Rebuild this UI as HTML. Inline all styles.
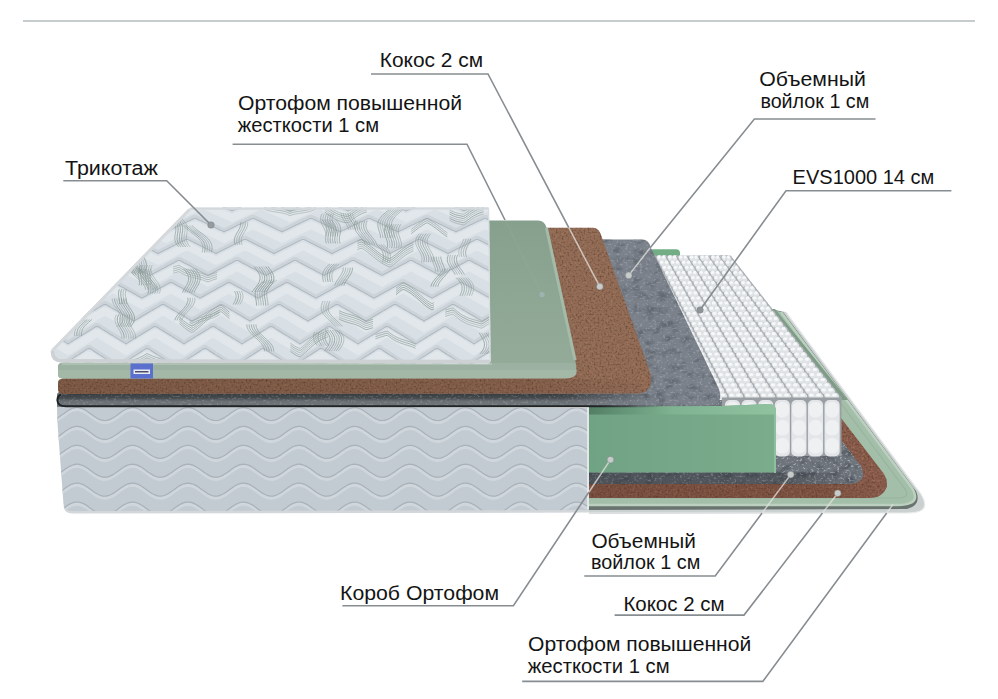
<!DOCTYPE html>
<html><head><meta charset="utf-8"><title>Mattress layers</title>
<style>html,body{margin:0;padding:0;background:#fff;overflow:hidden;} svg{display:block;}</style>
</head><body>
<svg width="998" height="699" viewBox="0 0 998 699"><defs>
<linearGradient id="feltstrip" gradientUnits="userSpaceOnUse" x1="560" y1="0" x2="660" y2="0">
  <stop offset="0" stop-color="#50565a"/><stop offset="1" stop-color="#50565a" stop-opacity="0"/>
</linearGradient>
<linearGradient id="feltstripv" gradientUnits="userSpaceOnUse" x1="0" y1="393.5" x2="0" y2="407">
  <stop offset="0" stop-color="#2e3336" stop-opacity="0.8"/><stop offset="0.35" stop-color="#3a3f42" stop-opacity="0.5"/><stop offset="0.6" stop-color="#9aa0a4" stop-opacity="0.35"/><stop offset="0.9" stop-color="#9aa0a4" stop-opacity="0.4"/>
</linearGradient>
<linearGradient id="cocofront" gradientUnits="userSpaceOnUse" x1="0" y1="0" x2="660" y2="0">
  <stop offset="0" stop-color="#2a1408" stop-opacity="0.22"/><stop offset="0.8" stop-color="#2a1408" stop-opacity="0.15"/><stop offset="1" stop-color="#2a1408" stop-opacity="0"/>
</linearGradient>
<linearGradient id="frontshade" gradientUnits="userSpaceOnUse" x1="589" y1="0" x2="860" y2="0">
  <stop offset="0" stop-color="#22282b" stop-opacity="0.45"/><stop offset="0.75" stop-color="#22282b" stop-opacity="0.35"/><stop offset="1" stop-color="#22282b" stop-opacity="0"/>
</linearGradient>
<linearGradient id="frontshade2" gradientUnits="userSpaceOnUse" x1="589" y1="0" x2="885" y2="0">
  <stop offset="0" stop-color="#2a1408" stop-opacity="0.18"/><stop offset="0.8" stop-color="#2a1408" stop-opacity="0.12"/><stop offset="1" stop-color="#2a1408" stop-opacity="0"/>
</linearGradient>
<linearGradient id="fsgrad" gradientUnits="userSpaceOnUse" x1="560" y1="0" x2="665" y2="0">
  <stop offset="0" stop-color="#fff"/><stop offset="1" stop-color="#000"/>
</linearGradient>
<mask id="fsmask" maskUnits="userSpaceOnUse" x="0" y="380" width="998" height="40"><rect x="0" y="380" width="998" height="40" fill="url(#fsgrad)"/></mask>
<linearGradient id="feltline" gradientUnits="userSpaceOnUse" x1="600" y1="0" x2="660" y2="0">
  <stop offset="0" stop-color="#1f2425"/><stop offset="1" stop-color="#1f2425" stop-opacity="0"/>
</linearGradient>
<linearGradient id="grsheet" gradientUnits="userSpaceOnUse" x1="0" y1="220" x2="0" y2="370">
  <stop offset="0" stop-color="#87a08e"/><stop offset="1" stop-color="#94ab99"/>
</linearGradient>
<linearGradient id="gfoam" gradientUnits="userSpaceOnUse" x1="589" y1="0" x2="776" y2="0">
  <stop offset="0" stop-color="#70a284"/><stop offset="1" stop-color="#7bad8c"/>
</linearGradient>
<linearGradient id="gfoamtop" gradientUnits="userSpaceOnUse" x1="589" y1="0" x2="776" y2="0">
  <stop offset="0" stop-color="#537f65"/><stop offset="0.45" stop-color="#7fb391"/><stop offset="1" stop-color="#90c29f"/>
</linearGradient>
<filter id="nz_coco" x="0" y="0" width="100%" height="100%" color-interpolation-filters="sRGB">
  <feTurbulence type="fractalNoise" baseFrequency="0.5" numOctaves="2" seed="3" result="n"/>
  <feColorMatrix in="n" type="matrix" values="0 0 0 0 0.34  0 0 0 0 0.22  0 0 0 0 0.15  0 0 0 -1.8 0.92" result="c"/>
  <feComposite in="c" in2="SourceAlpha" operator="in"/>
</filter>
<filter id="nz_cocol" x="0" y="0" width="100%" height="100%" color-interpolation-filters="sRGB">
  <feTurbulence type="fractalNoise" baseFrequency="0.45" numOctaves="2" seed="9" result="n"/>
  <feColorMatrix in="n" type="matrix" values="0 0 0 0 0.72  0 0 0 0 0.52  0 0 0 0 0.4  0 0 0 2.2 -1.05" result="c"/>
  <feComposite in="c" in2="SourceAlpha" operator="in"/>
</filter>
<filter id="nz_felt" x="0" y="0" width="100%" height="100%" color-interpolation-filters="sRGB">
  <feTurbulence type="fractalNoise" baseFrequency="0.09 0.14" numOctaves="3" seed="7" result="n"/>
  <feColorMatrix in="n" type="matrix" values="0 0 0 0 0.3  0 0 0 0 0.32  0 0 0 0 0.36  0 0 0 -2.6 1.35" result="c"/>
  <feComposite in="c" in2="SourceAlpha" operator="in"/>
</filter>
<filter id="nz_felt2" x="0" y="0" width="100%" height="100%" color-interpolation-filters="sRGB">
  <feTurbulence type="fractalNoise" baseFrequency="0.35 0.5" numOctaves="2" seed="11" result="n"/>
  <feColorMatrix in="n" type="matrix" values="0 0 0 0 0.8  0 0 0 0 0.82  0 0 0 0 0.86  0 0 0 4 -2.15" result="c"/>
  <feComposite in="c" in2="SourceAlpha" operator="in"/>
</filter>
<clipPath id="clipbox"><path d="M57,407 L589,408 L589,512 L72,513 Q64,513 63.5,504 L58,430 Q57,420 57,407 Z"/></clipPath><clipPath id="cliptop"><path d="M188,209.5 Q189.5,207.6 193,207.6 L489,207.4 L490.5,361 Q490.5,363.5 487,363.5 L62,362.5 Q49,361.5 51,350 Z"/></clipPath></defs><line x1="23" y1="21" x2="975" y2="21" stroke="#c6cbcd" stroke-width="2"/>
<path d="M589,514 L589,400 L722,400 L770,309 L786,312 L921,494 Q928,506 922,510 Q918,513 906,513 Z" fill="#cbd0d1"/>
<path d="M786,312 L921,494 Q928,506 922,510 Q918,513 906,513 L589,513" fill="none" stroke="#e9ecec" stroke-width="1.2"/>
<path d="M589,510 L589,400 L722,400 L770,309 L783,312 L916,491 Q922,505 907,509 L589,510 Z" fill="#69736f"/>
<path d="M589,505 L589,400 L722,400 L770,309 L781,312 L912,488 Q919,500 910,503 Q906,505 898,505 Z" fill="#a3bfa9"/>
<path d="M781,312 L912,488 Q919,500 910,503 Q906,505 898,505 L589,505" fill="none" stroke="#bcd0c0" stroke-width="2.5"/>
<path d="M777,318 L905,489 Q910,497 900,498 L589,498" fill="none" stroke="#94ae9a" stroke-width="1.2" opacity="0.7"/>
<path d="M768,309 L842,400 L848,400 L775,309 Z" fill="#7d9b85"/>
<path d="M589,497.9 L589,400 L822,400 L839.7,416.3 L884,474 Q891,486 882,494 Q878,497.9 868,497.9 Z" fill="#86594a"/>
<path d="M589,497.9 L589,400 L822,400 L839.7,416.3 L884,474 Q891,486 882,494 Q878,497.9 868,497.9 Z" fill="#000" filter="url(#nz_coco)"/>
<path d="M589,497.9 L589,400 L822,400 L839.7,416.3 L884,474 Q891,486 882,494 Q878,497.9 868,497.9 Z" fill="#000" filter="url(#nz_cocol)" opacity="0.6"/>
<rect x="589" y="484" width="290" height="14" fill="url(#frontshade2)"/>
<path d="M589,484 L589,400 L830,400 L838.9,436.9 L861,466 Q866,476 860,481 Q856,484 848,484 Z" fill="#6e747b"/>
<path d="M589,484 L589,400 L830,400 L838.9,436.9 L861,466 Q866,476 860,481 Q856,484 848,484 Z" fill="#000" filter="url(#nz_felt)" opacity="0.8"/>
<path d="M589,484 L589,400 L830,400 L838.9,436.9 L861,466 Q866,476 860,481 Q856,484 848,484 Z" fill="#000" filter="url(#nz_felt2)" opacity="0.6"/>
<rect x="589" y="472.5" width="270" height="11.5" fill="url(#frontshade)"/>
<path d="M651,249.2 L676,249.2 Q680,249.2 680,253 L680,256 L651,256 Z" fill="#73ad86"/>
<path d="M640,256 L730,255 L841.5,399 L715,398 Z" fill="#b3b8bd"/>
<ellipse cx="649.1" cy="259.0" rx="2.7" ry="3.2" fill="#9ba1a6" opacity="0.55"/>
<ellipse cx="648.5" cy="258.1" rx="2.7" ry="3.2" fill="#e1e4e7"/>
<ellipse cx="648.1" cy="257.1" rx="1.6" ry="1.6" fill="#f7f8f9"/>
<ellipse cx="653.9" cy="259.0" rx="2.7" ry="3.2" fill="#9ba1a6" opacity="0.55"/>
<ellipse cx="653.3" cy="258.1" rx="2.7" ry="3.2" fill="#e1e4e7"/>
<ellipse cx="652.9" cy="257.1" rx="1.6" ry="1.6" fill="#f7f8f9"/>
<ellipse cx="659.9" cy="259.0" rx="2.7" ry="3.2" fill="#9ba1a6" opacity="0.55"/>
<ellipse cx="659.3" cy="258.1" rx="2.7" ry="3.2" fill="#e1e4e7"/>
<ellipse cx="658.9" cy="257.1" rx="1.6" ry="1.6" fill="#f7f8f9"/>
<ellipse cx="664.7" cy="259.0" rx="2.7" ry="3.2" fill="#9ba1a6" opacity="0.55"/>
<ellipse cx="664.1" cy="258.1" rx="2.7" ry="3.2" fill="#e1e4e7"/>
<ellipse cx="663.7" cy="257.1" rx="1.6" ry="1.6" fill="#f7f8f9"/>
<ellipse cx="670.8" cy="259.0" rx="2.7" ry="3.2" fill="#9ba1a6" opacity="0.55"/>
<ellipse cx="670.2" cy="258.1" rx="2.7" ry="3.2" fill="#e1e4e7"/>
<ellipse cx="669.8" cy="257.1" rx="1.6" ry="1.6" fill="#f7f8f9"/>
<ellipse cx="675.5" cy="259.0" rx="2.7" ry="3.2" fill="#9ba1a6" opacity="0.55"/>
<ellipse cx="674.9" cy="258.1" rx="2.7" ry="3.2" fill="#e1e4e7"/>
<ellipse cx="674.5" cy="257.1" rx="1.6" ry="1.6" fill="#f7f8f9"/>
<ellipse cx="681.6" cy="259.0" rx="2.7" ry="3.2" fill="#9ba1a6" opacity="0.55"/>
<ellipse cx="681.0" cy="258.1" rx="2.7" ry="3.2" fill="#e1e4e7"/>
<ellipse cx="680.6" cy="257.1" rx="1.6" ry="1.6" fill="#f7f8f9"/>
<ellipse cx="686.3" cy="259.0" rx="2.7" ry="3.2" fill="#9ba1a6" opacity="0.55"/>
<ellipse cx="685.7" cy="258.1" rx="2.7" ry="3.2" fill="#e1e4e7"/>
<ellipse cx="685.3" cy="257.1" rx="1.6" ry="1.6" fill="#f7f8f9"/>
<ellipse cx="692.4" cy="259.0" rx="2.7" ry="3.2" fill="#9ba1a6" opacity="0.55"/>
<ellipse cx="691.8" cy="258.1" rx="2.7" ry="3.2" fill="#e1e4e7"/>
<ellipse cx="691.4" cy="257.1" rx="1.6" ry="1.6" fill="#f7f8f9"/>
<ellipse cx="697.1" cy="259.0" rx="2.7" ry="3.2" fill="#9ba1a6" opacity="0.55"/>
<ellipse cx="696.5" cy="258.1" rx="2.7" ry="3.2" fill="#e1e4e7"/>
<ellipse cx="696.1" cy="257.1" rx="1.6" ry="1.6" fill="#f7f8f9"/>
<ellipse cx="703.2" cy="259.0" rx="2.7" ry="3.2" fill="#9ba1a6" opacity="0.55"/>
<ellipse cx="702.6" cy="258.1" rx="2.7" ry="3.2" fill="#e1e4e7"/>
<ellipse cx="702.2" cy="257.1" rx="1.6" ry="1.6" fill="#f7f8f9"/>
<ellipse cx="707.9" cy="259.0" rx="2.7" ry="3.2" fill="#9ba1a6" opacity="0.55"/>
<ellipse cx="707.3" cy="258.1" rx="2.7" ry="3.2" fill="#e1e4e7"/>
<ellipse cx="706.9" cy="257.1" rx="1.6" ry="1.6" fill="#f7f8f9"/>
<ellipse cx="714.0" cy="259.0" rx="2.7" ry="3.2" fill="#9ba1a6" opacity="0.55"/>
<ellipse cx="713.4" cy="258.1" rx="2.7" ry="3.2" fill="#e1e4e7"/>
<ellipse cx="713.0" cy="257.1" rx="1.6" ry="1.6" fill="#f7f8f9"/>
<ellipse cx="718.8" cy="259.0" rx="2.7" ry="3.2" fill="#9ba1a6" opacity="0.55"/>
<ellipse cx="718.2" cy="258.1" rx="2.7" ry="3.2" fill="#e1e4e7"/>
<ellipse cx="717.7" cy="257.1" rx="1.6" ry="1.6" fill="#f7f8f9"/>
<ellipse cx="724.8" cy="259.0" rx="2.7" ry="3.2" fill="#9ba1a6" opacity="0.55"/>
<ellipse cx="724.2" cy="258.1" rx="2.7" ry="3.2" fill="#e1e4e7"/>
<ellipse cx="723.8" cy="257.1" rx="1.6" ry="1.6" fill="#f7f8f9"/>
<ellipse cx="729.6" cy="259.0" rx="2.7" ry="3.2" fill="#9ba1a6" opacity="0.55"/>
<ellipse cx="729.0" cy="258.1" rx="2.7" ry="3.2" fill="#e1e4e7"/>
<ellipse cx="728.6" cy="257.1" rx="1.6" ry="1.6" fill="#f7f8f9"/>
<ellipse cx="651.6" cy="264.1" rx="2.8" ry="3.2" fill="#9ba1a6" opacity="0.55"/>
<ellipse cx="651.0" cy="263.2" rx="2.8" ry="3.2" fill="#e1e4e7"/>
<ellipse cx="650.6" cy="262.2" rx="1.7" ry="1.6" fill="#f7f8f9"/>
<ellipse cx="656.5" cy="264.1" rx="2.8" ry="3.2" fill="#9ba1a6" opacity="0.55"/>
<ellipse cx="655.9" cy="263.2" rx="2.8" ry="3.2" fill="#e1e4e7"/>
<ellipse cx="655.5" cy="262.2" rx="1.7" ry="1.6" fill="#f7f8f9"/>
<ellipse cx="662.6" cy="264.1" rx="2.8" ry="3.2" fill="#9ba1a6" opacity="0.55"/>
<ellipse cx="662.0" cy="263.2" rx="2.8" ry="3.2" fill="#e1e4e7"/>
<ellipse cx="661.6" cy="262.2" rx="1.7" ry="1.6" fill="#f7f8f9"/>
<ellipse cx="667.5" cy="264.1" rx="2.8" ry="3.2" fill="#9ba1a6" opacity="0.55"/>
<ellipse cx="666.9" cy="263.2" rx="2.8" ry="3.2" fill="#e1e4e7"/>
<ellipse cx="666.5" cy="262.2" rx="1.7" ry="1.6" fill="#f7f8f9"/>
<ellipse cx="673.6" cy="264.1" rx="2.8" ry="3.2" fill="#9ba1a6" opacity="0.55"/>
<ellipse cx="673.0" cy="263.2" rx="2.8" ry="3.2" fill="#e1e4e7"/>
<ellipse cx="672.6" cy="262.2" rx="1.7" ry="1.6" fill="#f7f8f9"/>
<ellipse cx="678.5" cy="264.1" rx="2.8" ry="3.2" fill="#9ba1a6" opacity="0.55"/>
<ellipse cx="677.9" cy="263.2" rx="2.8" ry="3.2" fill="#e1e4e7"/>
<ellipse cx="677.5" cy="262.2" rx="1.7" ry="1.6" fill="#f7f8f9"/>
<ellipse cx="684.6" cy="264.1" rx="2.8" ry="3.2" fill="#9ba1a6" opacity="0.55"/>
<ellipse cx="684.0" cy="263.2" rx="2.8" ry="3.2" fill="#e1e4e7"/>
<ellipse cx="683.6" cy="262.2" rx="1.7" ry="1.6" fill="#f7f8f9"/>
<ellipse cx="689.5" cy="264.1" rx="2.8" ry="3.2" fill="#9ba1a6" opacity="0.55"/>
<ellipse cx="688.9" cy="263.2" rx="2.8" ry="3.2" fill="#e1e4e7"/>
<ellipse cx="688.5" cy="262.2" rx="1.7" ry="1.6" fill="#f7f8f9"/>
<ellipse cx="695.6" cy="264.1" rx="2.8" ry="3.2" fill="#9ba1a6" opacity="0.55"/>
<ellipse cx="695.0" cy="263.2" rx="2.8" ry="3.2" fill="#e1e4e7"/>
<ellipse cx="694.6" cy="262.2" rx="1.7" ry="1.6" fill="#f7f8f9"/>
<ellipse cx="700.5" cy="264.1" rx="2.8" ry="3.2" fill="#9ba1a6" opacity="0.55"/>
<ellipse cx="699.9" cy="263.2" rx="2.8" ry="3.2" fill="#e1e4e7"/>
<ellipse cx="699.5" cy="262.2" rx="1.7" ry="1.6" fill="#f7f8f9"/>
<ellipse cx="706.6" cy="264.1" rx="2.8" ry="3.2" fill="#9ba1a6" opacity="0.55"/>
<ellipse cx="706.0" cy="263.2" rx="2.8" ry="3.2" fill="#e1e4e7"/>
<ellipse cx="705.6" cy="262.2" rx="1.7" ry="1.6" fill="#f7f8f9"/>
<ellipse cx="711.5" cy="264.1" rx="2.8" ry="3.2" fill="#9ba1a6" opacity="0.55"/>
<ellipse cx="710.9" cy="263.2" rx="2.8" ry="3.2" fill="#e1e4e7"/>
<ellipse cx="710.5" cy="262.2" rx="1.7" ry="1.6" fill="#f7f8f9"/>
<ellipse cx="717.7" cy="264.1" rx="2.8" ry="3.2" fill="#9ba1a6" opacity="0.55"/>
<ellipse cx="717.1" cy="263.2" rx="2.8" ry="3.2" fill="#e1e4e7"/>
<ellipse cx="716.6" cy="262.2" rx="1.7" ry="1.6" fill="#f7f8f9"/>
<ellipse cx="722.5" cy="264.1" rx="2.8" ry="3.2" fill="#9ba1a6" opacity="0.55"/>
<ellipse cx="721.9" cy="263.2" rx="2.8" ry="3.2" fill="#e1e4e7"/>
<ellipse cx="721.5" cy="262.2" rx="1.7" ry="1.6" fill="#f7f8f9"/>
<ellipse cx="728.7" cy="264.1" rx="2.8" ry="3.2" fill="#9ba1a6" opacity="0.55"/>
<ellipse cx="728.1" cy="263.2" rx="2.8" ry="3.2" fill="#e1e4e7"/>
<ellipse cx="727.6" cy="262.2" rx="1.7" ry="1.6" fill="#f7f8f9"/>
<ellipse cx="733.5" cy="264.1" rx="2.8" ry="3.2" fill="#9ba1a6" opacity="0.55"/>
<ellipse cx="732.9" cy="263.2" rx="2.8" ry="3.2" fill="#e1e4e7"/>
<ellipse cx="732.5" cy="262.2" rx="1.7" ry="1.6" fill="#f7f8f9"/>
<ellipse cx="654.1" cy="269.2" rx="2.8" ry="3.2" fill="#9ba1a6" opacity="0.55"/>
<ellipse cx="653.5" cy="268.3" rx="2.8" ry="3.2" fill="#e1e4e7"/>
<ellipse cx="653.1" cy="267.3" rx="1.7" ry="1.6" fill="#f7f8f9"/>
<ellipse cx="659.1" cy="269.2" rx="2.8" ry="3.2" fill="#9ba1a6" opacity="0.55"/>
<ellipse cx="658.5" cy="268.3" rx="2.8" ry="3.2" fill="#e1e4e7"/>
<ellipse cx="658.1" cy="267.3" rx="1.7" ry="1.6" fill="#f7f8f9"/>
<ellipse cx="665.3" cy="269.2" rx="2.8" ry="3.2" fill="#9ba1a6" opacity="0.55"/>
<ellipse cx="664.7" cy="268.3" rx="2.8" ry="3.2" fill="#e1e4e7"/>
<ellipse cx="664.3" cy="267.3" rx="1.7" ry="1.6" fill="#f7f8f9"/>
<ellipse cx="670.3" cy="269.2" rx="2.8" ry="3.2" fill="#9ba1a6" opacity="0.55"/>
<ellipse cx="669.7" cy="268.3" rx="2.8" ry="3.2" fill="#e1e4e7"/>
<ellipse cx="669.2" cy="267.3" rx="1.7" ry="1.6" fill="#f7f8f9"/>
<ellipse cx="676.5" cy="269.2" rx="2.8" ry="3.2" fill="#9ba1a6" opacity="0.55"/>
<ellipse cx="675.9" cy="268.3" rx="2.8" ry="3.2" fill="#e1e4e7"/>
<ellipse cx="675.5" cy="267.3" rx="1.7" ry="1.6" fill="#f7f8f9"/>
<ellipse cx="681.5" cy="269.2" rx="2.8" ry="3.2" fill="#9ba1a6" opacity="0.55"/>
<ellipse cx="680.9" cy="268.3" rx="2.8" ry="3.2" fill="#e1e4e7"/>
<ellipse cx="680.4" cy="267.3" rx="1.7" ry="1.6" fill="#f7f8f9"/>
<ellipse cx="687.7" cy="269.2" rx="2.8" ry="3.2" fill="#9ba1a6" opacity="0.55"/>
<ellipse cx="687.1" cy="268.3" rx="2.8" ry="3.2" fill="#e1e4e7"/>
<ellipse cx="686.7" cy="267.3" rx="1.7" ry="1.6" fill="#f7f8f9"/>
<ellipse cx="692.7" cy="269.2" rx="2.8" ry="3.2" fill="#9ba1a6" opacity="0.55"/>
<ellipse cx="692.1" cy="268.3" rx="2.8" ry="3.2" fill="#e1e4e7"/>
<ellipse cx="691.6" cy="267.3" rx="1.7" ry="1.6" fill="#f7f8f9"/>
<ellipse cx="698.9" cy="269.2" rx="2.8" ry="3.2" fill="#9ba1a6" opacity="0.55"/>
<ellipse cx="698.3" cy="268.3" rx="2.8" ry="3.2" fill="#e1e4e7"/>
<ellipse cx="697.9" cy="267.3" rx="1.7" ry="1.6" fill="#f7f8f9"/>
<ellipse cx="703.8" cy="269.2" rx="2.8" ry="3.2" fill="#9ba1a6" opacity="0.55"/>
<ellipse cx="703.2" cy="268.3" rx="2.8" ry="3.2" fill="#e1e4e7"/>
<ellipse cx="702.8" cy="267.3" rx="1.7" ry="1.6" fill="#f7f8f9"/>
<ellipse cx="710.1" cy="269.2" rx="2.8" ry="3.2" fill="#9ba1a6" opacity="0.55"/>
<ellipse cx="709.5" cy="268.3" rx="2.8" ry="3.2" fill="#e1e4e7"/>
<ellipse cx="709.1" cy="267.3" rx="1.7" ry="1.6" fill="#f7f8f9"/>
<ellipse cx="715.0" cy="269.2" rx="2.8" ry="3.2" fill="#9ba1a6" opacity="0.55"/>
<ellipse cx="714.4" cy="268.3" rx="2.8" ry="3.2" fill="#e1e4e7"/>
<ellipse cx="714.0" cy="267.3" rx="1.7" ry="1.6" fill="#f7f8f9"/>
<ellipse cx="721.3" cy="269.2" rx="2.8" ry="3.2" fill="#9ba1a6" opacity="0.55"/>
<ellipse cx="720.7" cy="268.3" rx="2.8" ry="3.2" fill="#e1e4e7"/>
<ellipse cx="720.3" cy="267.3" rx="1.7" ry="1.6" fill="#f7f8f9"/>
<ellipse cx="726.2" cy="269.2" rx="2.8" ry="3.2" fill="#9ba1a6" opacity="0.55"/>
<ellipse cx="725.6" cy="268.3" rx="2.8" ry="3.2" fill="#e1e4e7"/>
<ellipse cx="725.2" cy="267.3" rx="1.7" ry="1.6" fill="#f7f8f9"/>
<ellipse cx="732.5" cy="269.2" rx="2.8" ry="3.2" fill="#9ba1a6" opacity="0.55"/>
<ellipse cx="731.9" cy="268.3" rx="2.8" ry="3.2" fill="#e1e4e7"/>
<ellipse cx="731.5" cy="267.3" rx="1.7" ry="1.6" fill="#f7f8f9"/>
<ellipse cx="737.4" cy="269.2" rx="2.8" ry="3.2" fill="#9ba1a6" opacity="0.55"/>
<ellipse cx="736.8" cy="268.3" rx="2.8" ry="3.2" fill="#e1e4e7"/>
<ellipse cx="736.4" cy="267.3" rx="1.7" ry="1.6" fill="#f7f8f9"/>
<ellipse cx="656.7" cy="274.3" rx="2.8" ry="3.2" fill="#9ba1a6" opacity="0.55"/>
<ellipse cx="656.1" cy="273.4" rx="2.8" ry="3.2" fill="#e1e4e7"/>
<ellipse cx="655.6" cy="272.4" rx="1.7" ry="1.6" fill="#f7f8f9"/>
<ellipse cx="661.7" cy="274.3" rx="2.8" ry="3.2" fill="#9ba1a6" opacity="0.55"/>
<ellipse cx="661.1" cy="273.4" rx="2.8" ry="3.2" fill="#e1e4e7"/>
<ellipse cx="660.6" cy="272.4" rx="1.7" ry="1.6" fill="#f7f8f9"/>
<ellipse cx="668.0" cy="274.3" rx="2.8" ry="3.2" fill="#9ba1a6" opacity="0.55"/>
<ellipse cx="667.4" cy="273.4" rx="2.8" ry="3.2" fill="#e1e4e7"/>
<ellipse cx="667.0" cy="272.4" rx="1.7" ry="1.6" fill="#f7f8f9"/>
<ellipse cx="673.0" cy="274.3" rx="2.8" ry="3.2" fill="#9ba1a6" opacity="0.55"/>
<ellipse cx="672.4" cy="273.4" rx="2.8" ry="3.2" fill="#e1e4e7"/>
<ellipse cx="672.0" cy="272.4" rx="1.7" ry="1.6" fill="#f7f8f9"/>
<ellipse cx="679.4" cy="274.3" rx="2.8" ry="3.2" fill="#9ba1a6" opacity="0.55"/>
<ellipse cx="678.8" cy="273.4" rx="2.8" ry="3.2" fill="#e1e4e7"/>
<ellipse cx="678.4" cy="272.4" rx="1.7" ry="1.6" fill="#f7f8f9"/>
<ellipse cx="684.4" cy="274.3" rx="2.8" ry="3.2" fill="#9ba1a6" opacity="0.55"/>
<ellipse cx="683.8" cy="273.4" rx="2.8" ry="3.2" fill="#e1e4e7"/>
<ellipse cx="683.4" cy="272.4" rx="1.7" ry="1.6" fill="#f7f8f9"/>
<ellipse cx="690.8" cy="274.3" rx="2.8" ry="3.2" fill="#9ba1a6" opacity="0.55"/>
<ellipse cx="690.2" cy="273.4" rx="2.8" ry="3.2" fill="#e1e4e7"/>
<ellipse cx="689.8" cy="272.4" rx="1.7" ry="1.6" fill="#f7f8f9"/>
<ellipse cx="695.8" cy="274.3" rx="2.8" ry="3.2" fill="#9ba1a6" opacity="0.55"/>
<ellipse cx="695.2" cy="273.4" rx="2.8" ry="3.2" fill="#e1e4e7"/>
<ellipse cx="694.8" cy="272.4" rx="1.7" ry="1.6" fill="#f7f8f9"/>
<ellipse cx="702.2" cy="274.3" rx="2.8" ry="3.2" fill="#9ba1a6" opacity="0.55"/>
<ellipse cx="701.6" cy="273.4" rx="2.8" ry="3.2" fill="#e1e4e7"/>
<ellipse cx="701.2" cy="272.4" rx="1.7" ry="1.6" fill="#f7f8f9"/>
<ellipse cx="707.2" cy="274.3" rx="2.8" ry="3.2" fill="#9ba1a6" opacity="0.55"/>
<ellipse cx="706.6" cy="273.4" rx="2.8" ry="3.2" fill="#e1e4e7"/>
<ellipse cx="706.2" cy="272.4" rx="1.7" ry="1.6" fill="#f7f8f9"/>
<ellipse cx="713.6" cy="274.3" rx="2.8" ry="3.2" fill="#9ba1a6" opacity="0.55"/>
<ellipse cx="713.0" cy="273.4" rx="2.8" ry="3.2" fill="#e1e4e7"/>
<ellipse cx="712.5" cy="272.4" rx="1.7" ry="1.6" fill="#f7f8f9"/>
<ellipse cx="718.6" cy="274.3" rx="2.8" ry="3.2" fill="#9ba1a6" opacity="0.55"/>
<ellipse cx="718.0" cy="273.4" rx="2.8" ry="3.2" fill="#e1e4e7"/>
<ellipse cx="717.6" cy="272.4" rx="1.7" ry="1.6" fill="#f7f8f9"/>
<ellipse cx="725.0" cy="274.3" rx="2.8" ry="3.2" fill="#9ba1a6" opacity="0.55"/>
<ellipse cx="724.4" cy="273.4" rx="2.8" ry="3.2" fill="#e1e4e7"/>
<ellipse cx="723.9" cy="272.4" rx="1.7" ry="1.6" fill="#f7f8f9"/>
<ellipse cx="730.0" cy="274.3" rx="2.8" ry="3.2" fill="#9ba1a6" opacity="0.55"/>
<ellipse cx="729.4" cy="273.4" rx="2.8" ry="3.2" fill="#e1e4e7"/>
<ellipse cx="728.9" cy="272.4" rx="1.7" ry="1.6" fill="#f7f8f9"/>
<ellipse cx="736.3" cy="274.3" rx="2.8" ry="3.2" fill="#9ba1a6" opacity="0.55"/>
<ellipse cx="735.7" cy="273.4" rx="2.8" ry="3.2" fill="#e1e4e7"/>
<ellipse cx="735.3" cy="272.4" rx="1.7" ry="1.6" fill="#f7f8f9"/>
<ellipse cx="741.4" cy="274.3" rx="2.8" ry="3.2" fill="#9ba1a6" opacity="0.55"/>
<ellipse cx="740.8" cy="273.4" rx="2.8" ry="3.2" fill="#e1e4e7"/>
<ellipse cx="740.3" cy="272.4" rx="1.7" ry="1.6" fill="#f7f8f9"/>
<ellipse cx="659.2" cy="279.4" rx="2.9" ry="3.2" fill="#9ba1a6" opacity="0.55"/>
<ellipse cx="658.6" cy="278.5" rx="2.9" ry="3.2" fill="#e1e4e7"/>
<ellipse cx="658.1" cy="277.5" rx="1.7" ry="1.6" fill="#f7f8f9"/>
<ellipse cx="664.3" cy="279.4" rx="2.9" ry="3.2" fill="#9ba1a6" opacity="0.55"/>
<ellipse cx="663.7" cy="278.5" rx="2.9" ry="3.2" fill="#e1e4e7"/>
<ellipse cx="663.2" cy="277.5" rx="1.7" ry="1.6" fill="#f7f8f9"/>
<ellipse cx="670.7" cy="279.4" rx="2.9" ry="3.2" fill="#9ba1a6" opacity="0.55"/>
<ellipse cx="670.1" cy="278.5" rx="2.9" ry="3.2" fill="#e1e4e7"/>
<ellipse cx="669.7" cy="277.5" rx="1.7" ry="1.6" fill="#f7f8f9"/>
<ellipse cx="675.8" cy="279.4" rx="2.9" ry="3.2" fill="#9ba1a6" opacity="0.55"/>
<ellipse cx="675.2" cy="278.5" rx="2.9" ry="3.2" fill="#e1e4e7"/>
<ellipse cx="674.8" cy="277.5" rx="1.7" ry="1.6" fill="#f7f8f9"/>
<ellipse cx="682.3" cy="279.4" rx="2.9" ry="3.2" fill="#9ba1a6" opacity="0.55"/>
<ellipse cx="681.7" cy="278.5" rx="2.9" ry="3.2" fill="#e1e4e7"/>
<ellipse cx="681.3" cy="277.5" rx="1.7" ry="1.6" fill="#f7f8f9"/>
<ellipse cx="687.4" cy="279.4" rx="2.9" ry="3.2" fill="#9ba1a6" opacity="0.55"/>
<ellipse cx="686.8" cy="278.5" rx="2.9" ry="3.2" fill="#e1e4e7"/>
<ellipse cx="686.4" cy="277.5" rx="1.7" ry="1.6" fill="#f7f8f9"/>
<ellipse cx="693.9" cy="279.4" rx="2.9" ry="3.2" fill="#9ba1a6" opacity="0.55"/>
<ellipse cx="693.3" cy="278.5" rx="2.9" ry="3.2" fill="#e1e4e7"/>
<ellipse cx="692.9" cy="277.5" rx="1.7" ry="1.6" fill="#f7f8f9"/>
<ellipse cx="699.0" cy="279.4" rx="2.9" ry="3.2" fill="#9ba1a6" opacity="0.55"/>
<ellipse cx="698.4" cy="278.5" rx="2.9" ry="3.2" fill="#e1e4e7"/>
<ellipse cx="697.9" cy="277.5" rx="1.7" ry="1.6" fill="#f7f8f9"/>
<ellipse cx="705.5" cy="279.4" rx="2.9" ry="3.2" fill="#9ba1a6" opacity="0.55"/>
<ellipse cx="704.9" cy="278.5" rx="2.9" ry="3.2" fill="#e1e4e7"/>
<ellipse cx="704.4" cy="277.5" rx="1.7" ry="1.6" fill="#f7f8f9"/>
<ellipse cx="710.6" cy="279.4" rx="2.9" ry="3.2" fill="#9ba1a6" opacity="0.55"/>
<ellipse cx="710.0" cy="278.5" rx="2.9" ry="3.2" fill="#e1e4e7"/>
<ellipse cx="709.5" cy="277.5" rx="1.7" ry="1.6" fill="#f7f8f9"/>
<ellipse cx="717.0" cy="279.4" rx="2.9" ry="3.2" fill="#9ba1a6" opacity="0.55"/>
<ellipse cx="716.4" cy="278.5" rx="2.9" ry="3.2" fill="#e1e4e7"/>
<ellipse cx="716.0" cy="277.5" rx="1.7" ry="1.6" fill="#f7f8f9"/>
<ellipse cx="722.1" cy="279.4" rx="2.9" ry="3.2" fill="#9ba1a6" opacity="0.55"/>
<ellipse cx="721.5" cy="278.5" rx="2.9" ry="3.2" fill="#e1e4e7"/>
<ellipse cx="721.1" cy="277.5" rx="1.7" ry="1.6" fill="#f7f8f9"/>
<ellipse cx="728.6" cy="279.4" rx="2.9" ry="3.2" fill="#9ba1a6" opacity="0.55"/>
<ellipse cx="728.0" cy="278.5" rx="2.9" ry="3.2" fill="#e1e4e7"/>
<ellipse cx="727.6" cy="277.5" rx="1.7" ry="1.6" fill="#f7f8f9"/>
<ellipse cx="733.7" cy="279.4" rx="2.9" ry="3.2" fill="#9ba1a6" opacity="0.55"/>
<ellipse cx="733.1" cy="278.5" rx="2.9" ry="3.2" fill="#e1e4e7"/>
<ellipse cx="732.7" cy="277.5" rx="1.7" ry="1.6" fill="#f7f8f9"/>
<ellipse cx="740.2" cy="279.4" rx="2.9" ry="3.2" fill="#9ba1a6" opacity="0.55"/>
<ellipse cx="739.6" cy="278.5" rx="2.9" ry="3.2" fill="#e1e4e7"/>
<ellipse cx="739.2" cy="277.5" rx="1.7" ry="1.6" fill="#f7f8f9"/>
<ellipse cx="745.3" cy="279.4" rx="2.9" ry="3.2" fill="#9ba1a6" opacity="0.55"/>
<ellipse cx="744.7" cy="278.5" rx="2.9" ry="3.2" fill="#e1e4e7"/>
<ellipse cx="744.2" cy="277.5" rx="1.7" ry="1.6" fill="#f7f8f9"/>
<ellipse cx="661.7" cy="284.5" rx="2.9" ry="3.2" fill="#9ba1a6" opacity="0.55"/>
<ellipse cx="661.1" cy="283.6" rx="2.9" ry="3.2" fill="#e1e4e7"/>
<ellipse cx="660.6" cy="282.6" rx="1.8" ry="1.6" fill="#f7f8f9"/>
<ellipse cx="666.8" cy="284.5" rx="2.9" ry="3.2" fill="#9ba1a6" opacity="0.55"/>
<ellipse cx="666.2" cy="283.6" rx="2.9" ry="3.2" fill="#e1e4e7"/>
<ellipse cx="665.8" cy="282.6" rx="1.8" ry="1.6" fill="#f7f8f9"/>
<ellipse cx="673.4" cy="284.5" rx="2.9" ry="3.2" fill="#9ba1a6" opacity="0.55"/>
<ellipse cx="672.8" cy="283.6" rx="2.9" ry="3.2" fill="#e1e4e7"/>
<ellipse cx="672.4" cy="282.6" rx="1.8" ry="1.6" fill="#f7f8f9"/>
<ellipse cx="678.6" cy="284.5" rx="2.9" ry="3.2" fill="#9ba1a6" opacity="0.55"/>
<ellipse cx="678.0" cy="283.6" rx="2.9" ry="3.2" fill="#e1e4e7"/>
<ellipse cx="677.6" cy="282.6" rx="1.8" ry="1.6" fill="#f7f8f9"/>
<ellipse cx="685.2" cy="284.5" rx="2.9" ry="3.2" fill="#9ba1a6" opacity="0.55"/>
<ellipse cx="684.6" cy="283.6" rx="2.9" ry="3.2" fill="#e1e4e7"/>
<ellipse cx="684.2" cy="282.6" rx="1.8" ry="1.6" fill="#f7f8f9"/>
<ellipse cx="690.4" cy="284.5" rx="2.9" ry="3.2" fill="#9ba1a6" opacity="0.55"/>
<ellipse cx="689.8" cy="283.6" rx="2.9" ry="3.2" fill="#e1e4e7"/>
<ellipse cx="689.3" cy="282.6" rx="1.8" ry="1.6" fill="#f7f8f9"/>
<ellipse cx="697.0" cy="284.5" rx="2.9" ry="3.2" fill="#9ba1a6" opacity="0.55"/>
<ellipse cx="696.4" cy="283.6" rx="2.9" ry="3.2" fill="#e1e4e7"/>
<ellipse cx="695.9" cy="282.6" rx="1.8" ry="1.6" fill="#f7f8f9"/>
<ellipse cx="702.1" cy="284.5" rx="2.9" ry="3.2" fill="#9ba1a6" opacity="0.55"/>
<ellipse cx="701.5" cy="283.6" rx="2.9" ry="3.2" fill="#e1e4e7"/>
<ellipse cx="701.1" cy="282.6" rx="1.8" ry="1.6" fill="#f7f8f9"/>
<ellipse cx="708.7" cy="284.5" rx="2.9" ry="3.2" fill="#9ba1a6" opacity="0.55"/>
<ellipse cx="708.1" cy="283.6" rx="2.9" ry="3.2" fill="#e1e4e7"/>
<ellipse cx="707.7" cy="282.6" rx="1.8" ry="1.6" fill="#f7f8f9"/>
<ellipse cx="713.9" cy="284.5" rx="2.9" ry="3.2" fill="#9ba1a6" opacity="0.55"/>
<ellipse cx="713.3" cy="283.6" rx="2.9" ry="3.2" fill="#e1e4e7"/>
<ellipse cx="712.9" cy="282.6" rx="1.8" ry="1.6" fill="#f7f8f9"/>
<ellipse cx="720.5" cy="284.5" rx="2.9" ry="3.2" fill="#9ba1a6" opacity="0.55"/>
<ellipse cx="719.9" cy="283.6" rx="2.9" ry="3.2" fill="#e1e4e7"/>
<ellipse cx="719.5" cy="282.6" rx="1.8" ry="1.6" fill="#f7f8f9"/>
<ellipse cx="725.7" cy="284.5" rx="2.9" ry="3.2" fill="#9ba1a6" opacity="0.55"/>
<ellipse cx="725.1" cy="283.6" rx="2.9" ry="3.2" fill="#e1e4e7"/>
<ellipse cx="724.6" cy="282.6" rx="1.8" ry="1.6" fill="#f7f8f9"/>
<ellipse cx="732.3" cy="284.5" rx="2.9" ry="3.2" fill="#9ba1a6" opacity="0.55"/>
<ellipse cx="731.7" cy="283.6" rx="2.9" ry="3.2" fill="#e1e4e7"/>
<ellipse cx="731.2" cy="282.6" rx="1.8" ry="1.6" fill="#f7f8f9"/>
<ellipse cx="737.4" cy="284.5" rx="2.9" ry="3.2" fill="#9ba1a6" opacity="0.55"/>
<ellipse cx="736.8" cy="283.6" rx="2.9" ry="3.2" fill="#e1e4e7"/>
<ellipse cx="736.4" cy="282.6" rx="1.8" ry="1.6" fill="#f7f8f9"/>
<ellipse cx="744.0" cy="284.5" rx="2.9" ry="3.2" fill="#9ba1a6" opacity="0.55"/>
<ellipse cx="743.4" cy="283.6" rx="2.9" ry="3.2" fill="#e1e4e7"/>
<ellipse cx="743.0" cy="282.6" rx="1.8" ry="1.6" fill="#f7f8f9"/>
<ellipse cx="749.2" cy="284.5" rx="2.9" ry="3.2" fill="#9ba1a6" opacity="0.55"/>
<ellipse cx="748.6" cy="283.6" rx="2.9" ry="3.2" fill="#e1e4e7"/>
<ellipse cx="748.2" cy="282.6" rx="1.8" ry="1.6" fill="#f7f8f9"/>
<ellipse cx="664.2" cy="289.6" rx="3.0" ry="3.2" fill="#9ba1a6" opacity="0.55"/>
<ellipse cx="663.6" cy="288.7" rx="3.0" ry="3.2" fill="#e1e4e7"/>
<ellipse cx="663.1" cy="287.7" rx="1.8" ry="1.6" fill="#f7f8f9"/>
<ellipse cx="669.4" cy="289.6" rx="3.0" ry="3.2" fill="#9ba1a6" opacity="0.55"/>
<ellipse cx="668.8" cy="288.7" rx="3.0" ry="3.2" fill="#e1e4e7"/>
<ellipse cx="668.4" cy="287.7" rx="1.8" ry="1.6" fill="#f7f8f9"/>
<ellipse cx="676.1" cy="289.6" rx="3.0" ry="3.2" fill="#9ba1a6" opacity="0.55"/>
<ellipse cx="675.5" cy="288.7" rx="3.0" ry="3.2" fill="#e1e4e7"/>
<ellipse cx="675.1" cy="287.7" rx="1.8" ry="1.6" fill="#f7f8f9"/>
<ellipse cx="681.4" cy="289.6" rx="3.0" ry="3.2" fill="#9ba1a6" opacity="0.55"/>
<ellipse cx="680.8" cy="288.7" rx="3.0" ry="3.2" fill="#e1e4e7"/>
<ellipse cx="680.3" cy="287.7" rx="1.8" ry="1.6" fill="#f7f8f9"/>
<ellipse cx="688.1" cy="289.6" rx="3.0" ry="3.2" fill="#9ba1a6" opacity="0.55"/>
<ellipse cx="687.5" cy="288.7" rx="3.0" ry="3.2" fill="#e1e4e7"/>
<ellipse cx="687.0" cy="287.7" rx="1.8" ry="1.6" fill="#f7f8f9"/>
<ellipse cx="693.3" cy="289.6" rx="3.0" ry="3.2" fill="#9ba1a6" opacity="0.55"/>
<ellipse cx="692.7" cy="288.7" rx="3.0" ry="3.2" fill="#e1e4e7"/>
<ellipse cx="692.3" cy="287.7" rx="1.8" ry="1.6" fill="#f7f8f9"/>
<ellipse cx="700.0" cy="289.6" rx="3.0" ry="3.2" fill="#9ba1a6" opacity="0.55"/>
<ellipse cx="699.4" cy="288.7" rx="3.0" ry="3.2" fill="#e1e4e7"/>
<ellipse cx="699.0" cy="287.7" rx="1.8" ry="1.6" fill="#f7f8f9"/>
<ellipse cx="705.3" cy="289.6" rx="3.0" ry="3.2" fill="#9ba1a6" opacity="0.55"/>
<ellipse cx="704.7" cy="288.7" rx="3.0" ry="3.2" fill="#e1e4e7"/>
<ellipse cx="704.3" cy="287.7" rx="1.8" ry="1.6" fill="#f7f8f9"/>
<ellipse cx="712.0" cy="289.6" rx="3.0" ry="3.2" fill="#9ba1a6" opacity="0.55"/>
<ellipse cx="711.4" cy="288.7" rx="3.0" ry="3.2" fill="#e1e4e7"/>
<ellipse cx="711.0" cy="287.7" rx="1.8" ry="1.6" fill="#f7f8f9"/>
<ellipse cx="717.3" cy="289.6" rx="3.0" ry="3.2" fill="#9ba1a6" opacity="0.55"/>
<ellipse cx="716.7" cy="288.7" rx="3.0" ry="3.2" fill="#e1e4e7"/>
<ellipse cx="716.2" cy="287.7" rx="1.8" ry="1.6" fill="#f7f8f9"/>
<ellipse cx="724.0" cy="289.6" rx="3.0" ry="3.2" fill="#9ba1a6" opacity="0.55"/>
<ellipse cx="723.4" cy="288.7" rx="3.0" ry="3.2" fill="#e1e4e7"/>
<ellipse cx="722.9" cy="287.7" rx="1.8" ry="1.6" fill="#f7f8f9"/>
<ellipse cx="729.2" cy="289.6" rx="3.0" ry="3.2" fill="#9ba1a6" opacity="0.55"/>
<ellipse cx="728.6" cy="288.7" rx="3.0" ry="3.2" fill="#e1e4e7"/>
<ellipse cx="728.2" cy="287.7" rx="1.8" ry="1.6" fill="#f7f8f9"/>
<ellipse cx="735.9" cy="289.6" rx="3.0" ry="3.2" fill="#9ba1a6" opacity="0.55"/>
<ellipse cx="735.3" cy="288.7" rx="3.0" ry="3.2" fill="#e1e4e7"/>
<ellipse cx="734.9" cy="287.7" rx="1.8" ry="1.6" fill="#f7f8f9"/>
<ellipse cx="741.2" cy="289.6" rx="3.0" ry="3.2" fill="#9ba1a6" opacity="0.55"/>
<ellipse cx="740.6" cy="288.7" rx="3.0" ry="3.2" fill="#e1e4e7"/>
<ellipse cx="740.1" cy="287.7" rx="1.8" ry="1.6" fill="#f7f8f9"/>
<ellipse cx="747.9" cy="289.6" rx="3.0" ry="3.2" fill="#9ba1a6" opacity="0.55"/>
<ellipse cx="747.3" cy="288.7" rx="3.0" ry="3.2" fill="#e1e4e7"/>
<ellipse cx="746.8" cy="287.7" rx="1.8" ry="1.6" fill="#f7f8f9"/>
<ellipse cx="753.1" cy="289.6" rx="3.0" ry="3.2" fill="#9ba1a6" opacity="0.55"/>
<ellipse cx="752.5" cy="288.7" rx="3.0" ry="3.2" fill="#e1e4e7"/>
<ellipse cx="752.1" cy="287.7" rx="1.8" ry="1.6" fill="#f7f8f9"/>
<ellipse cx="666.7" cy="294.7" rx="3.0" ry="3.2" fill="#9ba1a6" opacity="0.55"/>
<ellipse cx="666.1" cy="293.8" rx="3.0" ry="3.2" fill="#e1e4e7"/>
<ellipse cx="665.6" cy="292.9" rx="1.8" ry="1.6" fill="#f7f8f9"/>
<ellipse cx="672.0" cy="294.7" rx="3.0" ry="3.2" fill="#9ba1a6" opacity="0.55"/>
<ellipse cx="671.4" cy="293.8" rx="3.0" ry="3.2" fill="#e1e4e7"/>
<ellipse cx="671.0" cy="292.9" rx="1.8" ry="1.6" fill="#f7f8f9"/>
<ellipse cx="678.8" cy="294.7" rx="3.0" ry="3.2" fill="#9ba1a6" opacity="0.55"/>
<ellipse cx="678.2" cy="293.8" rx="3.0" ry="3.2" fill="#e1e4e7"/>
<ellipse cx="677.8" cy="292.9" rx="1.8" ry="1.6" fill="#f7f8f9"/>
<ellipse cx="684.2" cy="294.7" rx="3.0" ry="3.2" fill="#9ba1a6" opacity="0.55"/>
<ellipse cx="683.6" cy="293.8" rx="3.0" ry="3.2" fill="#e1e4e7"/>
<ellipse cx="683.1" cy="292.9" rx="1.8" ry="1.6" fill="#f7f8f9"/>
<ellipse cx="691.0" cy="294.7" rx="3.0" ry="3.2" fill="#9ba1a6" opacity="0.55"/>
<ellipse cx="690.4" cy="293.8" rx="3.0" ry="3.2" fill="#e1e4e7"/>
<ellipse cx="689.9" cy="292.9" rx="1.8" ry="1.6" fill="#f7f8f9"/>
<ellipse cx="696.3" cy="294.7" rx="3.0" ry="3.2" fill="#9ba1a6" opacity="0.55"/>
<ellipse cx="695.7" cy="293.8" rx="3.0" ry="3.2" fill="#e1e4e7"/>
<ellipse cx="695.3" cy="292.9" rx="1.8" ry="1.6" fill="#f7f8f9"/>
<ellipse cx="703.1" cy="294.7" rx="3.0" ry="3.2" fill="#9ba1a6" opacity="0.55"/>
<ellipse cx="702.5" cy="293.8" rx="3.0" ry="3.2" fill="#e1e4e7"/>
<ellipse cx="702.1" cy="292.9" rx="1.8" ry="1.6" fill="#f7f8f9"/>
<ellipse cx="708.5" cy="294.7" rx="3.0" ry="3.2" fill="#9ba1a6" opacity="0.55"/>
<ellipse cx="707.9" cy="293.8" rx="3.0" ry="3.2" fill="#e1e4e7"/>
<ellipse cx="707.4" cy="292.9" rx="1.8" ry="1.6" fill="#f7f8f9"/>
<ellipse cx="715.3" cy="294.7" rx="3.0" ry="3.2" fill="#9ba1a6" opacity="0.55"/>
<ellipse cx="714.7" cy="293.8" rx="3.0" ry="3.2" fill="#e1e4e7"/>
<ellipse cx="714.2" cy="292.9" rx="1.8" ry="1.6" fill="#f7f8f9"/>
<ellipse cx="720.6" cy="294.7" rx="3.0" ry="3.2" fill="#9ba1a6" opacity="0.55"/>
<ellipse cx="720.0" cy="293.8" rx="3.0" ry="3.2" fill="#e1e4e7"/>
<ellipse cx="719.6" cy="292.9" rx="1.8" ry="1.6" fill="#f7f8f9"/>
<ellipse cx="727.4" cy="294.7" rx="3.0" ry="3.2" fill="#9ba1a6" opacity="0.55"/>
<ellipse cx="726.8" cy="293.8" rx="3.0" ry="3.2" fill="#e1e4e7"/>
<ellipse cx="726.4" cy="292.9" rx="1.8" ry="1.6" fill="#f7f8f9"/>
<ellipse cx="732.8" cy="294.7" rx="3.0" ry="3.2" fill="#9ba1a6" opacity="0.55"/>
<ellipse cx="732.2" cy="293.8" rx="3.0" ry="3.2" fill="#e1e4e7"/>
<ellipse cx="731.7" cy="292.9" rx="1.8" ry="1.6" fill="#f7f8f9"/>
<ellipse cx="739.6" cy="294.7" rx="3.0" ry="3.2" fill="#9ba1a6" opacity="0.55"/>
<ellipse cx="739.0" cy="293.8" rx="3.0" ry="3.2" fill="#e1e4e7"/>
<ellipse cx="738.5" cy="292.9" rx="1.8" ry="1.6" fill="#f7f8f9"/>
<ellipse cx="744.9" cy="294.7" rx="3.0" ry="3.2" fill="#9ba1a6" opacity="0.55"/>
<ellipse cx="744.3" cy="293.8" rx="3.0" ry="3.2" fill="#e1e4e7"/>
<ellipse cx="743.9" cy="292.9" rx="1.8" ry="1.6" fill="#f7f8f9"/>
<ellipse cx="751.7" cy="294.7" rx="3.0" ry="3.2" fill="#9ba1a6" opacity="0.55"/>
<ellipse cx="751.1" cy="293.8" rx="3.0" ry="3.2" fill="#e1e4e7"/>
<ellipse cx="750.7" cy="292.9" rx="1.8" ry="1.6" fill="#f7f8f9"/>
<ellipse cx="757.1" cy="294.7" rx="3.0" ry="3.2" fill="#9ba1a6" opacity="0.55"/>
<ellipse cx="756.5" cy="293.8" rx="3.0" ry="3.2" fill="#e1e4e7"/>
<ellipse cx="756.0" cy="292.9" rx="1.8" ry="1.6" fill="#f7f8f9"/>
<ellipse cx="669.2" cy="299.8" rx="3.1" ry="3.2" fill="#9ba1a6" opacity="0.55"/>
<ellipse cx="668.6" cy="298.9" rx="3.1" ry="3.2" fill="#e1e4e7"/>
<ellipse cx="668.1" cy="298.0" rx="1.9" ry="1.6" fill="#f7f8f9"/>
<ellipse cx="674.6" cy="299.8" rx="3.1" ry="3.2" fill="#9ba1a6" opacity="0.55"/>
<ellipse cx="674.0" cy="298.9" rx="3.1" ry="3.2" fill="#e1e4e7"/>
<ellipse cx="673.5" cy="298.0" rx="1.9" ry="1.6" fill="#f7f8f9"/>
<ellipse cx="681.5" cy="299.8" rx="3.1" ry="3.2" fill="#9ba1a6" opacity="0.55"/>
<ellipse cx="680.9" cy="298.9" rx="3.1" ry="3.2" fill="#e1e4e7"/>
<ellipse cx="680.5" cy="298.0" rx="1.9" ry="1.6" fill="#f7f8f9"/>
<ellipse cx="686.9" cy="299.8" rx="3.1" ry="3.2" fill="#9ba1a6" opacity="0.55"/>
<ellipse cx="686.3" cy="298.9" rx="3.1" ry="3.2" fill="#e1e4e7"/>
<ellipse cx="685.9" cy="298.0" rx="1.9" ry="1.6" fill="#f7f8f9"/>
<ellipse cx="693.9" cy="299.8" rx="3.1" ry="3.2" fill="#9ba1a6" opacity="0.55"/>
<ellipse cx="693.3" cy="298.9" rx="3.1" ry="3.2" fill="#e1e4e7"/>
<ellipse cx="692.8" cy="298.0" rx="1.9" ry="1.6" fill="#f7f8f9"/>
<ellipse cx="699.3" cy="299.8" rx="3.1" ry="3.2" fill="#9ba1a6" opacity="0.55"/>
<ellipse cx="698.7" cy="298.9" rx="3.1" ry="3.2" fill="#e1e4e7"/>
<ellipse cx="698.2" cy="298.0" rx="1.9" ry="1.6" fill="#f7f8f9"/>
<ellipse cx="706.2" cy="299.8" rx="3.1" ry="3.2" fill="#9ba1a6" opacity="0.55"/>
<ellipse cx="705.6" cy="298.9" rx="3.1" ry="3.2" fill="#e1e4e7"/>
<ellipse cx="705.1" cy="298.0" rx="1.9" ry="1.6" fill="#f7f8f9"/>
<ellipse cx="711.6" cy="299.8" rx="3.1" ry="3.2" fill="#9ba1a6" opacity="0.55"/>
<ellipse cx="711.0" cy="298.9" rx="3.1" ry="3.2" fill="#e1e4e7"/>
<ellipse cx="710.6" cy="298.0" rx="1.9" ry="1.6" fill="#f7f8f9"/>
<ellipse cx="718.5" cy="299.8" rx="3.1" ry="3.2" fill="#9ba1a6" opacity="0.55"/>
<ellipse cx="717.9" cy="298.9" rx="3.1" ry="3.2" fill="#e1e4e7"/>
<ellipse cx="717.5" cy="298.0" rx="1.9" ry="1.6" fill="#f7f8f9"/>
<ellipse cx="724.0" cy="299.8" rx="3.1" ry="3.2" fill="#9ba1a6" opacity="0.55"/>
<ellipse cx="723.4" cy="298.9" rx="3.1" ry="3.2" fill="#e1e4e7"/>
<ellipse cx="722.9" cy="298.0" rx="1.9" ry="1.6" fill="#f7f8f9"/>
<ellipse cx="730.9" cy="299.8" rx="3.1" ry="3.2" fill="#9ba1a6" opacity="0.55"/>
<ellipse cx="730.3" cy="298.9" rx="3.1" ry="3.2" fill="#e1e4e7"/>
<ellipse cx="729.8" cy="298.0" rx="1.9" ry="1.6" fill="#f7f8f9"/>
<ellipse cx="736.3" cy="299.8" rx="3.1" ry="3.2" fill="#9ba1a6" opacity="0.55"/>
<ellipse cx="735.7" cy="298.9" rx="3.1" ry="3.2" fill="#e1e4e7"/>
<ellipse cx="735.2" cy="298.0" rx="1.9" ry="1.6" fill="#f7f8f9"/>
<ellipse cx="743.2" cy="299.8" rx="3.1" ry="3.2" fill="#9ba1a6" opacity="0.55"/>
<ellipse cx="742.6" cy="298.9" rx="3.1" ry="3.2" fill="#e1e4e7"/>
<ellipse cx="742.2" cy="298.0" rx="1.9" ry="1.6" fill="#f7f8f9"/>
<ellipse cx="748.7" cy="299.8" rx="3.1" ry="3.2" fill="#9ba1a6" opacity="0.55"/>
<ellipse cx="748.1" cy="298.9" rx="3.1" ry="3.2" fill="#e1e4e7"/>
<ellipse cx="747.6" cy="298.0" rx="1.9" ry="1.6" fill="#f7f8f9"/>
<ellipse cx="755.6" cy="299.8" rx="3.1" ry="3.2" fill="#9ba1a6" opacity="0.55"/>
<ellipse cx="755.0" cy="298.9" rx="3.1" ry="3.2" fill="#e1e4e7"/>
<ellipse cx="754.5" cy="298.0" rx="1.9" ry="1.6" fill="#f7f8f9"/>
<ellipse cx="761.0" cy="299.8" rx="3.1" ry="3.2" fill="#9ba1a6" opacity="0.55"/>
<ellipse cx="760.4" cy="298.9" rx="3.1" ry="3.2" fill="#e1e4e7"/>
<ellipse cx="759.9" cy="298.0" rx="1.9" ry="1.6" fill="#f7f8f9"/>
<ellipse cx="671.7" cy="304.9" rx="3.1" ry="3.2" fill="#9ba1a6" opacity="0.55"/>
<ellipse cx="671.1" cy="304.0" rx="3.1" ry="3.2" fill="#e1e4e7"/>
<ellipse cx="670.6" cy="303.1" rx="1.9" ry="1.6" fill="#f7f8f9"/>
<ellipse cx="677.2" cy="304.9" rx="3.1" ry="3.2" fill="#9ba1a6" opacity="0.55"/>
<ellipse cx="676.6" cy="304.0" rx="3.1" ry="3.2" fill="#e1e4e7"/>
<ellipse cx="676.1" cy="303.1" rx="1.9" ry="1.6" fill="#f7f8f9"/>
<ellipse cx="684.2" cy="304.9" rx="3.1" ry="3.2" fill="#9ba1a6" opacity="0.55"/>
<ellipse cx="683.6" cy="304.0" rx="3.1" ry="3.2" fill="#e1e4e7"/>
<ellipse cx="683.1" cy="303.1" rx="1.9" ry="1.6" fill="#f7f8f9"/>
<ellipse cx="689.7" cy="304.9" rx="3.1" ry="3.2" fill="#9ba1a6" opacity="0.55"/>
<ellipse cx="689.1" cy="304.0" rx="3.1" ry="3.2" fill="#e1e4e7"/>
<ellipse cx="688.7" cy="303.1" rx="1.9" ry="1.6" fill="#f7f8f9"/>
<ellipse cx="696.7" cy="304.9" rx="3.1" ry="3.2" fill="#9ba1a6" opacity="0.55"/>
<ellipse cx="696.1" cy="304.0" rx="3.1" ry="3.2" fill="#e1e4e7"/>
<ellipse cx="695.7" cy="303.1" rx="1.9" ry="1.6" fill="#f7f8f9"/>
<ellipse cx="702.3" cy="304.9" rx="3.1" ry="3.2" fill="#9ba1a6" opacity="0.55"/>
<ellipse cx="701.7" cy="304.0" rx="3.1" ry="3.2" fill="#e1e4e7"/>
<ellipse cx="701.2" cy="303.1" rx="1.9" ry="1.6" fill="#f7f8f9"/>
<ellipse cx="709.3" cy="304.9" rx="3.1" ry="3.2" fill="#9ba1a6" opacity="0.55"/>
<ellipse cx="708.7" cy="304.0" rx="3.1" ry="3.2" fill="#e1e4e7"/>
<ellipse cx="708.2" cy="303.1" rx="1.9" ry="1.6" fill="#f7f8f9"/>
<ellipse cx="714.8" cy="304.9" rx="3.1" ry="3.2" fill="#9ba1a6" opacity="0.55"/>
<ellipse cx="714.2" cy="304.0" rx="3.1" ry="3.2" fill="#e1e4e7"/>
<ellipse cx="713.7" cy="303.1" rx="1.9" ry="1.6" fill="#f7f8f9"/>
<ellipse cx="721.8" cy="304.9" rx="3.1" ry="3.2" fill="#9ba1a6" opacity="0.55"/>
<ellipse cx="721.2" cy="304.0" rx="3.1" ry="3.2" fill="#e1e4e7"/>
<ellipse cx="720.7" cy="303.1" rx="1.9" ry="1.6" fill="#f7f8f9"/>
<ellipse cx="727.3" cy="304.9" rx="3.1" ry="3.2" fill="#9ba1a6" opacity="0.55"/>
<ellipse cx="726.7" cy="304.0" rx="3.1" ry="3.2" fill="#e1e4e7"/>
<ellipse cx="726.3" cy="303.1" rx="1.9" ry="1.6" fill="#f7f8f9"/>
<ellipse cx="734.3" cy="304.9" rx="3.1" ry="3.2" fill="#9ba1a6" opacity="0.55"/>
<ellipse cx="733.7" cy="304.0" rx="3.1" ry="3.2" fill="#e1e4e7"/>
<ellipse cx="733.3" cy="303.1" rx="1.9" ry="1.6" fill="#f7f8f9"/>
<ellipse cx="739.9" cy="304.9" rx="3.1" ry="3.2" fill="#9ba1a6" opacity="0.55"/>
<ellipse cx="739.3" cy="304.0" rx="3.1" ry="3.2" fill="#e1e4e7"/>
<ellipse cx="738.8" cy="303.1" rx="1.9" ry="1.6" fill="#f7f8f9"/>
<ellipse cx="746.9" cy="304.9" rx="3.1" ry="3.2" fill="#9ba1a6" opacity="0.55"/>
<ellipse cx="746.3" cy="304.0" rx="3.1" ry="3.2" fill="#e1e4e7"/>
<ellipse cx="745.8" cy="303.1" rx="1.9" ry="1.6" fill="#f7f8f9"/>
<ellipse cx="752.4" cy="304.9" rx="3.1" ry="3.2" fill="#9ba1a6" opacity="0.55"/>
<ellipse cx="751.8" cy="304.0" rx="3.1" ry="3.2" fill="#e1e4e7"/>
<ellipse cx="751.3" cy="303.1" rx="1.9" ry="1.6" fill="#f7f8f9"/>
<ellipse cx="759.4" cy="304.9" rx="3.1" ry="3.2" fill="#9ba1a6" opacity="0.55"/>
<ellipse cx="758.8" cy="304.0" rx="3.1" ry="3.2" fill="#e1e4e7"/>
<ellipse cx="758.3" cy="303.1" rx="1.9" ry="1.6" fill="#f7f8f9"/>
<ellipse cx="764.9" cy="304.9" rx="3.1" ry="3.2" fill="#9ba1a6" opacity="0.55"/>
<ellipse cx="764.3" cy="304.0" rx="3.1" ry="3.2" fill="#e1e4e7"/>
<ellipse cx="763.9" cy="303.1" rx="1.9" ry="1.6" fill="#f7f8f9"/>
<ellipse cx="674.2" cy="310.0" rx="3.2" ry="3.2" fill="#9ba1a6" opacity="0.55"/>
<ellipse cx="673.6" cy="309.1" rx="3.2" ry="3.2" fill="#e1e4e7"/>
<ellipse cx="673.1" cy="308.2" rx="1.9" ry="1.6" fill="#f7f8f9"/>
<ellipse cx="679.8" cy="310.0" rx="3.2" ry="3.2" fill="#9ba1a6" opacity="0.55"/>
<ellipse cx="679.2" cy="309.1" rx="3.2" ry="3.2" fill="#e1e4e7"/>
<ellipse cx="678.7" cy="308.2" rx="1.9" ry="1.6" fill="#f7f8f9"/>
<ellipse cx="686.9" cy="310.0" rx="3.2" ry="3.2" fill="#9ba1a6" opacity="0.55"/>
<ellipse cx="686.3" cy="309.1" rx="3.2" ry="3.2" fill="#e1e4e7"/>
<ellipse cx="685.8" cy="308.2" rx="1.9" ry="1.6" fill="#f7f8f9"/>
<ellipse cx="692.5" cy="310.0" rx="3.2" ry="3.2" fill="#9ba1a6" opacity="0.55"/>
<ellipse cx="691.9" cy="309.1" rx="3.2" ry="3.2" fill="#e1e4e7"/>
<ellipse cx="691.4" cy="308.2" rx="1.9" ry="1.6" fill="#f7f8f9"/>
<ellipse cx="699.6" cy="310.0" rx="3.2" ry="3.2" fill="#9ba1a6" opacity="0.55"/>
<ellipse cx="699.0" cy="309.1" rx="3.2" ry="3.2" fill="#e1e4e7"/>
<ellipse cx="698.6" cy="308.2" rx="1.9" ry="1.6" fill="#f7f8f9"/>
<ellipse cx="705.2" cy="310.0" rx="3.2" ry="3.2" fill="#9ba1a6" opacity="0.55"/>
<ellipse cx="704.6" cy="309.1" rx="3.2" ry="3.2" fill="#e1e4e7"/>
<ellipse cx="704.2" cy="308.2" rx="1.9" ry="1.6" fill="#f7f8f9"/>
<ellipse cx="712.4" cy="310.0" rx="3.2" ry="3.2" fill="#9ba1a6" opacity="0.55"/>
<ellipse cx="711.8" cy="309.1" rx="3.2" ry="3.2" fill="#e1e4e7"/>
<ellipse cx="711.3" cy="308.2" rx="1.9" ry="1.6" fill="#f7f8f9"/>
<ellipse cx="718.0" cy="310.0" rx="3.2" ry="3.2" fill="#9ba1a6" opacity="0.55"/>
<ellipse cx="717.4" cy="309.1" rx="3.2" ry="3.2" fill="#e1e4e7"/>
<ellipse cx="716.9" cy="308.2" rx="1.9" ry="1.6" fill="#f7f8f9"/>
<ellipse cx="725.1" cy="310.0" rx="3.2" ry="3.2" fill="#9ba1a6" opacity="0.55"/>
<ellipse cx="724.5" cy="309.1" rx="3.2" ry="3.2" fill="#e1e4e7"/>
<ellipse cx="724.0" cy="308.2" rx="1.9" ry="1.6" fill="#f7f8f9"/>
<ellipse cx="730.7" cy="310.0" rx="3.2" ry="3.2" fill="#9ba1a6" opacity="0.55"/>
<ellipse cx="730.1" cy="309.1" rx="3.2" ry="3.2" fill="#e1e4e7"/>
<ellipse cx="729.6" cy="308.2" rx="1.9" ry="1.6" fill="#f7f8f9"/>
<ellipse cx="737.8" cy="310.0" rx="3.2" ry="3.2" fill="#9ba1a6" opacity="0.55"/>
<ellipse cx="737.2" cy="309.1" rx="3.2" ry="3.2" fill="#e1e4e7"/>
<ellipse cx="736.7" cy="308.2" rx="1.9" ry="1.6" fill="#f7f8f9"/>
<ellipse cx="743.4" cy="310.0" rx="3.2" ry="3.2" fill="#9ba1a6" opacity="0.55"/>
<ellipse cx="742.8" cy="309.1" rx="3.2" ry="3.2" fill="#e1e4e7"/>
<ellipse cx="742.3" cy="308.2" rx="1.9" ry="1.6" fill="#f7f8f9"/>
<ellipse cx="750.5" cy="310.0" rx="3.2" ry="3.2" fill="#9ba1a6" opacity="0.55"/>
<ellipse cx="749.9" cy="309.1" rx="3.2" ry="3.2" fill="#e1e4e7"/>
<ellipse cx="749.5" cy="308.2" rx="1.9" ry="1.6" fill="#f7f8f9"/>
<ellipse cx="756.1" cy="310.0" rx="3.2" ry="3.2" fill="#9ba1a6" opacity="0.55"/>
<ellipse cx="755.5" cy="309.1" rx="3.2" ry="3.2" fill="#e1e4e7"/>
<ellipse cx="755.0" cy="308.2" rx="1.9" ry="1.6" fill="#f7f8f9"/>
<ellipse cx="763.3" cy="310.0" rx="3.2" ry="3.2" fill="#9ba1a6" opacity="0.55"/>
<ellipse cx="762.7" cy="309.1" rx="3.2" ry="3.2" fill="#e1e4e7"/>
<ellipse cx="762.2" cy="308.2" rx="1.9" ry="1.6" fill="#f7f8f9"/>
<ellipse cx="768.9" cy="310.0" rx="3.2" ry="3.2" fill="#9ba1a6" opacity="0.55"/>
<ellipse cx="768.2" cy="309.1" rx="3.2" ry="3.2" fill="#e1e4e7"/>
<ellipse cx="767.8" cy="308.2" rx="1.9" ry="1.6" fill="#f7f8f9"/>
<ellipse cx="676.7" cy="315.1" rx="3.2" ry="3.2" fill="#9ba1a6" opacity="0.55"/>
<ellipse cx="676.1" cy="314.2" rx="3.2" ry="3.2" fill="#e1e4e7"/>
<ellipse cx="675.6" cy="313.3" rx="1.9" ry="1.6" fill="#f7f8f9"/>
<ellipse cx="682.4" cy="315.1" rx="3.2" ry="3.2" fill="#9ba1a6" opacity="0.55"/>
<ellipse cx="681.8" cy="314.2" rx="3.2" ry="3.2" fill="#e1e4e7"/>
<ellipse cx="681.3" cy="313.3" rx="1.9" ry="1.6" fill="#f7f8f9"/>
<ellipse cx="689.6" cy="315.1" rx="3.2" ry="3.2" fill="#9ba1a6" opacity="0.55"/>
<ellipse cx="689.0" cy="314.2" rx="3.2" ry="3.2" fill="#e1e4e7"/>
<ellipse cx="688.5" cy="313.3" rx="1.9" ry="1.6" fill="#f7f8f9"/>
<ellipse cx="695.3" cy="315.1" rx="3.2" ry="3.2" fill="#9ba1a6" opacity="0.55"/>
<ellipse cx="694.7" cy="314.2" rx="3.2" ry="3.2" fill="#e1e4e7"/>
<ellipse cx="694.2" cy="313.3" rx="1.9" ry="1.6" fill="#f7f8f9"/>
<ellipse cx="702.5" cy="315.1" rx="3.2" ry="3.2" fill="#9ba1a6" opacity="0.55"/>
<ellipse cx="701.9" cy="314.2" rx="3.2" ry="3.2" fill="#e1e4e7"/>
<ellipse cx="701.4" cy="313.3" rx="1.9" ry="1.6" fill="#f7f8f9"/>
<ellipse cx="708.2" cy="315.1" rx="3.2" ry="3.2" fill="#9ba1a6" opacity="0.55"/>
<ellipse cx="707.6" cy="314.2" rx="3.2" ry="3.2" fill="#e1e4e7"/>
<ellipse cx="707.1" cy="313.3" rx="1.9" ry="1.6" fill="#f7f8f9"/>
<ellipse cx="715.4" cy="315.1" rx="3.2" ry="3.2" fill="#9ba1a6" opacity="0.55"/>
<ellipse cx="714.8" cy="314.2" rx="3.2" ry="3.2" fill="#e1e4e7"/>
<ellipse cx="714.4" cy="313.3" rx="1.9" ry="1.6" fill="#f7f8f9"/>
<ellipse cx="721.1" cy="315.1" rx="3.2" ry="3.2" fill="#9ba1a6" opacity="0.55"/>
<ellipse cx="720.5" cy="314.2" rx="3.2" ry="3.2" fill="#e1e4e7"/>
<ellipse cx="720.0" cy="313.3" rx="1.9" ry="1.6" fill="#f7f8f9"/>
<ellipse cx="728.4" cy="315.1" rx="3.2" ry="3.2" fill="#9ba1a6" opacity="0.55"/>
<ellipse cx="727.8" cy="314.2" rx="3.2" ry="3.2" fill="#e1e4e7"/>
<ellipse cx="727.3" cy="313.3" rx="1.9" ry="1.6" fill="#f7f8f9"/>
<ellipse cx="734.0" cy="315.1" rx="3.2" ry="3.2" fill="#9ba1a6" opacity="0.55"/>
<ellipse cx="733.4" cy="314.2" rx="3.2" ry="3.2" fill="#e1e4e7"/>
<ellipse cx="733.0" cy="313.3" rx="1.9" ry="1.6" fill="#f7f8f9"/>
<ellipse cx="741.3" cy="315.1" rx="3.2" ry="3.2" fill="#9ba1a6" opacity="0.55"/>
<ellipse cx="740.7" cy="314.2" rx="3.2" ry="3.2" fill="#e1e4e7"/>
<ellipse cx="740.2" cy="313.3" rx="1.9" ry="1.6" fill="#f7f8f9"/>
<ellipse cx="746.9" cy="315.1" rx="3.2" ry="3.2" fill="#9ba1a6" opacity="0.55"/>
<ellipse cx="746.3" cy="314.2" rx="3.2" ry="3.2" fill="#e1e4e7"/>
<ellipse cx="745.9" cy="313.3" rx="1.9" ry="1.6" fill="#f7f8f9"/>
<ellipse cx="754.2" cy="315.1" rx="3.2" ry="3.2" fill="#9ba1a6" opacity="0.55"/>
<ellipse cx="753.6" cy="314.2" rx="3.2" ry="3.2" fill="#e1e4e7"/>
<ellipse cx="753.1" cy="313.3" rx="1.9" ry="1.6" fill="#f7f8f9"/>
<ellipse cx="759.9" cy="315.1" rx="3.2" ry="3.2" fill="#9ba1a6" opacity="0.55"/>
<ellipse cx="759.3" cy="314.2" rx="3.2" ry="3.2" fill="#e1e4e7"/>
<ellipse cx="758.8" cy="313.3" rx="1.9" ry="1.6" fill="#f7f8f9"/>
<ellipse cx="767.1" cy="315.1" rx="3.2" ry="3.2" fill="#9ba1a6" opacity="0.55"/>
<ellipse cx="766.5" cy="314.2" rx="3.2" ry="3.2" fill="#e1e4e7"/>
<ellipse cx="766.0" cy="313.3" rx="1.9" ry="1.6" fill="#f7f8f9"/>
<ellipse cx="772.8" cy="315.1" rx="3.2" ry="3.2" fill="#9ba1a6" opacity="0.55"/>
<ellipse cx="772.2" cy="314.2" rx="3.2" ry="3.2" fill="#e1e4e7"/>
<ellipse cx="771.7" cy="313.3" rx="1.9" ry="1.6" fill="#f7f8f9"/>
<ellipse cx="679.2" cy="320.2" rx="3.3" ry="3.2" fill="#9ba1a6" opacity="0.55"/>
<ellipse cx="678.6" cy="319.3" rx="3.3" ry="3.2" fill="#e1e4e7"/>
<ellipse cx="678.1" cy="318.4" rx="2.0" ry="1.6" fill="#f7f8f9"/>
<ellipse cx="685.0" cy="320.2" rx="3.3" ry="3.2" fill="#9ba1a6" opacity="0.55"/>
<ellipse cx="684.4" cy="319.3" rx="3.3" ry="3.2" fill="#e1e4e7"/>
<ellipse cx="683.9" cy="318.4" rx="2.0" ry="1.6" fill="#f7f8f9"/>
<ellipse cx="692.3" cy="320.2" rx="3.3" ry="3.2" fill="#9ba1a6" opacity="0.55"/>
<ellipse cx="691.7" cy="319.3" rx="3.3" ry="3.2" fill="#e1e4e7"/>
<ellipse cx="691.2" cy="318.4" rx="2.0" ry="1.6" fill="#f7f8f9"/>
<ellipse cx="698.1" cy="320.2" rx="3.3" ry="3.2" fill="#9ba1a6" opacity="0.55"/>
<ellipse cx="697.5" cy="319.3" rx="3.3" ry="3.2" fill="#e1e4e7"/>
<ellipse cx="697.0" cy="318.4" rx="2.0" ry="1.6" fill="#f7f8f9"/>
<ellipse cx="705.4" cy="320.2" rx="3.3" ry="3.2" fill="#9ba1a6" opacity="0.55"/>
<ellipse cx="704.8" cy="319.3" rx="3.3" ry="3.2" fill="#e1e4e7"/>
<ellipse cx="704.3" cy="318.4" rx="2.0" ry="1.6" fill="#f7f8f9"/>
<ellipse cx="711.2" cy="320.2" rx="3.3" ry="3.2" fill="#9ba1a6" opacity="0.55"/>
<ellipse cx="710.6" cy="319.3" rx="3.3" ry="3.2" fill="#e1e4e7"/>
<ellipse cx="710.1" cy="318.4" rx="2.0" ry="1.6" fill="#f7f8f9"/>
<ellipse cx="718.5" cy="320.2" rx="3.3" ry="3.2" fill="#9ba1a6" opacity="0.55"/>
<ellipse cx="717.9" cy="319.3" rx="3.3" ry="3.2" fill="#e1e4e7"/>
<ellipse cx="717.4" cy="318.4" rx="2.0" ry="1.6" fill="#f7f8f9"/>
<ellipse cx="724.3" cy="320.2" rx="3.3" ry="3.2" fill="#9ba1a6" opacity="0.55"/>
<ellipse cx="723.7" cy="319.3" rx="3.3" ry="3.2" fill="#e1e4e7"/>
<ellipse cx="723.2" cy="318.4" rx="2.0" ry="1.6" fill="#f7f8f9"/>
<ellipse cx="731.6" cy="320.2" rx="3.3" ry="3.2" fill="#9ba1a6" opacity="0.55"/>
<ellipse cx="731.0" cy="319.3" rx="3.3" ry="3.2" fill="#e1e4e7"/>
<ellipse cx="730.5" cy="318.4" rx="2.0" ry="1.6" fill="#f7f8f9"/>
<ellipse cx="737.4" cy="320.2" rx="3.3" ry="3.2" fill="#9ba1a6" opacity="0.55"/>
<ellipse cx="736.8" cy="319.3" rx="3.3" ry="3.2" fill="#e1e4e7"/>
<ellipse cx="736.3" cy="318.4" rx="2.0" ry="1.6" fill="#f7f8f9"/>
<ellipse cx="744.7" cy="320.2" rx="3.3" ry="3.2" fill="#9ba1a6" opacity="0.55"/>
<ellipse cx="744.1" cy="319.3" rx="3.3" ry="3.2" fill="#e1e4e7"/>
<ellipse cx="743.6" cy="318.4" rx="2.0" ry="1.6" fill="#f7f8f9"/>
<ellipse cx="750.5" cy="320.2" rx="3.3" ry="3.2" fill="#9ba1a6" opacity="0.55"/>
<ellipse cx="749.9" cy="319.3" rx="3.3" ry="3.2" fill="#e1e4e7"/>
<ellipse cx="749.4" cy="318.4" rx="2.0" ry="1.6" fill="#f7f8f9"/>
<ellipse cx="757.8" cy="320.2" rx="3.3" ry="3.2" fill="#9ba1a6" opacity="0.55"/>
<ellipse cx="757.2" cy="319.3" rx="3.3" ry="3.2" fill="#e1e4e7"/>
<ellipse cx="756.7" cy="318.4" rx="2.0" ry="1.6" fill="#f7f8f9"/>
<ellipse cx="763.6" cy="320.2" rx="3.3" ry="3.2" fill="#9ba1a6" opacity="0.55"/>
<ellipse cx="763.0" cy="319.3" rx="3.3" ry="3.2" fill="#e1e4e7"/>
<ellipse cx="762.5" cy="318.4" rx="2.0" ry="1.6" fill="#f7f8f9"/>
<ellipse cx="770.9" cy="320.2" rx="3.3" ry="3.2" fill="#9ba1a6" opacity="0.55"/>
<ellipse cx="770.3" cy="319.3" rx="3.3" ry="3.2" fill="#e1e4e7"/>
<ellipse cx="769.8" cy="318.4" rx="2.0" ry="1.6" fill="#f7f8f9"/>
<ellipse cx="776.7" cy="320.2" rx="3.3" ry="3.2" fill="#9ba1a6" opacity="0.55"/>
<ellipse cx="776.1" cy="319.3" rx="3.3" ry="3.2" fill="#e1e4e7"/>
<ellipse cx="775.6" cy="318.4" rx="2.0" ry="1.6" fill="#f7f8f9"/>
<ellipse cx="681.7" cy="325.3" rx="3.3" ry="3.2" fill="#9ba1a6" opacity="0.55"/>
<ellipse cx="681.1" cy="324.4" rx="3.3" ry="3.2" fill="#e1e4e7"/>
<ellipse cx="680.6" cy="323.5" rx="2.0" ry="1.6" fill="#f7f8f9"/>
<ellipse cx="687.6" cy="325.3" rx="3.3" ry="3.2" fill="#9ba1a6" opacity="0.55"/>
<ellipse cx="687.0" cy="324.4" rx="3.3" ry="3.2" fill="#e1e4e7"/>
<ellipse cx="686.5" cy="323.5" rx="2.0" ry="1.6" fill="#f7f8f9"/>
<ellipse cx="695.0" cy="325.3" rx="3.3" ry="3.2" fill="#9ba1a6" opacity="0.55"/>
<ellipse cx="694.4" cy="324.4" rx="3.3" ry="3.2" fill="#e1e4e7"/>
<ellipse cx="693.9" cy="323.5" rx="2.0" ry="1.6" fill="#f7f8f9"/>
<ellipse cx="700.9" cy="325.3" rx="3.3" ry="3.2" fill="#9ba1a6" opacity="0.55"/>
<ellipse cx="700.3" cy="324.4" rx="3.3" ry="3.2" fill="#e1e4e7"/>
<ellipse cx="699.8" cy="323.5" rx="2.0" ry="1.6" fill="#f7f8f9"/>
<ellipse cx="708.3" cy="325.3" rx="3.3" ry="3.2" fill="#9ba1a6" opacity="0.55"/>
<ellipse cx="707.7" cy="324.4" rx="3.3" ry="3.2" fill="#e1e4e7"/>
<ellipse cx="707.2" cy="323.5" rx="2.0" ry="1.6" fill="#f7f8f9"/>
<ellipse cx="714.1" cy="325.3" rx="3.3" ry="3.2" fill="#9ba1a6" opacity="0.55"/>
<ellipse cx="713.5" cy="324.4" rx="3.3" ry="3.2" fill="#e1e4e7"/>
<ellipse cx="713.1" cy="323.5" rx="2.0" ry="1.6" fill="#f7f8f9"/>
<ellipse cx="721.6" cy="325.3" rx="3.3" ry="3.2" fill="#9ba1a6" opacity="0.55"/>
<ellipse cx="721.0" cy="324.4" rx="3.3" ry="3.2" fill="#e1e4e7"/>
<ellipse cx="720.5" cy="323.5" rx="2.0" ry="1.6" fill="#f7f8f9"/>
<ellipse cx="727.4" cy="325.3" rx="3.3" ry="3.2" fill="#9ba1a6" opacity="0.55"/>
<ellipse cx="726.8" cy="324.4" rx="3.3" ry="3.2" fill="#e1e4e7"/>
<ellipse cx="726.3" cy="323.5" rx="2.0" ry="1.6" fill="#f7f8f9"/>
<ellipse cx="734.9" cy="325.3" rx="3.3" ry="3.2" fill="#9ba1a6" opacity="0.55"/>
<ellipse cx="734.3" cy="324.4" rx="3.3" ry="3.2" fill="#e1e4e7"/>
<ellipse cx="733.8" cy="323.5" rx="2.0" ry="1.6" fill="#f7f8f9"/>
<ellipse cx="740.7" cy="325.3" rx="3.3" ry="3.2" fill="#9ba1a6" opacity="0.55"/>
<ellipse cx="740.1" cy="324.4" rx="3.3" ry="3.2" fill="#e1e4e7"/>
<ellipse cx="739.6" cy="323.5" rx="2.0" ry="1.6" fill="#f7f8f9"/>
<ellipse cx="748.2" cy="325.3" rx="3.3" ry="3.2" fill="#9ba1a6" opacity="0.55"/>
<ellipse cx="747.6" cy="324.4" rx="3.3" ry="3.2" fill="#e1e4e7"/>
<ellipse cx="747.1" cy="323.5" rx="2.0" ry="1.6" fill="#f7f8f9"/>
<ellipse cx="754.0" cy="325.3" rx="3.3" ry="3.2" fill="#9ba1a6" opacity="0.55"/>
<ellipse cx="753.4" cy="324.4" rx="3.3" ry="3.2" fill="#e1e4e7"/>
<ellipse cx="752.9" cy="323.5" rx="2.0" ry="1.6" fill="#f7f8f9"/>
<ellipse cx="761.5" cy="325.3" rx="3.3" ry="3.2" fill="#9ba1a6" opacity="0.55"/>
<ellipse cx="760.9" cy="324.4" rx="3.3" ry="3.2" fill="#e1e4e7"/>
<ellipse cx="760.4" cy="323.5" rx="2.0" ry="1.6" fill="#f7f8f9"/>
<ellipse cx="767.3" cy="325.3" rx="3.3" ry="3.2" fill="#9ba1a6" opacity="0.55"/>
<ellipse cx="766.7" cy="324.4" rx="3.3" ry="3.2" fill="#e1e4e7"/>
<ellipse cx="766.2" cy="323.5" rx="2.0" ry="1.6" fill="#f7f8f9"/>
<ellipse cx="774.8" cy="325.3" rx="3.3" ry="3.2" fill="#9ba1a6" opacity="0.55"/>
<ellipse cx="774.2" cy="324.4" rx="3.3" ry="3.2" fill="#e1e4e7"/>
<ellipse cx="773.7" cy="323.5" rx="2.0" ry="1.6" fill="#f7f8f9"/>
<ellipse cx="780.6" cy="325.3" rx="3.3" ry="3.2" fill="#9ba1a6" opacity="0.55"/>
<ellipse cx="780.0" cy="324.4" rx="3.3" ry="3.2" fill="#e1e4e7"/>
<ellipse cx="779.5" cy="323.5" rx="2.0" ry="1.6" fill="#f7f8f9"/>
<ellipse cx="684.2" cy="330.5" rx="3.4" ry="3.2" fill="#9ba1a6" opacity="0.55"/>
<ellipse cx="683.6" cy="329.6" rx="3.4" ry="3.2" fill="#e1e4e7"/>
<ellipse cx="683.1" cy="328.6" rx="2.0" ry="1.6" fill="#f7f8f9"/>
<ellipse cx="690.1" cy="330.5" rx="3.4" ry="3.2" fill="#9ba1a6" opacity="0.55"/>
<ellipse cx="689.5" cy="329.6" rx="3.4" ry="3.2" fill="#e1e4e7"/>
<ellipse cx="689.0" cy="328.6" rx="2.0" ry="1.6" fill="#f7f8f9"/>
<ellipse cx="697.7" cy="330.5" rx="3.4" ry="3.2" fill="#9ba1a6" opacity="0.55"/>
<ellipse cx="697.1" cy="329.6" rx="3.4" ry="3.2" fill="#e1e4e7"/>
<ellipse cx="696.6" cy="328.6" rx="2.0" ry="1.6" fill="#f7f8f9"/>
<ellipse cx="703.6" cy="330.5" rx="3.4" ry="3.2" fill="#9ba1a6" opacity="0.55"/>
<ellipse cx="703.0" cy="329.6" rx="3.4" ry="3.2" fill="#e1e4e7"/>
<ellipse cx="702.5" cy="328.6" rx="2.0" ry="1.6" fill="#f7f8f9"/>
<ellipse cx="711.2" cy="330.5" rx="3.4" ry="3.2" fill="#9ba1a6" opacity="0.55"/>
<ellipse cx="710.6" cy="329.6" rx="3.4" ry="3.2" fill="#e1e4e7"/>
<ellipse cx="710.1" cy="328.6" rx="2.0" ry="1.6" fill="#f7f8f9"/>
<ellipse cx="717.1" cy="330.5" rx="3.4" ry="3.2" fill="#9ba1a6" opacity="0.55"/>
<ellipse cx="716.5" cy="329.6" rx="3.4" ry="3.2" fill="#e1e4e7"/>
<ellipse cx="716.0" cy="328.6" rx="2.0" ry="1.6" fill="#f7f8f9"/>
<ellipse cx="724.7" cy="330.5" rx="3.4" ry="3.2" fill="#9ba1a6" opacity="0.55"/>
<ellipse cx="724.1" cy="329.6" rx="3.4" ry="3.2" fill="#e1e4e7"/>
<ellipse cx="723.6" cy="328.6" rx="2.0" ry="1.6" fill="#f7f8f9"/>
<ellipse cx="730.6" cy="330.5" rx="3.4" ry="3.2" fill="#9ba1a6" opacity="0.55"/>
<ellipse cx="730.0" cy="329.6" rx="3.4" ry="3.2" fill="#e1e4e7"/>
<ellipse cx="729.5" cy="328.6" rx="2.0" ry="1.6" fill="#f7f8f9"/>
<ellipse cx="738.2" cy="330.5" rx="3.4" ry="3.2" fill="#9ba1a6" opacity="0.55"/>
<ellipse cx="737.6" cy="329.6" rx="3.4" ry="3.2" fill="#e1e4e7"/>
<ellipse cx="737.1" cy="328.6" rx="2.0" ry="1.6" fill="#f7f8f9"/>
<ellipse cx="744.1" cy="330.5" rx="3.4" ry="3.2" fill="#9ba1a6" opacity="0.55"/>
<ellipse cx="743.5" cy="329.6" rx="3.4" ry="3.2" fill="#e1e4e7"/>
<ellipse cx="743.0" cy="328.6" rx="2.0" ry="1.6" fill="#f7f8f9"/>
<ellipse cx="751.7" cy="330.5" rx="3.4" ry="3.2" fill="#9ba1a6" opacity="0.55"/>
<ellipse cx="751.1" cy="329.6" rx="3.4" ry="3.2" fill="#e1e4e7"/>
<ellipse cx="750.5" cy="328.6" rx="2.0" ry="1.6" fill="#f7f8f9"/>
<ellipse cx="757.6" cy="330.5" rx="3.4" ry="3.2" fill="#9ba1a6" opacity="0.55"/>
<ellipse cx="757.0" cy="329.6" rx="3.4" ry="3.2" fill="#e1e4e7"/>
<ellipse cx="756.5" cy="328.6" rx="2.0" ry="1.6" fill="#f7f8f9"/>
<ellipse cx="765.1" cy="330.5" rx="3.4" ry="3.2" fill="#9ba1a6" opacity="0.55"/>
<ellipse cx="764.5" cy="329.6" rx="3.4" ry="3.2" fill="#e1e4e7"/>
<ellipse cx="764.0" cy="328.6" rx="2.0" ry="1.6" fill="#f7f8f9"/>
<ellipse cx="771.1" cy="330.5" rx="3.4" ry="3.2" fill="#9ba1a6" opacity="0.55"/>
<ellipse cx="770.5" cy="329.6" rx="3.4" ry="3.2" fill="#e1e4e7"/>
<ellipse cx="770.0" cy="328.6" rx="2.0" ry="1.6" fill="#f7f8f9"/>
<ellipse cx="778.6" cy="330.5" rx="3.4" ry="3.2" fill="#9ba1a6" opacity="0.55"/>
<ellipse cx="778.0" cy="329.6" rx="3.4" ry="3.2" fill="#e1e4e7"/>
<ellipse cx="777.5" cy="328.6" rx="2.0" ry="1.6" fill="#f7f8f9"/>
<ellipse cx="784.6" cy="330.5" rx="3.4" ry="3.2" fill="#9ba1a6" opacity="0.55"/>
<ellipse cx="784.0" cy="329.6" rx="3.4" ry="3.2" fill="#e1e4e7"/>
<ellipse cx="783.5" cy="328.6" rx="2.0" ry="1.6" fill="#f7f8f9"/>
<ellipse cx="686.7" cy="335.6" rx="3.4" ry="3.2" fill="#9ba1a6" opacity="0.55"/>
<ellipse cx="686.1" cy="334.7" rx="3.4" ry="3.2" fill="#e1e4e7"/>
<ellipse cx="685.6" cy="333.7" rx="2.1" ry="1.6" fill="#f7f8f9"/>
<ellipse cx="692.7" cy="335.6" rx="3.4" ry="3.2" fill="#9ba1a6" opacity="0.55"/>
<ellipse cx="692.1" cy="334.7" rx="3.4" ry="3.2" fill="#e1e4e7"/>
<ellipse cx="691.6" cy="333.7" rx="2.1" ry="1.6" fill="#f7f8f9"/>
<ellipse cx="700.4" cy="335.6" rx="3.4" ry="3.2" fill="#9ba1a6" opacity="0.55"/>
<ellipse cx="699.8" cy="334.7" rx="3.4" ry="3.2" fill="#e1e4e7"/>
<ellipse cx="699.3" cy="333.7" rx="2.1" ry="1.6" fill="#f7f8f9"/>
<ellipse cx="706.4" cy="335.6" rx="3.4" ry="3.2" fill="#9ba1a6" opacity="0.55"/>
<ellipse cx="705.8" cy="334.7" rx="3.4" ry="3.2" fill="#e1e4e7"/>
<ellipse cx="705.3" cy="333.7" rx="2.1" ry="1.6" fill="#f7f8f9"/>
<ellipse cx="714.1" cy="335.6" rx="3.4" ry="3.2" fill="#9ba1a6" opacity="0.55"/>
<ellipse cx="713.5" cy="334.7" rx="3.4" ry="3.2" fill="#e1e4e7"/>
<ellipse cx="713.0" cy="333.7" rx="2.1" ry="1.6" fill="#f7f8f9"/>
<ellipse cx="720.1" cy="335.6" rx="3.4" ry="3.2" fill="#9ba1a6" opacity="0.55"/>
<ellipse cx="719.5" cy="334.7" rx="3.4" ry="3.2" fill="#e1e4e7"/>
<ellipse cx="719.0" cy="333.7" rx="2.1" ry="1.6" fill="#f7f8f9"/>
<ellipse cx="727.8" cy="335.6" rx="3.4" ry="3.2" fill="#9ba1a6" opacity="0.55"/>
<ellipse cx="727.2" cy="334.7" rx="3.4" ry="3.2" fill="#e1e4e7"/>
<ellipse cx="726.6" cy="333.7" rx="2.1" ry="1.6" fill="#f7f8f9"/>
<ellipse cx="733.8" cy="335.6" rx="3.4" ry="3.2" fill="#9ba1a6" opacity="0.55"/>
<ellipse cx="733.2" cy="334.7" rx="3.4" ry="3.2" fill="#e1e4e7"/>
<ellipse cx="732.7" cy="333.7" rx="2.1" ry="1.6" fill="#f7f8f9"/>
<ellipse cx="741.4" cy="335.6" rx="3.4" ry="3.2" fill="#9ba1a6" opacity="0.55"/>
<ellipse cx="740.8" cy="334.7" rx="3.4" ry="3.2" fill="#e1e4e7"/>
<ellipse cx="740.3" cy="333.7" rx="2.1" ry="1.6" fill="#f7f8f9"/>
<ellipse cx="747.5" cy="335.6" rx="3.4" ry="3.2" fill="#9ba1a6" opacity="0.55"/>
<ellipse cx="746.9" cy="334.7" rx="3.4" ry="3.2" fill="#e1e4e7"/>
<ellipse cx="746.3" cy="333.7" rx="2.1" ry="1.6" fill="#f7f8f9"/>
<ellipse cx="755.1" cy="335.6" rx="3.4" ry="3.2" fill="#9ba1a6" opacity="0.55"/>
<ellipse cx="754.5" cy="334.7" rx="3.4" ry="3.2" fill="#e1e4e7"/>
<ellipse cx="754.0" cy="333.7" rx="2.1" ry="1.6" fill="#f7f8f9"/>
<ellipse cx="761.1" cy="335.6" rx="3.4" ry="3.2" fill="#9ba1a6" opacity="0.55"/>
<ellipse cx="760.5" cy="334.7" rx="3.4" ry="3.2" fill="#e1e4e7"/>
<ellipse cx="760.0" cy="333.7" rx="2.1" ry="1.6" fill="#f7f8f9"/>
<ellipse cx="768.8" cy="335.6" rx="3.4" ry="3.2" fill="#9ba1a6" opacity="0.55"/>
<ellipse cx="768.2" cy="334.7" rx="3.4" ry="3.2" fill="#e1e4e7"/>
<ellipse cx="767.7" cy="333.7" rx="2.1" ry="1.6" fill="#f7f8f9"/>
<ellipse cx="774.8" cy="335.6" rx="3.4" ry="3.2" fill="#9ba1a6" opacity="0.55"/>
<ellipse cx="774.2" cy="334.7" rx="3.4" ry="3.2" fill="#e1e4e7"/>
<ellipse cx="773.7" cy="333.7" rx="2.1" ry="1.6" fill="#f7f8f9"/>
<ellipse cx="782.5" cy="335.6" rx="3.4" ry="3.2" fill="#9ba1a6" opacity="0.55"/>
<ellipse cx="781.9" cy="334.7" rx="3.4" ry="3.2" fill="#e1e4e7"/>
<ellipse cx="781.4" cy="333.7" rx="2.1" ry="1.6" fill="#f7f8f9"/>
<ellipse cx="788.5" cy="335.6" rx="3.4" ry="3.2" fill="#9ba1a6" opacity="0.55"/>
<ellipse cx="787.9" cy="334.7" rx="3.4" ry="3.2" fill="#e1e4e7"/>
<ellipse cx="787.4" cy="333.7" rx="2.1" ry="1.6" fill="#f7f8f9"/>
<ellipse cx="689.2" cy="340.7" rx="3.5" ry="3.2" fill="#9ba1a6" opacity="0.55"/>
<ellipse cx="688.6" cy="339.8" rx="3.5" ry="3.2" fill="#e1e4e7"/>
<ellipse cx="688.1" cy="338.8" rx="2.1" ry="1.6" fill="#f7f8f9"/>
<ellipse cx="695.3" cy="340.7" rx="3.5" ry="3.2" fill="#9ba1a6" opacity="0.55"/>
<ellipse cx="694.7" cy="339.8" rx="3.5" ry="3.2" fill="#e1e4e7"/>
<ellipse cx="694.2" cy="338.8" rx="2.1" ry="1.6" fill="#f7f8f9"/>
<ellipse cx="703.1" cy="340.7" rx="3.5" ry="3.2" fill="#9ba1a6" opacity="0.55"/>
<ellipse cx="702.5" cy="339.8" rx="3.5" ry="3.2" fill="#e1e4e7"/>
<ellipse cx="702.0" cy="338.8" rx="2.1" ry="1.6" fill="#f7f8f9"/>
<ellipse cx="709.2" cy="340.7" rx="3.5" ry="3.2" fill="#9ba1a6" opacity="0.55"/>
<ellipse cx="708.6" cy="339.8" rx="3.5" ry="3.2" fill="#e1e4e7"/>
<ellipse cx="708.1" cy="338.8" rx="2.1" ry="1.6" fill="#f7f8f9"/>
<ellipse cx="717.0" cy="340.7" rx="3.5" ry="3.2" fill="#9ba1a6" opacity="0.55"/>
<ellipse cx="716.4" cy="339.8" rx="3.5" ry="3.2" fill="#e1e4e7"/>
<ellipse cx="715.8" cy="338.8" rx="2.1" ry="1.6" fill="#f7f8f9"/>
<ellipse cx="723.1" cy="340.7" rx="3.5" ry="3.2" fill="#9ba1a6" opacity="0.55"/>
<ellipse cx="722.5" cy="339.8" rx="3.5" ry="3.2" fill="#e1e4e7"/>
<ellipse cx="721.9" cy="338.8" rx="2.1" ry="1.6" fill="#f7f8f9"/>
<ellipse cx="730.8" cy="340.7" rx="3.5" ry="3.2" fill="#9ba1a6" opacity="0.55"/>
<ellipse cx="730.2" cy="339.8" rx="3.5" ry="3.2" fill="#e1e4e7"/>
<ellipse cx="729.7" cy="338.8" rx="2.1" ry="1.6" fill="#f7f8f9"/>
<ellipse cx="736.9" cy="340.7" rx="3.5" ry="3.2" fill="#9ba1a6" opacity="0.55"/>
<ellipse cx="736.3" cy="339.8" rx="3.5" ry="3.2" fill="#e1e4e7"/>
<ellipse cx="735.8" cy="338.8" rx="2.1" ry="1.6" fill="#f7f8f9"/>
<ellipse cx="744.7" cy="340.7" rx="3.5" ry="3.2" fill="#9ba1a6" opacity="0.55"/>
<ellipse cx="744.1" cy="339.8" rx="3.5" ry="3.2" fill="#e1e4e7"/>
<ellipse cx="743.6" cy="338.8" rx="2.1" ry="1.6" fill="#f7f8f9"/>
<ellipse cx="750.8" cy="340.7" rx="3.5" ry="3.2" fill="#9ba1a6" opacity="0.55"/>
<ellipse cx="750.2" cy="339.8" rx="3.5" ry="3.2" fill="#e1e4e7"/>
<ellipse cx="749.7" cy="338.8" rx="2.1" ry="1.6" fill="#f7f8f9"/>
<ellipse cx="758.6" cy="340.7" rx="3.5" ry="3.2" fill="#9ba1a6" opacity="0.55"/>
<ellipse cx="758.0" cy="339.8" rx="3.5" ry="3.2" fill="#e1e4e7"/>
<ellipse cx="757.5" cy="338.8" rx="2.1" ry="1.6" fill="#f7f8f9"/>
<ellipse cx="764.7" cy="340.7" rx="3.5" ry="3.2" fill="#9ba1a6" opacity="0.55"/>
<ellipse cx="764.1" cy="339.8" rx="3.5" ry="3.2" fill="#e1e4e7"/>
<ellipse cx="763.6" cy="338.8" rx="2.1" ry="1.6" fill="#f7f8f9"/>
<ellipse cx="772.4" cy="340.7" rx="3.5" ry="3.2" fill="#9ba1a6" opacity="0.55"/>
<ellipse cx="771.8" cy="339.8" rx="3.5" ry="3.2" fill="#e1e4e7"/>
<ellipse cx="771.3" cy="338.8" rx="2.1" ry="1.6" fill="#f7f8f9"/>
<ellipse cx="778.6" cy="340.7" rx="3.5" ry="3.2" fill="#9ba1a6" opacity="0.55"/>
<ellipse cx="778.0" cy="339.8" rx="3.5" ry="3.2" fill="#e1e4e7"/>
<ellipse cx="777.4" cy="338.8" rx="2.1" ry="1.6" fill="#f7f8f9"/>
<ellipse cx="786.3" cy="340.7" rx="3.5" ry="3.2" fill="#9ba1a6" opacity="0.55"/>
<ellipse cx="785.7" cy="339.8" rx="3.5" ry="3.2" fill="#e1e4e7"/>
<ellipse cx="785.2" cy="338.8" rx="2.1" ry="1.6" fill="#f7f8f9"/>
<ellipse cx="792.4" cy="340.7" rx="3.5" ry="3.2" fill="#9ba1a6" opacity="0.55"/>
<ellipse cx="791.8" cy="339.8" rx="3.5" ry="3.2" fill="#e1e4e7"/>
<ellipse cx="791.3" cy="338.8" rx="2.1" ry="1.6" fill="#f7f8f9"/>
<ellipse cx="691.7" cy="345.8" rx="3.5" ry="3.2" fill="#9ba1a6" opacity="0.55"/>
<ellipse cx="691.1" cy="344.9" rx="3.5" ry="3.2" fill="#e1e4e7"/>
<ellipse cx="690.6" cy="343.9" rx="2.1" ry="1.6" fill="#f7f8f9"/>
<ellipse cx="697.9" cy="345.8" rx="3.5" ry="3.2" fill="#9ba1a6" opacity="0.55"/>
<ellipse cx="697.3" cy="344.9" rx="3.5" ry="3.2" fill="#e1e4e7"/>
<ellipse cx="696.8" cy="343.9" rx="2.1" ry="1.6" fill="#f7f8f9"/>
<ellipse cx="705.8" cy="345.8" rx="3.5" ry="3.2" fill="#9ba1a6" opacity="0.55"/>
<ellipse cx="705.2" cy="344.9" rx="3.5" ry="3.2" fill="#e1e4e7"/>
<ellipse cx="704.7" cy="343.9" rx="2.1" ry="1.6" fill="#f7f8f9"/>
<ellipse cx="712.0" cy="345.8" rx="3.5" ry="3.2" fill="#9ba1a6" opacity="0.55"/>
<ellipse cx="711.4" cy="344.9" rx="3.5" ry="3.2" fill="#e1e4e7"/>
<ellipse cx="710.8" cy="343.9" rx="2.1" ry="1.6" fill="#f7f8f9"/>
<ellipse cx="719.9" cy="345.8" rx="3.5" ry="3.2" fill="#9ba1a6" opacity="0.55"/>
<ellipse cx="719.2" cy="344.9" rx="3.5" ry="3.2" fill="#e1e4e7"/>
<ellipse cx="718.7" cy="343.9" rx="2.1" ry="1.6" fill="#f7f8f9"/>
<ellipse cx="726.0" cy="345.8" rx="3.5" ry="3.2" fill="#9ba1a6" opacity="0.55"/>
<ellipse cx="725.4" cy="344.9" rx="3.5" ry="3.2" fill="#e1e4e7"/>
<ellipse cx="724.9" cy="343.9" rx="2.1" ry="1.6" fill="#f7f8f9"/>
<ellipse cx="733.9" cy="345.8" rx="3.5" ry="3.2" fill="#9ba1a6" opacity="0.55"/>
<ellipse cx="733.3" cy="344.9" rx="3.5" ry="3.2" fill="#e1e4e7"/>
<ellipse cx="732.8" cy="343.9" rx="2.1" ry="1.6" fill="#f7f8f9"/>
<ellipse cx="740.1" cy="345.8" rx="3.5" ry="3.2" fill="#9ba1a6" opacity="0.55"/>
<ellipse cx="739.5" cy="344.9" rx="3.5" ry="3.2" fill="#e1e4e7"/>
<ellipse cx="739.0" cy="343.9" rx="2.1" ry="1.6" fill="#f7f8f9"/>
<ellipse cx="748.0" cy="345.8" rx="3.5" ry="3.2" fill="#9ba1a6" opacity="0.55"/>
<ellipse cx="747.4" cy="344.9" rx="3.5" ry="3.2" fill="#e1e4e7"/>
<ellipse cx="746.8" cy="343.9" rx="2.1" ry="1.6" fill="#f7f8f9"/>
<ellipse cx="754.2" cy="345.8" rx="3.5" ry="3.2" fill="#9ba1a6" opacity="0.55"/>
<ellipse cx="753.6" cy="344.9" rx="3.5" ry="3.2" fill="#e1e4e7"/>
<ellipse cx="753.0" cy="343.9" rx="2.1" ry="1.6" fill="#f7f8f9"/>
<ellipse cx="762.0" cy="345.8" rx="3.5" ry="3.2" fill="#9ba1a6" opacity="0.55"/>
<ellipse cx="761.4" cy="344.9" rx="3.5" ry="3.2" fill="#e1e4e7"/>
<ellipse cx="760.9" cy="343.9" rx="2.1" ry="1.6" fill="#f7f8f9"/>
<ellipse cx="768.2" cy="345.8" rx="3.5" ry="3.2" fill="#9ba1a6" opacity="0.55"/>
<ellipse cx="767.6" cy="344.9" rx="3.5" ry="3.2" fill="#e1e4e7"/>
<ellipse cx="767.1" cy="343.9" rx="2.1" ry="1.6" fill="#f7f8f9"/>
<ellipse cx="776.1" cy="345.8" rx="3.5" ry="3.2" fill="#9ba1a6" opacity="0.55"/>
<ellipse cx="775.5" cy="344.9" rx="3.5" ry="3.2" fill="#e1e4e7"/>
<ellipse cx="775.0" cy="343.9" rx="2.1" ry="1.6" fill="#f7f8f9"/>
<ellipse cx="782.3" cy="345.8" rx="3.5" ry="3.2" fill="#9ba1a6" opacity="0.55"/>
<ellipse cx="781.7" cy="344.9" rx="3.5" ry="3.2" fill="#e1e4e7"/>
<ellipse cx="781.2" cy="343.9" rx="2.1" ry="1.6" fill="#f7f8f9"/>
<ellipse cx="790.2" cy="345.8" rx="3.5" ry="3.2" fill="#9ba1a6" opacity="0.55"/>
<ellipse cx="789.6" cy="344.9" rx="3.5" ry="3.2" fill="#e1e4e7"/>
<ellipse cx="789.0" cy="343.9" rx="2.1" ry="1.6" fill="#f7f8f9"/>
<ellipse cx="796.4" cy="345.8" rx="3.5" ry="3.2" fill="#9ba1a6" opacity="0.55"/>
<ellipse cx="795.8" cy="344.9" rx="3.5" ry="3.2" fill="#e1e4e7"/>
<ellipse cx="795.2" cy="343.9" rx="2.1" ry="1.6" fill="#f7f8f9"/>
<ellipse cx="694.2" cy="350.9" rx="3.6" ry="3.2" fill="#9ba1a6" opacity="0.55"/>
<ellipse cx="693.6" cy="350.0" rx="3.6" ry="3.2" fill="#e1e4e7"/>
<ellipse cx="693.1" cy="349.0" rx="2.1" ry="1.6" fill="#f7f8f9"/>
<ellipse cx="700.5" cy="350.9" rx="3.6" ry="3.2" fill="#9ba1a6" opacity="0.55"/>
<ellipse cx="699.9" cy="350.0" rx="3.6" ry="3.2" fill="#e1e4e7"/>
<ellipse cx="699.4" cy="349.0" rx="2.1" ry="1.6" fill="#f7f8f9"/>
<ellipse cx="708.5" cy="350.9" rx="3.6" ry="3.2" fill="#9ba1a6" opacity="0.55"/>
<ellipse cx="707.9" cy="350.0" rx="3.6" ry="3.2" fill="#e1e4e7"/>
<ellipse cx="707.3" cy="349.0" rx="2.1" ry="1.6" fill="#f7f8f9"/>
<ellipse cx="714.8" cy="350.9" rx="3.6" ry="3.2" fill="#9ba1a6" opacity="0.55"/>
<ellipse cx="714.2" cy="350.0" rx="3.6" ry="3.2" fill="#e1e4e7"/>
<ellipse cx="713.6" cy="349.0" rx="2.1" ry="1.6" fill="#f7f8f9"/>
<ellipse cx="722.7" cy="350.9" rx="3.6" ry="3.2" fill="#9ba1a6" opacity="0.55"/>
<ellipse cx="722.1" cy="350.0" rx="3.6" ry="3.2" fill="#e1e4e7"/>
<ellipse cx="721.6" cy="349.0" rx="2.1" ry="1.6" fill="#f7f8f9"/>
<ellipse cx="729.0" cy="350.9" rx="3.6" ry="3.2" fill="#9ba1a6" opacity="0.55"/>
<ellipse cx="728.4" cy="350.0" rx="3.6" ry="3.2" fill="#e1e4e7"/>
<ellipse cx="727.9" cy="349.0" rx="2.1" ry="1.6" fill="#f7f8f9"/>
<ellipse cx="737.0" cy="350.9" rx="3.6" ry="3.2" fill="#9ba1a6" opacity="0.55"/>
<ellipse cx="736.4" cy="350.0" rx="3.6" ry="3.2" fill="#e1e4e7"/>
<ellipse cx="735.9" cy="349.0" rx="2.1" ry="1.6" fill="#f7f8f9"/>
<ellipse cx="743.3" cy="350.9" rx="3.6" ry="3.2" fill="#9ba1a6" opacity="0.55"/>
<ellipse cx="742.7" cy="350.0" rx="3.6" ry="3.2" fill="#e1e4e7"/>
<ellipse cx="742.1" cy="349.0" rx="2.1" ry="1.6" fill="#f7f8f9"/>
<ellipse cx="751.2" cy="350.9" rx="3.6" ry="3.2" fill="#9ba1a6" opacity="0.55"/>
<ellipse cx="750.6" cy="350.0" rx="3.6" ry="3.2" fill="#e1e4e7"/>
<ellipse cx="750.1" cy="349.0" rx="2.1" ry="1.6" fill="#f7f8f9"/>
<ellipse cx="757.5" cy="350.9" rx="3.6" ry="3.2" fill="#9ba1a6" opacity="0.55"/>
<ellipse cx="756.9" cy="350.0" rx="3.6" ry="3.2" fill="#e1e4e7"/>
<ellipse cx="756.4" cy="349.0" rx="2.1" ry="1.6" fill="#f7f8f9"/>
<ellipse cx="765.5" cy="350.9" rx="3.6" ry="3.2" fill="#9ba1a6" opacity="0.55"/>
<ellipse cx="764.9" cy="350.0" rx="3.6" ry="3.2" fill="#e1e4e7"/>
<ellipse cx="764.4" cy="349.0" rx="2.1" ry="1.6" fill="#f7f8f9"/>
<ellipse cx="771.8" cy="350.9" rx="3.6" ry="3.2" fill="#9ba1a6" opacity="0.55"/>
<ellipse cx="771.2" cy="350.0" rx="3.6" ry="3.2" fill="#e1e4e7"/>
<ellipse cx="770.6" cy="349.0" rx="2.1" ry="1.6" fill="#f7f8f9"/>
<ellipse cx="779.8" cy="350.9" rx="3.6" ry="3.2" fill="#9ba1a6" opacity="0.55"/>
<ellipse cx="779.2" cy="350.0" rx="3.6" ry="3.2" fill="#e1e4e7"/>
<ellipse cx="778.6" cy="349.0" rx="2.1" ry="1.6" fill="#f7f8f9"/>
<ellipse cx="786.0" cy="350.9" rx="3.6" ry="3.2" fill="#9ba1a6" opacity="0.55"/>
<ellipse cx="785.4" cy="350.0" rx="3.6" ry="3.2" fill="#e1e4e7"/>
<ellipse cx="784.9" cy="349.0" rx="2.1" ry="1.6" fill="#f7f8f9"/>
<ellipse cx="794.0" cy="350.9" rx="3.6" ry="3.2" fill="#9ba1a6" opacity="0.55"/>
<ellipse cx="793.4" cy="350.0" rx="3.6" ry="3.2" fill="#e1e4e7"/>
<ellipse cx="792.9" cy="349.0" rx="2.1" ry="1.6" fill="#f7f8f9"/>
<ellipse cx="800.3" cy="350.9" rx="3.6" ry="3.2" fill="#9ba1a6" opacity="0.55"/>
<ellipse cx="799.7" cy="350.0" rx="3.6" ry="3.2" fill="#e1e4e7"/>
<ellipse cx="799.1" cy="349.0" rx="2.1" ry="1.6" fill="#f7f8f9"/>
<ellipse cx="696.7" cy="356.0" rx="3.6" ry="3.2" fill="#9ba1a6" opacity="0.55"/>
<ellipse cx="696.1" cy="355.1" rx="3.6" ry="3.2" fill="#e1e4e7"/>
<ellipse cx="695.6" cy="354.1" rx="2.2" ry="1.6" fill="#f7f8f9"/>
<ellipse cx="703.1" cy="356.0" rx="3.6" ry="3.2" fill="#9ba1a6" opacity="0.55"/>
<ellipse cx="702.5" cy="355.1" rx="3.6" ry="3.2" fill="#e1e4e7"/>
<ellipse cx="701.9" cy="354.1" rx="2.2" ry="1.6" fill="#f7f8f9"/>
<ellipse cx="711.2" cy="356.0" rx="3.6" ry="3.2" fill="#9ba1a6" opacity="0.55"/>
<ellipse cx="710.6" cy="355.1" rx="3.6" ry="3.2" fill="#e1e4e7"/>
<ellipse cx="710.0" cy="354.1" rx="2.2" ry="1.6" fill="#f7f8f9"/>
<ellipse cx="717.5" cy="356.0" rx="3.6" ry="3.2" fill="#9ba1a6" opacity="0.55"/>
<ellipse cx="716.9" cy="355.1" rx="3.6" ry="3.2" fill="#e1e4e7"/>
<ellipse cx="716.4" cy="354.1" rx="2.2" ry="1.6" fill="#f7f8f9"/>
<ellipse cx="725.6" cy="356.0" rx="3.6" ry="3.2" fill="#9ba1a6" opacity="0.55"/>
<ellipse cx="725.0" cy="355.1" rx="3.6" ry="3.2" fill="#e1e4e7"/>
<ellipse cx="724.5" cy="354.1" rx="2.2" ry="1.6" fill="#f7f8f9"/>
<ellipse cx="732.0" cy="356.0" rx="3.6" ry="3.2" fill="#9ba1a6" opacity="0.55"/>
<ellipse cx="731.4" cy="355.1" rx="3.6" ry="3.2" fill="#e1e4e7"/>
<ellipse cx="730.8" cy="354.1" rx="2.2" ry="1.6" fill="#f7f8f9"/>
<ellipse cx="740.1" cy="356.0" rx="3.6" ry="3.2" fill="#9ba1a6" opacity="0.55"/>
<ellipse cx="739.5" cy="355.1" rx="3.6" ry="3.2" fill="#e1e4e7"/>
<ellipse cx="738.9" cy="354.1" rx="2.2" ry="1.6" fill="#f7f8f9"/>
<ellipse cx="746.4" cy="356.0" rx="3.6" ry="3.2" fill="#9ba1a6" opacity="0.55"/>
<ellipse cx="745.8" cy="355.1" rx="3.6" ry="3.2" fill="#e1e4e7"/>
<ellipse cx="745.3" cy="354.1" rx="2.2" ry="1.6" fill="#f7f8f9"/>
<ellipse cx="754.5" cy="356.0" rx="3.6" ry="3.2" fill="#9ba1a6" opacity="0.55"/>
<ellipse cx="753.9" cy="355.1" rx="3.6" ry="3.2" fill="#e1e4e7"/>
<ellipse cx="753.4" cy="354.1" rx="2.2" ry="1.6" fill="#f7f8f9"/>
<ellipse cx="760.9" cy="356.0" rx="3.6" ry="3.2" fill="#9ba1a6" opacity="0.55"/>
<ellipse cx="760.3" cy="355.1" rx="3.6" ry="3.2" fill="#e1e4e7"/>
<ellipse cx="759.7" cy="354.1" rx="2.2" ry="1.6" fill="#f7f8f9"/>
<ellipse cx="769.0" cy="356.0" rx="3.6" ry="3.2" fill="#9ba1a6" opacity="0.55"/>
<ellipse cx="768.4" cy="355.1" rx="3.6" ry="3.2" fill="#e1e4e7"/>
<ellipse cx="767.8" cy="354.1" rx="2.2" ry="1.6" fill="#f7f8f9"/>
<ellipse cx="775.3" cy="356.0" rx="3.6" ry="3.2" fill="#9ba1a6" opacity="0.55"/>
<ellipse cx="774.7" cy="355.1" rx="3.6" ry="3.2" fill="#e1e4e7"/>
<ellipse cx="774.2" cy="354.1" rx="2.2" ry="1.6" fill="#f7f8f9"/>
<ellipse cx="783.4" cy="356.0" rx="3.6" ry="3.2" fill="#9ba1a6" opacity="0.55"/>
<ellipse cx="782.8" cy="355.1" rx="3.6" ry="3.2" fill="#e1e4e7"/>
<ellipse cx="782.3" cy="354.1" rx="2.2" ry="1.6" fill="#f7f8f9"/>
<ellipse cx="789.8" cy="356.0" rx="3.6" ry="3.2" fill="#9ba1a6" opacity="0.55"/>
<ellipse cx="789.2" cy="355.1" rx="3.6" ry="3.2" fill="#e1e4e7"/>
<ellipse cx="788.6" cy="354.1" rx="2.2" ry="1.6" fill="#f7f8f9"/>
<ellipse cx="797.9" cy="356.0" rx="3.6" ry="3.2" fill="#9ba1a6" opacity="0.55"/>
<ellipse cx="797.3" cy="355.1" rx="3.6" ry="3.2" fill="#e1e4e7"/>
<ellipse cx="796.7" cy="354.1" rx="2.2" ry="1.6" fill="#f7f8f9"/>
<ellipse cx="804.2" cy="356.0" rx="3.6" ry="3.2" fill="#9ba1a6" opacity="0.55"/>
<ellipse cx="803.6" cy="355.1" rx="3.6" ry="3.2" fill="#e1e4e7"/>
<ellipse cx="803.1" cy="354.1" rx="2.2" ry="1.6" fill="#f7f8f9"/>
<ellipse cx="699.2" cy="361.1" rx="3.7" ry="3.2" fill="#9ba1a6" opacity="0.55"/>
<ellipse cx="698.6" cy="360.2" rx="3.7" ry="3.2" fill="#e1e4e7"/>
<ellipse cx="698.1" cy="359.2" rx="2.2" ry="1.6" fill="#f7f8f9"/>
<ellipse cx="705.7" cy="361.1" rx="3.7" ry="3.2" fill="#9ba1a6" opacity="0.55"/>
<ellipse cx="705.1" cy="360.2" rx="3.7" ry="3.2" fill="#e1e4e7"/>
<ellipse cx="704.5" cy="359.2" rx="2.2" ry="1.6" fill="#f7f8f9"/>
<ellipse cx="713.9" cy="361.1" rx="3.7" ry="3.2" fill="#9ba1a6" opacity="0.55"/>
<ellipse cx="713.3" cy="360.2" rx="3.7" ry="3.2" fill="#e1e4e7"/>
<ellipse cx="712.7" cy="359.2" rx="2.2" ry="1.6" fill="#f7f8f9"/>
<ellipse cx="720.3" cy="361.1" rx="3.7" ry="3.2" fill="#9ba1a6" opacity="0.55"/>
<ellipse cx="719.7" cy="360.2" rx="3.7" ry="3.2" fill="#e1e4e7"/>
<ellipse cx="719.2" cy="359.2" rx="2.2" ry="1.6" fill="#f7f8f9"/>
<ellipse cx="728.5" cy="361.1" rx="3.7" ry="3.2" fill="#9ba1a6" opacity="0.55"/>
<ellipse cx="727.9" cy="360.2" rx="3.7" ry="3.2" fill="#e1e4e7"/>
<ellipse cx="727.4" cy="359.2" rx="2.2" ry="1.6" fill="#f7f8f9"/>
<ellipse cx="735.0" cy="361.1" rx="3.7" ry="3.2" fill="#9ba1a6" opacity="0.55"/>
<ellipse cx="734.4" cy="360.2" rx="3.7" ry="3.2" fill="#e1e4e7"/>
<ellipse cx="733.8" cy="359.2" rx="2.2" ry="1.6" fill="#f7f8f9"/>
<ellipse cx="743.1" cy="361.1" rx="3.7" ry="3.2" fill="#9ba1a6" opacity="0.55"/>
<ellipse cx="742.5" cy="360.2" rx="3.7" ry="3.2" fill="#e1e4e7"/>
<ellipse cx="742.0" cy="359.2" rx="2.2" ry="1.6" fill="#f7f8f9"/>
<ellipse cx="749.6" cy="361.1" rx="3.7" ry="3.2" fill="#9ba1a6" opacity="0.55"/>
<ellipse cx="749.0" cy="360.2" rx="3.7" ry="3.2" fill="#e1e4e7"/>
<ellipse cx="748.4" cy="359.2" rx="2.2" ry="1.6" fill="#f7f8f9"/>
<ellipse cx="757.8" cy="361.1" rx="3.7" ry="3.2" fill="#9ba1a6" opacity="0.55"/>
<ellipse cx="757.2" cy="360.2" rx="3.7" ry="3.2" fill="#e1e4e7"/>
<ellipse cx="756.6" cy="359.2" rx="2.2" ry="1.6" fill="#f7f8f9"/>
<ellipse cx="764.2" cy="361.1" rx="3.7" ry="3.2" fill="#9ba1a6" opacity="0.55"/>
<ellipse cx="763.6" cy="360.2" rx="3.7" ry="3.2" fill="#e1e4e7"/>
<ellipse cx="763.1" cy="359.2" rx="2.2" ry="1.6" fill="#f7f8f9"/>
<ellipse cx="772.4" cy="361.1" rx="3.7" ry="3.2" fill="#9ba1a6" opacity="0.55"/>
<ellipse cx="771.8" cy="360.2" rx="3.7" ry="3.2" fill="#e1e4e7"/>
<ellipse cx="771.3" cy="359.2" rx="2.2" ry="1.6" fill="#f7f8f9"/>
<ellipse cx="778.9" cy="361.1" rx="3.7" ry="3.2" fill="#9ba1a6" opacity="0.55"/>
<ellipse cx="778.3" cy="360.2" rx="3.7" ry="3.2" fill="#e1e4e7"/>
<ellipse cx="777.7" cy="359.2" rx="2.2" ry="1.6" fill="#f7f8f9"/>
<ellipse cx="787.1" cy="361.1" rx="3.7" ry="3.2" fill="#9ba1a6" opacity="0.55"/>
<ellipse cx="786.5" cy="360.2" rx="3.7" ry="3.2" fill="#e1e4e7"/>
<ellipse cx="785.9" cy="359.2" rx="2.2" ry="1.6" fill="#f7f8f9"/>
<ellipse cx="793.5" cy="361.1" rx="3.7" ry="3.2" fill="#9ba1a6" opacity="0.55"/>
<ellipse cx="792.9" cy="360.2" rx="3.7" ry="3.2" fill="#e1e4e7"/>
<ellipse cx="792.4" cy="359.2" rx="2.2" ry="1.6" fill="#f7f8f9"/>
<ellipse cx="801.7" cy="361.1" rx="3.7" ry="3.2" fill="#9ba1a6" opacity="0.55"/>
<ellipse cx="801.1" cy="360.2" rx="3.7" ry="3.2" fill="#e1e4e7"/>
<ellipse cx="800.5" cy="359.2" rx="2.2" ry="1.6" fill="#f7f8f9"/>
<ellipse cx="808.1" cy="361.1" rx="3.7" ry="3.2" fill="#9ba1a6" opacity="0.55"/>
<ellipse cx="807.5" cy="360.2" rx="3.7" ry="3.2" fill="#e1e4e7"/>
<ellipse cx="807.0" cy="359.2" rx="2.2" ry="1.6" fill="#f7f8f9"/>
<ellipse cx="701.7" cy="366.2" rx="3.7" ry="3.2" fill="#9ba1a6" opacity="0.55"/>
<ellipse cx="701.1" cy="365.3" rx="3.7" ry="3.2" fill="#e1e4e7"/>
<ellipse cx="700.6" cy="364.4" rx="2.2" ry="1.6" fill="#f7f8f9"/>
<ellipse cx="708.3" cy="366.2" rx="3.7" ry="3.2" fill="#9ba1a6" opacity="0.55"/>
<ellipse cx="707.7" cy="365.3" rx="3.7" ry="3.2" fill="#e1e4e7"/>
<ellipse cx="707.1" cy="364.4" rx="2.2" ry="1.6" fill="#f7f8f9"/>
<ellipse cx="716.6" cy="366.2" rx="3.7" ry="3.2" fill="#9ba1a6" opacity="0.55"/>
<ellipse cx="716.0" cy="365.3" rx="3.7" ry="3.2" fill="#e1e4e7"/>
<ellipse cx="715.4" cy="364.4" rx="2.2" ry="1.6" fill="#f7f8f9"/>
<ellipse cx="723.1" cy="366.2" rx="3.7" ry="3.2" fill="#9ba1a6" opacity="0.55"/>
<ellipse cx="722.5" cy="365.3" rx="3.7" ry="3.2" fill="#e1e4e7"/>
<ellipse cx="721.9" cy="364.4" rx="2.2" ry="1.6" fill="#f7f8f9"/>
<ellipse cx="731.4" cy="366.2" rx="3.7" ry="3.2" fill="#9ba1a6" opacity="0.55"/>
<ellipse cx="730.8" cy="365.3" rx="3.7" ry="3.2" fill="#e1e4e7"/>
<ellipse cx="730.2" cy="364.4" rx="2.2" ry="1.6" fill="#f7f8f9"/>
<ellipse cx="737.9" cy="366.2" rx="3.7" ry="3.2" fill="#9ba1a6" opacity="0.55"/>
<ellipse cx="737.3" cy="365.3" rx="3.7" ry="3.2" fill="#e1e4e7"/>
<ellipse cx="736.8" cy="364.4" rx="2.2" ry="1.6" fill="#f7f8f9"/>
<ellipse cx="746.2" cy="366.2" rx="3.7" ry="3.2" fill="#9ba1a6" opacity="0.55"/>
<ellipse cx="745.6" cy="365.3" rx="3.7" ry="3.2" fill="#e1e4e7"/>
<ellipse cx="745.1" cy="364.4" rx="2.2" ry="1.6" fill="#f7f8f9"/>
<ellipse cx="752.8" cy="366.2" rx="3.7" ry="3.2" fill="#9ba1a6" opacity="0.55"/>
<ellipse cx="752.2" cy="365.3" rx="3.7" ry="3.2" fill="#e1e4e7"/>
<ellipse cx="751.6" cy="364.4" rx="2.2" ry="1.6" fill="#f7f8f9"/>
<ellipse cx="761.1" cy="366.2" rx="3.7" ry="3.2" fill="#9ba1a6" opacity="0.55"/>
<ellipse cx="760.5" cy="365.3" rx="3.7" ry="3.2" fill="#e1e4e7"/>
<ellipse cx="759.9" cy="364.4" rx="2.2" ry="1.6" fill="#f7f8f9"/>
<ellipse cx="767.6" cy="366.2" rx="3.7" ry="3.2" fill="#9ba1a6" opacity="0.55"/>
<ellipse cx="767.0" cy="365.3" rx="3.7" ry="3.2" fill="#e1e4e7"/>
<ellipse cx="766.4" cy="364.4" rx="2.2" ry="1.6" fill="#f7f8f9"/>
<ellipse cx="775.9" cy="366.2" rx="3.7" ry="3.2" fill="#9ba1a6" opacity="0.55"/>
<ellipse cx="775.3" cy="365.3" rx="3.7" ry="3.2" fill="#e1e4e7"/>
<ellipse cx="774.7" cy="364.4" rx="2.2" ry="1.6" fill="#f7f8f9"/>
<ellipse cx="782.4" cy="366.2" rx="3.7" ry="3.2" fill="#9ba1a6" opacity="0.55"/>
<ellipse cx="781.8" cy="365.3" rx="3.7" ry="3.2" fill="#e1e4e7"/>
<ellipse cx="781.3" cy="364.4" rx="2.2" ry="1.6" fill="#f7f8f9"/>
<ellipse cx="790.7" cy="366.2" rx="3.7" ry="3.2" fill="#9ba1a6" opacity="0.55"/>
<ellipse cx="790.1" cy="365.3" rx="3.7" ry="3.2" fill="#e1e4e7"/>
<ellipse cx="789.6" cy="364.4" rx="2.2" ry="1.6" fill="#f7f8f9"/>
<ellipse cx="797.2" cy="366.2" rx="3.7" ry="3.2" fill="#9ba1a6" opacity="0.55"/>
<ellipse cx="796.6" cy="365.3" rx="3.7" ry="3.2" fill="#e1e4e7"/>
<ellipse cx="796.1" cy="364.4" rx="2.2" ry="1.6" fill="#f7f8f9"/>
<ellipse cx="805.5" cy="366.2" rx="3.7" ry="3.2" fill="#9ba1a6" opacity="0.55"/>
<ellipse cx="804.9" cy="365.3" rx="3.7" ry="3.2" fill="#e1e4e7"/>
<ellipse cx="804.4" cy="364.4" rx="2.2" ry="1.6" fill="#f7f8f9"/>
<ellipse cx="812.1" cy="366.2" rx="3.7" ry="3.2" fill="#9ba1a6" opacity="0.55"/>
<ellipse cx="811.5" cy="365.3" rx="3.7" ry="3.2" fill="#e1e4e7"/>
<ellipse cx="810.9" cy="364.4" rx="2.2" ry="1.6" fill="#f7f8f9"/>
<ellipse cx="704.3" cy="371.3" rx="3.8" ry="3.2" fill="#9ba1a6" opacity="0.55"/>
<ellipse cx="703.7" cy="370.4" rx="3.8" ry="3.2" fill="#e1e4e7"/>
<ellipse cx="703.1" cy="369.5" rx="2.3" ry="1.6" fill="#f7f8f9"/>
<ellipse cx="710.9" cy="371.3" rx="3.8" ry="3.2" fill="#9ba1a6" opacity="0.55"/>
<ellipse cx="710.3" cy="370.4" rx="3.8" ry="3.2" fill="#e1e4e7"/>
<ellipse cx="709.7" cy="369.5" rx="2.3" ry="1.6" fill="#f7f8f9"/>
<ellipse cx="719.3" cy="371.3" rx="3.8" ry="3.2" fill="#9ba1a6" opacity="0.55"/>
<ellipse cx="718.7" cy="370.4" rx="3.8" ry="3.2" fill="#e1e4e7"/>
<ellipse cx="718.1" cy="369.5" rx="2.3" ry="1.6" fill="#f7f8f9"/>
<ellipse cx="725.9" cy="371.3" rx="3.8" ry="3.2" fill="#9ba1a6" opacity="0.55"/>
<ellipse cx="725.3" cy="370.4" rx="3.8" ry="3.2" fill="#e1e4e7"/>
<ellipse cx="724.7" cy="369.5" rx="2.3" ry="1.6" fill="#f7f8f9"/>
<ellipse cx="734.3" cy="371.3" rx="3.8" ry="3.2" fill="#9ba1a6" opacity="0.55"/>
<ellipse cx="733.7" cy="370.4" rx="3.8" ry="3.2" fill="#e1e4e7"/>
<ellipse cx="733.1" cy="369.5" rx="2.3" ry="1.6" fill="#f7f8f9"/>
<ellipse cx="740.9" cy="371.3" rx="3.8" ry="3.2" fill="#9ba1a6" opacity="0.55"/>
<ellipse cx="740.3" cy="370.4" rx="3.8" ry="3.2" fill="#e1e4e7"/>
<ellipse cx="739.7" cy="369.5" rx="2.3" ry="1.6" fill="#f7f8f9"/>
<ellipse cx="749.3" cy="371.3" rx="3.8" ry="3.2" fill="#9ba1a6" opacity="0.55"/>
<ellipse cx="748.7" cy="370.4" rx="3.8" ry="3.2" fill="#e1e4e7"/>
<ellipse cx="748.1" cy="369.5" rx="2.3" ry="1.6" fill="#f7f8f9"/>
<ellipse cx="755.9" cy="371.3" rx="3.8" ry="3.2" fill="#9ba1a6" opacity="0.55"/>
<ellipse cx="755.3" cy="370.4" rx="3.8" ry="3.2" fill="#e1e4e7"/>
<ellipse cx="754.8" cy="369.5" rx="2.3" ry="1.6" fill="#f7f8f9"/>
<ellipse cx="764.3" cy="371.3" rx="3.8" ry="3.2" fill="#9ba1a6" opacity="0.55"/>
<ellipse cx="763.7" cy="370.4" rx="3.8" ry="3.2" fill="#e1e4e7"/>
<ellipse cx="763.2" cy="369.5" rx="2.3" ry="1.6" fill="#f7f8f9"/>
<ellipse cx="770.9" cy="371.3" rx="3.8" ry="3.2" fill="#9ba1a6" opacity="0.55"/>
<ellipse cx="770.3" cy="370.4" rx="3.8" ry="3.2" fill="#e1e4e7"/>
<ellipse cx="769.8" cy="369.5" rx="2.3" ry="1.6" fill="#f7f8f9"/>
<ellipse cx="779.3" cy="371.3" rx="3.8" ry="3.2" fill="#9ba1a6" opacity="0.55"/>
<ellipse cx="778.7" cy="370.4" rx="3.8" ry="3.2" fill="#e1e4e7"/>
<ellipse cx="778.2" cy="369.5" rx="2.3" ry="1.6" fill="#f7f8f9"/>
<ellipse cx="786.0" cy="371.3" rx="3.8" ry="3.2" fill="#9ba1a6" opacity="0.55"/>
<ellipse cx="785.4" cy="370.4" rx="3.8" ry="3.2" fill="#e1e4e7"/>
<ellipse cx="784.8" cy="369.5" rx="2.3" ry="1.6" fill="#f7f8f9"/>
<ellipse cx="794.4" cy="371.3" rx="3.8" ry="3.2" fill="#9ba1a6" opacity="0.55"/>
<ellipse cx="793.8" cy="370.4" rx="3.8" ry="3.2" fill="#e1e4e7"/>
<ellipse cx="793.2" cy="369.5" rx="2.3" ry="1.6" fill="#f7f8f9"/>
<ellipse cx="801.0" cy="371.3" rx="3.8" ry="3.2" fill="#9ba1a6" opacity="0.55"/>
<ellipse cx="800.4" cy="370.4" rx="3.8" ry="3.2" fill="#e1e4e7"/>
<ellipse cx="799.8" cy="369.5" rx="2.3" ry="1.6" fill="#f7f8f9"/>
<ellipse cx="809.4" cy="371.3" rx="3.8" ry="3.2" fill="#9ba1a6" opacity="0.55"/>
<ellipse cx="808.8" cy="370.4" rx="3.8" ry="3.2" fill="#e1e4e7"/>
<ellipse cx="808.2" cy="369.5" rx="2.3" ry="1.6" fill="#f7f8f9"/>
<ellipse cx="816.0" cy="371.3" rx="3.8" ry="3.2" fill="#9ba1a6" opacity="0.55"/>
<ellipse cx="815.4" cy="370.4" rx="3.8" ry="3.2" fill="#e1e4e7"/>
<ellipse cx="814.8" cy="369.5" rx="2.3" ry="1.6" fill="#f7f8f9"/>
<ellipse cx="706.8" cy="376.4" rx="3.8" ry="3.2" fill="#9ba1a6" opacity="0.55"/>
<ellipse cx="706.2" cy="375.5" rx="3.8" ry="3.2" fill="#e1e4e7"/>
<ellipse cx="705.6" cy="374.6" rx="2.3" ry="1.6" fill="#f7f8f9"/>
<ellipse cx="713.4" cy="376.4" rx="3.8" ry="3.2" fill="#9ba1a6" opacity="0.55"/>
<ellipse cx="712.8" cy="375.5" rx="3.8" ry="3.2" fill="#e1e4e7"/>
<ellipse cx="712.3" cy="374.6" rx="2.3" ry="1.6" fill="#f7f8f9"/>
<ellipse cx="722.0" cy="376.4" rx="3.8" ry="3.2" fill="#9ba1a6" opacity="0.55"/>
<ellipse cx="721.4" cy="375.5" rx="3.8" ry="3.2" fill="#e1e4e7"/>
<ellipse cx="720.8" cy="374.6" rx="2.3" ry="1.6" fill="#f7f8f9"/>
<ellipse cx="728.7" cy="376.4" rx="3.8" ry="3.2" fill="#9ba1a6" opacity="0.55"/>
<ellipse cx="728.1" cy="375.5" rx="3.8" ry="3.2" fill="#e1e4e7"/>
<ellipse cx="727.5" cy="374.6" rx="2.3" ry="1.6" fill="#f7f8f9"/>
<ellipse cx="737.2" cy="376.4" rx="3.8" ry="3.2" fill="#9ba1a6" opacity="0.55"/>
<ellipse cx="736.6" cy="375.5" rx="3.8" ry="3.2" fill="#e1e4e7"/>
<ellipse cx="736.0" cy="374.6" rx="2.3" ry="1.6" fill="#f7f8f9"/>
<ellipse cx="743.9" cy="376.4" rx="3.8" ry="3.2" fill="#9ba1a6" opacity="0.55"/>
<ellipse cx="743.3" cy="375.5" rx="3.8" ry="3.2" fill="#e1e4e7"/>
<ellipse cx="742.7" cy="374.6" rx="2.3" ry="1.6" fill="#f7f8f9"/>
<ellipse cx="752.4" cy="376.4" rx="3.8" ry="3.2" fill="#9ba1a6" opacity="0.55"/>
<ellipse cx="751.8" cy="375.5" rx="3.8" ry="3.2" fill="#e1e4e7"/>
<ellipse cx="751.2" cy="374.6" rx="2.3" ry="1.6" fill="#f7f8f9"/>
<ellipse cx="759.1" cy="376.4" rx="3.8" ry="3.2" fill="#9ba1a6" opacity="0.55"/>
<ellipse cx="758.5" cy="375.5" rx="3.8" ry="3.2" fill="#e1e4e7"/>
<ellipse cx="757.9" cy="374.6" rx="2.3" ry="1.6" fill="#f7f8f9"/>
<ellipse cx="767.6" cy="376.4" rx="3.8" ry="3.2" fill="#9ba1a6" opacity="0.55"/>
<ellipse cx="767.0" cy="375.5" rx="3.8" ry="3.2" fill="#e1e4e7"/>
<ellipse cx="766.4" cy="374.6" rx="2.3" ry="1.6" fill="#f7f8f9"/>
<ellipse cx="774.3" cy="376.4" rx="3.8" ry="3.2" fill="#9ba1a6" opacity="0.55"/>
<ellipse cx="773.7" cy="375.5" rx="3.8" ry="3.2" fill="#e1e4e7"/>
<ellipse cx="773.1" cy="374.6" rx="2.3" ry="1.6" fill="#f7f8f9"/>
<ellipse cx="782.8" cy="376.4" rx="3.8" ry="3.2" fill="#9ba1a6" opacity="0.55"/>
<ellipse cx="782.2" cy="375.5" rx="3.8" ry="3.2" fill="#e1e4e7"/>
<ellipse cx="781.6" cy="374.6" rx="2.3" ry="1.6" fill="#f7f8f9"/>
<ellipse cx="789.5" cy="376.4" rx="3.8" ry="3.2" fill="#9ba1a6" opacity="0.55"/>
<ellipse cx="788.9" cy="375.5" rx="3.8" ry="3.2" fill="#e1e4e7"/>
<ellipse cx="788.3" cy="374.6" rx="2.3" ry="1.6" fill="#f7f8f9"/>
<ellipse cx="798.0" cy="376.4" rx="3.8" ry="3.2" fill="#9ba1a6" opacity="0.55"/>
<ellipse cx="797.4" cy="375.5" rx="3.8" ry="3.2" fill="#e1e4e7"/>
<ellipse cx="796.8" cy="374.6" rx="2.3" ry="1.6" fill="#f7f8f9"/>
<ellipse cx="804.7" cy="376.4" rx="3.8" ry="3.2" fill="#9ba1a6" opacity="0.55"/>
<ellipse cx="804.1" cy="375.5" rx="3.8" ry="3.2" fill="#e1e4e7"/>
<ellipse cx="803.5" cy="374.6" rx="2.3" ry="1.6" fill="#f7f8f9"/>
<ellipse cx="813.2" cy="376.4" rx="3.8" ry="3.2" fill="#9ba1a6" opacity="0.55"/>
<ellipse cx="812.6" cy="375.5" rx="3.8" ry="3.2" fill="#e1e4e7"/>
<ellipse cx="812.1" cy="374.6" rx="2.3" ry="1.6" fill="#f7f8f9"/>
<ellipse cx="819.9" cy="376.4" rx="3.8" ry="3.2" fill="#9ba1a6" opacity="0.55"/>
<ellipse cx="819.3" cy="375.5" rx="3.8" ry="3.2" fill="#e1e4e7"/>
<ellipse cx="818.8" cy="374.6" rx="2.3" ry="1.6" fill="#f7f8f9"/>
<ellipse cx="709.3" cy="381.5" rx="3.9" ry="3.2" fill="#9ba1a6" opacity="0.55"/>
<ellipse cx="708.7" cy="380.6" rx="3.9" ry="3.2" fill="#e1e4e7"/>
<ellipse cx="708.1" cy="379.7" rx="2.3" ry="1.6" fill="#f7f8f9"/>
<ellipse cx="716.0" cy="381.5" rx="3.9" ry="3.2" fill="#9ba1a6" opacity="0.55"/>
<ellipse cx="715.4" cy="380.6" rx="3.9" ry="3.2" fill="#e1e4e7"/>
<ellipse cx="714.9" cy="379.7" rx="2.3" ry="1.6" fill="#f7f8f9"/>
<ellipse cx="724.7" cy="381.5" rx="3.9" ry="3.2" fill="#9ba1a6" opacity="0.55"/>
<ellipse cx="724.1" cy="380.6" rx="3.9" ry="3.2" fill="#e1e4e7"/>
<ellipse cx="723.5" cy="379.7" rx="2.3" ry="1.6" fill="#f7f8f9"/>
<ellipse cx="731.4" cy="381.5" rx="3.9" ry="3.2" fill="#9ba1a6" opacity="0.55"/>
<ellipse cx="730.8" cy="380.6" rx="3.9" ry="3.2" fill="#e1e4e7"/>
<ellipse cx="730.3" cy="379.7" rx="2.3" ry="1.6" fill="#f7f8f9"/>
<ellipse cx="740.1" cy="381.5" rx="3.9" ry="3.2" fill="#9ba1a6" opacity="0.55"/>
<ellipse cx="739.5" cy="380.6" rx="3.9" ry="3.2" fill="#e1e4e7"/>
<ellipse cx="738.9" cy="379.7" rx="2.3" ry="1.6" fill="#f7f8f9"/>
<ellipse cx="746.8" cy="381.5" rx="3.9" ry="3.2" fill="#9ba1a6" opacity="0.55"/>
<ellipse cx="746.2" cy="380.6" rx="3.9" ry="3.2" fill="#e1e4e7"/>
<ellipse cx="745.7" cy="379.7" rx="2.3" ry="1.6" fill="#f7f8f9"/>
<ellipse cx="755.5" cy="381.5" rx="3.9" ry="3.2" fill="#9ba1a6" opacity="0.55"/>
<ellipse cx="754.9" cy="380.6" rx="3.9" ry="3.2" fill="#e1e4e7"/>
<ellipse cx="754.3" cy="379.7" rx="2.3" ry="1.6" fill="#f7f8f9"/>
<ellipse cx="762.2" cy="381.5" rx="3.9" ry="3.2" fill="#9ba1a6" opacity="0.55"/>
<ellipse cx="761.6" cy="380.6" rx="3.9" ry="3.2" fill="#e1e4e7"/>
<ellipse cx="761.1" cy="379.7" rx="2.3" ry="1.6" fill="#f7f8f9"/>
<ellipse cx="770.9" cy="381.5" rx="3.9" ry="3.2" fill="#9ba1a6" opacity="0.55"/>
<ellipse cx="770.3" cy="380.6" rx="3.9" ry="3.2" fill="#e1e4e7"/>
<ellipse cx="769.7" cy="379.7" rx="2.3" ry="1.6" fill="#f7f8f9"/>
<ellipse cx="777.6" cy="381.5" rx="3.9" ry="3.2" fill="#9ba1a6" opacity="0.55"/>
<ellipse cx="777.0" cy="380.6" rx="3.9" ry="3.2" fill="#e1e4e7"/>
<ellipse cx="776.5" cy="379.7" rx="2.3" ry="1.6" fill="#f7f8f9"/>
<ellipse cx="786.3" cy="381.5" rx="3.9" ry="3.2" fill="#9ba1a6" opacity="0.55"/>
<ellipse cx="785.7" cy="380.6" rx="3.9" ry="3.2" fill="#e1e4e7"/>
<ellipse cx="785.1" cy="379.7" rx="2.3" ry="1.6" fill="#f7f8f9"/>
<ellipse cx="793.0" cy="381.5" rx="3.9" ry="3.2" fill="#9ba1a6" opacity="0.55"/>
<ellipse cx="792.4" cy="380.6" rx="3.9" ry="3.2" fill="#e1e4e7"/>
<ellipse cx="791.9" cy="379.7" rx="2.3" ry="1.6" fill="#f7f8f9"/>
<ellipse cx="801.7" cy="381.5" rx="3.9" ry="3.2" fill="#9ba1a6" opacity="0.55"/>
<ellipse cx="801.1" cy="380.6" rx="3.9" ry="3.2" fill="#e1e4e7"/>
<ellipse cx="800.5" cy="379.7" rx="2.3" ry="1.6" fill="#f7f8f9"/>
<ellipse cx="808.4" cy="381.5" rx="3.9" ry="3.2" fill="#9ba1a6" opacity="0.55"/>
<ellipse cx="807.8" cy="380.6" rx="3.9" ry="3.2" fill="#e1e4e7"/>
<ellipse cx="807.3" cy="379.7" rx="2.3" ry="1.6" fill="#f7f8f9"/>
<ellipse cx="817.1" cy="381.5" rx="3.9" ry="3.2" fill="#9ba1a6" opacity="0.55"/>
<ellipse cx="816.5" cy="380.6" rx="3.9" ry="3.2" fill="#e1e4e7"/>
<ellipse cx="815.9" cy="379.7" rx="2.3" ry="1.6" fill="#f7f8f9"/>
<ellipse cx="823.9" cy="381.5" rx="3.9" ry="3.2" fill="#9ba1a6" opacity="0.55"/>
<ellipse cx="823.2" cy="380.6" rx="3.9" ry="3.2" fill="#e1e4e7"/>
<ellipse cx="822.7" cy="379.7" rx="2.3" ry="1.6" fill="#f7f8f9"/>
<ellipse cx="711.8" cy="386.6" rx="3.9" ry="3.2" fill="#9ba1a6" opacity="0.55"/>
<ellipse cx="711.2" cy="385.7" rx="3.9" ry="3.2" fill="#e1e4e7"/>
<ellipse cx="710.6" cy="384.8" rx="2.3" ry="1.6" fill="#f7f8f9"/>
<ellipse cx="718.6" cy="386.6" rx="3.9" ry="3.2" fill="#9ba1a6" opacity="0.55"/>
<ellipse cx="718.0" cy="385.7" rx="3.9" ry="3.2" fill="#e1e4e7"/>
<ellipse cx="717.4" cy="384.8" rx="2.3" ry="1.6" fill="#f7f8f9"/>
<ellipse cx="727.4" cy="386.6" rx="3.9" ry="3.2" fill="#9ba1a6" opacity="0.55"/>
<ellipse cx="726.8" cy="385.7" rx="3.9" ry="3.2" fill="#e1e4e7"/>
<ellipse cx="726.2" cy="384.8" rx="2.3" ry="1.6" fill="#f7f8f9"/>
<ellipse cx="734.2" cy="386.6" rx="3.9" ry="3.2" fill="#9ba1a6" opacity="0.55"/>
<ellipse cx="733.6" cy="385.7" rx="3.9" ry="3.2" fill="#e1e4e7"/>
<ellipse cx="733.0" cy="384.8" rx="2.3" ry="1.6" fill="#f7f8f9"/>
<ellipse cx="743.0" cy="386.6" rx="3.9" ry="3.2" fill="#9ba1a6" opacity="0.55"/>
<ellipse cx="742.4" cy="385.7" rx="3.9" ry="3.2" fill="#e1e4e7"/>
<ellipse cx="741.8" cy="384.8" rx="2.3" ry="1.6" fill="#f7f8f9"/>
<ellipse cx="749.8" cy="386.6" rx="3.9" ry="3.2" fill="#9ba1a6" opacity="0.55"/>
<ellipse cx="749.2" cy="385.7" rx="3.9" ry="3.2" fill="#e1e4e7"/>
<ellipse cx="748.6" cy="384.8" rx="2.3" ry="1.6" fill="#f7f8f9"/>
<ellipse cx="758.5" cy="386.6" rx="3.9" ry="3.2" fill="#9ba1a6" opacity="0.55"/>
<ellipse cx="757.9" cy="385.7" rx="3.9" ry="3.2" fill="#e1e4e7"/>
<ellipse cx="757.4" cy="384.8" rx="2.3" ry="1.6" fill="#f7f8f9"/>
<ellipse cx="765.4" cy="386.6" rx="3.9" ry="3.2" fill="#9ba1a6" opacity="0.55"/>
<ellipse cx="764.8" cy="385.7" rx="3.9" ry="3.2" fill="#e1e4e7"/>
<ellipse cx="764.2" cy="384.8" rx="2.3" ry="1.6" fill="#f7f8f9"/>
<ellipse cx="774.1" cy="386.6" rx="3.9" ry="3.2" fill="#9ba1a6" opacity="0.55"/>
<ellipse cx="773.5" cy="385.7" rx="3.9" ry="3.2" fill="#e1e4e7"/>
<ellipse cx="773.0" cy="384.8" rx="2.3" ry="1.6" fill="#f7f8f9"/>
<ellipse cx="781.0" cy="386.6" rx="3.9" ry="3.2" fill="#9ba1a6" opacity="0.55"/>
<ellipse cx="780.4" cy="385.7" rx="3.9" ry="3.2" fill="#e1e4e7"/>
<ellipse cx="779.8" cy="384.8" rx="2.3" ry="1.6" fill="#f7f8f9"/>
<ellipse cx="789.7" cy="386.6" rx="3.9" ry="3.2" fill="#9ba1a6" opacity="0.55"/>
<ellipse cx="789.1" cy="385.7" rx="3.9" ry="3.2" fill="#e1e4e7"/>
<ellipse cx="788.5" cy="384.8" rx="2.3" ry="1.6" fill="#f7f8f9"/>
<ellipse cx="796.6" cy="386.6" rx="3.9" ry="3.2" fill="#9ba1a6" opacity="0.55"/>
<ellipse cx="796.0" cy="385.7" rx="3.9" ry="3.2" fill="#e1e4e7"/>
<ellipse cx="795.4" cy="384.8" rx="2.3" ry="1.6" fill="#f7f8f9"/>
<ellipse cx="805.3" cy="386.6" rx="3.9" ry="3.2" fill="#9ba1a6" opacity="0.55"/>
<ellipse cx="804.7" cy="385.7" rx="3.9" ry="3.2" fill="#e1e4e7"/>
<ellipse cx="804.1" cy="384.8" rx="2.3" ry="1.6" fill="#f7f8f9"/>
<ellipse cx="812.2" cy="386.6" rx="3.9" ry="3.2" fill="#9ba1a6" opacity="0.55"/>
<ellipse cx="811.6" cy="385.7" rx="3.9" ry="3.2" fill="#e1e4e7"/>
<ellipse cx="811.0" cy="384.8" rx="2.3" ry="1.6" fill="#f7f8f9"/>
<ellipse cx="820.9" cy="386.6" rx="3.9" ry="3.2" fill="#9ba1a6" opacity="0.55"/>
<ellipse cx="820.3" cy="385.7" rx="3.9" ry="3.2" fill="#e1e4e7"/>
<ellipse cx="819.7" cy="384.8" rx="2.3" ry="1.6" fill="#f7f8f9"/>
<ellipse cx="827.8" cy="386.6" rx="3.9" ry="3.2" fill="#9ba1a6" opacity="0.55"/>
<ellipse cx="827.2" cy="385.7" rx="3.9" ry="3.2" fill="#e1e4e7"/>
<ellipse cx="826.6" cy="384.8" rx="2.3" ry="1.6" fill="#f7f8f9"/>
<ellipse cx="714.3" cy="391.7" rx="3.9" ry="3.2" fill="#9ba1a6" opacity="0.55"/>
<ellipse cx="713.7" cy="390.8" rx="3.9" ry="3.2" fill="#e1e4e7"/>
<ellipse cx="713.1" cy="389.9" rx="2.4" ry="1.6" fill="#f7f8f9"/>
<ellipse cx="721.2" cy="391.7" rx="3.9" ry="3.2" fill="#9ba1a6" opacity="0.55"/>
<ellipse cx="720.6" cy="390.8" rx="3.9" ry="3.2" fill="#e1e4e7"/>
<ellipse cx="720.0" cy="389.9" rx="2.4" ry="1.6" fill="#f7f8f9"/>
<ellipse cx="730.1" cy="391.7" rx="3.9" ry="3.2" fill="#9ba1a6" opacity="0.55"/>
<ellipse cx="729.5" cy="390.8" rx="3.9" ry="3.2" fill="#e1e4e7"/>
<ellipse cx="728.9" cy="389.9" rx="2.4" ry="1.6" fill="#f7f8f9"/>
<ellipse cx="737.0" cy="391.7" rx="3.9" ry="3.2" fill="#9ba1a6" opacity="0.55"/>
<ellipse cx="736.4" cy="390.8" rx="3.9" ry="3.2" fill="#e1e4e7"/>
<ellipse cx="735.8" cy="389.9" rx="2.4" ry="1.6" fill="#f7f8f9"/>
<ellipse cx="745.8" cy="391.7" rx="3.9" ry="3.2" fill="#9ba1a6" opacity="0.55"/>
<ellipse cx="745.2" cy="390.8" rx="3.9" ry="3.2" fill="#e1e4e7"/>
<ellipse cx="744.6" cy="389.9" rx="2.4" ry="1.6" fill="#f7f8f9"/>
<ellipse cx="752.8" cy="391.7" rx="3.9" ry="3.2" fill="#9ba1a6" opacity="0.55"/>
<ellipse cx="752.2" cy="390.8" rx="3.9" ry="3.2" fill="#e1e4e7"/>
<ellipse cx="751.6" cy="389.9" rx="2.4" ry="1.6" fill="#f7f8f9"/>
<ellipse cx="761.6" cy="391.7" rx="3.9" ry="3.2" fill="#9ba1a6" opacity="0.55"/>
<ellipse cx="761.0" cy="390.8" rx="3.9" ry="3.2" fill="#e1e4e7"/>
<ellipse cx="760.4" cy="389.9" rx="2.4" ry="1.6" fill="#f7f8f9"/>
<ellipse cx="768.6" cy="391.7" rx="3.9" ry="3.2" fill="#9ba1a6" opacity="0.55"/>
<ellipse cx="768.0" cy="390.8" rx="3.9" ry="3.2" fill="#e1e4e7"/>
<ellipse cx="767.4" cy="389.9" rx="2.4" ry="1.6" fill="#f7f8f9"/>
<ellipse cx="777.4" cy="391.7" rx="3.9" ry="3.2" fill="#9ba1a6" opacity="0.55"/>
<ellipse cx="776.8" cy="390.8" rx="3.9" ry="3.2" fill="#e1e4e7"/>
<ellipse cx="776.2" cy="389.9" rx="2.4" ry="1.6" fill="#f7f8f9"/>
<ellipse cx="784.4" cy="391.7" rx="3.9" ry="3.2" fill="#9ba1a6" opacity="0.55"/>
<ellipse cx="783.8" cy="390.8" rx="3.9" ry="3.2" fill="#e1e4e7"/>
<ellipse cx="783.2" cy="389.9" rx="2.4" ry="1.6" fill="#f7f8f9"/>
<ellipse cx="793.2" cy="391.7" rx="3.9" ry="3.2" fill="#9ba1a6" opacity="0.55"/>
<ellipse cx="792.6" cy="390.8" rx="3.9" ry="3.2" fill="#e1e4e7"/>
<ellipse cx="792.0" cy="389.9" rx="2.4" ry="1.6" fill="#f7f8f9"/>
<ellipse cx="800.1" cy="391.7" rx="3.9" ry="3.2" fill="#9ba1a6" opacity="0.55"/>
<ellipse cx="799.5" cy="390.8" rx="3.9" ry="3.2" fill="#e1e4e7"/>
<ellipse cx="798.9" cy="389.9" rx="2.4" ry="1.6" fill="#f7f8f9"/>
<ellipse cx="809.0" cy="391.7" rx="3.9" ry="3.2" fill="#9ba1a6" opacity="0.55"/>
<ellipse cx="808.4" cy="390.8" rx="3.9" ry="3.2" fill="#e1e4e7"/>
<ellipse cx="807.8" cy="389.9" rx="2.4" ry="1.6" fill="#f7f8f9"/>
<ellipse cx="815.9" cy="391.7" rx="3.9" ry="3.2" fill="#9ba1a6" opacity="0.55"/>
<ellipse cx="815.3" cy="390.8" rx="3.9" ry="3.2" fill="#e1e4e7"/>
<ellipse cx="814.7" cy="389.9" rx="2.4" ry="1.6" fill="#f7f8f9"/>
<ellipse cx="824.8" cy="391.7" rx="3.9" ry="3.2" fill="#9ba1a6" opacity="0.55"/>
<ellipse cx="824.2" cy="390.8" rx="3.9" ry="3.2" fill="#e1e4e7"/>
<ellipse cx="823.6" cy="389.9" rx="2.4" ry="1.6" fill="#f7f8f9"/>
<ellipse cx="831.7" cy="391.7" rx="3.9" ry="3.2" fill="#9ba1a6" opacity="0.55"/>
<ellipse cx="831.1" cy="390.8" rx="3.9" ry="3.2" fill="#e1e4e7"/>
<ellipse cx="830.5" cy="389.9" rx="2.4" ry="1.6" fill="#f7f8f9"/>
<ellipse cx="716.8" cy="396.8" rx="4.0" ry="3.2" fill="#9ba1a6" opacity="0.55"/>
<ellipse cx="716.2" cy="395.9" rx="4.0" ry="3.2" fill="#e1e4e7"/>
<ellipse cx="715.6" cy="395.0" rx="2.4" ry="1.6" fill="#f7f8f9"/>
<ellipse cx="723.8" cy="396.8" rx="4.0" ry="3.2" fill="#9ba1a6" opacity="0.55"/>
<ellipse cx="723.2" cy="395.9" rx="4.0" ry="3.2" fill="#e1e4e7"/>
<ellipse cx="722.6" cy="395.0" rx="2.4" ry="1.6" fill="#f7f8f9"/>
<ellipse cx="732.8" cy="396.8" rx="4.0" ry="3.2" fill="#9ba1a6" opacity="0.55"/>
<ellipse cx="732.2" cy="395.9" rx="4.0" ry="3.2" fill="#e1e4e7"/>
<ellipse cx="731.6" cy="395.0" rx="2.4" ry="1.6" fill="#f7f8f9"/>
<ellipse cx="739.8" cy="396.8" rx="4.0" ry="3.2" fill="#9ba1a6" opacity="0.55"/>
<ellipse cx="739.2" cy="395.9" rx="4.0" ry="3.2" fill="#e1e4e7"/>
<ellipse cx="738.6" cy="395.0" rx="2.4" ry="1.6" fill="#f7f8f9"/>
<ellipse cx="748.7" cy="396.8" rx="4.0" ry="3.2" fill="#9ba1a6" opacity="0.55"/>
<ellipse cx="748.1" cy="395.9" rx="4.0" ry="3.2" fill="#e1e4e7"/>
<ellipse cx="747.5" cy="395.0" rx="2.4" ry="1.6" fill="#f7f8f9"/>
<ellipse cx="755.8" cy="396.8" rx="4.0" ry="3.2" fill="#9ba1a6" opacity="0.55"/>
<ellipse cx="755.2" cy="395.9" rx="4.0" ry="3.2" fill="#e1e4e7"/>
<ellipse cx="754.6" cy="395.0" rx="2.4" ry="1.6" fill="#f7f8f9"/>
<ellipse cx="764.7" cy="396.8" rx="4.0" ry="3.2" fill="#9ba1a6" opacity="0.55"/>
<ellipse cx="764.1" cy="395.9" rx="4.0" ry="3.2" fill="#e1e4e7"/>
<ellipse cx="763.5" cy="395.0" rx="2.4" ry="1.6" fill="#f7f8f9"/>
<ellipse cx="771.7" cy="396.8" rx="4.0" ry="3.2" fill="#9ba1a6" opacity="0.55"/>
<ellipse cx="771.1" cy="395.9" rx="4.0" ry="3.2" fill="#e1e4e7"/>
<ellipse cx="770.5" cy="395.0" rx="2.4" ry="1.6" fill="#f7f8f9"/>
<ellipse cx="780.7" cy="396.8" rx="4.0" ry="3.2" fill="#9ba1a6" opacity="0.55"/>
<ellipse cx="780.1" cy="395.9" rx="4.0" ry="3.2" fill="#e1e4e7"/>
<ellipse cx="779.5" cy="395.0" rx="2.4" ry="1.6" fill="#f7f8f9"/>
<ellipse cx="787.7" cy="396.8" rx="4.0" ry="3.2" fill="#9ba1a6" opacity="0.55"/>
<ellipse cx="787.1" cy="395.9" rx="4.0" ry="3.2" fill="#e1e4e7"/>
<ellipse cx="786.5" cy="395.0" rx="2.4" ry="1.6" fill="#f7f8f9"/>
<ellipse cx="796.7" cy="396.8" rx="4.0" ry="3.2" fill="#9ba1a6" opacity="0.55"/>
<ellipse cx="796.1" cy="395.9" rx="4.0" ry="3.2" fill="#e1e4e7"/>
<ellipse cx="795.5" cy="395.0" rx="2.4" ry="1.6" fill="#f7f8f9"/>
<ellipse cx="803.7" cy="396.8" rx="4.0" ry="3.2" fill="#9ba1a6" opacity="0.55"/>
<ellipse cx="803.1" cy="395.9" rx="4.0" ry="3.2" fill="#e1e4e7"/>
<ellipse cx="802.5" cy="395.0" rx="2.4" ry="1.6" fill="#f7f8f9"/>
<ellipse cx="812.6" cy="396.8" rx="4.0" ry="3.2" fill="#9ba1a6" opacity="0.55"/>
<ellipse cx="812.0" cy="395.9" rx="4.0" ry="3.2" fill="#e1e4e7"/>
<ellipse cx="811.4" cy="395.0" rx="2.4" ry="1.6" fill="#f7f8f9"/>
<ellipse cx="819.7" cy="396.8" rx="4.0" ry="3.2" fill="#9ba1a6" opacity="0.55"/>
<ellipse cx="819.1" cy="395.9" rx="4.0" ry="3.2" fill="#e1e4e7"/>
<ellipse cx="818.5" cy="395.0" rx="2.4" ry="1.6" fill="#f7f8f9"/>
<ellipse cx="828.6" cy="396.8" rx="4.0" ry="3.2" fill="#9ba1a6" opacity="0.55"/>
<ellipse cx="828.0" cy="395.9" rx="4.0" ry="3.2" fill="#e1e4e7"/>
<ellipse cx="827.4" cy="395.0" rx="2.4" ry="1.6" fill="#f7f8f9"/>
<ellipse cx="835.6" cy="396.8" rx="4.0" ry="3.2" fill="#9ba1a6" opacity="0.55"/>
<ellipse cx="835.0" cy="395.9" rx="4.0" ry="3.2" fill="#e1e4e7"/>
<ellipse cx="834.4" cy="395.0" rx="2.4" ry="1.6" fill="#f7f8f9"/>
<line x1="655.0" y1="256" x2="729.0" y2="398" stroke="#a3a8ad" stroke-width="1.2" opacity="0.8"/>
<line x1="665.7" y1="256" x2="745.1" y2="398" stroke="#a3a8ad" stroke-width="1.2" opacity="0.8"/>
<line x1="676.4" y1="256" x2="761.1" y2="398" stroke="#a3a8ad" stroke-width="1.2" opacity="0.8"/>
<line x1="687.1" y1="256" x2="777.2" y2="398" stroke="#a3a8ad" stroke-width="1.2" opacity="0.8"/>
<line x1="697.9" y1="256" x2="793.3" y2="398" stroke="#a3a8ad" stroke-width="1.2" opacity="0.8"/>
<line x1="708.6" y1="256" x2="809.4" y2="398" stroke="#a3a8ad" stroke-width="1.2" opacity="0.8"/>
<line x1="719.3" y1="256" x2="825.4" y2="398" stroke="#a3a8ad" stroke-width="1.2" opacity="0.8"/>
<line x1="730.0" y1="256" x2="841.5" y2="398" stroke="#a3a8ad" stroke-width="1.2" opacity="0.8"/>
<rect x="722" y="397.5" width="119.5" height="58.5" fill="#9a9fa4"/>
<rect x="724.9" y="400" width="15.2" height="56.5" rx="5" fill="#e3e5e8"/>
<rect x="725.8" y="402.0" width="13.4" height="15.5" rx="6" fill="#eff0f2"/>
<rect x="725.8" y="420.0" width="13.4" height="15.5" rx="6" fill="#eff0f2"/>
<rect x="725.8" y="438.0" width="13.4" height="15.5" rx="6" fill="#eff0f2"/>
<rect x="741.5" y="400" width="15.2" height="56.5" rx="5" fill="#e3e5e8"/>
<rect x="742.4" y="402.0" width="13.4" height="15.5" rx="6" fill="#eff0f2"/>
<rect x="742.4" y="420.0" width="13.4" height="15.5" rx="6" fill="#eff0f2"/>
<rect x="742.4" y="438.0" width="13.4" height="15.5" rx="6" fill="#eff0f2"/>
<rect x="758.1" y="400" width="15.2" height="56.5" rx="5" fill="#e3e5e8"/>
<rect x="759.0" y="402.0" width="13.4" height="15.5" rx="6" fill="#eff0f2"/>
<rect x="759.0" y="420.0" width="13.4" height="15.5" rx="6" fill="#eff0f2"/>
<rect x="759.0" y="438.0" width="13.4" height="15.5" rx="6" fill="#eff0f2"/>
<rect x="774.7" y="400" width="15.2" height="56.5" rx="5" fill="#e3e5e8"/>
<rect x="775.6" y="402.0" width="13.4" height="15.5" rx="6" fill="#eff0f2"/>
<rect x="775.6" y="420.0" width="13.4" height="15.5" rx="6" fill="#eff0f2"/>
<rect x="775.6" y="438.0" width="13.4" height="15.5" rx="6" fill="#eff0f2"/>
<rect x="791.3" y="400" width="15.2" height="56.5" rx="5" fill="#e3e5e8"/>
<rect x="792.2" y="402.0" width="13.4" height="15.5" rx="6" fill="#eff0f2"/>
<rect x="792.2" y="420.0" width="13.4" height="15.5" rx="6" fill="#eff0f2"/>
<rect x="792.2" y="438.0" width="13.4" height="15.5" rx="6" fill="#eff0f2"/>
<rect x="807.9" y="400" width="15.2" height="56.5" rx="5" fill="#e3e5e8"/>
<rect x="808.8" y="402.0" width="13.4" height="15.5" rx="6" fill="#eff0f2"/>
<rect x="808.8" y="420.0" width="13.4" height="15.5" rx="6" fill="#eff0f2"/>
<rect x="808.8" y="438.0" width="13.4" height="15.5" rx="6" fill="#eff0f2"/>
<rect x="824.5" y="400" width="15.2" height="56.5" rx="5" fill="#e3e5e8"/>
<rect x="825.4" y="402.0" width="13.4" height="15.5" rx="6" fill="#eff0f2"/>
<rect x="825.4" y="420.0" width="13.4" height="15.5" rx="6" fill="#eff0f2"/>
<rect x="825.4" y="438.0" width="13.4" height="15.5" rx="6" fill="#eff0f2"/>
<path d="M57,407 L589,408 L589,512 L72,513 Q64,513 63.5,504 L58,430 Q57,420 57,407 Z" fill="#c2cad2"/>
<g clip-path="url(#clipbox)"><polyline points="50,401.6 52,401.3 54,400.7 56,399.8 58,398.7 60,397.4 62,395.9 64,394.5 66,393.0 68,391.7 70,390.5 72,389.6 74,389.0 76,388.6 78,388.6 80,389.0 82,389.6 84,390.5 86,391.7 88,393.0 90,394.5 92,395.9 94,397.4 96,398.7 98,399.8 100,400.7 102,401.3 104,401.6 106,401.5 108,401.2 110,400.5 112,399.5 114,398.4 116,397.0 118,395.6 120,394.1 122,392.7 124,391.4 126,390.3 128,389.4 130,388.9 132,388.6 134,388.7 136,389.1 138,389.8 140,390.8 142,392.0 144,393.4 146,394.8 148,396.3 150,397.7 152,399.0 154,400.0 156,400.9 158,401.4 160,401.6 162,401.5 164,401.0 166,400.3 168,399.3 170,398.0 172,396.6 174,395.2 176,393.7 178,392.3 180,391.1 182,390.0 184,389.3 186,388.8 188,388.6 190,388.8 192,389.3 194,390.0 196,391.1 198,392.3 200,393.7 202,395.2 204,396.6 206,398.0 208,399.3 210,400.3 212,401.0 214,401.5 216,401.6 218,401.4 220,400.9 222,400.0 224,399.0 226,397.7 228,396.3 230,394.8 232,393.4 234,392.0 236,390.8 238,389.8 240,389.1 242,388.7 244,388.6 246,388.9 248,389.4 250,390.3 252,391.4 254,392.7 256,394.1 258,395.6 260,397.0 262,398.4 264,399.5 266,400.5 268,401.2 270,401.5 272,401.6 274,401.3 276,400.7 278,399.8 280,398.7 282,397.4 284,395.9 286,394.5 288,393.0 290,391.7 292,390.5 294,389.6 296,389.0 298,388.6 300,388.6 302,389.0 304,389.6 306,390.5 308,391.7 310,393.0 312,394.5 314,395.9 316,397.4 318,398.7 320,399.8 322,400.7 324,401.3 326,401.6 328,401.5 330,401.2 332,400.5 334,399.5 336,398.4 338,397.0 340,395.6 342,394.1 344,392.7 346,391.4 348,390.3 350,389.4 352,388.9 354,388.6 356,388.7 358,389.1 360,389.8 362,390.8 364,392.0 366,393.4 368,394.8 370,396.3 372,397.7 374,399.0 376,400.0 378,400.9 380,401.4 382,401.6 384,401.5 386,401.0 388,400.3 390,399.3 392,398.0 394,396.6 396,395.2 398,393.7 400,392.3 402,391.1 404,390.0 406,389.3 408,388.8 410,388.6 412,388.8 414,389.3 416,390.0 418,391.1 420,392.3 422,393.7 424,395.2 426,396.6 428,398.0 430,399.3 432,400.3 434,401.0 436,401.5 438,401.6 440,401.4 442,400.9 444,400.0 446,399.0 448,397.7 450,396.3 452,394.8 454,393.4 456,392.0 458,390.8 460,389.8 462,389.1 464,388.7 466,388.6 468,388.9 470,389.4 472,390.3 474,391.4 476,392.7 478,394.1 480,395.6 482,397.0 484,398.4 486,399.5 488,400.5 490,401.2 492,401.5 494,401.6 496,401.3 498,400.7 500,399.8 502,398.7 504,397.4 506,395.9 508,394.5 510,393.0 512,391.7 514,390.5 516,389.6 518,389.0 520,388.6 522,388.6 524,389.0 526,389.6 528,390.5 530,391.7 532,393.0 534,394.5 536,395.9 538,397.4 540,398.7 542,399.8 544,400.7 546,401.3 548,401.6 550,401.5 552,401.2 554,400.5 556,399.5 558,398.4 560,397.0 562,395.6 564,394.1 566,392.7 568,391.4 570,390.3 572,389.4 574,388.9 576,388.6 578,388.7 580,389.1 582,389.8 584,390.8 586,392.0 588,393.4 590,394.8 592,396.3 594,397.7" fill="none" stroke="#cfd6dc" stroke-width="3" transform="translate(0,2.2)"/>
<polyline points="50,401.6 52,401.3 54,400.7 56,399.8 58,398.7 60,397.4 62,395.9 64,394.5 66,393.0 68,391.7 70,390.5 72,389.6 74,389.0 76,388.6 78,388.6 80,389.0 82,389.6 84,390.5 86,391.7 88,393.0 90,394.5 92,395.9 94,397.4 96,398.7 98,399.8 100,400.7 102,401.3 104,401.6 106,401.5 108,401.2 110,400.5 112,399.5 114,398.4 116,397.0 118,395.6 120,394.1 122,392.7 124,391.4 126,390.3 128,389.4 130,388.9 132,388.6 134,388.7 136,389.1 138,389.8 140,390.8 142,392.0 144,393.4 146,394.8 148,396.3 150,397.7 152,399.0 154,400.0 156,400.9 158,401.4 160,401.6 162,401.5 164,401.0 166,400.3 168,399.3 170,398.0 172,396.6 174,395.2 176,393.7 178,392.3 180,391.1 182,390.0 184,389.3 186,388.8 188,388.6 190,388.8 192,389.3 194,390.0 196,391.1 198,392.3 200,393.7 202,395.2 204,396.6 206,398.0 208,399.3 210,400.3 212,401.0 214,401.5 216,401.6 218,401.4 220,400.9 222,400.0 224,399.0 226,397.7 228,396.3 230,394.8 232,393.4 234,392.0 236,390.8 238,389.8 240,389.1 242,388.7 244,388.6 246,388.9 248,389.4 250,390.3 252,391.4 254,392.7 256,394.1 258,395.6 260,397.0 262,398.4 264,399.5 266,400.5 268,401.2 270,401.5 272,401.6 274,401.3 276,400.7 278,399.8 280,398.7 282,397.4 284,395.9 286,394.5 288,393.0 290,391.7 292,390.5 294,389.6 296,389.0 298,388.6 300,388.6 302,389.0 304,389.6 306,390.5 308,391.7 310,393.0 312,394.5 314,395.9 316,397.4 318,398.7 320,399.8 322,400.7 324,401.3 326,401.6 328,401.5 330,401.2 332,400.5 334,399.5 336,398.4 338,397.0 340,395.6 342,394.1 344,392.7 346,391.4 348,390.3 350,389.4 352,388.9 354,388.6 356,388.7 358,389.1 360,389.8 362,390.8 364,392.0 366,393.4 368,394.8 370,396.3 372,397.7 374,399.0 376,400.0 378,400.9 380,401.4 382,401.6 384,401.5 386,401.0 388,400.3 390,399.3 392,398.0 394,396.6 396,395.2 398,393.7 400,392.3 402,391.1 404,390.0 406,389.3 408,388.8 410,388.6 412,388.8 414,389.3 416,390.0 418,391.1 420,392.3 422,393.7 424,395.2 426,396.6 428,398.0 430,399.3 432,400.3 434,401.0 436,401.5 438,401.6 440,401.4 442,400.9 444,400.0 446,399.0 448,397.7 450,396.3 452,394.8 454,393.4 456,392.0 458,390.8 460,389.8 462,389.1 464,388.7 466,388.6 468,388.9 470,389.4 472,390.3 474,391.4 476,392.7 478,394.1 480,395.6 482,397.0 484,398.4 486,399.5 488,400.5 490,401.2 492,401.5 494,401.6 496,401.3 498,400.7 500,399.8 502,398.7 504,397.4 506,395.9 508,394.5 510,393.0 512,391.7 514,390.5 516,389.6 518,389.0 520,388.6 522,388.6 524,389.0 526,389.6 528,390.5 530,391.7 532,393.0 534,394.5 536,395.9 538,397.4 540,398.7 542,399.8 544,400.7 546,401.3 548,401.6 550,401.5 552,401.2 554,400.5 556,399.5 558,398.4 560,397.0 562,395.6 564,394.1 566,392.7 568,391.4 570,390.3 572,389.4 574,388.9 576,388.6 578,388.7 580,389.1 582,389.8 584,390.8 586,392.0 588,393.4 590,394.8 592,396.3 594,397.7" fill="none" stroke="#a9b2b9" stroke-width="1.2"/>
<polyline points="50,420.5 52,420.2 54,419.6 56,418.7 58,417.6 60,416.3 62,414.8 64,413.4 66,411.9 68,410.6 70,409.4 72,408.5 74,407.9 76,407.5 78,407.5 80,407.9 82,408.5 84,409.4 86,410.6 88,411.9 90,413.4 92,414.8 94,416.3 96,417.6 98,418.7 100,419.6 102,420.2 104,420.5 106,420.4 108,420.1 110,419.4 112,418.4 114,417.2 116,415.9 118,414.5 120,413.0 122,411.6 124,410.3 126,409.2 128,408.3 130,407.8 132,407.5 134,407.6 136,408.0 138,408.7 140,409.7 142,410.9 144,412.3 146,413.7 148,415.2 150,416.6 152,417.9 154,418.9 156,419.8 158,420.3 160,420.5 162,420.4 164,419.9 166,419.2 168,418.2 170,416.9 172,415.5 174,414.1 176,412.6 178,411.2 180,410.0 182,408.9 184,408.2 186,407.7 188,407.5 190,407.7 192,408.2 194,408.9 196,410.0 198,411.2 200,412.6 202,414.1 204,415.5 206,416.9 208,418.2 210,419.2 212,419.9 214,420.4 216,420.5 218,420.3 220,419.8 222,418.9 224,417.9 226,416.6 228,415.2 230,413.7 232,412.3 234,410.9 236,409.7 238,408.7 240,408.0 242,407.6 244,407.5 246,407.8 248,408.3 250,409.2 252,410.3 254,411.6 256,413.0 258,414.5 260,415.9 262,417.2 264,418.4 266,419.4 268,420.1 270,420.4 272,420.5 274,420.2 276,419.6 278,418.7 280,417.6 282,416.3 284,414.8 286,413.4 288,411.9 290,410.6 292,409.4 294,408.5 296,407.9 298,407.5 300,407.5 302,407.9 304,408.5 306,409.4 308,410.6 310,411.9 312,413.4 314,414.8 316,416.3 318,417.6 320,418.7 322,419.6 324,420.2 326,420.5 328,420.4 330,420.1 332,419.4 334,418.4 336,417.2 338,415.9 340,414.5 342,413.0 344,411.6 346,410.3 348,409.2 350,408.3 352,407.8 354,407.5 356,407.6 358,408.0 360,408.7 362,409.7 364,410.9 366,412.3 368,413.7 370,415.2 372,416.6 374,417.9 376,418.9 378,419.8 380,420.3 382,420.5 384,420.4 386,419.9 388,419.2 390,418.2 392,416.9 394,415.5 396,414.1 398,412.6 400,411.2 402,410.0 404,408.9 406,408.2 408,407.7 410,407.5 412,407.7 414,408.2 416,408.9 418,410.0 420,411.2 422,412.6 424,414.1 426,415.5 428,416.9 430,418.2 432,419.2 434,419.9 436,420.4 438,420.5 440,420.3 442,419.8 444,418.9 446,417.9 448,416.6 450,415.2 452,413.7 454,412.3 456,410.9 458,409.7 460,408.7 462,408.0 464,407.6 466,407.5 468,407.8 470,408.3 472,409.2 474,410.3 476,411.6 478,413.0 480,414.5 482,415.9 484,417.2 486,418.4 488,419.4 490,420.1 492,420.4 494,420.5 496,420.2 498,419.6 500,418.7 502,417.6 504,416.3 506,414.8 508,413.4 510,411.9 512,410.6 514,409.4 516,408.5 518,407.9 520,407.5 522,407.5 524,407.9 526,408.5 528,409.4 530,410.6 532,411.9 534,413.4 536,414.8 538,416.3 540,417.6 542,418.7 544,419.6 546,420.2 548,420.5 550,420.4 552,420.1 554,419.4 556,418.4 558,417.3 560,415.9 562,414.5 564,413.0 566,411.6 568,410.3 570,409.2 572,408.3 574,407.8 576,407.5 578,407.6 580,408.0 582,408.7 584,409.7 586,410.9 588,412.3 590,413.7 592,415.2 594,416.6" fill="none" stroke="#cfd6dc" stroke-width="3" transform="translate(0,2.2)"/>
<polyline points="50,420.5 52,420.2 54,419.6 56,418.7 58,417.6 60,416.3 62,414.8 64,413.4 66,411.9 68,410.6 70,409.4 72,408.5 74,407.9 76,407.5 78,407.5 80,407.9 82,408.5 84,409.4 86,410.6 88,411.9 90,413.4 92,414.8 94,416.3 96,417.6 98,418.7 100,419.6 102,420.2 104,420.5 106,420.4 108,420.1 110,419.4 112,418.4 114,417.2 116,415.9 118,414.5 120,413.0 122,411.6 124,410.3 126,409.2 128,408.3 130,407.8 132,407.5 134,407.6 136,408.0 138,408.7 140,409.7 142,410.9 144,412.3 146,413.7 148,415.2 150,416.6 152,417.9 154,418.9 156,419.8 158,420.3 160,420.5 162,420.4 164,419.9 166,419.2 168,418.2 170,416.9 172,415.5 174,414.1 176,412.6 178,411.2 180,410.0 182,408.9 184,408.2 186,407.7 188,407.5 190,407.7 192,408.2 194,408.9 196,410.0 198,411.2 200,412.6 202,414.1 204,415.5 206,416.9 208,418.2 210,419.2 212,419.9 214,420.4 216,420.5 218,420.3 220,419.8 222,418.9 224,417.9 226,416.6 228,415.2 230,413.7 232,412.3 234,410.9 236,409.7 238,408.7 240,408.0 242,407.6 244,407.5 246,407.8 248,408.3 250,409.2 252,410.3 254,411.6 256,413.0 258,414.5 260,415.9 262,417.2 264,418.4 266,419.4 268,420.1 270,420.4 272,420.5 274,420.2 276,419.6 278,418.7 280,417.6 282,416.3 284,414.8 286,413.4 288,411.9 290,410.6 292,409.4 294,408.5 296,407.9 298,407.5 300,407.5 302,407.9 304,408.5 306,409.4 308,410.6 310,411.9 312,413.4 314,414.8 316,416.3 318,417.6 320,418.7 322,419.6 324,420.2 326,420.5 328,420.4 330,420.1 332,419.4 334,418.4 336,417.2 338,415.9 340,414.5 342,413.0 344,411.6 346,410.3 348,409.2 350,408.3 352,407.8 354,407.5 356,407.6 358,408.0 360,408.7 362,409.7 364,410.9 366,412.3 368,413.7 370,415.2 372,416.6 374,417.9 376,418.9 378,419.8 380,420.3 382,420.5 384,420.4 386,419.9 388,419.2 390,418.2 392,416.9 394,415.5 396,414.1 398,412.6 400,411.2 402,410.0 404,408.9 406,408.2 408,407.7 410,407.5 412,407.7 414,408.2 416,408.9 418,410.0 420,411.2 422,412.6 424,414.1 426,415.5 428,416.9 430,418.2 432,419.2 434,419.9 436,420.4 438,420.5 440,420.3 442,419.8 444,418.9 446,417.9 448,416.6 450,415.2 452,413.7 454,412.3 456,410.9 458,409.7 460,408.7 462,408.0 464,407.6 466,407.5 468,407.8 470,408.3 472,409.2 474,410.3 476,411.6 478,413.0 480,414.5 482,415.9 484,417.2 486,418.4 488,419.4 490,420.1 492,420.4 494,420.5 496,420.2 498,419.6 500,418.7 502,417.6 504,416.3 506,414.8 508,413.4 510,411.9 512,410.6 514,409.4 516,408.5 518,407.9 520,407.5 522,407.5 524,407.9 526,408.5 528,409.4 530,410.6 532,411.9 534,413.4 536,414.8 538,416.3 540,417.6 542,418.7 544,419.6 546,420.2 548,420.5 550,420.4 552,420.1 554,419.4 556,418.4 558,417.3 560,415.9 562,414.5 564,413.0 566,411.6 568,410.3 570,409.2 572,408.3 574,407.8 576,407.5 578,407.6 580,408.0 582,408.7 584,409.7 586,410.9 588,412.3 590,413.7 592,415.2 594,416.6" fill="none" stroke="#a9b2b9" stroke-width="1.2"/>
<polyline points="50,439.4 52,439.1 54,438.5 56,437.6 58,436.5 60,435.2 62,433.7 64,432.3 66,430.8 68,429.5 70,428.3 72,427.4 74,426.8 76,426.4 78,426.4 80,426.8 82,427.4 84,428.3 86,429.5 88,430.8 90,432.3 92,433.7 94,435.2 96,436.5 98,437.6 100,438.5 102,439.1 104,439.4 106,439.3 108,439.0 110,438.3 112,437.3 114,436.1 116,434.8 118,433.4 120,431.9 122,430.5 124,429.2 126,428.1 128,427.2 130,426.7 132,426.4 134,426.5 136,426.9 138,427.6 140,428.6 142,429.8 144,431.2 146,432.6 148,434.1 150,435.5 152,436.8 154,437.8 156,438.7 158,439.2 160,439.4 162,439.3 164,438.8 166,438.1 168,437.1 170,435.8 172,434.4 174,433.0 176,431.5 178,430.1 180,428.9 182,427.8 184,427.1 186,426.6 188,426.4 190,426.6 192,427.1 194,427.8 196,428.9 198,430.1 200,431.5 202,433.0 204,434.4 206,435.8 208,437.1 210,438.1 212,438.8 214,439.3 216,439.4 218,439.2 220,438.7 222,437.8 224,436.8 226,435.5 228,434.1 230,432.6 232,431.2 234,429.8 236,428.6 238,427.6 240,426.9 242,426.5 244,426.4 246,426.7 248,427.2 250,428.1 252,429.2 254,430.5 256,431.9 258,433.4 260,434.8 262,436.1 264,437.3 266,438.3 268,439.0 270,439.3 272,439.4 274,439.1 276,438.5 278,437.6 280,436.5 282,435.2 284,433.7 286,432.3 288,430.8 290,429.5 292,428.3 294,427.4 296,426.8 298,426.4 300,426.4 302,426.8 304,427.4 306,428.3 308,429.5 310,430.8 312,432.3 314,433.7 316,435.2 318,436.5 320,437.6 322,438.5 324,439.1 326,439.4 328,439.3 330,439.0 332,438.3 334,437.3 336,436.1 338,434.8 340,433.4 342,431.9 344,430.5 346,429.2 348,428.1 350,427.2 352,426.7 354,426.4 356,426.5 358,426.9 360,427.6 362,428.6 364,429.8 366,431.2 368,432.6 370,434.1 372,435.5 374,436.8 376,437.8 378,438.7 380,439.2 382,439.4 384,439.3 386,438.8 388,438.1 390,437.1 392,435.8 394,434.4 396,433.0 398,431.5 400,430.1 402,428.9 404,427.8 406,427.1 408,426.6 410,426.4 412,426.6 414,427.1 416,427.8 418,428.9 420,430.1 422,431.5 424,433.0 426,434.4 428,435.8 430,437.1 432,438.1 434,438.8 436,439.3 438,439.4 440,439.2 442,438.7 444,437.8 446,436.8 448,435.5 450,434.1 452,432.6 454,431.2 456,429.8 458,428.6 460,427.6 462,426.9 464,426.5 466,426.4 468,426.7 470,427.2 472,428.1 474,429.2 476,430.5 478,431.9 480,433.4 482,434.8 484,436.1 486,437.3 488,438.3 490,439.0 492,439.3 494,439.4 496,439.1 498,438.5 500,437.6 502,436.5 504,435.2 506,433.7 508,432.3 510,430.8 512,429.5 514,428.3 516,427.4 518,426.8 520,426.4 522,426.4 524,426.8 526,427.4 528,428.3 530,429.5 532,430.8 534,432.3 536,433.7 538,435.2 540,436.5 542,437.6 544,438.5 546,439.1 548,439.4 550,439.3 552,439.0 554,438.3 556,437.3 558,436.2 560,434.8 562,433.4 564,431.9 566,430.5 568,429.2 570,428.1 572,427.2 574,426.7 576,426.4 578,426.5 580,426.9 582,427.6 584,428.6 586,429.8 588,431.2 590,432.6 592,434.1 594,435.5" fill="none" stroke="#cfd6dc" stroke-width="3" transform="translate(0,2.2)"/>
<polyline points="50,439.4 52,439.1 54,438.5 56,437.6 58,436.5 60,435.2 62,433.7 64,432.3 66,430.8 68,429.5 70,428.3 72,427.4 74,426.8 76,426.4 78,426.4 80,426.8 82,427.4 84,428.3 86,429.5 88,430.8 90,432.3 92,433.7 94,435.2 96,436.5 98,437.6 100,438.5 102,439.1 104,439.4 106,439.3 108,439.0 110,438.3 112,437.3 114,436.1 116,434.8 118,433.4 120,431.9 122,430.5 124,429.2 126,428.1 128,427.2 130,426.7 132,426.4 134,426.5 136,426.9 138,427.6 140,428.6 142,429.8 144,431.2 146,432.6 148,434.1 150,435.5 152,436.8 154,437.8 156,438.7 158,439.2 160,439.4 162,439.3 164,438.8 166,438.1 168,437.1 170,435.8 172,434.4 174,433.0 176,431.5 178,430.1 180,428.9 182,427.8 184,427.1 186,426.6 188,426.4 190,426.6 192,427.1 194,427.8 196,428.9 198,430.1 200,431.5 202,433.0 204,434.4 206,435.8 208,437.1 210,438.1 212,438.8 214,439.3 216,439.4 218,439.2 220,438.7 222,437.8 224,436.8 226,435.5 228,434.1 230,432.6 232,431.2 234,429.8 236,428.6 238,427.6 240,426.9 242,426.5 244,426.4 246,426.7 248,427.2 250,428.1 252,429.2 254,430.5 256,431.9 258,433.4 260,434.8 262,436.1 264,437.3 266,438.3 268,439.0 270,439.3 272,439.4 274,439.1 276,438.5 278,437.6 280,436.5 282,435.2 284,433.7 286,432.3 288,430.8 290,429.5 292,428.3 294,427.4 296,426.8 298,426.4 300,426.4 302,426.8 304,427.4 306,428.3 308,429.5 310,430.8 312,432.3 314,433.7 316,435.2 318,436.5 320,437.6 322,438.5 324,439.1 326,439.4 328,439.3 330,439.0 332,438.3 334,437.3 336,436.1 338,434.8 340,433.4 342,431.9 344,430.5 346,429.2 348,428.1 350,427.2 352,426.7 354,426.4 356,426.5 358,426.9 360,427.6 362,428.6 364,429.8 366,431.2 368,432.6 370,434.1 372,435.5 374,436.8 376,437.8 378,438.7 380,439.2 382,439.4 384,439.3 386,438.8 388,438.1 390,437.1 392,435.8 394,434.4 396,433.0 398,431.5 400,430.1 402,428.9 404,427.8 406,427.1 408,426.6 410,426.4 412,426.6 414,427.1 416,427.8 418,428.9 420,430.1 422,431.5 424,433.0 426,434.4 428,435.8 430,437.1 432,438.1 434,438.8 436,439.3 438,439.4 440,439.2 442,438.7 444,437.8 446,436.8 448,435.5 450,434.1 452,432.6 454,431.2 456,429.8 458,428.6 460,427.6 462,426.9 464,426.5 466,426.4 468,426.7 470,427.2 472,428.1 474,429.2 476,430.5 478,431.9 480,433.4 482,434.8 484,436.1 486,437.3 488,438.3 490,439.0 492,439.3 494,439.4 496,439.1 498,438.5 500,437.6 502,436.5 504,435.2 506,433.7 508,432.3 510,430.8 512,429.5 514,428.3 516,427.4 518,426.8 520,426.4 522,426.4 524,426.8 526,427.4 528,428.3 530,429.5 532,430.8 534,432.3 536,433.7 538,435.2 540,436.5 542,437.6 544,438.5 546,439.1 548,439.4 550,439.3 552,439.0 554,438.3 556,437.3 558,436.2 560,434.8 562,433.4 564,431.9 566,430.5 568,429.2 570,428.1 572,427.2 574,426.7 576,426.4 578,426.5 580,426.9 582,427.6 584,428.6 586,429.8 588,431.2 590,432.6 592,434.1 594,435.5" fill="none" stroke="#a9b2b9" stroke-width="1.2"/>
<polyline points="50,458.3 52,458.0 54,457.4 56,456.5 58,455.4 60,454.1 62,452.6 64,451.2 66,449.7 68,448.4 70,447.2 72,446.3 74,445.7 76,445.3 78,445.3 80,445.7 82,446.3 84,447.2 86,448.4 88,449.7 90,451.2 92,452.6 94,454.1 96,455.4 98,456.5 100,457.4 102,458.0 104,458.3 106,458.2 108,457.9 110,457.2 112,456.2 114,455.1 116,453.7 118,452.3 120,450.8 122,449.4 124,448.1 126,447.0 128,446.1 130,445.6 132,445.3 134,445.4 136,445.8 138,446.5 140,447.5 142,448.7 144,450.1 146,451.5 148,453.0 150,454.4 152,455.7 154,456.7 156,457.6 158,458.1 160,458.3 162,458.2 164,457.7 166,457.0 168,456.0 170,454.7 172,453.3 174,451.9 176,450.4 178,449.0 180,447.8 182,446.7 184,446.0 186,445.5 188,445.3 190,445.5 192,446.0 194,446.7 196,447.8 198,449.0 200,450.4 202,451.9 204,453.3 206,454.7 208,456.0 210,457.0 212,457.7 214,458.2 216,458.3 218,458.1 220,457.6 222,456.7 224,455.7 226,454.4 228,453.0 230,451.5 232,450.1 234,448.7 236,447.5 238,446.5 240,445.8 242,445.4 244,445.3 246,445.6 248,446.1 250,447.0 252,448.1 254,449.4 256,450.8 258,452.3 260,453.7 262,455.1 264,456.2 266,457.2 268,457.9 270,458.2 272,458.3 274,458.0 276,457.4 278,456.5 280,455.4 282,454.1 284,452.6 286,451.2 288,449.7 290,448.4 292,447.2 294,446.3 296,445.7 298,445.3 300,445.3 302,445.7 304,446.3 306,447.2 308,448.4 310,449.7 312,451.2 314,452.6 316,454.1 318,455.4 320,456.5 322,457.4 324,458.0 326,458.3 328,458.2 330,457.9 332,457.2 334,456.2 336,455.1 338,453.7 340,452.3 342,450.8 344,449.4 346,448.1 348,447.0 350,446.1 352,445.6 354,445.3 356,445.4 358,445.8 360,446.5 362,447.5 364,448.7 366,450.1 368,451.5 370,453.0 372,454.4 374,455.7 376,456.7 378,457.6 380,458.1 382,458.3 384,458.2 386,457.7 388,457.0 390,456.0 392,454.7 394,453.3 396,451.9 398,450.4 400,449.0 402,447.8 404,446.7 406,446.0 408,445.5 410,445.3 412,445.5 414,446.0 416,446.7 418,447.8 420,449.0 422,450.4 424,451.9 426,453.3 428,454.7 430,456.0 432,457.0 434,457.7 436,458.2 438,458.3 440,458.1 442,457.6 444,456.7 446,455.7 448,454.4 450,453.0 452,451.5 454,450.1 456,448.7 458,447.5 460,446.5 462,445.8 464,445.4 466,445.3 468,445.6 470,446.1 472,447.0 474,448.1 476,449.4 478,450.8 480,452.3 482,453.7 484,455.1 486,456.2 488,457.2 490,457.9 492,458.2 494,458.3 496,458.0 498,457.4 500,456.5 502,455.4 504,454.1 506,452.6 508,451.2 510,449.7 512,448.4 514,447.2 516,446.3 518,445.7 520,445.3 522,445.3 524,445.7 526,446.3 528,447.2 530,448.4 532,449.7 534,451.2 536,452.6 538,454.1 540,455.4 542,456.5 544,457.4 546,458.0 548,458.3 550,458.2 552,457.9 554,457.2 556,456.2 558,455.1 560,453.7 562,452.3 564,450.8 566,449.4 568,448.1 570,447.0 572,446.1 574,445.6 576,445.3 578,445.4 580,445.8 582,446.5 584,447.5 586,448.7 588,450.1 590,451.5 592,453.0 594,454.4" fill="none" stroke="#cfd6dc" stroke-width="3" transform="translate(0,2.2)"/>
<polyline points="50,458.3 52,458.0 54,457.4 56,456.5 58,455.4 60,454.1 62,452.6 64,451.2 66,449.7 68,448.4 70,447.2 72,446.3 74,445.7 76,445.3 78,445.3 80,445.7 82,446.3 84,447.2 86,448.4 88,449.7 90,451.2 92,452.6 94,454.1 96,455.4 98,456.5 100,457.4 102,458.0 104,458.3 106,458.2 108,457.9 110,457.2 112,456.2 114,455.1 116,453.7 118,452.3 120,450.8 122,449.4 124,448.1 126,447.0 128,446.1 130,445.6 132,445.3 134,445.4 136,445.8 138,446.5 140,447.5 142,448.7 144,450.1 146,451.5 148,453.0 150,454.4 152,455.7 154,456.7 156,457.6 158,458.1 160,458.3 162,458.2 164,457.7 166,457.0 168,456.0 170,454.7 172,453.3 174,451.9 176,450.4 178,449.0 180,447.8 182,446.7 184,446.0 186,445.5 188,445.3 190,445.5 192,446.0 194,446.7 196,447.8 198,449.0 200,450.4 202,451.9 204,453.3 206,454.7 208,456.0 210,457.0 212,457.7 214,458.2 216,458.3 218,458.1 220,457.6 222,456.7 224,455.7 226,454.4 228,453.0 230,451.5 232,450.1 234,448.7 236,447.5 238,446.5 240,445.8 242,445.4 244,445.3 246,445.6 248,446.1 250,447.0 252,448.1 254,449.4 256,450.8 258,452.3 260,453.7 262,455.1 264,456.2 266,457.2 268,457.9 270,458.2 272,458.3 274,458.0 276,457.4 278,456.5 280,455.4 282,454.1 284,452.6 286,451.2 288,449.7 290,448.4 292,447.2 294,446.3 296,445.7 298,445.3 300,445.3 302,445.7 304,446.3 306,447.2 308,448.4 310,449.7 312,451.2 314,452.6 316,454.1 318,455.4 320,456.5 322,457.4 324,458.0 326,458.3 328,458.2 330,457.9 332,457.2 334,456.2 336,455.1 338,453.7 340,452.3 342,450.8 344,449.4 346,448.1 348,447.0 350,446.1 352,445.6 354,445.3 356,445.4 358,445.8 360,446.5 362,447.5 364,448.7 366,450.1 368,451.5 370,453.0 372,454.4 374,455.7 376,456.7 378,457.6 380,458.1 382,458.3 384,458.2 386,457.7 388,457.0 390,456.0 392,454.7 394,453.3 396,451.9 398,450.4 400,449.0 402,447.8 404,446.7 406,446.0 408,445.5 410,445.3 412,445.5 414,446.0 416,446.7 418,447.8 420,449.0 422,450.4 424,451.9 426,453.3 428,454.7 430,456.0 432,457.0 434,457.7 436,458.2 438,458.3 440,458.1 442,457.6 444,456.7 446,455.7 448,454.4 450,453.0 452,451.5 454,450.1 456,448.7 458,447.5 460,446.5 462,445.8 464,445.4 466,445.3 468,445.6 470,446.1 472,447.0 474,448.1 476,449.4 478,450.8 480,452.3 482,453.7 484,455.1 486,456.2 488,457.2 490,457.9 492,458.2 494,458.3 496,458.0 498,457.4 500,456.5 502,455.4 504,454.1 506,452.6 508,451.2 510,449.7 512,448.4 514,447.2 516,446.3 518,445.7 520,445.3 522,445.3 524,445.7 526,446.3 528,447.2 530,448.4 532,449.7 534,451.2 536,452.6 538,454.1 540,455.4 542,456.5 544,457.4 546,458.0 548,458.3 550,458.2 552,457.9 554,457.2 556,456.2 558,455.1 560,453.7 562,452.3 564,450.8 566,449.4 568,448.1 570,447.0 572,446.1 574,445.6 576,445.3 578,445.4 580,445.8 582,446.5 584,447.5 586,448.7 588,450.1 590,451.5 592,453.0 594,454.4" fill="none" stroke="#a9b2b9" stroke-width="1.2"/>
<polyline points="50,477.2 52,476.9 54,476.3 56,475.4 58,474.3 60,473.0 62,471.5 64,470.1 66,468.6 68,467.3 70,466.1 72,465.2 74,464.6 76,464.2 78,464.2 80,464.6 82,465.2 84,466.1 86,467.3 88,468.6 90,470.1 92,471.5 94,473.0 96,474.3 98,475.4 100,476.3 102,476.9 104,477.2 106,477.1 108,476.8 110,476.1 112,475.1 114,473.9 116,472.6 118,471.2 120,469.7 122,468.3 124,467.0 126,465.9 128,465.0 130,464.5 132,464.2 134,464.3 136,464.7 138,465.4 140,466.4 142,467.6 144,469.0 146,470.4 148,471.9 150,473.3 152,474.6 154,475.6 156,476.5 158,477.0 160,477.2 162,477.1 164,476.6 166,475.9 168,474.9 170,473.6 172,472.2 174,470.8 176,469.3 178,467.9 180,466.7 182,465.6 184,464.9 186,464.4 188,464.2 190,464.4 192,464.9 194,465.6 196,466.7 198,467.9 200,469.3 202,470.8 204,472.2 206,473.6 208,474.9 210,475.9 212,476.6 214,477.1 216,477.2 218,477.0 220,476.5 222,475.6 224,474.6 226,473.3 228,471.9 230,470.4 232,469.0 234,467.6 236,466.4 238,465.4 240,464.7 242,464.3 244,464.2 246,464.5 248,465.0 250,465.9 252,467.0 254,468.3 256,469.7 258,471.2 260,472.6 262,473.9 264,475.1 266,476.1 268,476.8 270,477.1 272,477.2 274,476.9 276,476.3 278,475.4 280,474.3 282,473.0 284,471.5 286,470.1 288,468.6 290,467.3 292,466.1 294,465.2 296,464.6 298,464.2 300,464.2 302,464.6 304,465.2 306,466.1 308,467.3 310,468.6 312,470.1 314,471.5 316,473.0 318,474.3 320,475.4 322,476.3 324,476.9 326,477.2 328,477.1 330,476.8 332,476.1 334,475.1 336,473.9 338,472.6 340,471.2 342,469.7 344,468.3 346,467.0 348,465.9 350,465.0 352,464.5 354,464.2 356,464.3 358,464.7 360,465.4 362,466.4 364,467.6 366,469.0 368,470.4 370,471.9 372,473.3 374,474.6 376,475.6 378,476.5 380,477.0 382,477.2 384,477.1 386,476.6 388,475.9 390,474.9 392,473.6 394,472.2 396,470.8 398,469.3 400,467.9 402,466.7 404,465.6 406,464.9 408,464.4 410,464.2 412,464.4 414,464.9 416,465.6 418,466.7 420,467.9 422,469.3 424,470.8 426,472.2 428,473.6 430,474.9 432,475.9 434,476.6 436,477.1 438,477.2 440,477.0 442,476.5 444,475.6 446,474.6 448,473.3 450,471.9 452,470.4 454,469.0 456,467.6 458,466.4 460,465.4 462,464.7 464,464.3 466,464.2 468,464.5 470,465.0 472,465.9 474,467.0 476,468.3 478,469.7 480,471.2 482,472.6 484,473.9 486,475.1 488,476.1 490,476.8 492,477.1 494,477.2 496,476.9 498,476.3 500,475.4 502,474.3 504,473.0 506,471.5 508,470.1 510,468.6 512,467.3 514,466.1 516,465.2 518,464.6 520,464.2 522,464.2 524,464.6 526,465.2 528,466.1 530,467.3 532,468.6 534,470.1 536,471.5 538,473.0 540,474.3 542,475.4 544,476.3 546,476.9 548,477.2 550,477.1 552,476.8 554,476.1 556,475.1 558,474.0 560,472.6 562,471.2 564,469.7 566,468.3 568,467.0 570,465.9 572,465.0 574,464.5 576,464.2 578,464.3 580,464.7 582,465.4 584,466.4 586,467.6 588,469.0 590,470.4 592,471.9 594,473.3" fill="none" stroke="#cfd6dc" stroke-width="3" transform="translate(0,2.2)"/>
<polyline points="50,477.2 52,476.9 54,476.3 56,475.4 58,474.3 60,473.0 62,471.5 64,470.1 66,468.6 68,467.3 70,466.1 72,465.2 74,464.6 76,464.2 78,464.2 80,464.6 82,465.2 84,466.1 86,467.3 88,468.6 90,470.1 92,471.5 94,473.0 96,474.3 98,475.4 100,476.3 102,476.9 104,477.2 106,477.1 108,476.8 110,476.1 112,475.1 114,473.9 116,472.6 118,471.2 120,469.7 122,468.3 124,467.0 126,465.9 128,465.0 130,464.5 132,464.2 134,464.3 136,464.7 138,465.4 140,466.4 142,467.6 144,469.0 146,470.4 148,471.9 150,473.3 152,474.6 154,475.6 156,476.5 158,477.0 160,477.2 162,477.1 164,476.6 166,475.9 168,474.9 170,473.6 172,472.2 174,470.8 176,469.3 178,467.9 180,466.7 182,465.6 184,464.9 186,464.4 188,464.2 190,464.4 192,464.9 194,465.6 196,466.7 198,467.9 200,469.3 202,470.8 204,472.2 206,473.6 208,474.9 210,475.9 212,476.6 214,477.1 216,477.2 218,477.0 220,476.5 222,475.6 224,474.6 226,473.3 228,471.9 230,470.4 232,469.0 234,467.6 236,466.4 238,465.4 240,464.7 242,464.3 244,464.2 246,464.5 248,465.0 250,465.9 252,467.0 254,468.3 256,469.7 258,471.2 260,472.6 262,473.9 264,475.1 266,476.1 268,476.8 270,477.1 272,477.2 274,476.9 276,476.3 278,475.4 280,474.3 282,473.0 284,471.5 286,470.1 288,468.6 290,467.3 292,466.1 294,465.2 296,464.6 298,464.2 300,464.2 302,464.6 304,465.2 306,466.1 308,467.3 310,468.6 312,470.1 314,471.5 316,473.0 318,474.3 320,475.4 322,476.3 324,476.9 326,477.2 328,477.1 330,476.8 332,476.1 334,475.1 336,473.9 338,472.6 340,471.2 342,469.7 344,468.3 346,467.0 348,465.9 350,465.0 352,464.5 354,464.2 356,464.3 358,464.7 360,465.4 362,466.4 364,467.6 366,469.0 368,470.4 370,471.9 372,473.3 374,474.6 376,475.6 378,476.5 380,477.0 382,477.2 384,477.1 386,476.6 388,475.9 390,474.9 392,473.6 394,472.2 396,470.8 398,469.3 400,467.9 402,466.7 404,465.6 406,464.9 408,464.4 410,464.2 412,464.4 414,464.9 416,465.6 418,466.7 420,467.9 422,469.3 424,470.8 426,472.2 428,473.6 430,474.9 432,475.9 434,476.6 436,477.1 438,477.2 440,477.0 442,476.5 444,475.6 446,474.6 448,473.3 450,471.9 452,470.4 454,469.0 456,467.6 458,466.4 460,465.4 462,464.7 464,464.3 466,464.2 468,464.5 470,465.0 472,465.9 474,467.0 476,468.3 478,469.7 480,471.2 482,472.6 484,473.9 486,475.1 488,476.1 490,476.8 492,477.1 494,477.2 496,476.9 498,476.3 500,475.4 502,474.3 504,473.0 506,471.5 508,470.1 510,468.6 512,467.3 514,466.1 516,465.2 518,464.6 520,464.2 522,464.2 524,464.6 526,465.2 528,466.1 530,467.3 532,468.6 534,470.1 536,471.5 538,473.0 540,474.3 542,475.4 544,476.3 546,476.9 548,477.2 550,477.1 552,476.8 554,476.1 556,475.1 558,474.0 560,472.6 562,471.2 564,469.7 566,468.3 568,467.0 570,465.9 572,465.0 574,464.5 576,464.2 578,464.3 580,464.7 582,465.4 584,466.4 586,467.6 588,469.0 590,470.4 592,471.9 594,473.3" fill="none" stroke="#a9b2b9" stroke-width="1.2"/>
<polyline points="50,496.1 52,495.8 54,495.2 56,494.3 58,493.2 60,491.9 62,490.4 64,489.0 66,487.5 68,486.2 70,485.0 72,484.1 74,483.5 76,483.1 78,483.1 80,483.5 82,484.1 84,485.0 86,486.2 88,487.5 90,489.0 92,490.4 94,491.9 96,493.2 98,494.3 100,495.2 102,495.8 104,496.1 106,496.0 108,495.7 110,495.0 112,494.0 114,492.9 116,491.5 118,490.1 120,488.6 122,487.2 124,485.9 126,484.8 128,483.9 130,483.4 132,483.1 134,483.2 136,483.6 138,484.3 140,485.3 142,486.5 144,487.9 146,489.3 148,490.8 150,492.2 152,493.5 154,494.5 156,495.4 158,495.9 160,496.1 162,496.0 164,495.5 166,494.8 168,493.8 170,492.5 172,491.1 174,489.7 176,488.2 178,486.8 180,485.6 182,484.5 184,483.8 186,483.3 188,483.1 190,483.3 192,483.8 194,484.5 196,485.6 198,486.8 200,488.2 202,489.7 204,491.1 206,492.5 208,493.8 210,494.8 212,495.5 214,496.0 216,496.1 218,495.9 220,495.4 222,494.5 224,493.5 226,492.2 228,490.8 230,489.3 232,487.9 234,486.5 236,485.3 238,484.3 240,483.6 242,483.2 244,483.1 246,483.4 248,483.9 250,484.8 252,485.9 254,487.2 256,488.6 258,490.1 260,491.5 262,492.9 264,494.0 266,495.0 268,495.7 270,496.0 272,496.1 274,495.8 276,495.2 278,494.3 280,493.2 282,491.9 284,490.4 286,489.0 288,487.5 290,486.2 292,485.0 294,484.1 296,483.5 298,483.1 300,483.1 302,483.5 304,484.1 306,485.0 308,486.2 310,487.5 312,489.0 314,490.4 316,491.9 318,493.2 320,494.3 322,495.2 324,495.8 326,496.1 328,496.0 330,495.7 332,495.0 334,494.0 336,492.9 338,491.5 340,490.1 342,488.6 344,487.2 346,485.9 348,484.8 350,483.9 352,483.4 354,483.1 356,483.2 358,483.6 360,484.3 362,485.3 364,486.5 366,487.9 368,489.3 370,490.8 372,492.2 374,493.5 376,494.5 378,495.4 380,495.9 382,496.1 384,496.0 386,495.5 388,494.8 390,493.8 392,492.5 394,491.1 396,489.7 398,488.2 400,486.8 402,485.6 404,484.5 406,483.8 408,483.3 410,483.1 412,483.3 414,483.8 416,484.5 418,485.6 420,486.8 422,488.2 424,489.7 426,491.1 428,492.5 430,493.8 432,494.8 434,495.5 436,496.0 438,496.1 440,495.9 442,495.4 444,494.5 446,493.5 448,492.2 450,490.8 452,489.3 454,487.9 456,486.5 458,485.3 460,484.3 462,483.6 464,483.2 466,483.1 468,483.4 470,483.9 472,484.8 474,485.9 476,487.2 478,488.6 480,490.1 482,491.5 484,492.9 486,494.0 488,495.0 490,495.7 492,496.0 494,496.1 496,495.8 498,495.2 500,494.3 502,493.2 504,491.9 506,490.4 508,489.0 510,487.5 512,486.2 514,485.0 516,484.1 518,483.5 520,483.1 522,483.1 524,483.5 526,484.1 528,485.0 530,486.2 532,487.5 534,489.0 536,490.4 538,491.9 540,493.2 542,494.3 544,495.2 546,495.8 548,496.1 550,496.0 552,495.7 554,495.0 556,494.0 558,492.9 560,491.5 562,490.1 564,488.6 566,487.2 568,485.9 570,484.8 572,483.9 574,483.4 576,483.1 578,483.2 580,483.6 582,484.3 584,485.3 586,486.5 588,487.9 590,489.3 592,490.8 594,492.2" fill="none" stroke="#cfd6dc" stroke-width="3" transform="translate(0,2.2)"/>
<polyline points="50,496.1 52,495.8 54,495.2 56,494.3 58,493.2 60,491.9 62,490.4 64,489.0 66,487.5 68,486.2 70,485.0 72,484.1 74,483.5 76,483.1 78,483.1 80,483.5 82,484.1 84,485.0 86,486.2 88,487.5 90,489.0 92,490.4 94,491.9 96,493.2 98,494.3 100,495.2 102,495.8 104,496.1 106,496.0 108,495.7 110,495.0 112,494.0 114,492.9 116,491.5 118,490.1 120,488.6 122,487.2 124,485.9 126,484.8 128,483.9 130,483.4 132,483.1 134,483.2 136,483.6 138,484.3 140,485.3 142,486.5 144,487.9 146,489.3 148,490.8 150,492.2 152,493.5 154,494.5 156,495.4 158,495.9 160,496.1 162,496.0 164,495.5 166,494.8 168,493.8 170,492.5 172,491.1 174,489.7 176,488.2 178,486.8 180,485.6 182,484.5 184,483.8 186,483.3 188,483.1 190,483.3 192,483.8 194,484.5 196,485.6 198,486.8 200,488.2 202,489.7 204,491.1 206,492.5 208,493.8 210,494.8 212,495.5 214,496.0 216,496.1 218,495.9 220,495.4 222,494.5 224,493.5 226,492.2 228,490.8 230,489.3 232,487.9 234,486.5 236,485.3 238,484.3 240,483.6 242,483.2 244,483.1 246,483.4 248,483.9 250,484.8 252,485.9 254,487.2 256,488.6 258,490.1 260,491.5 262,492.9 264,494.0 266,495.0 268,495.7 270,496.0 272,496.1 274,495.8 276,495.2 278,494.3 280,493.2 282,491.9 284,490.4 286,489.0 288,487.5 290,486.2 292,485.0 294,484.1 296,483.5 298,483.1 300,483.1 302,483.5 304,484.1 306,485.0 308,486.2 310,487.5 312,489.0 314,490.4 316,491.9 318,493.2 320,494.3 322,495.2 324,495.8 326,496.1 328,496.0 330,495.7 332,495.0 334,494.0 336,492.9 338,491.5 340,490.1 342,488.6 344,487.2 346,485.9 348,484.8 350,483.9 352,483.4 354,483.1 356,483.2 358,483.6 360,484.3 362,485.3 364,486.5 366,487.9 368,489.3 370,490.8 372,492.2 374,493.5 376,494.5 378,495.4 380,495.9 382,496.1 384,496.0 386,495.5 388,494.8 390,493.8 392,492.5 394,491.1 396,489.7 398,488.2 400,486.8 402,485.6 404,484.5 406,483.8 408,483.3 410,483.1 412,483.3 414,483.8 416,484.5 418,485.6 420,486.8 422,488.2 424,489.7 426,491.1 428,492.5 430,493.8 432,494.8 434,495.5 436,496.0 438,496.1 440,495.9 442,495.4 444,494.5 446,493.5 448,492.2 450,490.8 452,489.3 454,487.9 456,486.5 458,485.3 460,484.3 462,483.6 464,483.2 466,483.1 468,483.4 470,483.9 472,484.8 474,485.9 476,487.2 478,488.6 480,490.1 482,491.5 484,492.9 486,494.0 488,495.0 490,495.7 492,496.0 494,496.1 496,495.8 498,495.2 500,494.3 502,493.2 504,491.9 506,490.4 508,489.0 510,487.5 512,486.2 514,485.0 516,484.1 518,483.5 520,483.1 522,483.1 524,483.5 526,484.1 528,485.0 530,486.2 532,487.5 534,489.0 536,490.4 538,491.9 540,493.2 542,494.3 544,495.2 546,495.8 548,496.1 550,496.0 552,495.7 554,495.0 556,494.0 558,492.9 560,491.5 562,490.1 564,488.6 566,487.2 568,485.9 570,484.8 572,483.9 574,483.4 576,483.1 578,483.2 580,483.6 582,484.3 584,485.3 586,486.5 588,487.9 590,489.3 592,490.8 594,492.2" fill="none" stroke="#a9b2b9" stroke-width="1.2"/>
<polyline points="50,515.0 52,514.7 54,514.1 56,513.2 58,512.1 60,510.8 62,509.3 64,507.9 66,506.4 68,505.1 70,503.9 72,503.0 74,502.4 76,502.0 78,502.0 80,502.4 82,503.0 84,503.9 86,505.1 88,506.4 90,507.9 92,509.3 94,510.8 96,512.1 98,513.2 100,514.1 102,514.7 104,515.0 106,514.9 108,514.6 110,513.9 112,512.9 114,511.8 116,510.4 118,509.0 120,507.5 122,506.1 124,504.8 126,503.7 128,502.8 130,502.3 132,502.0 134,502.1 136,502.5 138,503.2 140,504.2 142,505.4 144,506.8 146,508.2 148,509.7 150,511.1 152,512.4 154,513.4 156,514.3 158,514.8 160,515.0 162,514.9 164,514.4 166,513.7 168,512.7 170,511.4 172,510.0 174,508.6 176,507.1 178,505.7 180,504.5 182,503.4 184,502.7 186,502.2 188,502.0 190,502.2 192,502.7 194,503.4 196,504.5 198,505.7 200,507.1 202,508.6 204,510.0 206,511.4 208,512.7 210,513.7 212,514.4 214,514.9 216,515.0 218,514.8 220,514.3 222,513.4 224,512.4 226,511.1 228,509.7 230,508.2 232,506.8 234,505.4 236,504.2 238,503.2 240,502.5 242,502.1 244,502.0 246,502.3 248,502.8 250,503.7 252,504.8 254,506.1 256,507.5 258,509.0 260,510.4 262,511.8 264,512.9 266,513.9 268,514.6 270,514.9 272,515.0 274,514.7 276,514.1 278,513.2 280,512.1 282,510.8 284,509.3 286,507.9 288,506.4 290,505.1 292,503.9 294,503.0 296,502.4 298,502.0 300,502.0 302,502.4 304,503.0 306,503.9 308,505.1 310,506.4 312,507.9 314,509.3 316,510.8 318,512.1 320,513.2 322,514.1 324,514.7 326,515.0 328,514.9 330,514.6 332,513.9 334,512.9 336,511.8 338,510.4 340,509.0 342,507.5 344,506.1 346,504.8 348,503.7 350,502.8 352,502.3 354,502.0 356,502.1 358,502.5 360,503.2 362,504.2 364,505.4 366,506.8 368,508.2 370,509.7 372,511.1 374,512.4 376,513.4 378,514.3 380,514.8 382,515.0 384,514.9 386,514.4 388,513.7 390,512.7 392,511.4 394,510.0 396,508.6 398,507.1 400,505.7 402,504.5 404,503.4 406,502.7 408,502.2 410,502.0 412,502.2 414,502.7 416,503.4 418,504.5 420,505.7 422,507.1 424,508.6 426,510.0 428,511.4 430,512.7 432,513.7 434,514.4 436,514.9 438,515.0 440,514.8 442,514.3 444,513.4 446,512.4 448,511.1 450,509.7 452,508.2 454,506.8 456,505.4 458,504.2 460,503.2 462,502.5 464,502.1 466,502.0 468,502.3 470,502.8 472,503.7 474,504.8 476,506.1 478,507.5 480,509.0 482,510.4 484,511.8 486,512.9 488,513.9 490,514.6 492,514.9 494,515.0 496,514.7 498,514.1 500,513.2 502,512.1 504,510.8 506,509.3 508,507.9 510,506.4 512,505.1 514,503.9 516,503.0 518,502.4 520,502.0 522,502.0 524,502.4 526,503.0 528,503.9 530,505.1 532,506.4 534,507.9 536,509.3 538,510.8 540,512.1 542,513.2 544,514.1 546,514.7 548,515.0 550,514.9 552,514.6 554,513.9 556,512.9 558,511.8 560,510.4 562,509.0 564,507.5 566,506.1 568,504.8 570,503.7 572,502.8 574,502.3 576,502.0 578,502.1 580,502.5 582,503.2 584,504.2 586,505.4 588,506.8 590,508.2 592,509.7 594,511.1" fill="none" stroke="#cfd6dc" stroke-width="3" transform="translate(0,2.2)"/>
<polyline points="50,515.0 52,514.7 54,514.1 56,513.2 58,512.1 60,510.8 62,509.3 64,507.9 66,506.4 68,505.1 70,503.9 72,503.0 74,502.4 76,502.0 78,502.0 80,502.4 82,503.0 84,503.9 86,505.1 88,506.4 90,507.9 92,509.3 94,510.8 96,512.1 98,513.2 100,514.1 102,514.7 104,515.0 106,514.9 108,514.6 110,513.9 112,512.9 114,511.8 116,510.4 118,509.0 120,507.5 122,506.1 124,504.8 126,503.7 128,502.8 130,502.3 132,502.0 134,502.1 136,502.5 138,503.2 140,504.2 142,505.4 144,506.8 146,508.2 148,509.7 150,511.1 152,512.4 154,513.4 156,514.3 158,514.8 160,515.0 162,514.9 164,514.4 166,513.7 168,512.7 170,511.4 172,510.0 174,508.6 176,507.1 178,505.7 180,504.5 182,503.4 184,502.7 186,502.2 188,502.0 190,502.2 192,502.7 194,503.4 196,504.5 198,505.7 200,507.1 202,508.6 204,510.0 206,511.4 208,512.7 210,513.7 212,514.4 214,514.9 216,515.0 218,514.8 220,514.3 222,513.4 224,512.4 226,511.1 228,509.7 230,508.2 232,506.8 234,505.4 236,504.2 238,503.2 240,502.5 242,502.1 244,502.0 246,502.3 248,502.8 250,503.7 252,504.8 254,506.1 256,507.5 258,509.0 260,510.4 262,511.8 264,512.9 266,513.9 268,514.6 270,514.9 272,515.0 274,514.7 276,514.1 278,513.2 280,512.1 282,510.8 284,509.3 286,507.9 288,506.4 290,505.1 292,503.9 294,503.0 296,502.4 298,502.0 300,502.0 302,502.4 304,503.0 306,503.9 308,505.1 310,506.4 312,507.9 314,509.3 316,510.8 318,512.1 320,513.2 322,514.1 324,514.7 326,515.0 328,514.9 330,514.6 332,513.9 334,512.9 336,511.8 338,510.4 340,509.0 342,507.5 344,506.1 346,504.8 348,503.7 350,502.8 352,502.3 354,502.0 356,502.1 358,502.5 360,503.2 362,504.2 364,505.4 366,506.8 368,508.2 370,509.7 372,511.1 374,512.4 376,513.4 378,514.3 380,514.8 382,515.0 384,514.9 386,514.4 388,513.7 390,512.7 392,511.4 394,510.0 396,508.6 398,507.1 400,505.7 402,504.5 404,503.4 406,502.7 408,502.2 410,502.0 412,502.2 414,502.7 416,503.4 418,504.5 420,505.7 422,507.1 424,508.6 426,510.0 428,511.4 430,512.7 432,513.7 434,514.4 436,514.9 438,515.0 440,514.8 442,514.3 444,513.4 446,512.4 448,511.1 450,509.7 452,508.2 454,506.8 456,505.4 458,504.2 460,503.2 462,502.5 464,502.1 466,502.0 468,502.3 470,502.8 472,503.7 474,504.8 476,506.1 478,507.5 480,509.0 482,510.4 484,511.8 486,512.9 488,513.9 490,514.6 492,514.9 494,515.0 496,514.7 498,514.1 500,513.2 502,512.1 504,510.8 506,509.3 508,507.9 510,506.4 512,505.1 514,503.9 516,503.0 518,502.4 520,502.0 522,502.0 524,502.4 526,503.0 528,503.9 530,505.1 532,506.4 534,507.9 536,509.3 538,510.8 540,512.1 542,513.2 544,514.1 546,514.7 548,515.0 550,514.9 552,514.6 554,513.9 556,512.9 558,511.8 560,510.4 562,509.0 564,507.5 566,506.1 568,504.8 570,503.7 572,502.8 574,502.3 576,502.0 578,502.1 580,502.5 582,503.2 584,504.2 586,505.4 588,506.8 590,508.2 592,509.7 594,511.1" fill="none" stroke="#a9b2b9" stroke-width="1.2"/>
<polyline points="50,533.9 52,533.6 54,533.0 56,532.1 58,531.0 60,529.7 62,528.2 64,526.8 66,525.3 68,524.0 70,522.8 72,521.9 74,521.3 76,520.9 78,520.9 80,521.3 82,521.9 84,522.8 86,524.0 88,525.3 90,526.8 92,528.2 94,529.7 96,531.0 98,532.1 100,533.0 102,533.6 104,533.9 106,533.8 108,533.5 110,532.8 112,531.8 114,530.6 116,529.3 118,527.9 120,526.4 122,525.0 124,523.7 126,522.6 128,521.7 130,521.2 132,520.9 134,521.0 136,521.4 138,522.1 140,523.1 142,524.3 144,525.7 146,527.1 148,528.6 150,530.0 152,531.3 154,532.3 156,533.2 158,533.7 160,533.9 162,533.8 164,533.3 166,532.6 168,531.6 170,530.3 172,528.9 174,527.5 176,526.0 178,524.6 180,523.4 182,522.3 184,521.6 186,521.1 188,520.9 190,521.1 192,521.6 194,522.3 196,523.4 198,524.6 200,526.0 202,527.5 204,528.9 206,530.3 208,531.6 210,532.6 212,533.3 214,533.8 216,533.9 218,533.7 220,533.2 222,532.3 224,531.3 226,530.0 228,528.6 230,527.1 232,525.7 234,524.3 236,523.1 238,522.1 240,521.4 242,521.0 244,520.9 246,521.2 248,521.7 250,522.6 252,523.7 254,525.0 256,526.4 258,527.9 260,529.3 262,530.6 264,531.8 266,532.8 268,533.5 270,533.8 272,533.9 274,533.6 276,533.0 278,532.1 280,531.0 282,529.7 284,528.2 286,526.8 288,525.3 290,524.0 292,522.8 294,521.9 296,521.3 298,520.9 300,520.9 302,521.3 304,521.9 306,522.8 308,524.0 310,525.3 312,526.8 314,528.2 316,529.7 318,531.0 320,532.1 322,533.0 324,533.6 326,533.9 328,533.8 330,533.5 332,532.8 334,531.8 336,530.6 338,529.3 340,527.9 342,526.4 344,525.0 346,523.7 348,522.6 350,521.7 352,521.2 354,520.9 356,521.0 358,521.4 360,522.1 362,523.1 364,524.3 366,525.7 368,527.1 370,528.6 372,530.0 374,531.3 376,532.3 378,533.2 380,533.7 382,533.9 384,533.8 386,533.3 388,532.6 390,531.6 392,530.3 394,528.9 396,527.5 398,526.0 400,524.6 402,523.4 404,522.3 406,521.6 408,521.1 410,520.9 412,521.1 414,521.6 416,522.3 418,523.4 420,524.6 422,526.0 424,527.5 426,528.9 428,530.3 430,531.6 432,532.6 434,533.3 436,533.8 438,533.9 440,533.7 442,533.2 444,532.3 446,531.3 448,530.0 450,528.6 452,527.1 454,525.7 456,524.3 458,523.1 460,522.1 462,521.4 464,521.0 466,520.9 468,521.2 470,521.7 472,522.6 474,523.7 476,525.0 478,526.4 480,527.9 482,529.3 484,530.6 486,531.8 488,532.8 490,533.5 492,533.8 494,533.9 496,533.6 498,533.0 500,532.1 502,531.0 504,529.7 506,528.2 508,526.8 510,525.3 512,524.0 514,522.8 516,521.9 518,521.3 520,520.9 522,520.9 524,521.3 526,521.9 528,522.8 530,524.0 532,525.3 534,526.8 536,528.2 538,529.7 540,531.0 542,532.1 544,533.0 546,533.6 548,533.9 550,533.8 552,533.5 554,532.8 556,531.8 558,530.6 560,529.3 562,527.9 564,526.4 566,525.0 568,523.7 570,522.6 572,521.7 574,521.2 576,520.9 578,521.0 580,521.4 582,522.1 584,523.1 586,524.3 588,525.7 590,527.1 592,528.6 594,530.0" fill="none" stroke="#cfd6dc" stroke-width="3" transform="translate(0,2.2)"/>
<polyline points="50,533.9 52,533.6 54,533.0 56,532.1 58,531.0 60,529.7 62,528.2 64,526.8 66,525.3 68,524.0 70,522.8 72,521.9 74,521.3 76,520.9 78,520.9 80,521.3 82,521.9 84,522.8 86,524.0 88,525.3 90,526.8 92,528.2 94,529.7 96,531.0 98,532.1 100,533.0 102,533.6 104,533.9 106,533.8 108,533.5 110,532.8 112,531.8 114,530.6 116,529.3 118,527.9 120,526.4 122,525.0 124,523.7 126,522.6 128,521.7 130,521.2 132,520.9 134,521.0 136,521.4 138,522.1 140,523.1 142,524.3 144,525.7 146,527.1 148,528.6 150,530.0 152,531.3 154,532.3 156,533.2 158,533.7 160,533.9 162,533.8 164,533.3 166,532.6 168,531.6 170,530.3 172,528.9 174,527.5 176,526.0 178,524.6 180,523.4 182,522.3 184,521.6 186,521.1 188,520.9 190,521.1 192,521.6 194,522.3 196,523.4 198,524.6 200,526.0 202,527.5 204,528.9 206,530.3 208,531.6 210,532.6 212,533.3 214,533.8 216,533.9 218,533.7 220,533.2 222,532.3 224,531.3 226,530.0 228,528.6 230,527.1 232,525.7 234,524.3 236,523.1 238,522.1 240,521.4 242,521.0 244,520.9 246,521.2 248,521.7 250,522.6 252,523.7 254,525.0 256,526.4 258,527.9 260,529.3 262,530.6 264,531.8 266,532.8 268,533.5 270,533.8 272,533.9 274,533.6 276,533.0 278,532.1 280,531.0 282,529.7 284,528.2 286,526.8 288,525.3 290,524.0 292,522.8 294,521.9 296,521.3 298,520.9 300,520.9 302,521.3 304,521.9 306,522.8 308,524.0 310,525.3 312,526.8 314,528.2 316,529.7 318,531.0 320,532.1 322,533.0 324,533.6 326,533.9 328,533.8 330,533.5 332,532.8 334,531.8 336,530.6 338,529.3 340,527.9 342,526.4 344,525.0 346,523.7 348,522.6 350,521.7 352,521.2 354,520.9 356,521.0 358,521.4 360,522.1 362,523.1 364,524.3 366,525.7 368,527.1 370,528.6 372,530.0 374,531.3 376,532.3 378,533.2 380,533.7 382,533.9 384,533.8 386,533.3 388,532.6 390,531.6 392,530.3 394,528.9 396,527.5 398,526.0 400,524.6 402,523.4 404,522.3 406,521.6 408,521.1 410,520.9 412,521.1 414,521.6 416,522.3 418,523.4 420,524.6 422,526.0 424,527.5 426,528.9 428,530.3 430,531.6 432,532.6 434,533.3 436,533.8 438,533.9 440,533.7 442,533.2 444,532.3 446,531.3 448,530.0 450,528.6 452,527.1 454,525.7 456,524.3 458,523.1 460,522.1 462,521.4 464,521.0 466,520.9 468,521.2 470,521.7 472,522.6 474,523.7 476,525.0 478,526.4 480,527.9 482,529.3 484,530.6 486,531.8 488,532.8 490,533.5 492,533.8 494,533.9 496,533.6 498,533.0 500,532.1 502,531.0 504,529.7 506,528.2 508,526.8 510,525.3 512,524.0 514,522.8 516,521.9 518,521.3 520,520.9 522,520.9 524,521.3 526,521.9 528,522.8 530,524.0 532,525.3 534,526.8 536,528.2 538,529.7 540,531.0 542,532.1 544,533.0 546,533.6 548,533.9 550,533.8 552,533.5 554,532.8 556,531.8 558,530.6 560,529.3 562,527.9 564,526.4 566,525.0 568,523.7 570,522.6 572,521.7 574,521.2 576,520.9 578,521.0 580,521.4 582,522.1 584,523.1 586,524.3 588,525.7 590,527.1 592,528.6 594,530.0" fill="none" stroke="#a9b2b9" stroke-width="1.2"/></g>
<path d="M63.5,506 Q65,511 72,511 L589,510 L589,512.5 L72,513.5 Q64,513 63.5,506 Z" fill="#d3d7da"/>
<line x1="588" y1="408" x2="588" y2="509" stroke="#e3e7ea" stroke-width="2"/>
<path d="M589,407 L722,406 L769,404 Q776,404 776,411 L776,472.5 L589,472.5 Z" fill="url(#gfoam)"/>
<path d="M589,407 L722,406 L769,404 Q776,404 776,411 L776,414.5 L589,414.5 Z" fill="url(#gfoamtop)"/>
<line x1="775" y1="414" x2="775" y2="473" stroke="#8fbf9e" stroke-width="2"/>
<path d="M57,407 L57,394 L201.7,239.6 L642,239.6 Q649,240 650.5,247 L719,389 Q724,405 708,405.5 L62,407 Z" fill="#7a818a"/>
<path d="M57,407 L57,394 L201.7,239.6 L642,239.6 Q649,240 650.5,247 L719,389 Q724,405 708,405.5 L62,407 Z" fill="#000" filter="url(#nz_felt)" opacity="0.6"/>
<path d="M57,407 L57,394 L201.7,239.6 L642,239.6 Q649,240 650.5,247 L719,389 Q724,405 708,405.5 L62,407 Z" fill="#000" filter="url(#nz_felt2)" opacity="0.3"/>
<g mask="url(#fsmask)"><path d="M62,394 L660,394 L660,406.5 L64,406.7 Q57,406.7 57,400 Q57,394 62,394 Z" fill="#50565a"/><path d="M62,394 L660,394 L660,406.5 L64,406.7 Q57,406.7 57,400 Q57,394 62,394 Z" fill="url(#feltstripv)"/><path d="M62,394 L660,394 L660,406.5 L64,406.7 Q57,406.7 57,400 Q57,394 62,394 Z" fill="#000" filter="url(#nz_felt2)" opacity="0.25"/></g>
<path d="M61,394.5 Q57,396 57.5,401 Q58,406.3 66,406.3 L660,406.3" fill="none" stroke="url(#feltline)" stroke-width="2"/>
<path d="M63,394 Q58,394 58,389 L58,383 Q58,379 62,379 L199.8,227.7 L593,227.7 Q599,228 601,235 L650,372 Q655,393.6 636,393.6 Z" fill="#8f6a55"/>
<path d="M63,394 Q58,394 58,389 L58,383 Q58,379 62,379 L199.8,227.7 L593,227.7 Q599,228 601,235 L650,372 Q655,393.6 636,393.6 Z" fill="#000" filter="url(#nz_coco)"/>
<path d="M63,394 Q58,394 58,389 L58,383 Q58,379 62,379 L199.8,227.7 L593,227.7 Q599,228 601,235 L650,372 Q655,393.6 636,393.6 Z" fill="#000" filter="url(#nz_cocol)" opacity="0.6"/>
<path d="M62,379 L642,379 L646,394 L63,394 Q58,394 58,389 L58,383 Q58,379 62,379 Z" fill="url(#cocofront)"/>
<path d="M62,378.4 Q58,378.4 58,374 L58,367 Q58,363 62,363 L191.4,220.6 L538,220.6 Q545,221 546.5,228 L576,364 Q578,378 564,378 Z" fill="url(#grsheet)"/>
<path d="M62,363 L574.5,363 L576,366 L576.5,370 L58,370 L58,367 Q58,363 62,363 Z" fill="#9db1a2"/>
<path d="M58,370 L576.5,370 Q578,378.4 564,378.4 L62,378.4 Q58,378.4 58,374 Z" fill="#a3b8a7"/>
<path d="M62,364 L492,364" stroke="#b4c6b7" stroke-width="1.5"/>
<path d="M546.5,228 L575,360" stroke="#a5bba9" stroke-width="3" fill="none"/>
<path d="M188,209.5 Q189.5,207.6 193,207.6 L489,207.4 L490.5,361 Q490.5,363.5 487,363.5 L62,362.5 Q49,361.5 51,350 Z" fill="#d8dfe5"/>
<g clip-path="url(#cliptop)"><polyline points="40,202.9 42,203.8 44,204.7 46,205.6 48,206.5 50,207.4 52,208.3 54,209.2 56,210.1 58,211.0 60,210.1 62,209.2 64,208.3 66,207.4 68,206.5 70,205.6 72,204.7 74,203.8 76,202.9 78,202.0 80,201.1 82,200.2 84,199.3 86,198.4 88,198.4 90,199.3 92,200.2 94,201.1 96,202.0 98,202.9 100,203.8 102,204.7 104,205.6 106,206.5 108,207.4 110,208.3 112,209.2 114,210.1 116,211.0 118,210.1 120,209.2 122,208.3 124,207.4 126,206.5 128,205.6 130,204.7 132,203.8 134,202.9 136,202.0 138,201.1 140,200.2 142,199.3 144,198.4 146,198.4 148,199.3 150,200.2 152,201.1 154,202.0 156,202.9 158,203.8 160,204.7 162,205.6 164,206.5 166,207.4 168,208.3 170,209.2 172,210.1 174,211.0 176,210.1 178,209.2 180,208.3 182,207.4 184,206.5 186,205.6 188,204.7 190,203.8 192,202.9 194,202.0 196,201.1 198,200.2 200,199.3 202,198.4 204,198.4 206,199.3 208,200.2 210,201.1 212,202.0 214,202.9 216,203.8 218,204.7 220,205.6 222,206.5 224,207.4 226,208.3 228,209.2 230,210.1 232,211.0 234,210.1 236,209.2 238,208.3 240,207.4 242,206.5 244,205.6 246,204.7 248,203.8 250,202.9 252,202.0 254,201.1 256,200.2 258,199.3 260,198.4 262,198.4 264,199.3 266,200.2 268,201.1 270,202.0 272,202.9 274,203.8 276,204.7 278,205.6 280,206.5 282,207.4 284,208.3 286,209.2 288,210.1 290,211.0 292,210.1 294,209.2 296,208.3 298,207.4 300,206.5 302,205.6 304,204.7 306,203.8 308,202.9 310,202.0 312,201.1 314,200.2 316,199.3 318,198.4 320,198.4 322,199.3 324,200.2 326,201.1 328,202.0 330,202.9 332,203.8 334,204.7 336,205.6 338,206.5 340,207.4 342,208.3 344,209.2 346,210.1 348,211.0 350,210.1 352,209.2 354,208.3 356,207.4 358,206.5 360,205.6 362,204.7 364,203.8 366,202.9 368,202.0 370,201.1 372,200.2 374,199.3 376,198.4 378,198.4 380,199.3 382,200.2 384,201.1 386,202.0 388,202.9 390,203.8 392,204.7 394,205.6 396,206.5 398,207.4 400,208.3 402,209.2 404,210.1 406,211.0 408,210.1 410,209.2 412,208.3 414,207.4 416,206.5 418,205.6 420,204.7 422,203.8 424,202.9 426,202.0 428,201.1 430,200.2 432,199.3 434,198.4 436,198.4 438,199.3 440,200.2 442,201.1 444,202.0 446,202.9 448,203.8 450,204.7 452,205.6 454,206.5 456,207.4 458,208.3 460,209.2 462,210.1 464,211.0 466,210.1 468,209.2 470,208.3 472,207.4 474,206.5 476,205.6 478,204.7 480,203.8 482,202.9 484,202.0 486,201.1 488,200.2 490,199.3 492,198.4 494,198.4 496,199.3 498,200.2" fill="none" stroke="#e1e7eb" stroke-width="8" transform="translate(0,7)"/>
<polyline points="40,202.9 42,203.8 44,204.7 46,205.6 48,206.5 50,207.4 52,208.3 54,209.2 56,210.1 58,211.0 60,210.1 62,209.2 64,208.3 66,207.4 68,206.5 70,205.6 72,204.7 74,203.8 76,202.9 78,202.0 80,201.1 82,200.2 84,199.3 86,198.4 88,198.4 90,199.3 92,200.2 94,201.1 96,202.0 98,202.9 100,203.8 102,204.7 104,205.6 106,206.5 108,207.4 110,208.3 112,209.2 114,210.1 116,211.0 118,210.1 120,209.2 122,208.3 124,207.4 126,206.5 128,205.6 130,204.7 132,203.8 134,202.9 136,202.0 138,201.1 140,200.2 142,199.3 144,198.4 146,198.4 148,199.3 150,200.2 152,201.1 154,202.0 156,202.9 158,203.8 160,204.7 162,205.6 164,206.5 166,207.4 168,208.3 170,209.2 172,210.1 174,211.0 176,210.1 178,209.2 180,208.3 182,207.4 184,206.5 186,205.6 188,204.7 190,203.8 192,202.9 194,202.0 196,201.1 198,200.2 200,199.3 202,198.4 204,198.4 206,199.3 208,200.2 210,201.1 212,202.0 214,202.9 216,203.8 218,204.7 220,205.6 222,206.5 224,207.4 226,208.3 228,209.2 230,210.1 232,211.0 234,210.1 236,209.2 238,208.3 240,207.4 242,206.5 244,205.6 246,204.7 248,203.8 250,202.9 252,202.0 254,201.1 256,200.2 258,199.3 260,198.4 262,198.4 264,199.3 266,200.2 268,201.1 270,202.0 272,202.9 274,203.8 276,204.7 278,205.6 280,206.5 282,207.4 284,208.3 286,209.2 288,210.1 290,211.0 292,210.1 294,209.2 296,208.3 298,207.4 300,206.5 302,205.6 304,204.7 306,203.8 308,202.9 310,202.0 312,201.1 314,200.2 316,199.3 318,198.4 320,198.4 322,199.3 324,200.2 326,201.1 328,202.0 330,202.9 332,203.8 334,204.7 336,205.6 338,206.5 340,207.4 342,208.3 344,209.2 346,210.1 348,211.0 350,210.1 352,209.2 354,208.3 356,207.4 358,206.5 360,205.6 362,204.7 364,203.8 366,202.9 368,202.0 370,201.1 372,200.2 374,199.3 376,198.4 378,198.4 380,199.3 382,200.2 384,201.1 386,202.0 388,202.9 390,203.8 392,204.7 394,205.6 396,206.5 398,207.4 400,208.3 402,209.2 404,210.1 406,211.0 408,210.1 410,209.2 412,208.3 414,207.4 416,206.5 418,205.6 420,204.7 422,203.8 424,202.9 426,202.0 428,201.1 430,200.2 432,199.3 434,198.4 436,198.4 438,199.3 440,200.2 442,201.1 444,202.0 446,202.9 448,203.8 450,204.7 452,205.6 454,206.5 456,207.4 458,208.3 460,209.2 462,210.1 464,211.0 466,210.1 468,209.2 470,208.3 472,207.4 474,206.5 476,205.6 478,204.7 480,203.8 482,202.9 484,202.0 486,201.1 488,200.2 490,199.3 492,198.4 494,198.4 496,199.3 498,200.2" fill="none" stroke="#ccd4d9" stroke-width="3" transform="translate(0,-2)"/>
<polyline points="40,202.9 42,203.8 44,204.7 46,205.6 48,206.5 50,207.4 52,208.3 54,209.2 56,210.1 58,211.0 60,210.1 62,209.2 64,208.3 66,207.4 68,206.5 70,205.6 72,204.7 74,203.8 76,202.9 78,202.0 80,201.1 82,200.2 84,199.3 86,198.4 88,198.4 90,199.3 92,200.2 94,201.1 96,202.0 98,202.9 100,203.8 102,204.7 104,205.6 106,206.5 108,207.4 110,208.3 112,209.2 114,210.1 116,211.0 118,210.1 120,209.2 122,208.3 124,207.4 126,206.5 128,205.6 130,204.7 132,203.8 134,202.9 136,202.0 138,201.1 140,200.2 142,199.3 144,198.4 146,198.4 148,199.3 150,200.2 152,201.1 154,202.0 156,202.9 158,203.8 160,204.7 162,205.6 164,206.5 166,207.4 168,208.3 170,209.2 172,210.1 174,211.0 176,210.1 178,209.2 180,208.3 182,207.4 184,206.5 186,205.6 188,204.7 190,203.8 192,202.9 194,202.0 196,201.1 198,200.2 200,199.3 202,198.4 204,198.4 206,199.3 208,200.2 210,201.1 212,202.0 214,202.9 216,203.8 218,204.7 220,205.6 222,206.5 224,207.4 226,208.3 228,209.2 230,210.1 232,211.0 234,210.1 236,209.2 238,208.3 240,207.4 242,206.5 244,205.6 246,204.7 248,203.8 250,202.9 252,202.0 254,201.1 256,200.2 258,199.3 260,198.4 262,198.4 264,199.3 266,200.2 268,201.1 270,202.0 272,202.9 274,203.8 276,204.7 278,205.6 280,206.5 282,207.4 284,208.3 286,209.2 288,210.1 290,211.0 292,210.1 294,209.2 296,208.3 298,207.4 300,206.5 302,205.6 304,204.7 306,203.8 308,202.9 310,202.0 312,201.1 314,200.2 316,199.3 318,198.4 320,198.4 322,199.3 324,200.2 326,201.1 328,202.0 330,202.9 332,203.8 334,204.7 336,205.6 338,206.5 340,207.4 342,208.3 344,209.2 346,210.1 348,211.0 350,210.1 352,209.2 354,208.3 356,207.4 358,206.5 360,205.6 362,204.7 364,203.8 366,202.9 368,202.0 370,201.1 372,200.2 374,199.3 376,198.4 378,198.4 380,199.3 382,200.2 384,201.1 386,202.0 388,202.9 390,203.8 392,204.7 394,205.6 396,206.5 398,207.4 400,208.3 402,209.2 404,210.1 406,211.0 408,210.1 410,209.2 412,208.3 414,207.4 416,206.5 418,205.6 420,204.7 422,203.8 424,202.9 426,202.0 428,201.1 430,200.2 432,199.3 434,198.4 436,198.4 438,199.3 440,200.2 442,201.1 444,202.0 446,202.9 448,203.8 450,204.7 452,205.6 454,206.5 456,207.4 458,208.3 460,209.2 462,210.1 464,211.0 466,210.1 468,209.2 470,208.3 472,207.4 474,206.5 476,205.6 478,204.7 480,203.8 482,202.9 484,202.0 486,201.1 488,200.2 490,199.3 492,198.4 494,198.4 496,199.3 498,200.2" fill="none" stroke="#b0bac0" stroke-width="1.1"/>
<polyline points="40,227.0 42,228.0 44,228.9 46,229.9 48,230.8 50,231.8 52,230.8 54,229.9 56,228.9 58,228.0 60,227.0 62,226.1 64,225.1 66,224.2 68,223.2 70,222.3 72,221.3 74,220.4 76,219.4 78,218.5 80,218.5 82,219.4 84,220.4 86,221.3 88,222.3 90,223.2 92,224.2 94,225.1 96,226.1 98,227.0 100,228.0 102,228.9 104,229.9 106,230.8 108,231.8 110,230.8 112,229.9 114,228.9 116,228.0 118,227.0 120,226.1 122,225.1 124,224.2 126,223.2 128,222.3 130,221.3 132,220.4 134,219.4 136,218.5 138,218.5 140,219.4 142,220.4 144,221.3 146,222.3 148,223.2 150,224.2 152,225.1 154,226.1 156,227.0 158,228.0 160,228.9 162,229.9 164,230.8 166,231.8 168,230.8 170,229.9 172,228.9 174,228.0 176,227.0 178,226.1 180,225.1 182,224.2 184,223.2 186,222.3 188,221.3 190,220.4 192,219.4 194,218.5 196,218.5 198,219.4 200,220.4 202,221.3 204,222.3 206,223.2 208,224.2 210,225.1 212,226.1 214,227.0 216,228.0 218,228.9 220,229.9 222,230.8 224,231.8 226,230.8 228,229.9 230,228.9 232,228.0 234,227.0 236,226.1 238,225.1 240,224.2 242,223.2 244,222.3 246,221.3 248,220.4 250,219.4 252,218.5 254,218.5 256,219.4 258,220.4 260,221.3 262,222.3 264,223.2 266,224.2 268,225.1 270,226.1 272,227.0 274,228.0 276,228.9 278,229.9 280,230.8 282,231.8 284,230.8 286,229.9 288,228.9 290,228.0 292,227.0 294,226.1 296,225.1 298,224.2 300,223.2 302,222.3 304,221.3 306,220.4 308,219.4 310,218.5 312,218.5 314,219.4 316,220.4 318,221.3 320,222.3 322,223.2 324,224.2 326,225.1 328,226.1 330,227.0 332,228.0 334,228.9 336,229.9 338,230.8 340,231.8 342,230.8 344,229.9 346,228.9 348,228.0 350,227.0 352,226.1 354,225.1 356,224.2 358,223.2 360,222.3 362,221.3 364,220.4 366,219.4 368,218.5 370,218.5 372,219.4 374,220.4 376,221.3 378,222.3 380,223.2 382,224.2 384,225.1 386,226.1 388,227.0 390,228.0 392,228.9 394,229.9 396,230.8 398,231.8 400,230.8 402,229.9 404,228.9 406,228.0 408,227.0 410,226.1 412,225.1 414,224.2 416,223.2 418,222.3 420,221.3 422,220.4 424,219.4 426,218.5 428,218.5 430,219.4 432,220.4 434,221.3 436,222.3 438,223.2 440,224.2 442,225.1 444,226.1 446,227.0 448,228.0 450,228.9 452,229.9 454,230.8 456,231.8 458,230.8 460,229.9 462,228.9 464,228.0 466,227.0 468,226.1 470,225.1 472,224.2 474,223.2 476,222.3 478,221.3 480,220.4 482,219.4 484,218.5 486,218.5 488,219.4 490,220.4 492,221.3 494,222.3 496,223.2 498,224.2" fill="none" stroke="#e1e7eb" stroke-width="8" transform="translate(0,7)"/>
<polyline points="40,227.0 42,228.0 44,228.9 46,229.9 48,230.8 50,231.8 52,230.8 54,229.9 56,228.9 58,228.0 60,227.0 62,226.1 64,225.1 66,224.2 68,223.2 70,222.3 72,221.3 74,220.4 76,219.4 78,218.5 80,218.5 82,219.4 84,220.4 86,221.3 88,222.3 90,223.2 92,224.2 94,225.1 96,226.1 98,227.0 100,228.0 102,228.9 104,229.9 106,230.8 108,231.8 110,230.8 112,229.9 114,228.9 116,228.0 118,227.0 120,226.1 122,225.1 124,224.2 126,223.2 128,222.3 130,221.3 132,220.4 134,219.4 136,218.5 138,218.5 140,219.4 142,220.4 144,221.3 146,222.3 148,223.2 150,224.2 152,225.1 154,226.1 156,227.0 158,228.0 160,228.9 162,229.9 164,230.8 166,231.8 168,230.8 170,229.9 172,228.9 174,228.0 176,227.0 178,226.1 180,225.1 182,224.2 184,223.2 186,222.3 188,221.3 190,220.4 192,219.4 194,218.5 196,218.5 198,219.4 200,220.4 202,221.3 204,222.3 206,223.2 208,224.2 210,225.1 212,226.1 214,227.0 216,228.0 218,228.9 220,229.9 222,230.8 224,231.8 226,230.8 228,229.9 230,228.9 232,228.0 234,227.0 236,226.1 238,225.1 240,224.2 242,223.2 244,222.3 246,221.3 248,220.4 250,219.4 252,218.5 254,218.5 256,219.4 258,220.4 260,221.3 262,222.3 264,223.2 266,224.2 268,225.1 270,226.1 272,227.0 274,228.0 276,228.9 278,229.9 280,230.8 282,231.8 284,230.8 286,229.9 288,228.9 290,228.0 292,227.0 294,226.1 296,225.1 298,224.2 300,223.2 302,222.3 304,221.3 306,220.4 308,219.4 310,218.5 312,218.5 314,219.4 316,220.4 318,221.3 320,222.3 322,223.2 324,224.2 326,225.1 328,226.1 330,227.0 332,228.0 334,228.9 336,229.9 338,230.8 340,231.8 342,230.8 344,229.9 346,228.9 348,228.0 350,227.0 352,226.1 354,225.1 356,224.2 358,223.2 360,222.3 362,221.3 364,220.4 366,219.4 368,218.5 370,218.5 372,219.4 374,220.4 376,221.3 378,222.3 380,223.2 382,224.2 384,225.1 386,226.1 388,227.0 390,228.0 392,228.9 394,229.9 396,230.8 398,231.8 400,230.8 402,229.9 404,228.9 406,228.0 408,227.0 410,226.1 412,225.1 414,224.2 416,223.2 418,222.3 420,221.3 422,220.4 424,219.4 426,218.5 428,218.5 430,219.4 432,220.4 434,221.3 436,222.3 438,223.2 440,224.2 442,225.1 444,226.1 446,227.0 448,228.0 450,228.9 452,229.9 454,230.8 456,231.8 458,230.8 460,229.9 462,228.9 464,228.0 466,227.0 468,226.1 470,225.1 472,224.2 474,223.2 476,222.3 478,221.3 480,220.4 482,219.4 484,218.5 486,218.5 488,219.4 490,220.4 492,221.3 494,222.3 496,223.2 498,224.2" fill="none" stroke="#ccd4d9" stroke-width="3" transform="translate(0,-2)"/>
<polyline points="40,227.0 42,228.0 44,228.9 46,229.9 48,230.8 50,231.8 52,230.8 54,229.9 56,228.9 58,228.0 60,227.0 62,226.1 64,225.1 66,224.2 68,223.2 70,222.3 72,221.3 74,220.4 76,219.4 78,218.5 80,218.5 82,219.4 84,220.4 86,221.3 88,222.3 90,223.2 92,224.2 94,225.1 96,226.1 98,227.0 100,228.0 102,228.9 104,229.9 106,230.8 108,231.8 110,230.8 112,229.9 114,228.9 116,228.0 118,227.0 120,226.1 122,225.1 124,224.2 126,223.2 128,222.3 130,221.3 132,220.4 134,219.4 136,218.5 138,218.5 140,219.4 142,220.4 144,221.3 146,222.3 148,223.2 150,224.2 152,225.1 154,226.1 156,227.0 158,228.0 160,228.9 162,229.9 164,230.8 166,231.8 168,230.8 170,229.9 172,228.9 174,228.0 176,227.0 178,226.1 180,225.1 182,224.2 184,223.2 186,222.3 188,221.3 190,220.4 192,219.4 194,218.5 196,218.5 198,219.4 200,220.4 202,221.3 204,222.3 206,223.2 208,224.2 210,225.1 212,226.1 214,227.0 216,228.0 218,228.9 220,229.9 222,230.8 224,231.8 226,230.8 228,229.9 230,228.9 232,228.0 234,227.0 236,226.1 238,225.1 240,224.2 242,223.2 244,222.3 246,221.3 248,220.4 250,219.4 252,218.5 254,218.5 256,219.4 258,220.4 260,221.3 262,222.3 264,223.2 266,224.2 268,225.1 270,226.1 272,227.0 274,228.0 276,228.9 278,229.9 280,230.8 282,231.8 284,230.8 286,229.9 288,228.9 290,228.0 292,227.0 294,226.1 296,225.1 298,224.2 300,223.2 302,222.3 304,221.3 306,220.4 308,219.4 310,218.5 312,218.5 314,219.4 316,220.4 318,221.3 320,222.3 322,223.2 324,224.2 326,225.1 328,226.1 330,227.0 332,228.0 334,228.9 336,229.9 338,230.8 340,231.8 342,230.8 344,229.9 346,228.9 348,228.0 350,227.0 352,226.1 354,225.1 356,224.2 358,223.2 360,222.3 362,221.3 364,220.4 366,219.4 368,218.5 370,218.5 372,219.4 374,220.4 376,221.3 378,222.3 380,223.2 382,224.2 384,225.1 386,226.1 388,227.0 390,228.0 392,228.9 394,229.9 396,230.8 398,231.8 400,230.8 402,229.9 404,228.9 406,228.0 408,227.0 410,226.1 412,225.1 414,224.2 416,223.2 418,222.3 420,221.3 422,220.4 424,219.4 426,218.5 428,218.5 430,219.4 432,220.4 434,221.3 436,222.3 438,223.2 440,224.2 442,225.1 444,226.1 446,227.0 448,228.0 450,228.9 452,229.9 454,230.8 456,231.8 458,230.8 460,229.9 462,228.9 464,228.0 466,227.0 468,226.1 470,225.1 472,224.2 474,223.2 476,222.3 478,221.3 480,220.4 482,219.4 484,218.5 486,218.5 488,219.4 490,220.4 492,221.3 494,222.3 496,223.2 498,224.2" fill="none" stroke="#b0bac0" stroke-width="1.1"/>
<polyline points="40,252.6 42,253.6 44,252.6 46,251.6 48,250.6 50,249.6 52,248.6 54,247.6 56,246.6 58,245.5 60,244.5 62,243.5 64,242.5 66,241.5 68,240.5 70,239.5 72,239.5 74,240.5 76,241.5 78,242.5 80,243.5 82,244.5 84,245.5 86,246.6 88,247.6 90,248.6 92,249.6 94,250.6 96,251.6 98,252.6 100,253.6 102,252.6 104,251.6 106,250.6 108,249.6 110,248.6 112,247.6 114,246.6 116,245.5 118,244.5 120,243.5 122,242.5 124,241.5 126,240.5 128,239.5 130,239.5 132,240.5 134,241.5 136,242.5 138,243.5 140,244.5 142,245.5 144,246.6 146,247.6 148,248.6 150,249.6 152,250.6 154,251.6 156,252.6 158,253.6 160,252.6 162,251.6 164,250.6 166,249.6 168,248.6 170,247.6 172,246.6 174,245.5 176,244.5 178,243.5 180,242.5 182,241.5 184,240.5 186,239.5 188,239.5 190,240.5 192,241.5 194,242.5 196,243.5 198,244.5 200,245.5 202,246.6 204,247.6 206,248.6 208,249.6 210,250.6 212,251.6 214,252.6 216,253.6 218,252.6 220,251.6 222,250.6 224,249.6 226,248.6 228,247.6 230,246.6 232,245.5 234,244.5 236,243.5 238,242.5 240,241.5 242,240.5 244,239.5 246,239.5 248,240.5 250,241.5 252,242.5 254,243.5 256,244.5 258,245.5 260,246.6 262,247.6 264,248.6 266,249.6 268,250.6 270,251.6 272,252.6 274,253.6 276,252.6 278,251.6 280,250.6 282,249.6 284,248.6 286,247.6 288,246.6 290,245.5 292,244.5 294,243.5 296,242.5 298,241.5 300,240.5 302,239.5 304,239.5 306,240.5 308,241.5 310,242.5 312,243.5 314,244.5 316,245.5 318,246.6 320,247.6 322,248.6 324,249.6 326,250.6 328,251.6 330,252.6 332,253.6 334,252.6 336,251.6 338,250.6 340,249.6 342,248.6 344,247.6 346,246.6 348,245.5 350,244.5 352,243.5 354,242.5 356,241.5 358,240.5 360,239.5 362,239.5 364,240.5 366,241.5 368,242.5 370,243.5 372,244.5 374,245.5 376,246.6 378,247.6 380,248.6 382,249.6 384,250.6 386,251.6 388,252.6 390,253.6 392,252.6 394,251.6 396,250.6 398,249.6 400,248.6 402,247.6 404,246.6 406,245.5 408,244.5 410,243.5 412,242.5 414,241.5 416,240.5 418,239.5 420,239.5 422,240.5 424,241.5 426,242.5 428,243.5 430,244.5 432,245.5 434,246.6 436,247.6 438,248.6 440,249.6 442,250.6 444,251.6 446,252.6 448,253.6 450,252.6 452,251.6 454,250.6 456,249.6 458,248.6 460,247.6 462,246.6 464,245.5 466,244.5 468,243.5 470,242.5 472,241.5 474,240.5 476,239.5 478,239.5 480,240.5 482,241.5 484,242.5 486,243.5 488,244.5 490,245.5 492,246.6 494,247.6 496,248.6 498,249.6" fill="none" stroke="#e1e7eb" stroke-width="8" transform="translate(0,7)"/>
<polyline points="40,252.6 42,253.6 44,252.6 46,251.6 48,250.6 50,249.6 52,248.6 54,247.6 56,246.6 58,245.5 60,244.5 62,243.5 64,242.5 66,241.5 68,240.5 70,239.5 72,239.5 74,240.5 76,241.5 78,242.5 80,243.5 82,244.5 84,245.5 86,246.6 88,247.6 90,248.6 92,249.6 94,250.6 96,251.6 98,252.6 100,253.6 102,252.6 104,251.6 106,250.6 108,249.6 110,248.6 112,247.6 114,246.6 116,245.5 118,244.5 120,243.5 122,242.5 124,241.5 126,240.5 128,239.5 130,239.5 132,240.5 134,241.5 136,242.5 138,243.5 140,244.5 142,245.5 144,246.6 146,247.6 148,248.6 150,249.6 152,250.6 154,251.6 156,252.6 158,253.6 160,252.6 162,251.6 164,250.6 166,249.6 168,248.6 170,247.6 172,246.6 174,245.5 176,244.5 178,243.5 180,242.5 182,241.5 184,240.5 186,239.5 188,239.5 190,240.5 192,241.5 194,242.5 196,243.5 198,244.5 200,245.5 202,246.6 204,247.6 206,248.6 208,249.6 210,250.6 212,251.6 214,252.6 216,253.6 218,252.6 220,251.6 222,250.6 224,249.6 226,248.6 228,247.6 230,246.6 232,245.5 234,244.5 236,243.5 238,242.5 240,241.5 242,240.5 244,239.5 246,239.5 248,240.5 250,241.5 252,242.5 254,243.5 256,244.5 258,245.5 260,246.6 262,247.6 264,248.6 266,249.6 268,250.6 270,251.6 272,252.6 274,253.6 276,252.6 278,251.6 280,250.6 282,249.6 284,248.6 286,247.6 288,246.6 290,245.5 292,244.5 294,243.5 296,242.5 298,241.5 300,240.5 302,239.5 304,239.5 306,240.5 308,241.5 310,242.5 312,243.5 314,244.5 316,245.5 318,246.6 320,247.6 322,248.6 324,249.6 326,250.6 328,251.6 330,252.6 332,253.6 334,252.6 336,251.6 338,250.6 340,249.6 342,248.6 344,247.6 346,246.6 348,245.5 350,244.5 352,243.5 354,242.5 356,241.5 358,240.5 360,239.5 362,239.5 364,240.5 366,241.5 368,242.5 370,243.5 372,244.5 374,245.5 376,246.6 378,247.6 380,248.6 382,249.6 384,250.6 386,251.6 388,252.6 390,253.6 392,252.6 394,251.6 396,250.6 398,249.6 400,248.6 402,247.6 404,246.6 406,245.5 408,244.5 410,243.5 412,242.5 414,241.5 416,240.5 418,239.5 420,239.5 422,240.5 424,241.5 426,242.5 428,243.5 430,244.5 432,245.5 434,246.6 436,247.6 438,248.6 440,249.6 442,250.6 444,251.6 446,252.6 448,253.6 450,252.6 452,251.6 454,250.6 456,249.6 458,248.6 460,247.6 462,246.6 464,245.5 466,244.5 468,243.5 470,242.5 472,241.5 474,240.5 476,239.5 478,239.5 480,240.5 482,241.5 484,242.5 486,243.5 488,244.5 490,245.5 492,246.6 494,247.6 496,248.6 498,249.6" fill="none" stroke="#ccd4d9" stroke-width="3" transform="translate(0,-2)"/>
<polyline points="40,252.6 42,253.6 44,252.6 46,251.6 48,250.6 50,249.6 52,248.6 54,247.6 56,246.6 58,245.5 60,244.5 62,243.5 64,242.5 66,241.5 68,240.5 70,239.5 72,239.5 74,240.5 76,241.5 78,242.5 80,243.5 82,244.5 84,245.5 86,246.6 88,247.6 90,248.6 92,249.6 94,250.6 96,251.6 98,252.6 100,253.6 102,252.6 104,251.6 106,250.6 108,249.6 110,248.6 112,247.6 114,246.6 116,245.5 118,244.5 120,243.5 122,242.5 124,241.5 126,240.5 128,239.5 130,239.5 132,240.5 134,241.5 136,242.5 138,243.5 140,244.5 142,245.5 144,246.6 146,247.6 148,248.6 150,249.6 152,250.6 154,251.6 156,252.6 158,253.6 160,252.6 162,251.6 164,250.6 166,249.6 168,248.6 170,247.6 172,246.6 174,245.5 176,244.5 178,243.5 180,242.5 182,241.5 184,240.5 186,239.5 188,239.5 190,240.5 192,241.5 194,242.5 196,243.5 198,244.5 200,245.5 202,246.6 204,247.6 206,248.6 208,249.6 210,250.6 212,251.6 214,252.6 216,253.6 218,252.6 220,251.6 222,250.6 224,249.6 226,248.6 228,247.6 230,246.6 232,245.5 234,244.5 236,243.5 238,242.5 240,241.5 242,240.5 244,239.5 246,239.5 248,240.5 250,241.5 252,242.5 254,243.5 256,244.5 258,245.5 260,246.6 262,247.6 264,248.6 266,249.6 268,250.6 270,251.6 272,252.6 274,253.6 276,252.6 278,251.6 280,250.6 282,249.6 284,248.6 286,247.6 288,246.6 290,245.5 292,244.5 294,243.5 296,242.5 298,241.5 300,240.5 302,239.5 304,239.5 306,240.5 308,241.5 310,242.5 312,243.5 314,244.5 316,245.5 318,246.6 320,247.6 322,248.6 324,249.6 326,250.6 328,251.6 330,252.6 332,253.6 334,252.6 336,251.6 338,250.6 340,249.6 342,248.6 344,247.6 346,246.6 348,245.5 350,244.5 352,243.5 354,242.5 356,241.5 358,240.5 360,239.5 362,239.5 364,240.5 366,241.5 368,242.5 370,243.5 372,244.5 374,245.5 376,246.6 378,247.6 380,248.6 382,249.6 384,250.6 386,251.6 388,252.6 390,253.6 392,252.6 394,251.6 396,250.6 398,249.6 400,248.6 402,247.6 404,246.6 406,245.5 408,244.5 410,243.5 412,242.5 414,241.5 416,240.5 418,239.5 420,239.5 422,240.5 424,241.5 426,242.5 428,243.5 430,244.5 432,245.5 434,246.6 436,247.6 438,248.6 440,249.6 442,250.6 444,251.6 446,252.6 448,253.6 450,252.6 452,251.6 454,250.6 456,249.6 458,248.6 460,247.6 462,246.6 464,245.5 466,244.5 468,243.5 470,242.5 472,241.5 474,240.5 476,239.5 478,239.5 480,240.5 482,241.5 484,242.5 486,243.5 488,244.5 490,245.5 492,246.6 494,247.6 496,248.6 498,249.6" fill="none" stroke="#b0bac0" stroke-width="1.1"/>
<polyline points="40,272.2 42,271.2 44,270.1 46,269.0 48,268.0 50,266.9 52,265.8 54,264.8 56,263.7 58,262.7 60,261.6 62,260.5 64,260.5 66,261.6 68,262.7 70,263.7 72,264.8 74,265.8 76,266.9 78,268.0 80,269.0 82,270.1 84,271.2 86,272.2 88,273.3 90,274.3 92,275.4 94,274.3 96,273.3 98,272.2 100,271.2 102,270.1 104,269.0 106,268.0 108,266.9 110,265.8 112,264.8 114,263.7 116,262.7 118,261.6 120,260.5 122,260.5 124,261.6 126,262.7 128,263.7 130,264.8 132,265.8 134,266.9 136,268.0 138,269.0 140,270.1 142,271.2 144,272.2 146,273.3 148,274.3 150,275.4 152,274.3 154,273.3 156,272.2 158,271.2 160,270.1 162,269.0 164,268.0 166,266.9 168,265.8 170,264.8 172,263.7 174,262.7 176,261.6 178,260.5 180,260.5 182,261.6 184,262.7 186,263.7 188,264.8 190,265.8 192,266.9 194,268.0 196,269.0 198,270.1 200,271.2 202,272.2 204,273.3 206,274.3 208,275.4 210,274.3 212,273.3 214,272.2 216,271.2 218,270.1 220,269.0 222,268.0 224,266.9 226,265.8 228,264.8 230,263.7 232,262.7 234,261.6 236,260.5 238,260.5 240,261.6 242,262.7 244,263.7 246,264.8 248,265.8 250,266.9 252,268.0 254,269.0 256,270.1 258,271.2 260,272.2 262,273.3 264,274.3 266,275.4 268,274.3 270,273.3 272,272.2 274,271.2 276,270.1 278,269.0 280,268.0 282,266.9 284,265.8 286,264.8 288,263.7 290,262.7 292,261.6 294,260.5 296,260.5 298,261.6 300,262.7 302,263.7 304,264.8 306,265.8 308,266.9 310,268.0 312,269.0 314,270.1 316,271.2 318,272.2 320,273.3 322,274.3 324,275.4 326,274.3 328,273.3 330,272.2 332,271.2 334,270.1 336,269.0 338,268.0 340,266.9 342,265.8 344,264.8 346,263.7 348,262.7 350,261.6 352,260.5 354,260.5 356,261.6 358,262.7 360,263.7 362,264.8 364,265.8 366,266.9 368,268.0 370,269.0 372,270.1 374,271.2 376,272.2 378,273.3 380,274.3 382,275.4 384,274.3 386,273.3 388,272.2 390,271.2 392,270.1 394,269.0 396,268.0 398,266.9 400,265.8 402,264.8 404,263.7 406,262.7 408,261.6 410,260.5 412,260.5 414,261.6 416,262.7 418,263.7 420,264.8 422,265.8 424,266.9 426,268.0 428,269.0 430,270.1 432,271.2 434,272.2 436,273.3 438,274.3 440,275.4 442,274.3 444,273.3 446,272.2 448,271.2 450,270.1 452,269.0 454,268.0 456,266.9 458,265.8 460,264.8 462,263.7 464,262.7 466,261.6 468,260.5 470,260.5 472,261.6 474,262.7 476,263.7 478,264.8 480,265.8 482,266.9 484,268.0 486,269.0 488,270.1 490,271.2 492,272.2 494,273.3 496,274.3 498,275.4" fill="none" stroke="#e1e7eb" stroke-width="8" transform="translate(0,7)"/>
<polyline points="40,272.2 42,271.2 44,270.1 46,269.0 48,268.0 50,266.9 52,265.8 54,264.8 56,263.7 58,262.7 60,261.6 62,260.5 64,260.5 66,261.6 68,262.7 70,263.7 72,264.8 74,265.8 76,266.9 78,268.0 80,269.0 82,270.1 84,271.2 86,272.2 88,273.3 90,274.3 92,275.4 94,274.3 96,273.3 98,272.2 100,271.2 102,270.1 104,269.0 106,268.0 108,266.9 110,265.8 112,264.8 114,263.7 116,262.7 118,261.6 120,260.5 122,260.5 124,261.6 126,262.7 128,263.7 130,264.8 132,265.8 134,266.9 136,268.0 138,269.0 140,270.1 142,271.2 144,272.2 146,273.3 148,274.3 150,275.4 152,274.3 154,273.3 156,272.2 158,271.2 160,270.1 162,269.0 164,268.0 166,266.9 168,265.8 170,264.8 172,263.7 174,262.7 176,261.6 178,260.5 180,260.5 182,261.6 184,262.7 186,263.7 188,264.8 190,265.8 192,266.9 194,268.0 196,269.0 198,270.1 200,271.2 202,272.2 204,273.3 206,274.3 208,275.4 210,274.3 212,273.3 214,272.2 216,271.2 218,270.1 220,269.0 222,268.0 224,266.9 226,265.8 228,264.8 230,263.7 232,262.7 234,261.6 236,260.5 238,260.5 240,261.6 242,262.7 244,263.7 246,264.8 248,265.8 250,266.9 252,268.0 254,269.0 256,270.1 258,271.2 260,272.2 262,273.3 264,274.3 266,275.4 268,274.3 270,273.3 272,272.2 274,271.2 276,270.1 278,269.0 280,268.0 282,266.9 284,265.8 286,264.8 288,263.7 290,262.7 292,261.6 294,260.5 296,260.5 298,261.6 300,262.7 302,263.7 304,264.8 306,265.8 308,266.9 310,268.0 312,269.0 314,270.1 316,271.2 318,272.2 320,273.3 322,274.3 324,275.4 326,274.3 328,273.3 330,272.2 332,271.2 334,270.1 336,269.0 338,268.0 340,266.9 342,265.8 344,264.8 346,263.7 348,262.7 350,261.6 352,260.5 354,260.5 356,261.6 358,262.7 360,263.7 362,264.8 364,265.8 366,266.9 368,268.0 370,269.0 372,270.1 374,271.2 376,272.2 378,273.3 380,274.3 382,275.4 384,274.3 386,273.3 388,272.2 390,271.2 392,270.1 394,269.0 396,268.0 398,266.9 400,265.8 402,264.8 404,263.7 406,262.7 408,261.6 410,260.5 412,260.5 414,261.6 416,262.7 418,263.7 420,264.8 422,265.8 424,266.9 426,268.0 428,269.0 430,270.1 432,271.2 434,272.2 436,273.3 438,274.3 440,275.4 442,274.3 444,273.3 446,272.2 448,271.2 450,270.1 452,269.0 454,268.0 456,266.9 458,265.8 460,264.8 462,263.7 464,262.7 466,261.6 468,260.5 470,260.5 472,261.6 474,262.7 476,263.7 478,264.8 480,265.8 482,266.9 484,268.0 486,269.0 488,270.1 490,271.2 492,272.2 494,273.3 496,274.3 498,275.4" fill="none" stroke="#ccd4d9" stroke-width="3" transform="translate(0,-2)"/>
<polyline points="40,272.2 42,271.2 44,270.1 46,269.0 48,268.0 50,266.9 52,265.8 54,264.8 56,263.7 58,262.7 60,261.6 62,260.5 64,260.5 66,261.6 68,262.7 70,263.7 72,264.8 74,265.8 76,266.9 78,268.0 80,269.0 82,270.1 84,271.2 86,272.2 88,273.3 90,274.3 92,275.4 94,274.3 96,273.3 98,272.2 100,271.2 102,270.1 104,269.0 106,268.0 108,266.9 110,265.8 112,264.8 114,263.7 116,262.7 118,261.6 120,260.5 122,260.5 124,261.6 126,262.7 128,263.7 130,264.8 132,265.8 134,266.9 136,268.0 138,269.0 140,270.1 142,271.2 144,272.2 146,273.3 148,274.3 150,275.4 152,274.3 154,273.3 156,272.2 158,271.2 160,270.1 162,269.0 164,268.0 166,266.9 168,265.8 170,264.8 172,263.7 174,262.7 176,261.6 178,260.5 180,260.5 182,261.6 184,262.7 186,263.7 188,264.8 190,265.8 192,266.9 194,268.0 196,269.0 198,270.1 200,271.2 202,272.2 204,273.3 206,274.3 208,275.4 210,274.3 212,273.3 214,272.2 216,271.2 218,270.1 220,269.0 222,268.0 224,266.9 226,265.8 228,264.8 230,263.7 232,262.7 234,261.6 236,260.5 238,260.5 240,261.6 242,262.7 244,263.7 246,264.8 248,265.8 250,266.9 252,268.0 254,269.0 256,270.1 258,271.2 260,272.2 262,273.3 264,274.3 266,275.4 268,274.3 270,273.3 272,272.2 274,271.2 276,270.1 278,269.0 280,268.0 282,266.9 284,265.8 286,264.8 288,263.7 290,262.7 292,261.6 294,260.5 296,260.5 298,261.6 300,262.7 302,263.7 304,264.8 306,265.8 308,266.9 310,268.0 312,269.0 314,270.1 316,271.2 318,272.2 320,273.3 322,274.3 324,275.4 326,274.3 328,273.3 330,272.2 332,271.2 334,270.1 336,269.0 338,268.0 340,266.9 342,265.8 344,264.8 346,263.7 348,262.7 350,261.6 352,260.5 354,260.5 356,261.6 358,262.7 360,263.7 362,264.8 364,265.8 366,266.9 368,268.0 370,269.0 372,270.1 374,271.2 376,272.2 378,273.3 380,274.3 382,275.4 384,274.3 386,273.3 388,272.2 390,271.2 392,270.1 394,269.0 396,268.0 398,266.9 400,265.8 402,264.8 404,263.7 406,262.7 408,261.6 410,260.5 412,260.5 414,261.6 416,262.7 418,263.7 420,264.8 422,265.8 424,266.9 426,268.0 428,269.0 430,270.1 432,271.2 434,272.2 436,273.3 438,274.3 440,275.4 442,274.3 444,273.3 446,272.2 448,271.2 450,270.1 452,269.0 454,268.0 456,266.9 458,265.8 460,264.8 462,263.7 464,262.7 466,261.6 468,260.5 470,260.5 472,261.6 474,262.7 476,263.7 478,264.8 480,265.8 482,266.9 484,268.0 486,269.0 488,270.1 490,271.2 492,272.2 494,273.3 496,274.3 498,275.4" fill="none" stroke="#b0bac0" stroke-width="1.1"/>
<polyline points="40,290.4 42,289.3 44,288.1 46,287.0 48,285.9 50,284.8 52,283.7 54,282.6 56,282.6 58,283.7 60,284.8 62,285.9 64,287.0 66,288.1 68,289.3 70,290.4 72,291.5 74,292.6 76,293.7 78,294.8 80,296.0 82,297.1 84,298.2 86,297.1 88,296.0 90,294.8 92,293.7 94,292.6 96,291.5 98,290.4 100,289.3 102,288.1 104,287.0 106,285.9 108,284.8 110,283.7 112,282.6 114,282.6 116,283.7 118,284.8 120,285.9 122,287.0 124,288.1 126,289.3 128,290.4 130,291.5 132,292.6 134,293.7 136,294.8 138,296.0 140,297.1 142,298.2 144,297.1 146,296.0 148,294.8 150,293.7 152,292.6 154,291.5 156,290.4 158,289.3 160,288.1 162,287.0 164,285.9 166,284.8 168,283.7 170,282.6 172,282.6 174,283.7 176,284.8 178,285.9 180,287.0 182,288.1 184,289.3 186,290.4 188,291.5 190,292.6 192,293.7 194,294.8 196,296.0 198,297.1 200,298.2 202,297.1 204,296.0 206,294.8 208,293.7 210,292.6 212,291.5 214,290.4 216,289.3 218,288.1 220,287.0 222,285.9 224,284.8 226,283.7 228,282.6 230,282.6 232,283.7 234,284.8 236,285.9 238,287.0 240,288.1 242,289.3 244,290.4 246,291.5 248,292.6 250,293.7 252,294.8 254,296.0 256,297.1 258,298.2 260,297.1 262,296.0 264,294.8 266,293.7 268,292.6 270,291.5 272,290.4 274,289.3 276,288.1 278,287.0 280,285.9 282,284.8 284,283.7 286,282.6 288,282.6 290,283.7 292,284.8 294,285.9 296,287.0 298,288.1 300,289.3 302,290.4 304,291.5 306,292.6 308,293.7 310,294.8 312,296.0 314,297.1 316,298.2 318,297.1 320,296.0 322,294.8 324,293.7 326,292.6 328,291.5 330,290.4 332,289.3 334,288.1 336,287.0 338,285.9 340,284.8 342,283.7 344,282.6 346,282.6 348,283.7 350,284.8 352,285.9 354,287.0 356,288.1 358,289.3 360,290.4 362,291.5 364,292.6 366,293.7 368,294.8 370,296.0 372,297.1 374,298.2 376,297.1 378,296.0 380,294.8 382,293.7 384,292.6 386,291.5 388,290.4 390,289.3 392,288.1 394,287.0 396,285.9 398,284.8 400,283.7 402,282.6 404,282.6 406,283.7 408,284.8 410,285.9 412,287.0 414,288.1 416,289.3 418,290.4 420,291.5 422,292.6 424,293.7 426,294.8 428,296.0 430,297.1 432,298.2 434,297.1 436,296.0 438,294.8 440,293.7 442,292.6 444,291.5 446,290.4 448,289.3 450,288.1 452,287.0 454,285.9 456,284.8 458,283.7 460,282.6 462,282.6 464,283.7 466,284.8 468,285.9 470,287.0 472,288.1 474,289.3 476,290.4 478,291.5 480,292.6 482,293.7 484,294.8 486,296.0 488,297.1 490,298.2 492,297.1 494,296.0 496,294.8 498,293.7" fill="none" stroke="#e1e7eb" stroke-width="8" transform="translate(0,7)"/>
<polyline points="40,290.4 42,289.3 44,288.1 46,287.0 48,285.9 50,284.8 52,283.7 54,282.6 56,282.6 58,283.7 60,284.8 62,285.9 64,287.0 66,288.1 68,289.3 70,290.4 72,291.5 74,292.6 76,293.7 78,294.8 80,296.0 82,297.1 84,298.2 86,297.1 88,296.0 90,294.8 92,293.7 94,292.6 96,291.5 98,290.4 100,289.3 102,288.1 104,287.0 106,285.9 108,284.8 110,283.7 112,282.6 114,282.6 116,283.7 118,284.8 120,285.9 122,287.0 124,288.1 126,289.3 128,290.4 130,291.5 132,292.6 134,293.7 136,294.8 138,296.0 140,297.1 142,298.2 144,297.1 146,296.0 148,294.8 150,293.7 152,292.6 154,291.5 156,290.4 158,289.3 160,288.1 162,287.0 164,285.9 166,284.8 168,283.7 170,282.6 172,282.6 174,283.7 176,284.8 178,285.9 180,287.0 182,288.1 184,289.3 186,290.4 188,291.5 190,292.6 192,293.7 194,294.8 196,296.0 198,297.1 200,298.2 202,297.1 204,296.0 206,294.8 208,293.7 210,292.6 212,291.5 214,290.4 216,289.3 218,288.1 220,287.0 222,285.9 224,284.8 226,283.7 228,282.6 230,282.6 232,283.7 234,284.8 236,285.9 238,287.0 240,288.1 242,289.3 244,290.4 246,291.5 248,292.6 250,293.7 252,294.8 254,296.0 256,297.1 258,298.2 260,297.1 262,296.0 264,294.8 266,293.7 268,292.6 270,291.5 272,290.4 274,289.3 276,288.1 278,287.0 280,285.9 282,284.8 284,283.7 286,282.6 288,282.6 290,283.7 292,284.8 294,285.9 296,287.0 298,288.1 300,289.3 302,290.4 304,291.5 306,292.6 308,293.7 310,294.8 312,296.0 314,297.1 316,298.2 318,297.1 320,296.0 322,294.8 324,293.7 326,292.6 328,291.5 330,290.4 332,289.3 334,288.1 336,287.0 338,285.9 340,284.8 342,283.7 344,282.6 346,282.6 348,283.7 350,284.8 352,285.9 354,287.0 356,288.1 358,289.3 360,290.4 362,291.5 364,292.6 366,293.7 368,294.8 370,296.0 372,297.1 374,298.2 376,297.1 378,296.0 380,294.8 382,293.7 384,292.6 386,291.5 388,290.4 390,289.3 392,288.1 394,287.0 396,285.9 398,284.8 400,283.7 402,282.6 404,282.6 406,283.7 408,284.8 410,285.9 412,287.0 414,288.1 416,289.3 418,290.4 420,291.5 422,292.6 424,293.7 426,294.8 428,296.0 430,297.1 432,298.2 434,297.1 436,296.0 438,294.8 440,293.7 442,292.6 444,291.5 446,290.4 448,289.3 450,288.1 452,287.0 454,285.9 456,284.8 458,283.7 460,282.6 462,282.6 464,283.7 466,284.8 468,285.9 470,287.0 472,288.1 474,289.3 476,290.4 478,291.5 480,292.6 482,293.7 484,294.8 486,296.0 488,297.1 490,298.2 492,297.1 494,296.0 496,294.8 498,293.7" fill="none" stroke="#ccd4d9" stroke-width="3" transform="translate(0,-2)"/>
<polyline points="40,290.4 42,289.3 44,288.1 46,287.0 48,285.9 50,284.8 52,283.7 54,282.6 56,282.6 58,283.7 60,284.8 62,285.9 64,287.0 66,288.1 68,289.3 70,290.4 72,291.5 74,292.6 76,293.7 78,294.8 80,296.0 82,297.1 84,298.2 86,297.1 88,296.0 90,294.8 92,293.7 94,292.6 96,291.5 98,290.4 100,289.3 102,288.1 104,287.0 106,285.9 108,284.8 110,283.7 112,282.6 114,282.6 116,283.7 118,284.8 120,285.9 122,287.0 124,288.1 126,289.3 128,290.4 130,291.5 132,292.6 134,293.7 136,294.8 138,296.0 140,297.1 142,298.2 144,297.1 146,296.0 148,294.8 150,293.7 152,292.6 154,291.5 156,290.4 158,289.3 160,288.1 162,287.0 164,285.9 166,284.8 168,283.7 170,282.6 172,282.6 174,283.7 176,284.8 178,285.9 180,287.0 182,288.1 184,289.3 186,290.4 188,291.5 190,292.6 192,293.7 194,294.8 196,296.0 198,297.1 200,298.2 202,297.1 204,296.0 206,294.8 208,293.7 210,292.6 212,291.5 214,290.4 216,289.3 218,288.1 220,287.0 222,285.9 224,284.8 226,283.7 228,282.6 230,282.6 232,283.7 234,284.8 236,285.9 238,287.0 240,288.1 242,289.3 244,290.4 246,291.5 248,292.6 250,293.7 252,294.8 254,296.0 256,297.1 258,298.2 260,297.1 262,296.0 264,294.8 266,293.7 268,292.6 270,291.5 272,290.4 274,289.3 276,288.1 278,287.0 280,285.9 282,284.8 284,283.7 286,282.6 288,282.6 290,283.7 292,284.8 294,285.9 296,287.0 298,288.1 300,289.3 302,290.4 304,291.5 306,292.6 308,293.7 310,294.8 312,296.0 314,297.1 316,298.2 318,297.1 320,296.0 322,294.8 324,293.7 326,292.6 328,291.5 330,290.4 332,289.3 334,288.1 336,287.0 338,285.9 340,284.8 342,283.7 344,282.6 346,282.6 348,283.7 350,284.8 352,285.9 354,287.0 356,288.1 358,289.3 360,290.4 362,291.5 364,292.6 366,293.7 368,294.8 370,296.0 372,297.1 374,298.2 376,297.1 378,296.0 380,294.8 382,293.7 384,292.6 386,291.5 388,290.4 390,289.3 392,288.1 394,287.0 396,285.9 398,284.8 400,283.7 402,282.6 404,282.6 406,283.7 408,284.8 410,285.9 412,287.0 414,288.1 416,289.3 418,290.4 420,291.5 422,292.6 424,293.7 426,294.8 428,296.0 430,297.1 432,298.2 434,297.1 436,296.0 438,294.8 440,293.7 442,292.6 444,291.5 446,290.4 448,289.3 450,288.1 452,287.0 454,285.9 456,284.8 458,283.7 460,282.6 462,282.6 464,283.7 466,284.8 468,285.9 470,287.0 472,288.1 474,289.3 476,290.4 478,291.5 480,292.6 482,293.7 484,294.8 486,296.0 488,297.1 490,298.2 492,297.1 494,296.0 496,294.8 498,293.7" fill="none" stroke="#b0bac0" stroke-width="1.1"/>
<polyline points="40,308.1 42,306.9 44,305.8 46,304.6 48,304.6 50,305.8 52,306.9 54,308.1 56,309.3 58,310.4 60,311.6 62,312.8 64,314.0 66,315.1 68,316.3 70,317.5 72,318.7 74,319.8 76,321.0 78,319.8 80,318.7 82,317.5 84,316.3 86,315.1 88,314.0 90,312.8 92,311.6 94,310.4 96,309.3 98,308.1 100,306.9 102,305.8 104,304.6 106,304.6 108,305.8 110,306.9 112,308.1 114,309.3 116,310.4 118,311.6 120,312.8 122,314.0 124,315.1 126,316.3 128,317.5 130,318.7 132,319.8 134,321.0 136,319.8 138,318.7 140,317.5 142,316.3 144,315.1 146,314.0 148,312.8 150,311.6 152,310.4 154,309.3 156,308.1 158,306.9 160,305.8 162,304.6 164,304.6 166,305.8 168,306.9 170,308.1 172,309.3 174,310.4 176,311.6 178,312.8 180,314.0 182,315.1 184,316.3 186,317.5 188,318.7 190,319.8 192,321.0 194,319.8 196,318.7 198,317.5 200,316.3 202,315.1 204,314.0 206,312.8 208,311.6 210,310.4 212,309.3 214,308.1 216,306.9 218,305.8 220,304.6 222,304.6 224,305.8 226,306.9 228,308.1 230,309.3 232,310.4 234,311.6 236,312.8 238,314.0 240,315.1 242,316.3 244,317.5 246,318.7 248,319.8 250,321.0 252,319.8 254,318.7 256,317.5 258,316.3 260,315.1 262,314.0 264,312.8 266,311.6 268,310.4 270,309.3 272,308.1 274,306.9 276,305.8 278,304.6 280,304.6 282,305.8 284,306.9 286,308.1 288,309.3 290,310.4 292,311.6 294,312.8 296,314.0 298,315.1 300,316.3 302,317.5 304,318.7 306,319.8 308,321.0 310,319.8 312,318.7 314,317.5 316,316.3 318,315.1 320,314.0 322,312.8 324,311.6 326,310.4 328,309.3 330,308.1 332,306.9 334,305.8 336,304.6 338,304.6 340,305.8 342,306.9 344,308.1 346,309.3 348,310.4 350,311.6 352,312.8 354,314.0 356,315.1 358,316.3 360,317.5 362,318.7 364,319.8 366,321.0 368,319.8 370,318.7 372,317.5 374,316.3 376,315.1 378,314.0 380,312.8 382,311.6 384,310.4 386,309.3 388,308.1 390,306.9 392,305.8 394,304.6 396,304.6 398,305.8 400,306.9 402,308.1 404,309.3 406,310.4 408,311.6 410,312.8 412,314.0 414,315.1 416,316.3 418,317.5 420,318.7 422,319.8 424,321.0 426,319.8 428,318.7 430,317.5 432,316.3 434,315.1 436,314.0 438,312.8 440,311.6 442,310.4 444,309.3 446,308.1 448,306.9 450,305.8 452,304.6 454,304.6 456,305.8 458,306.9 460,308.1 462,309.3 464,310.4 466,311.6 468,312.8 470,314.0 472,315.1 474,316.3 476,317.5 478,318.7 480,319.8 482,321.0 484,319.8 486,318.7 488,317.5 490,316.3 492,315.1 494,314.0 496,312.8 498,311.6" fill="none" stroke="#e1e7eb" stroke-width="8" transform="translate(0,7)"/>
<polyline points="40,308.1 42,306.9 44,305.8 46,304.6 48,304.6 50,305.8 52,306.9 54,308.1 56,309.3 58,310.4 60,311.6 62,312.8 64,314.0 66,315.1 68,316.3 70,317.5 72,318.7 74,319.8 76,321.0 78,319.8 80,318.7 82,317.5 84,316.3 86,315.1 88,314.0 90,312.8 92,311.6 94,310.4 96,309.3 98,308.1 100,306.9 102,305.8 104,304.6 106,304.6 108,305.8 110,306.9 112,308.1 114,309.3 116,310.4 118,311.6 120,312.8 122,314.0 124,315.1 126,316.3 128,317.5 130,318.7 132,319.8 134,321.0 136,319.8 138,318.7 140,317.5 142,316.3 144,315.1 146,314.0 148,312.8 150,311.6 152,310.4 154,309.3 156,308.1 158,306.9 160,305.8 162,304.6 164,304.6 166,305.8 168,306.9 170,308.1 172,309.3 174,310.4 176,311.6 178,312.8 180,314.0 182,315.1 184,316.3 186,317.5 188,318.7 190,319.8 192,321.0 194,319.8 196,318.7 198,317.5 200,316.3 202,315.1 204,314.0 206,312.8 208,311.6 210,310.4 212,309.3 214,308.1 216,306.9 218,305.8 220,304.6 222,304.6 224,305.8 226,306.9 228,308.1 230,309.3 232,310.4 234,311.6 236,312.8 238,314.0 240,315.1 242,316.3 244,317.5 246,318.7 248,319.8 250,321.0 252,319.8 254,318.7 256,317.5 258,316.3 260,315.1 262,314.0 264,312.8 266,311.6 268,310.4 270,309.3 272,308.1 274,306.9 276,305.8 278,304.6 280,304.6 282,305.8 284,306.9 286,308.1 288,309.3 290,310.4 292,311.6 294,312.8 296,314.0 298,315.1 300,316.3 302,317.5 304,318.7 306,319.8 308,321.0 310,319.8 312,318.7 314,317.5 316,316.3 318,315.1 320,314.0 322,312.8 324,311.6 326,310.4 328,309.3 330,308.1 332,306.9 334,305.8 336,304.6 338,304.6 340,305.8 342,306.9 344,308.1 346,309.3 348,310.4 350,311.6 352,312.8 354,314.0 356,315.1 358,316.3 360,317.5 362,318.7 364,319.8 366,321.0 368,319.8 370,318.7 372,317.5 374,316.3 376,315.1 378,314.0 380,312.8 382,311.6 384,310.4 386,309.3 388,308.1 390,306.9 392,305.8 394,304.6 396,304.6 398,305.8 400,306.9 402,308.1 404,309.3 406,310.4 408,311.6 410,312.8 412,314.0 414,315.1 416,316.3 418,317.5 420,318.7 422,319.8 424,321.0 426,319.8 428,318.7 430,317.5 432,316.3 434,315.1 436,314.0 438,312.8 440,311.6 442,310.4 444,309.3 446,308.1 448,306.9 450,305.8 452,304.6 454,304.6 456,305.8 458,306.9 460,308.1 462,309.3 464,310.4 466,311.6 468,312.8 470,314.0 472,315.1 474,316.3 476,317.5 478,318.7 480,319.8 482,321.0 484,319.8 486,318.7 488,317.5 490,316.3 492,315.1 494,314.0 496,312.8 498,311.6" fill="none" stroke="#ccd4d9" stroke-width="3" transform="translate(0,-2)"/>
<polyline points="40,308.1 42,306.9 44,305.8 46,304.6 48,304.6 50,305.8 52,306.9 54,308.1 56,309.3 58,310.4 60,311.6 62,312.8 64,314.0 66,315.1 68,316.3 70,317.5 72,318.7 74,319.8 76,321.0 78,319.8 80,318.7 82,317.5 84,316.3 86,315.1 88,314.0 90,312.8 92,311.6 94,310.4 96,309.3 98,308.1 100,306.9 102,305.8 104,304.6 106,304.6 108,305.8 110,306.9 112,308.1 114,309.3 116,310.4 118,311.6 120,312.8 122,314.0 124,315.1 126,316.3 128,317.5 130,318.7 132,319.8 134,321.0 136,319.8 138,318.7 140,317.5 142,316.3 144,315.1 146,314.0 148,312.8 150,311.6 152,310.4 154,309.3 156,308.1 158,306.9 160,305.8 162,304.6 164,304.6 166,305.8 168,306.9 170,308.1 172,309.3 174,310.4 176,311.6 178,312.8 180,314.0 182,315.1 184,316.3 186,317.5 188,318.7 190,319.8 192,321.0 194,319.8 196,318.7 198,317.5 200,316.3 202,315.1 204,314.0 206,312.8 208,311.6 210,310.4 212,309.3 214,308.1 216,306.9 218,305.8 220,304.6 222,304.6 224,305.8 226,306.9 228,308.1 230,309.3 232,310.4 234,311.6 236,312.8 238,314.0 240,315.1 242,316.3 244,317.5 246,318.7 248,319.8 250,321.0 252,319.8 254,318.7 256,317.5 258,316.3 260,315.1 262,314.0 264,312.8 266,311.6 268,310.4 270,309.3 272,308.1 274,306.9 276,305.8 278,304.6 280,304.6 282,305.8 284,306.9 286,308.1 288,309.3 290,310.4 292,311.6 294,312.8 296,314.0 298,315.1 300,316.3 302,317.5 304,318.7 306,319.8 308,321.0 310,319.8 312,318.7 314,317.5 316,316.3 318,315.1 320,314.0 322,312.8 324,311.6 326,310.4 328,309.3 330,308.1 332,306.9 334,305.8 336,304.6 338,304.6 340,305.8 342,306.9 344,308.1 346,309.3 348,310.4 350,311.6 352,312.8 354,314.0 356,315.1 358,316.3 360,317.5 362,318.7 364,319.8 366,321.0 368,319.8 370,318.7 372,317.5 374,316.3 376,315.1 378,314.0 380,312.8 382,311.6 384,310.4 386,309.3 388,308.1 390,306.9 392,305.8 394,304.6 396,304.6 398,305.8 400,306.9 402,308.1 404,309.3 406,310.4 408,311.6 410,312.8 412,314.0 414,315.1 416,316.3 418,317.5 420,318.7 422,319.8 424,321.0 426,319.8 428,318.7 430,317.5 432,316.3 434,315.1 436,314.0 438,312.8 440,311.6 442,310.4 444,309.3 446,308.1 448,306.9 450,305.8 452,304.6 454,304.6 456,305.8 458,306.9 460,308.1 462,309.3 464,310.4 466,311.6 468,312.8 470,314.0 472,315.1 474,316.3 476,317.5 478,318.7 480,319.8 482,321.0 484,319.8 486,318.7 488,317.5 490,316.3 492,315.1 494,314.0 496,312.8 498,311.6" fill="none" stroke="#b0bac0" stroke-width="1.1"/>
<polyline points="40,326.6 42,327.8 44,329.1 46,330.3 48,331.5 50,332.8 52,334.0 54,335.2 56,336.4 58,337.7 60,338.9 62,340.1 64,341.3 66,342.6 68,343.8 70,342.6 72,341.3 74,340.1 76,338.9 78,337.7 80,336.4 82,335.2 84,334.0 86,332.8 88,331.5 90,330.3 92,329.1 94,327.8 96,326.6 98,326.6 100,327.8 102,329.1 104,330.3 106,331.5 108,332.8 110,334.0 112,335.2 114,336.4 116,337.7 118,338.9 120,340.1 122,341.3 124,342.6 126,343.8 128,342.6 130,341.3 132,340.1 134,338.9 136,337.7 138,336.4 140,335.2 142,334.0 144,332.8 146,331.5 148,330.3 150,329.1 152,327.8 154,326.6 156,326.6 158,327.8 160,329.1 162,330.3 164,331.5 166,332.8 168,334.0 170,335.2 172,336.4 174,337.7 176,338.9 178,340.1 180,341.3 182,342.6 184,343.8 186,342.6 188,341.3 190,340.1 192,338.9 194,337.7 196,336.4 198,335.2 200,334.0 202,332.8 204,331.5 206,330.3 208,329.1 210,327.8 212,326.6 214,326.6 216,327.8 218,329.1 220,330.3 222,331.5 224,332.8 226,334.0 228,335.2 230,336.4 232,337.7 234,338.9 236,340.1 238,341.3 240,342.6 242,343.8 244,342.6 246,341.3 248,340.1 250,338.9 252,337.7 254,336.4 256,335.2 258,334.0 260,332.8 262,331.5 264,330.3 266,329.1 268,327.8 270,326.6 272,326.6 274,327.8 276,329.1 278,330.3 280,331.5 282,332.8 284,334.0 286,335.2 288,336.4 290,337.7 292,338.9 294,340.1 296,341.3 298,342.6 300,343.8 302,342.6 304,341.3 306,340.1 308,338.9 310,337.7 312,336.4 314,335.2 316,334.0 318,332.8 320,331.5 322,330.3 324,329.1 326,327.8 328,326.6 330,326.6 332,327.8 334,329.1 336,330.3 338,331.5 340,332.8 342,334.0 344,335.2 346,336.4 348,337.7 350,338.9 352,340.1 354,341.3 356,342.6 358,343.8 360,342.6 362,341.3 364,340.1 366,338.9 368,337.7 370,336.4 372,335.2 374,334.0 376,332.8 378,331.5 380,330.3 382,329.1 384,327.8 386,326.6 388,326.6 390,327.8 392,329.1 394,330.3 396,331.5 398,332.8 400,334.0 402,335.2 404,336.4 406,337.7 408,338.9 410,340.1 412,341.3 414,342.6 416,343.8 418,342.6 420,341.3 422,340.1 424,338.9 426,337.7 428,336.4 430,335.2 432,334.0 434,332.8 436,331.5 438,330.3 440,329.1 442,327.8 444,326.6 446,326.6 448,327.8 450,329.1 452,330.3 454,331.5 456,332.8 458,334.0 460,335.2 462,336.4 464,337.7 466,338.9 468,340.1 470,341.3 472,342.6 474,343.8 476,342.6 478,341.3 480,340.1 482,338.9 484,337.7 486,336.4 488,335.2 490,334.0 492,332.8 494,331.5 496,330.3 498,329.1" fill="none" stroke="#e1e7eb" stroke-width="8" transform="translate(0,7)"/>
<polyline points="40,326.6 42,327.8 44,329.1 46,330.3 48,331.5 50,332.8 52,334.0 54,335.2 56,336.4 58,337.7 60,338.9 62,340.1 64,341.3 66,342.6 68,343.8 70,342.6 72,341.3 74,340.1 76,338.9 78,337.7 80,336.4 82,335.2 84,334.0 86,332.8 88,331.5 90,330.3 92,329.1 94,327.8 96,326.6 98,326.6 100,327.8 102,329.1 104,330.3 106,331.5 108,332.8 110,334.0 112,335.2 114,336.4 116,337.7 118,338.9 120,340.1 122,341.3 124,342.6 126,343.8 128,342.6 130,341.3 132,340.1 134,338.9 136,337.7 138,336.4 140,335.2 142,334.0 144,332.8 146,331.5 148,330.3 150,329.1 152,327.8 154,326.6 156,326.6 158,327.8 160,329.1 162,330.3 164,331.5 166,332.8 168,334.0 170,335.2 172,336.4 174,337.7 176,338.9 178,340.1 180,341.3 182,342.6 184,343.8 186,342.6 188,341.3 190,340.1 192,338.9 194,337.7 196,336.4 198,335.2 200,334.0 202,332.8 204,331.5 206,330.3 208,329.1 210,327.8 212,326.6 214,326.6 216,327.8 218,329.1 220,330.3 222,331.5 224,332.8 226,334.0 228,335.2 230,336.4 232,337.7 234,338.9 236,340.1 238,341.3 240,342.6 242,343.8 244,342.6 246,341.3 248,340.1 250,338.9 252,337.7 254,336.4 256,335.2 258,334.0 260,332.8 262,331.5 264,330.3 266,329.1 268,327.8 270,326.6 272,326.6 274,327.8 276,329.1 278,330.3 280,331.5 282,332.8 284,334.0 286,335.2 288,336.4 290,337.7 292,338.9 294,340.1 296,341.3 298,342.6 300,343.8 302,342.6 304,341.3 306,340.1 308,338.9 310,337.7 312,336.4 314,335.2 316,334.0 318,332.8 320,331.5 322,330.3 324,329.1 326,327.8 328,326.6 330,326.6 332,327.8 334,329.1 336,330.3 338,331.5 340,332.8 342,334.0 344,335.2 346,336.4 348,337.7 350,338.9 352,340.1 354,341.3 356,342.6 358,343.8 360,342.6 362,341.3 364,340.1 366,338.9 368,337.7 370,336.4 372,335.2 374,334.0 376,332.8 378,331.5 380,330.3 382,329.1 384,327.8 386,326.6 388,326.6 390,327.8 392,329.1 394,330.3 396,331.5 398,332.8 400,334.0 402,335.2 404,336.4 406,337.7 408,338.9 410,340.1 412,341.3 414,342.6 416,343.8 418,342.6 420,341.3 422,340.1 424,338.9 426,337.7 428,336.4 430,335.2 432,334.0 434,332.8 436,331.5 438,330.3 440,329.1 442,327.8 444,326.6 446,326.6 448,327.8 450,329.1 452,330.3 454,331.5 456,332.8 458,334.0 460,335.2 462,336.4 464,337.7 466,338.9 468,340.1 470,341.3 472,342.6 474,343.8 476,342.6 478,341.3 480,340.1 482,338.9 484,337.7 486,336.4 488,335.2 490,334.0 492,332.8 494,331.5 496,330.3 498,329.1" fill="none" stroke="#ccd4d9" stroke-width="3" transform="translate(0,-2)"/>
<polyline points="40,326.6 42,327.8 44,329.1 46,330.3 48,331.5 50,332.8 52,334.0 54,335.2 56,336.4 58,337.7 60,338.9 62,340.1 64,341.3 66,342.6 68,343.8 70,342.6 72,341.3 74,340.1 76,338.9 78,337.7 80,336.4 82,335.2 84,334.0 86,332.8 88,331.5 90,330.3 92,329.1 94,327.8 96,326.6 98,326.6 100,327.8 102,329.1 104,330.3 106,331.5 108,332.8 110,334.0 112,335.2 114,336.4 116,337.7 118,338.9 120,340.1 122,341.3 124,342.6 126,343.8 128,342.6 130,341.3 132,340.1 134,338.9 136,337.7 138,336.4 140,335.2 142,334.0 144,332.8 146,331.5 148,330.3 150,329.1 152,327.8 154,326.6 156,326.6 158,327.8 160,329.1 162,330.3 164,331.5 166,332.8 168,334.0 170,335.2 172,336.4 174,337.7 176,338.9 178,340.1 180,341.3 182,342.6 184,343.8 186,342.6 188,341.3 190,340.1 192,338.9 194,337.7 196,336.4 198,335.2 200,334.0 202,332.8 204,331.5 206,330.3 208,329.1 210,327.8 212,326.6 214,326.6 216,327.8 218,329.1 220,330.3 222,331.5 224,332.8 226,334.0 228,335.2 230,336.4 232,337.7 234,338.9 236,340.1 238,341.3 240,342.6 242,343.8 244,342.6 246,341.3 248,340.1 250,338.9 252,337.7 254,336.4 256,335.2 258,334.0 260,332.8 262,331.5 264,330.3 266,329.1 268,327.8 270,326.6 272,326.6 274,327.8 276,329.1 278,330.3 280,331.5 282,332.8 284,334.0 286,335.2 288,336.4 290,337.7 292,338.9 294,340.1 296,341.3 298,342.6 300,343.8 302,342.6 304,341.3 306,340.1 308,338.9 310,337.7 312,336.4 314,335.2 316,334.0 318,332.8 320,331.5 322,330.3 324,329.1 326,327.8 328,326.6 330,326.6 332,327.8 334,329.1 336,330.3 338,331.5 340,332.8 342,334.0 344,335.2 346,336.4 348,337.7 350,338.9 352,340.1 354,341.3 356,342.6 358,343.8 360,342.6 362,341.3 364,340.1 366,338.9 368,337.7 370,336.4 372,335.2 374,334.0 376,332.8 378,331.5 380,330.3 382,329.1 384,327.8 386,326.6 388,326.6 390,327.8 392,329.1 394,330.3 396,331.5 398,332.8 400,334.0 402,335.2 404,336.4 406,337.7 408,338.9 410,340.1 412,341.3 414,342.6 416,343.8 418,342.6 420,341.3 422,340.1 424,338.9 426,337.7 428,336.4 430,335.2 432,334.0 434,332.8 436,331.5 438,330.3 440,329.1 442,327.8 444,326.6 446,326.6 448,327.8 450,329.1 452,330.3 454,331.5 456,332.8 458,334.0 460,335.2 462,336.4 464,337.7 466,338.9 468,340.1 470,341.3 472,342.6 474,343.8 476,342.6 478,341.3 480,340.1 482,338.9 484,337.7 486,336.4 488,335.2 490,334.0 492,332.8 494,331.5 496,330.3 498,329.1" fill="none" stroke="#b0bac0" stroke-width="1.1"/>
<polyline points="40,353.8 42,355.1 44,356.3 46,357.6 48,358.9 50,360.2 52,361.5 54,362.8 56,364.0 58,365.3 60,366.6 62,365.3 64,364.0 66,362.8 68,361.5 70,360.2 72,358.9 74,357.6 76,356.3 78,355.1 80,353.8 82,352.5 84,351.2 86,349.9 88,348.6 90,348.6 92,349.9 94,351.2 96,352.5 98,353.8 100,355.1 102,356.3 104,357.6 106,358.9 108,360.2 110,361.5 112,362.8 114,364.0 116,365.3 118,366.6 120,365.3 122,364.0 124,362.8 126,361.5 128,360.2 130,358.9 132,357.6 134,356.3 136,355.1 138,353.8 140,352.5 142,351.2 144,349.9 146,348.6 148,348.6 150,349.9 152,351.2 154,352.5 156,353.8 158,355.1 160,356.3 162,357.6 164,358.9 166,360.2 168,361.5 170,362.8 172,364.0 174,365.3 176,366.6 178,365.3 180,364.0 182,362.8 184,361.5 186,360.2 188,358.9 190,357.6 192,356.3 194,355.1 196,353.8 198,352.5 200,351.2 202,349.9 204,348.6 206,348.6 208,349.9 210,351.2 212,352.5 214,353.8 216,355.1 218,356.3 220,357.6 222,358.9 224,360.2 226,361.5 228,362.8 230,364.0 232,365.3 234,366.6 236,365.3 238,364.0 240,362.8 242,361.5 244,360.2 246,358.9 248,357.6 250,356.3 252,355.1 254,353.8 256,352.5 258,351.2 260,349.9 262,348.6 264,348.6 266,349.9 268,351.2 270,352.5 272,353.8 274,355.1 276,356.3 278,357.6 280,358.9 282,360.2 284,361.5 286,362.8 288,364.0 290,365.3 292,366.6 294,365.3 296,364.0 298,362.8 300,361.5 302,360.2 304,358.9 306,357.6 308,356.3 310,355.1 312,353.8 314,352.5 316,351.2 318,349.9 320,348.6 322,348.6 324,349.9 326,351.2 328,352.5 330,353.8 332,355.1 334,356.3 336,357.6 338,358.9 340,360.2 342,361.5 344,362.8 346,364.0 348,365.3 350,366.6 352,365.3 354,364.0 356,362.8 358,361.5 360,360.2 362,358.9 364,357.6 366,356.3 368,355.1 370,353.8 372,352.5 374,351.2 376,349.9 378,348.6 380,348.6 382,349.9 384,351.2 386,352.5 388,353.8 390,355.1 392,356.3 394,357.6 396,358.9 398,360.2 400,361.5 402,362.8 404,364.0 406,365.3 408,366.6 410,365.3 412,364.0 414,362.8 416,361.5 418,360.2 420,358.9 422,357.6 424,356.3 426,355.1 428,353.8 430,352.5 432,351.2 434,349.9 436,348.6 438,348.6 440,349.9 442,351.2 444,352.5 446,353.8 448,355.1 450,356.3 452,357.6 454,358.9 456,360.2 458,361.5 460,362.8 462,364.0 464,365.3 466,366.6 468,365.3 470,364.0 472,362.8 474,361.5 476,360.2 478,358.9 480,357.6 482,356.3 484,355.1 486,353.8 488,352.5 490,351.2 492,349.9 494,348.6 496,348.6 498,349.9" fill="none" stroke="#e1e7eb" stroke-width="8" transform="translate(0,7)"/>
<polyline points="40,353.8 42,355.1 44,356.3 46,357.6 48,358.9 50,360.2 52,361.5 54,362.8 56,364.0 58,365.3 60,366.6 62,365.3 64,364.0 66,362.8 68,361.5 70,360.2 72,358.9 74,357.6 76,356.3 78,355.1 80,353.8 82,352.5 84,351.2 86,349.9 88,348.6 90,348.6 92,349.9 94,351.2 96,352.5 98,353.8 100,355.1 102,356.3 104,357.6 106,358.9 108,360.2 110,361.5 112,362.8 114,364.0 116,365.3 118,366.6 120,365.3 122,364.0 124,362.8 126,361.5 128,360.2 130,358.9 132,357.6 134,356.3 136,355.1 138,353.8 140,352.5 142,351.2 144,349.9 146,348.6 148,348.6 150,349.9 152,351.2 154,352.5 156,353.8 158,355.1 160,356.3 162,357.6 164,358.9 166,360.2 168,361.5 170,362.8 172,364.0 174,365.3 176,366.6 178,365.3 180,364.0 182,362.8 184,361.5 186,360.2 188,358.9 190,357.6 192,356.3 194,355.1 196,353.8 198,352.5 200,351.2 202,349.9 204,348.6 206,348.6 208,349.9 210,351.2 212,352.5 214,353.8 216,355.1 218,356.3 220,357.6 222,358.9 224,360.2 226,361.5 228,362.8 230,364.0 232,365.3 234,366.6 236,365.3 238,364.0 240,362.8 242,361.5 244,360.2 246,358.9 248,357.6 250,356.3 252,355.1 254,353.8 256,352.5 258,351.2 260,349.9 262,348.6 264,348.6 266,349.9 268,351.2 270,352.5 272,353.8 274,355.1 276,356.3 278,357.6 280,358.9 282,360.2 284,361.5 286,362.8 288,364.0 290,365.3 292,366.6 294,365.3 296,364.0 298,362.8 300,361.5 302,360.2 304,358.9 306,357.6 308,356.3 310,355.1 312,353.8 314,352.5 316,351.2 318,349.9 320,348.6 322,348.6 324,349.9 326,351.2 328,352.5 330,353.8 332,355.1 334,356.3 336,357.6 338,358.9 340,360.2 342,361.5 344,362.8 346,364.0 348,365.3 350,366.6 352,365.3 354,364.0 356,362.8 358,361.5 360,360.2 362,358.9 364,357.6 366,356.3 368,355.1 370,353.8 372,352.5 374,351.2 376,349.9 378,348.6 380,348.6 382,349.9 384,351.2 386,352.5 388,353.8 390,355.1 392,356.3 394,357.6 396,358.9 398,360.2 400,361.5 402,362.8 404,364.0 406,365.3 408,366.6 410,365.3 412,364.0 414,362.8 416,361.5 418,360.2 420,358.9 422,357.6 424,356.3 426,355.1 428,353.8 430,352.5 432,351.2 434,349.9 436,348.6 438,348.6 440,349.9 442,351.2 444,352.5 446,353.8 448,355.1 450,356.3 452,357.6 454,358.9 456,360.2 458,361.5 460,362.8 462,364.0 464,365.3 466,366.6 468,365.3 470,364.0 472,362.8 474,361.5 476,360.2 478,358.9 480,357.6 482,356.3 484,355.1 486,353.8 488,352.5 490,351.2 492,349.9 494,348.6 496,348.6 498,349.9" fill="none" stroke="#ccd4d9" stroke-width="3" transform="translate(0,-2)"/>
<polyline points="40,353.8 42,355.1 44,356.3 46,357.6 48,358.9 50,360.2 52,361.5 54,362.8 56,364.0 58,365.3 60,366.6 62,365.3 64,364.0 66,362.8 68,361.5 70,360.2 72,358.9 74,357.6 76,356.3 78,355.1 80,353.8 82,352.5 84,351.2 86,349.9 88,348.6 90,348.6 92,349.9 94,351.2 96,352.5 98,353.8 100,355.1 102,356.3 104,357.6 106,358.9 108,360.2 110,361.5 112,362.8 114,364.0 116,365.3 118,366.6 120,365.3 122,364.0 124,362.8 126,361.5 128,360.2 130,358.9 132,357.6 134,356.3 136,355.1 138,353.8 140,352.5 142,351.2 144,349.9 146,348.6 148,348.6 150,349.9 152,351.2 154,352.5 156,353.8 158,355.1 160,356.3 162,357.6 164,358.9 166,360.2 168,361.5 170,362.8 172,364.0 174,365.3 176,366.6 178,365.3 180,364.0 182,362.8 184,361.5 186,360.2 188,358.9 190,357.6 192,356.3 194,355.1 196,353.8 198,352.5 200,351.2 202,349.9 204,348.6 206,348.6 208,349.9 210,351.2 212,352.5 214,353.8 216,355.1 218,356.3 220,357.6 222,358.9 224,360.2 226,361.5 228,362.8 230,364.0 232,365.3 234,366.6 236,365.3 238,364.0 240,362.8 242,361.5 244,360.2 246,358.9 248,357.6 250,356.3 252,355.1 254,353.8 256,352.5 258,351.2 260,349.9 262,348.6 264,348.6 266,349.9 268,351.2 270,352.5 272,353.8 274,355.1 276,356.3 278,357.6 280,358.9 282,360.2 284,361.5 286,362.8 288,364.0 290,365.3 292,366.6 294,365.3 296,364.0 298,362.8 300,361.5 302,360.2 304,358.9 306,357.6 308,356.3 310,355.1 312,353.8 314,352.5 316,351.2 318,349.9 320,348.6 322,348.6 324,349.9 326,351.2 328,352.5 330,353.8 332,355.1 334,356.3 336,357.6 338,358.9 340,360.2 342,361.5 344,362.8 346,364.0 348,365.3 350,366.6 352,365.3 354,364.0 356,362.8 358,361.5 360,360.2 362,358.9 364,357.6 366,356.3 368,355.1 370,353.8 372,352.5 374,351.2 376,349.9 378,348.6 380,348.6 382,349.9 384,351.2 386,352.5 388,353.8 390,355.1 392,356.3 394,357.6 396,358.9 398,360.2 400,361.5 402,362.8 404,364.0 406,365.3 408,366.6 410,365.3 412,364.0 414,362.8 416,361.5 418,360.2 420,358.9 422,357.6 424,356.3 426,355.1 428,353.8 430,352.5 432,351.2 434,349.9 436,348.6 438,348.6 440,349.9 442,351.2 444,352.5 446,353.8 448,355.1 450,356.3 452,357.6 454,358.9 456,360.2 458,361.5 460,362.8 462,364.0 464,365.3 466,366.6 468,365.3 470,364.0 472,362.8 474,361.5 476,360.2 478,358.9 480,357.6 482,356.3 484,355.1 486,353.8 488,352.5 490,351.2 492,349.9 494,348.6 496,348.6 498,349.9" fill="none" stroke="#b0bac0" stroke-width="1.1"/>
<polyline points="323.0,301.0 322.4,302.5 321.8,304.0 321.4,305.5 321.2,307.0 321.2,308.5 321.4,310.0 321.9,311.5 322.7,313.0 323.7,314.5 325.0,316.0 326.4,317.5 327.9,319.0 329.6,320.5 331.2,322.0 332.8,323.5 334.3,325.0 335.7,326.5" fill="none" stroke="#8d9c9a" stroke-width="0.9" opacity="0.61"/>
<polyline points="325.3,301.0 324.7,302.5 324.1,304.0 323.7,305.5 323.5,307.0 323.5,308.5 323.7,310.0 324.2,311.5 325.0,313.0 326.0,314.5 327.3,316.0 328.7,317.5 330.2,319.0 331.9,320.5 333.5,322.0 335.1,323.5 336.6,325.0 338.0,326.5" fill="none" stroke="#8d9c9a" stroke-width="0.9" opacity="0.52"/>
<polyline points="327.6,301.0 327.0,302.5 326.4,304.0 326.0,305.5 325.8,307.0 325.8,308.5 326.0,310.0 326.5,311.5 327.3,313.0 328.3,314.5 329.6,316.0 331.0,317.5 332.5,319.0 334.2,320.5 335.8,322.0 337.4,323.5 338.9,325.0 340.3,326.5" fill="none" stroke="#8d9c9a" stroke-width="0.9" opacity="0.57"/>
<polyline points="329.9,301.0 329.3,302.5 328.7,304.0 328.3,305.5 328.1,307.0 328.1,308.5 328.3,310.0 328.8,311.5 329.6,313.0 330.6,314.5 331.9,316.0 333.3,317.5 334.8,319.0 336.5,320.5 338.1,322.0 339.7,323.5 341.2,325.0 342.6,326.5" fill="none" stroke="#8d9c9a" stroke-width="0.9" opacity="0.67"/>
<polyline points="431.6,256.7 431.7,258.2 432.0,259.7 432.5,261.2 433.1,262.7 433.7,264.2 434.3,265.7 434.9,267.2 435.3,268.7 435.6,270.2 435.6,271.7" fill="none" stroke="#8d9c9a" stroke-width="0.9" opacity="0.63"/>
<polyline points="433.9,256.7 434.0,258.2 434.3,259.7 434.8,261.2 435.4,262.7 436.0,264.2 436.6,265.7 437.2,267.2 437.6,268.7 437.9,270.2 437.9,271.7" fill="none" stroke="#8d9c9a" stroke-width="0.9" opacity="0.91"/>
<polyline points="436.2,256.7 436.3,258.2 436.6,259.7 437.1,261.2 437.7,262.7 438.3,264.2 438.9,265.7 439.5,267.2 439.9,268.7 440.2,270.2 440.2,271.7" fill="none" stroke="#8d9c9a" stroke-width="0.9" opacity="0.84"/>
<polyline points="438.5,256.7 438.6,258.2 438.9,259.7 439.4,261.2 440.0,262.7 440.6,264.2 441.2,265.7 441.8,267.2 442.2,268.7 442.5,270.2 442.5,271.7" fill="none" stroke="#8d9c9a" stroke-width="0.9" opacity="0.57"/>
<polyline points="440.8,256.7 440.9,258.2 441.2,259.7 441.7,261.2 442.3,262.7 442.9,264.2 443.5,265.7 444.1,267.2 444.5,268.7 444.8,270.2 444.8,271.7" fill="none" stroke="#8d9c9a" stroke-width="0.9" opacity="0.86"/>
<polyline points="119.5,289.2 118.9,290.7 118.6,292.2 118.5,293.7 118.5,295.2 118.7,296.7 119.0,298.2 119.2,299.7 119.4,301.2 119.5,302.7 119.4,304.2" fill="none" stroke="#8d9c9a" stroke-width="0.9" opacity="0.85"/>
<polyline points="121.8,289.2 121.2,290.7 120.9,292.2 120.8,293.7 120.8,295.2 121.0,296.7 121.3,298.2 121.5,299.7 121.7,301.2 121.8,302.7 121.7,304.2" fill="none" stroke="#8d9c9a" stroke-width="0.9" opacity="0.93"/>
<polyline points="124.1,289.2 123.5,290.7 123.2,292.2 123.1,293.7 123.1,295.2 123.3,296.7 123.6,298.2 123.8,299.7 124.0,301.2 124.1,302.7 124.0,304.2" fill="none" stroke="#8d9c9a" stroke-width="0.9" opacity="0.57"/>
<polyline points="126.4,289.2 125.8,290.7 125.5,292.2 125.4,293.7 125.4,295.2 125.6,296.7 125.9,298.2 126.1,299.7 126.3,301.2 126.4,302.7 126.3,304.2" fill="none" stroke="#8d9c9a" stroke-width="0.9" opacity="0.57"/>
<polyline points="182.7,225.4 184.3,226.9 186.1,228.4 187.9,229.9 189.9,231.4 191.9,232.9 193.9,234.4 195.7,235.9 197.4,237.4 199.0,238.9 200.2,240.4 201.3,241.9 202.0,243.4 202.5,244.9 202.8,246.4 202.8,247.9 202.7,249.4 202.5,250.9 202.2,252.4" fill="none" stroke="#8d9c9a" stroke-width="0.9" opacity="0.59"/>
<polyline points="185.0,225.4 186.6,226.9 188.4,228.4 190.2,229.9 192.2,231.4 194.2,232.9 196.2,234.4 198.0,235.9 199.7,237.4 201.3,238.9 202.5,240.4 203.6,241.9 204.3,243.4 204.8,244.9 205.1,246.4 205.1,247.9 205.0,249.4 204.8,250.9 204.5,252.4" fill="none" stroke="#8d9c9a" stroke-width="0.9" opacity="0.93"/>
<polyline points="187.3,225.4 188.9,226.9 190.7,228.4 192.5,229.9 194.5,231.4 196.5,232.9 198.5,234.4 200.3,235.9 202.0,237.4 203.6,238.9 204.8,240.4 205.9,241.9 206.6,243.4 207.1,244.9 207.4,246.4 207.4,247.9 207.3,249.4 207.1,250.9 206.8,252.4" fill="none" stroke="#8d9c9a" stroke-width="0.9" opacity="0.67"/>
<polyline points="189.6,225.4 191.2,226.9 193.0,228.4 194.8,229.9 196.8,231.4 198.8,232.9 200.8,234.4 202.6,235.9 204.3,237.4 205.9,238.9 207.1,240.4 208.2,241.9 208.9,243.4 209.4,244.9 209.7,246.4 209.7,247.9 209.6,249.4 209.4,250.9 209.1,252.4" fill="none" stroke="#8d9c9a" stroke-width="0.9" opacity="0.51"/>
<polyline points="191.9,225.4 193.5,226.9 195.3,228.4 197.1,229.9 199.1,231.4 201.1,232.9 203.1,234.4 204.9,235.9 206.6,237.4 208.2,238.9 209.4,240.4 210.5,241.9 211.2,243.4 211.7,244.9 212.0,246.4 212.0,247.9 211.9,249.4 211.7,250.9 211.4,252.4" fill="none" stroke="#8d9c9a" stroke-width="0.9" opacity="0.69"/>
<polyline points="463.9,238.8 463.4,240.3 462.8,241.8 462.1,243.3 461.3,244.8 460.5,246.3 459.8,247.8 459.3,249.3 458.9,250.8 458.7,252.3 458.8,253.8 459.1,255.3 459.7,256.8" fill="none" stroke="#8d9c9a" stroke-width="0.9" opacity="0.53"/>
<polyline points="466.2,238.8 465.7,240.3 465.1,241.8 464.4,243.3 463.6,244.8 462.8,246.3 462.1,247.8 461.6,249.3 461.2,250.8 461.0,252.3 461.1,253.8 461.4,255.3 462.0,256.8" fill="none" stroke="#8d9c9a" stroke-width="0.9" opacity="0.66"/>
<polyline points="468.5,238.8 468.0,240.3 467.4,241.8 466.7,243.3 465.9,244.8 465.1,246.3 464.4,247.8 463.9,249.3 463.5,250.8 463.3,252.3 463.4,253.8 463.7,255.3 464.3,256.8" fill="none" stroke="#8d9c9a" stroke-width="0.9" opacity="0.64"/>
<polyline points="470.8,238.8 470.3,240.3 469.7,241.8 469.0,243.3 468.2,244.8 467.4,246.3 466.7,247.8 466.2,249.3 465.8,250.8 465.6,252.3 465.7,253.8 466.0,255.3 466.6,256.8" fill="none" stroke="#8d9c9a" stroke-width="0.9" opacity="0.81"/>
<polyline points="139.3,268.8 138.7,270.3 138.4,271.8 138.2,273.3 138.3,274.8 138.5,276.3 138.8,277.8 139.1,279.3 139.3,280.8 139.5,282.3 139.4,283.8 139.2,285.3" fill="none" stroke="#8d9c9a" stroke-width="0.9" opacity="0.84"/>
<polyline points="141.6,268.8 141.0,270.3 140.7,271.8 140.5,273.3 140.6,274.8 140.8,276.3 141.1,277.8 141.4,279.3 141.6,280.8 141.8,282.3 141.7,283.8 141.5,285.3" fill="none" stroke="#8d9c9a" stroke-width="0.9" opacity="0.88"/>
<polyline points="143.9,268.8 143.3,270.3 143.0,271.8 142.8,273.3 142.9,274.8 143.1,276.3 143.4,277.8 143.7,279.3 143.9,280.8 144.1,282.3 144.0,283.8 143.8,285.3" fill="none" stroke="#8d9c9a" stroke-width="0.9" opacity="0.51"/>
<polyline points="146.2,268.8 145.6,270.3 145.3,271.8 145.1,273.3 145.2,274.8 145.4,276.3 145.7,277.8 146.0,279.3 146.2,280.8 146.4,282.3 146.3,283.8 146.1,285.3" fill="none" stroke="#8d9c9a" stroke-width="0.9" opacity="0.85"/>
<polyline points="148.5,268.8 147.9,270.3 147.6,271.8 147.4,273.3 147.5,274.8 147.7,276.3 148.0,277.8 148.3,279.3 148.5,280.8 148.7,282.3 148.6,283.8 148.4,285.3" fill="none" stroke="#8d9c9a" stroke-width="0.9" opacity="0.66"/>
<polyline points="150.8,268.8 150.2,270.3 149.9,271.8 149.7,273.3 149.8,274.8 150.0,276.3 150.3,277.8 150.6,279.3 150.8,280.8 151.0,282.3 150.9,283.8 150.7,285.3" fill="none" stroke="#8d9c9a" stroke-width="0.9" opacity="0.76"/>
<polyline points="63.9,210.0 64.4,211.5 65.1,213.0 65.8,214.5 66.5,216.0 67.0,217.5 67.4,219.0 67.6,220.5 67.6,222.0 67.4,223.5 66.8,225.0 66.0,226.5" fill="none" stroke="#8d9c9a" stroke-width="0.9" opacity="0.87"/>
<polyline points="66.2,210.0 66.7,211.5 67.4,213.0 68.1,214.5 68.8,216.0 69.3,217.5 69.7,219.0 69.9,220.5 69.9,222.0 69.7,223.5 69.1,225.0 68.3,226.5" fill="none" stroke="#8d9c9a" stroke-width="0.9" opacity="0.71"/>
<polyline points="68.5,210.0 69.0,211.5 69.7,213.0 70.4,214.5 71.1,216.0 71.6,217.5 72.0,219.0 72.2,220.5 72.2,222.0 72.0,223.5 71.4,225.0 70.6,226.5" fill="none" stroke="#8d9c9a" stroke-width="0.9" opacity="0.73"/>
<polyline points="70.8,210.0 71.3,211.5 72.0,213.0 72.7,214.5 73.4,216.0 73.9,217.5 74.3,219.0 74.5,220.5 74.5,222.0 74.3,223.5 73.7,225.0 72.9,226.5" fill="none" stroke="#8d9c9a" stroke-width="0.9" opacity="0.90"/>
<polyline points="73.1,210.0 73.6,211.5 74.3,213.0 75.0,214.5 75.7,216.0 76.2,217.5 76.6,219.0 76.8,220.5 76.8,222.0 76.6,223.5 76.0,225.0 75.2,226.5" fill="none" stroke="#8d9c9a" stroke-width="0.9" opacity="0.61"/>
<polyline points="265.3,280.1 263.4,281.6 261.6,283.1 259.9,284.6 258.5,286.1 257.3,287.6 256.4,289.1 255.7,290.6 255.3,292.1 255.1,293.6 255.2,295.1 255.3,296.6 255.6,298.1 255.9,299.6 256.2,301.1 256.4,302.6 256.5,304.1 256.4,305.6" fill="none" stroke="#8d9c9a" stroke-width="0.9" opacity="0.93"/>
<polyline points="267.6,280.1 265.7,281.6 263.9,283.1 262.2,284.6 260.8,286.1 259.6,287.6 258.7,289.1 258.0,290.6 257.6,292.1 257.4,293.6 257.5,295.1 257.6,296.6 257.9,298.1 258.2,299.6 258.5,301.1 258.7,302.6 258.8,304.1 258.7,305.6" fill="none" stroke="#8d9c9a" stroke-width="0.9" opacity="0.54"/>
<polyline points="269.9,280.1 268.0,281.6 266.2,283.1 264.5,284.6 263.1,286.1 261.9,287.6 261.0,289.1 260.3,290.6 259.9,292.1 259.7,293.6 259.8,295.1 259.9,296.6 260.2,298.1 260.5,299.6 260.8,301.1 261.0,302.6 261.1,304.1 261.0,305.6" fill="none" stroke="#8d9c9a" stroke-width="0.9" opacity="0.65"/>
<polyline points="272.2,280.1 270.3,281.6 268.5,283.1 266.8,284.6 265.4,286.1 264.2,287.6 263.3,289.1 262.6,290.6 262.2,292.1 262.0,293.6 262.1,295.1 262.2,296.6 262.5,298.1 262.8,299.6 263.1,301.1 263.3,302.6 263.4,304.1 263.3,305.6" fill="none" stroke="#8d9c9a" stroke-width="0.9" opacity="0.77"/>
<polyline points="274.5,280.1 272.6,281.6 270.8,283.1 269.1,284.6 267.7,286.1 266.5,287.6 265.6,289.1 264.9,290.6 264.5,292.1 264.3,293.6 264.4,295.1 264.5,296.6 264.8,298.1 265.1,299.6 265.4,301.1 265.6,302.6 265.7,304.1 265.6,305.6" fill="none" stroke="#8d9c9a" stroke-width="0.9" opacity="0.91"/>
<polyline points="276.8,280.1 274.9,281.6 273.1,283.1 271.4,284.6 270.0,286.1 268.8,287.6 267.9,289.1 267.2,290.6 266.8,292.1 266.6,293.6 266.7,295.1 266.8,296.6 267.1,298.1 267.4,299.6 267.7,301.1 267.9,302.6 268.0,304.1 267.9,305.6" fill="none" stroke="#8d9c9a" stroke-width="0.9" opacity="0.65"/>
<polyline points="456.2,277.7 457.7,279.2 459.1,280.7 460.2,282.2 461.1,283.7 461.7,285.2 462.0,286.7 462.1,288.2 462.0,289.7 461.7,291.2 461.2,292.7 460.6,294.2 460.0,295.7" fill="none" stroke="#8d9c9a" stroke-width="0.9" opacity="0.78"/>
<polyline points="458.5,277.7 460.0,279.2 461.4,280.7 462.5,282.2 463.4,283.7 464.0,285.2 464.3,286.7 464.4,288.2 464.3,289.7 464.0,291.2 463.5,292.7 462.9,294.2 462.3,295.7" fill="none" stroke="#8d9c9a" stroke-width="0.9" opacity="0.82"/>
<polyline points="460.8,277.7 462.3,279.2 463.7,280.7 464.8,282.2 465.7,283.7 466.3,285.2 466.6,286.7 466.7,288.2 466.6,289.7 466.3,291.2 465.8,292.7 465.2,294.2 464.6,295.7" fill="none" stroke="#8d9c9a" stroke-width="0.9" opacity="0.64"/>
<polyline points="463.1,277.7 464.6,279.2 466.0,280.7 467.1,282.2 468.0,283.7 468.6,285.2 468.9,286.7 469.0,288.2 468.9,289.7 468.6,291.2 468.1,292.7 467.5,294.2 466.9,295.7" fill="none" stroke="#8d9c9a" stroke-width="0.9" opacity="0.72"/>
<polyline points="465.4,277.7 466.9,279.2 468.3,280.7 469.4,282.2 470.3,283.7 470.9,285.2 471.2,286.7 471.3,288.2 471.2,289.7 470.9,291.2 470.4,292.7 469.8,294.2 469.2,295.7" fill="none" stroke="#8d9c9a" stroke-width="0.9" opacity="0.82"/>
<polyline points="467.7,277.7 469.2,279.2 470.6,280.7 471.7,282.2 472.6,283.7 473.2,285.2 473.5,286.7 473.6,288.2 473.5,289.7 473.2,291.2 472.7,292.7 472.1,294.2 471.5,295.7" fill="none" stroke="#8d9c9a" stroke-width="0.9" opacity="0.54"/>
<polyline points="314.7,332.2 314.0,333.7 313.6,335.2 313.4,336.7 313.5,338.2 313.9,339.7 314.5,341.2 315.3,342.7 316.2,344.2 317.3,345.7" fill="none" stroke="#8d9c9a" stroke-width="0.9" opacity="0.69"/>
<polyline points="317.0,332.2 316.3,333.7 315.9,335.2 315.7,336.7 315.8,338.2 316.2,339.7 316.8,341.2 317.6,342.7 318.5,344.2 319.6,345.7" fill="none" stroke="#8d9c9a" stroke-width="0.9" opacity="0.53"/>
<polyline points="319.3,332.2 318.6,333.7 318.2,335.2 318.0,336.7 318.1,338.2 318.5,339.7 319.1,341.2 319.9,342.7 320.8,344.2 321.9,345.7" fill="none" stroke="#8d9c9a" stroke-width="0.9" opacity="0.91"/>
<polyline points="321.6,332.2 320.9,333.7 320.5,335.2 320.3,336.7 320.4,338.2 320.8,339.7 321.4,341.2 322.2,342.7 323.1,344.2 324.2,345.7" fill="none" stroke="#8d9c9a" stroke-width="0.9" opacity="0.51"/>
<polyline points="323.9,332.2 323.2,333.7 322.8,335.2 322.6,336.7 322.7,338.2 323.1,339.7 323.7,341.2 324.5,342.7 325.4,344.2 326.5,345.7" fill="none" stroke="#8d9c9a" stroke-width="0.9" opacity="0.72"/>
<polyline points="326.2,332.2 325.5,333.7 325.1,335.2 324.9,336.7 325.0,338.2 325.4,339.7 326.0,341.2 326.8,342.7 327.7,344.2 328.8,345.7" fill="none" stroke="#8d9c9a" stroke-width="0.9" opacity="0.88"/>
<polyline points="112.3,298.4 112.3,299.9 112.6,301.4 113.1,302.9 113.8,304.4 114.7,305.9 115.6,307.4 116.7,308.9 117.7,310.4 118.6,311.9 119.5,313.4 120.1,314.9 120.5,316.4 120.7,317.9 120.6,319.4 120.3,320.9 119.7,322.4 118.9,323.9 117.8,325.4 116.7,326.9" fill="none" stroke="#8d9c9a" stroke-width="0.9" opacity="0.57"/>
<polyline points="114.6,298.4 114.6,299.9 114.9,301.4 115.4,302.9 116.1,304.4 117.0,305.9 117.9,307.4 119.0,308.9 120.0,310.4 120.9,311.9 121.8,313.4 122.4,314.9 122.8,316.4 123.0,317.9 122.9,319.4 122.6,320.9 122.0,322.4 121.2,323.9 120.1,325.4 119.0,326.9" fill="none" stroke="#8d9c9a" stroke-width="0.9" opacity="0.88"/>
<polyline points="116.9,298.4 116.9,299.9 117.2,301.4 117.7,302.9 118.4,304.4 119.3,305.9 120.2,307.4 121.3,308.9 122.3,310.4 123.2,311.9 124.1,313.4 124.7,314.9 125.1,316.4 125.3,317.9 125.2,319.4 124.9,320.9 124.3,322.4 123.5,323.9 122.4,325.4 121.3,326.9" fill="none" stroke="#8d9c9a" stroke-width="0.9" opacity="0.63"/>
<polyline points="119.2,298.4 119.2,299.9 119.5,301.4 120.0,302.9 120.7,304.4 121.6,305.9 122.5,307.4 123.6,308.9 124.6,310.4 125.5,311.9 126.4,313.4 127.0,314.9 127.4,316.4 127.6,317.9 127.5,319.4 127.2,320.9 126.6,322.4 125.8,323.9 124.7,325.4 123.6,326.9" fill="none" stroke="#8d9c9a" stroke-width="0.9" opacity="0.70"/>
<polyline points="121.5,298.4 121.5,299.9 121.8,301.4 122.3,302.9 123.0,304.4 123.9,305.9 124.8,307.4 125.9,308.9 126.9,310.4 127.8,311.9 128.7,313.4 129.3,314.9 129.7,316.4 129.9,317.9 129.8,319.4 129.5,320.9 128.9,322.4 128.1,323.9 127.0,325.4 125.9,326.9" fill="none" stroke="#8d9c9a" stroke-width="0.9" opacity="0.95"/>
<polyline points="123.8,298.4 123.8,299.9 124.1,301.4 124.6,302.9 125.3,304.4 126.2,305.9 127.1,307.4 128.2,308.9 129.2,310.4 130.1,311.9 131.0,313.4 131.6,314.9 132.0,316.4 132.2,317.9 132.1,319.4 131.8,320.9 131.2,322.4 130.4,323.9 129.3,325.4 128.2,326.9" fill="none" stroke="#8d9c9a" stroke-width="0.9" opacity="0.88"/>
<polyline points="126.1,298.4 126.1,299.9 126.4,301.4 126.9,302.9 127.6,304.4 128.5,305.9 129.4,307.4 130.5,308.9 131.5,310.4 132.4,311.9 133.3,313.4 133.9,314.9 134.3,316.4 134.5,317.9 134.4,319.4 134.1,320.9 133.5,322.4 132.7,323.9 131.6,325.4 130.5,326.9" fill="none" stroke="#8d9c9a" stroke-width="0.9" opacity="0.94"/>
<polyline points="254.2,266.5 255.3,268.0 256.4,269.5 257.4,271.0 258.4,272.5 259.1,274.0 259.7,275.5 260.0,277.0 260.1,278.5 259.8,280.0 259.4,281.5 258.7,283.0 257.8,284.5 256.7,286.0 255.5,287.5 254.3,289.0 253.2,290.5 252.0,292.0" fill="none" stroke="#8d9c9a" stroke-width="0.9" opacity="0.91"/>
<polyline points="256.5,266.5 257.6,268.0 258.7,269.5 259.7,271.0 260.7,272.5 261.4,274.0 262.0,275.5 262.3,277.0 262.4,278.5 262.1,280.0 261.7,281.5 261.0,283.0 260.1,284.5 259.0,286.0 257.8,287.5 256.6,289.0 255.5,290.5 254.3,292.0" fill="none" stroke="#8d9c9a" stroke-width="0.9" opacity="0.55"/>
<polyline points="258.8,266.5 259.9,268.0 261.0,269.5 262.0,271.0 263.0,272.5 263.7,274.0 264.3,275.5 264.6,277.0 264.7,278.5 264.4,280.0 264.0,281.5 263.3,283.0 262.4,284.5 261.3,286.0 260.1,287.5 258.9,289.0 257.8,290.5 256.6,292.0" fill="none" stroke="#8d9c9a" stroke-width="0.9" opacity="0.87"/>
<polyline points="261.1,266.5 262.2,268.0 263.3,269.5 264.3,271.0 265.3,272.5 266.0,274.0 266.6,275.5 266.9,277.0 267.0,278.5 266.7,280.0 266.3,281.5 265.6,283.0 264.7,284.5 263.6,286.0 262.4,287.5 261.2,289.0 260.1,290.5 258.9,292.0" fill="none" stroke="#8d9c9a" stroke-width="0.9" opacity="0.74"/>
<polyline points="263.4,266.5 264.5,268.0 265.6,269.5 266.6,271.0 267.6,272.5 268.3,274.0 268.9,275.5 269.2,277.0 269.3,278.5 269.0,280.0 268.6,281.5 267.9,283.0 267.0,284.5 265.9,286.0 264.7,287.5 263.5,289.0 262.4,290.5 261.2,292.0" fill="none" stroke="#8d9c9a" stroke-width="0.9" opacity="0.58"/>
<polyline points="265.7,266.5 266.8,268.0 267.9,269.5 268.9,271.0 269.9,272.5 270.6,274.0 271.2,275.5 271.5,277.0 271.6,278.5 271.3,280.0 270.9,281.5 270.2,283.0 269.3,284.5 268.2,286.0 267.0,287.5 265.8,289.0 264.7,290.5 263.5,292.0" fill="none" stroke="#8d9c9a" stroke-width="0.9" opacity="0.92"/>
<polyline points="268.0,266.5 269.1,268.0 270.2,269.5 271.2,271.0 272.2,272.5 272.9,274.0 273.5,275.5 273.8,277.0 273.9,278.5 273.6,280.0 273.2,281.5 272.5,283.0 271.6,284.5 270.5,286.0 269.3,287.5 268.1,289.0 267.0,290.5 265.8,292.0" fill="none" stroke="#8d9c9a" stroke-width="0.9" opacity="0.89"/>
<polyline points="128.7,268.8 129.6,270.3 130.8,271.8 132.2,273.3 133.7,274.8 135.4,276.3 137.0,277.8 138.7,279.3 140.3,280.8 141.7,282.3 143.0,283.8 144.1,285.3 144.9,286.8 145.4,288.3 145.7,289.8" fill="none" stroke="#8d9c9a" stroke-width="0.9" opacity="0.66"/>
<polyline points="131.0,268.8 131.9,270.3 133.1,271.8 134.5,273.3 136.0,274.8 137.7,276.3 139.3,277.8 141.0,279.3 142.6,280.8 144.0,282.3 145.3,283.8 146.4,285.3 147.2,286.8 147.7,288.3 148.0,289.8" fill="none" stroke="#8d9c9a" stroke-width="0.9" opacity="0.76"/>
<polyline points="133.3,268.8 134.2,270.3 135.4,271.8 136.8,273.3 138.3,274.8 140.0,276.3 141.6,277.8 143.3,279.3 144.9,280.8 146.3,282.3 147.6,283.8 148.7,285.3 149.5,286.8 150.0,288.3 150.3,289.8" fill="none" stroke="#8d9c9a" stroke-width="0.9" opacity="0.52"/>
<polyline points="135.6,268.8 136.5,270.3 137.7,271.8 139.1,273.3 140.6,274.8 142.3,276.3 143.9,277.8 145.6,279.3 147.2,280.8 148.6,282.3 149.9,283.8 151.0,285.3 151.8,286.8 152.3,288.3 152.6,289.8" fill="none" stroke="#8d9c9a" stroke-width="0.9" opacity="0.64"/>
<polyline points="137.9,268.8 138.8,270.3 140.0,271.8 141.4,273.3 142.9,274.8 144.6,276.3 146.2,277.8 147.9,279.3 149.5,280.8 150.9,282.3 152.2,283.8 153.3,285.3 154.1,286.8 154.6,288.3 154.9,289.8" fill="none" stroke="#8d9c9a" stroke-width="0.9" opacity="0.75"/>
<polyline points="140.2,268.8 141.1,270.3 142.3,271.8 143.7,273.3 145.2,274.8 146.9,276.3 148.5,277.8 150.2,279.3 151.8,280.8 153.2,282.3 154.5,283.8 155.6,285.3 156.4,286.8 156.9,288.3 157.2,289.8" fill="none" stroke="#8d9c9a" stroke-width="0.9" opacity="0.80"/>
<polyline points="419.2,233.7 418.1,235.2 417.1,236.7 416.4,238.2 415.9,239.7 415.6,241.2 415.7,242.7 415.9,244.2 416.4,245.7 417.1,247.2 417.9,248.7 418.7,250.2 419.6,251.7 420.4,253.2 421.1,254.7 421.6,256.2 421.9,257.7 422.0,259.2 421.8,260.7 421.4,262.2" fill="none" stroke="#8d9c9a" stroke-width="0.9" opacity="0.58"/>
<polyline points="421.5,233.7 420.4,235.2 419.4,236.7 418.7,238.2 418.2,239.7 417.9,241.2 418.0,242.7 418.2,244.2 418.7,245.7 419.4,247.2 420.2,248.7 421.0,250.2 421.9,251.7 422.7,253.2 423.4,254.7 423.9,256.2 424.2,257.7 424.3,259.2 424.1,260.7 423.7,262.2" fill="none" stroke="#8d9c9a" stroke-width="0.9" opacity="0.88"/>
<polyline points="423.8,233.7 422.7,235.2 421.7,236.7 421.0,238.2 420.5,239.7 420.2,241.2 420.3,242.7 420.5,244.2 421.0,245.7 421.7,247.2 422.5,248.7 423.3,250.2 424.2,251.7 425.0,253.2 425.7,254.7 426.2,256.2 426.5,257.7 426.6,259.2 426.4,260.7 426.0,262.2" fill="none" stroke="#8d9c9a" stroke-width="0.9" opacity="0.71"/>
<polyline points="426.1,233.7 425.0,235.2 424.0,236.7 423.3,238.2 422.8,239.7 422.5,241.2 422.6,242.7 422.8,244.2 423.3,245.7 424.0,247.2 424.8,248.7 425.6,250.2 426.5,251.7 427.3,253.2 428.0,254.7 428.5,256.2 428.8,257.7 428.9,259.2 428.7,260.7 428.3,262.2" fill="none" stroke="#8d9c9a" stroke-width="0.9" opacity="0.85"/>
<polyline points="428.4,233.7 427.3,235.2 426.3,236.7 425.6,238.2 425.1,239.7 424.8,241.2 424.9,242.7 425.1,244.2 425.6,245.7 426.3,247.2 427.1,248.7 427.9,250.2 428.8,251.7 429.6,253.2 430.3,254.7 430.8,256.2 431.1,257.7 431.2,259.2 431.0,260.7 430.6,262.2" fill="none" stroke="#8d9c9a" stroke-width="0.9" opacity="0.65"/>
<polyline points="430.7,233.7 429.6,235.2 428.6,236.7 427.9,238.2 427.4,239.7 427.1,241.2 427.2,242.7 427.4,244.2 427.9,245.7 428.6,247.2 429.4,248.7 430.2,250.2 431.1,251.7 431.9,253.2 432.6,254.7 433.1,256.2 433.4,257.7 433.5,259.2 433.3,260.7 432.9,262.2" fill="none" stroke="#8d9c9a" stroke-width="0.9" opacity="0.62"/>
<polyline points="183.4,268.7 184.8,270.2 185.9,271.7 187.0,273.2 187.8,274.7 188.3,276.2 188.6,277.7 188.6,279.2 188.4,280.7 187.9,282.2 187.3,283.7 186.5,285.2 185.6,286.7 184.7,288.2 183.9,289.7 183.1,291.2 182.5,292.7" fill="none" stroke="#8d9c9a" stroke-width="0.9" opacity="0.83"/>
<polyline points="185.7,268.7 187.1,270.2 188.2,271.7 189.3,273.2 190.1,274.7 190.6,276.2 190.9,277.7 190.9,279.2 190.7,280.7 190.2,282.2 189.6,283.7 188.8,285.2 187.9,286.7 187.0,288.2 186.2,289.7 185.4,291.2 184.8,292.7" fill="none" stroke="#8d9c9a" stroke-width="0.9" opacity="0.87"/>
<polyline points="188.0,268.7 189.4,270.2 190.5,271.7 191.6,273.2 192.4,274.7 192.9,276.2 193.2,277.7 193.2,279.2 193.0,280.7 192.5,282.2 191.9,283.7 191.1,285.2 190.2,286.7 189.3,288.2 188.5,289.7 187.7,291.2 187.1,292.7" fill="none" stroke="#8d9c9a" stroke-width="0.9" opacity="0.66"/>
<polyline points="190.3,268.7 191.7,270.2 192.8,271.7 193.9,273.2 194.7,274.7 195.2,276.2 195.5,277.7 195.5,279.2 195.3,280.7 194.8,282.2 194.2,283.7 193.4,285.2 192.5,286.7 191.6,288.2 190.8,289.7 190.0,291.2 189.4,292.7" fill="none" stroke="#8d9c9a" stroke-width="0.9" opacity="0.88"/>
<polyline points="192.6,268.7 194.0,270.2 195.1,271.7 196.2,273.2 197.0,274.7 197.5,276.2 197.8,277.7 197.8,279.2 197.6,280.7 197.1,282.2 196.5,283.7 195.7,285.2 194.8,286.7 193.9,288.2 193.1,289.7 192.3,291.2 191.7,292.7" fill="none" stroke="#8d9c9a" stroke-width="0.9" opacity="0.89"/>
<polyline points="194.9,268.7 196.3,270.2 197.4,271.7 198.5,273.2 199.3,274.7 199.8,276.2 200.1,277.7 200.1,279.2 199.9,280.7 199.4,282.2 198.8,283.7 198.0,285.2 197.1,286.7 196.2,288.2 195.4,289.7 194.6,291.2 194.0,292.7" fill="none" stroke="#8d9c9a" stroke-width="0.9" opacity="0.81"/>
<polyline points="479.3,332.9 480.2,334.4 481.1,335.9 481.9,337.4 482.8,338.9 483.5,340.4 484.1,341.9 484.4,343.4 484.5,344.9 484.3,346.4 483.9,347.9 483.2,349.4 482.3,350.9 481.2,352.4 479.9,353.9" fill="none" stroke="#8d9c9a" stroke-width="0.9" opacity="0.88"/>
<polyline points="481.6,332.9 482.5,334.4 483.4,335.9 484.2,337.4 485.1,338.9 485.8,340.4 486.4,341.9 486.7,343.4 486.8,344.9 486.6,346.4 486.2,347.9 485.5,349.4 484.6,350.9 483.5,352.4 482.2,353.9" fill="none" stroke="#8d9c9a" stroke-width="0.9" opacity="0.63"/>
<polyline points="483.9,332.9 484.8,334.4 485.7,335.9 486.5,337.4 487.4,338.9 488.1,340.4 488.7,341.9 489.0,343.4 489.1,344.9 488.9,346.4 488.5,347.9 487.8,349.4 486.9,350.9 485.8,352.4 484.5,353.9" fill="none" stroke="#8d9c9a" stroke-width="0.9" opacity="0.54"/>
<polyline points="486.2,332.9 487.1,334.4 488.0,335.9 488.8,337.4 489.7,338.9 490.4,340.4 491.0,341.9 491.3,343.4 491.4,344.9 491.2,346.4 490.8,347.9 490.1,349.4 489.2,350.9 488.1,352.4 486.8,353.9" fill="none" stroke="#8d9c9a" stroke-width="0.9" opacity="0.80"/>
<polyline points="488.5,332.9 489.4,334.4 490.3,335.9 491.1,337.4 492.0,338.9 492.7,340.4 493.3,341.9 493.6,343.4 493.7,344.9 493.5,346.4 493.1,347.9 492.4,349.4 491.5,350.9 490.4,352.4 489.1,353.9" fill="none" stroke="#8d9c9a" stroke-width="0.9" opacity="0.69"/>
<polyline points="325.4,330.1 326.6,331.6 327.7,333.1 328.6,334.6 329.4,336.1 329.9,337.6 330.1,339.1 330.0,340.6 329.7,342.1 329.2,343.6 328.5,345.1 327.6,346.6 326.6,348.1 325.5,349.6 324.5,351.1" fill="none" stroke="#8d9c9a" stroke-width="0.9" opacity="0.89"/>
<polyline points="327.7,330.1 328.9,331.6 330.0,333.1 330.9,334.6 331.7,336.1 332.2,337.6 332.4,339.1 332.3,340.6 332.0,342.1 331.5,343.6 330.8,345.1 329.9,346.6 328.9,348.1 327.8,349.6 326.8,351.1" fill="none" stroke="#8d9c9a" stroke-width="0.9" opacity="0.62"/>
<polyline points="330.0,330.1 331.2,331.6 332.3,333.1 333.2,334.6 334.0,336.1 334.5,337.6 334.7,339.1 334.6,340.6 334.3,342.1 333.8,343.6 333.1,345.1 332.2,346.6 331.2,348.1 330.1,349.6 329.1,351.1" fill="none" stroke="#8d9c9a" stroke-width="0.9" opacity="0.95"/>
<polyline points="332.3,330.1 333.5,331.6 334.6,333.1 335.5,334.6 336.3,336.1 336.8,337.6 337.0,339.1 336.9,340.6 336.6,342.1 336.1,343.6 335.4,345.1 334.5,346.6 333.5,348.1 332.4,349.6 331.4,351.1" fill="none" stroke="#8d9c9a" stroke-width="0.9" opacity="0.59"/>
<polyline points="334.6,330.1 335.8,331.6 336.9,333.1 337.8,334.6 338.6,336.1 339.1,337.6 339.3,339.1 339.2,340.6 338.9,342.1 338.4,343.6 337.7,345.1 336.8,346.6 335.8,348.1 334.7,349.6 333.7,351.1" fill="none" stroke="#8d9c9a" stroke-width="0.9" opacity="0.76"/>
<polyline points="336.9,330.1 338.1,331.6 339.2,333.1 340.1,334.6 340.9,336.1 341.4,337.6 341.6,339.1 341.5,340.6 341.2,342.1 340.7,343.6 340.0,345.1 339.1,346.6 338.1,348.1 337.0,349.6 336.0,351.1" fill="none" stroke="#8d9c9a" stroke-width="0.9" opacity="0.78"/>
<polyline points="339.2,330.1 340.4,331.6 341.5,333.1 342.4,334.6 343.2,336.1 343.7,337.6 343.9,339.1 343.8,340.6 343.5,342.1 343.0,343.6 342.3,345.1 341.4,346.6 340.4,348.1 339.3,349.6 338.3,351.1" fill="none" stroke="#8d9c9a" stroke-width="0.9" opacity="0.58"/>
<polyline points="387.1,224.2 386.1,225.7 385.3,227.2 384.8,228.7 384.5,230.2 384.4,231.7 384.6,233.2 385.0,234.7 385.5,236.2 386.0,237.7 386.5,239.2 387.0,240.7 387.4,242.2 387.6,243.7 387.6,245.2 387.4,246.7 386.9,248.2" fill="none" stroke="#8d9c9a" stroke-width="0.9" opacity="0.90"/>
<polyline points="389.4,224.2 388.4,225.7 387.6,227.2 387.1,228.7 386.8,230.2 386.7,231.7 386.9,233.2 387.3,234.7 387.8,236.2 388.3,237.7 388.8,239.2 389.3,240.7 389.7,242.2 389.9,243.7 389.9,245.2 389.7,246.7 389.2,248.2" fill="none" stroke="#8d9c9a" stroke-width="0.9" opacity="0.55"/>
<polyline points="391.7,224.2 390.7,225.7 389.9,227.2 389.4,228.7 389.1,230.2 389.0,231.7 389.2,233.2 389.6,234.7 390.1,236.2 390.6,237.7 391.1,239.2 391.6,240.7 392.0,242.2 392.2,243.7 392.2,245.2 392.0,246.7 391.5,248.2" fill="none" stroke="#8d9c9a" stroke-width="0.9" opacity="0.94"/>
<polyline points="394.0,224.2 393.0,225.7 392.2,227.2 391.7,228.7 391.4,230.2 391.3,231.7 391.5,233.2 391.9,234.7 392.4,236.2 392.9,237.7 393.4,239.2 393.9,240.7 394.3,242.2 394.5,243.7 394.5,245.2 394.3,246.7 393.8,248.2" fill="none" stroke="#8d9c9a" stroke-width="0.9" opacity="0.72"/>
<polyline points="396.3,224.2 395.3,225.7 394.5,227.2 394.0,228.7 393.7,230.2 393.6,231.7 393.8,233.2 394.2,234.7 394.7,236.2 395.2,237.7 395.7,239.2 396.2,240.7 396.6,242.2 396.8,243.7 396.8,245.2 396.6,246.7 396.1,248.2" fill="none" stroke="#8d9c9a" stroke-width="0.9" opacity="0.75"/>
<polyline points="398.6,224.2 397.6,225.7 396.8,227.2 396.3,228.7 396.0,230.2 395.9,231.7 396.1,233.2 396.5,234.7 397.0,236.2 397.5,237.7 398.0,239.2 398.5,240.7 398.9,242.2 399.1,243.7 399.1,245.2 398.9,246.7 398.4,248.2" fill="none" stroke="#8d9c9a" stroke-width="0.9" opacity="0.69"/>
<polyline points="400.9,224.2 399.9,225.7 399.1,227.2 398.6,228.7 398.3,230.2 398.2,231.7 398.4,233.2 398.8,234.7 399.3,236.2 399.8,237.7 400.3,239.2 400.8,240.7 401.2,242.2 401.4,243.7 401.4,245.2 401.2,246.7 400.7,248.2" fill="none" stroke="#8d9c9a" stroke-width="0.9" opacity="0.66"/>
<polyline points="341.0,213.3 341.3,214.8 341.7,216.3 342.4,217.8 343.2,219.3 344.2,220.8 345.1,222.3 346.1,223.8 347.0,225.3 347.8,226.8 348.3,228.3 348.7,229.8" fill="none" stroke="#8d9c9a" stroke-width="0.9" opacity="0.63"/>
<polyline points="343.3,213.3 343.6,214.8 344.0,216.3 344.7,217.8 345.5,219.3 346.5,220.8 347.4,222.3 348.4,223.8 349.3,225.3 350.1,226.8 350.6,228.3 351.0,229.8" fill="none" stroke="#8d9c9a" stroke-width="0.9" opacity="0.68"/>
<polyline points="345.6,213.3 345.9,214.8 346.3,216.3 347.0,217.8 347.8,219.3 348.8,220.8 349.7,222.3 350.7,223.8 351.6,225.3 352.4,226.8 352.9,228.3 353.3,229.8" fill="none" stroke="#8d9c9a" stroke-width="0.9" opacity="0.55"/>
<polyline points="347.9,213.3 348.2,214.8 348.6,216.3 349.3,217.8 350.1,219.3 351.1,220.8 352.0,222.3 353.0,223.8 353.9,225.3 354.7,226.8 355.2,228.3 355.6,229.8" fill="none" stroke="#8d9c9a" stroke-width="0.9" opacity="0.87"/>
<polyline points="350.2,213.3 350.5,214.8 350.9,216.3 351.6,217.8 352.4,219.3 353.4,220.8 354.3,222.3 355.3,223.8 356.2,225.3 357.0,226.8 357.5,228.3 357.9,229.8" fill="none" stroke="#8d9c9a" stroke-width="0.9" opacity="0.67"/>
<polyline points="352.5,213.3 352.8,214.8 353.2,216.3 353.9,217.8 354.7,219.3 355.7,220.8 356.6,222.3 357.6,223.8 358.5,225.3 359.3,226.8 359.8,228.3 360.2,229.8" fill="none" stroke="#8d9c9a" stroke-width="0.9" opacity="0.52"/>
<polyline points="322.2,213.7 321.4,215.2 320.9,216.7 320.6,218.2 320.6,219.7 320.9,221.2 321.3,222.7 321.9,224.2 322.6,225.7 323.4,227.2 324.2,228.7 324.9,230.2 325.4,231.7 325.9,233.2 326.0,234.7 326.0,236.2" fill="none" stroke="#8d9c9a" stroke-width="0.9" opacity="0.66"/>
<polyline points="324.5,213.7 323.7,215.2 323.2,216.7 322.9,218.2 322.9,219.7 323.2,221.2 323.6,222.7 324.2,224.2 324.9,225.7 325.7,227.2 326.5,228.7 327.2,230.2 327.7,231.7 328.2,233.2 328.3,234.7 328.3,236.2" fill="none" stroke="#8d9c9a" stroke-width="0.9" opacity="0.56"/>
<polyline points="326.8,213.7 326.0,215.2 325.5,216.7 325.2,218.2 325.2,219.7 325.5,221.2 325.9,222.7 326.5,224.2 327.2,225.7 328.0,227.2 328.8,228.7 329.5,230.2 330.0,231.7 330.5,233.2 330.6,234.7 330.6,236.2" fill="none" stroke="#8d9c9a" stroke-width="0.9" opacity="0.68"/>
<polyline points="329.1,213.7 328.3,215.2 327.8,216.7 327.5,218.2 327.5,219.7 327.8,221.2 328.2,222.7 328.8,224.2 329.5,225.7 330.3,227.2 331.1,228.7 331.8,230.2 332.3,231.7 332.8,233.2 332.9,234.7 332.9,236.2" fill="none" stroke="#8d9c9a" stroke-width="0.9" opacity="0.75"/>
<polyline points="331.4,213.7 330.6,215.2 330.1,216.7 329.8,218.2 329.8,219.7 330.1,221.2 330.5,222.7 331.1,224.2 331.8,225.7 332.6,227.2 333.4,228.7 334.1,230.2 334.6,231.7 335.1,233.2 335.2,234.7 335.2,236.2" fill="none" stroke="#8d9c9a" stroke-width="0.9" opacity="0.74"/>
<polyline points="333.7,213.7 332.9,215.2 332.4,216.7 332.1,218.2 332.1,219.7 332.4,221.2 332.8,222.7 333.4,224.2 334.1,225.7 334.9,227.2 335.7,228.7 336.4,230.2 336.9,231.7 337.4,233.2 337.5,234.7 337.5,236.2" fill="none" stroke="#8d9c9a" stroke-width="0.9" opacity="0.71"/>
<polyline points="121.2,254.0 121.2,255.5 121.5,257.0 122.0,258.5 122.7,260.0 123.7,261.5 124.9,263.0 126.1,264.5 127.5,266.0 128.8,267.5 130.1,269.0 131.3,270.5 132.3,272.0 133.1,273.5 133.6,275.0" fill="none" stroke="#8d9c9a" stroke-width="0.9" opacity="0.66"/>
<polyline points="123.5,254.0 123.5,255.5 123.8,257.0 124.3,258.5 125.0,260.0 126.0,261.5 127.2,263.0 128.4,264.5 129.8,266.0 131.1,267.5 132.4,269.0 133.6,270.5 134.6,272.0 135.4,273.5 135.9,275.0" fill="none" stroke="#8d9c9a" stroke-width="0.9" opacity="0.90"/>
<polyline points="125.8,254.0 125.8,255.5 126.1,257.0 126.6,258.5 127.3,260.0 128.3,261.5 129.5,263.0 130.7,264.5 132.1,266.0 133.4,267.5 134.7,269.0 135.9,270.5 136.9,272.0 137.7,273.5 138.2,275.0" fill="none" stroke="#8d9c9a" stroke-width="0.9" opacity="0.50"/>
<polyline points="128.1,254.0 128.1,255.5 128.4,257.0 128.9,258.5 129.6,260.0 130.6,261.5 131.8,263.0 133.0,264.5 134.4,266.0 135.7,267.5 137.0,269.0 138.2,270.5 139.2,272.0 140.0,273.5 140.5,275.0" fill="none" stroke="#8d9c9a" stroke-width="0.9" opacity="0.55"/>
<polyline points="130.4,254.0 130.4,255.5 130.7,257.0 131.2,258.5 131.9,260.0 132.9,261.5 134.1,263.0 135.3,264.5 136.7,266.0 138.0,267.5 139.3,269.0 140.5,270.5 141.5,272.0 142.3,273.5 142.8,275.0" fill="none" stroke="#8d9c9a" stroke-width="0.9" opacity="0.75"/>
<polyline points="321.4,219.4 322.9,220.9 324.2,222.4 325.2,223.9 326.0,225.4 326.5,226.9 326.7,228.4 326.8,229.9 326.7,231.4 326.5,232.9 326.2,234.4 325.9,235.9 325.7,237.4 325.6,238.9 325.6,240.4 325.9,241.9 326.4,243.4" fill="none" stroke="#8d9c9a" stroke-width="0.9" opacity="0.72"/>
<polyline points="323.7,219.4 325.2,220.9 326.5,222.4 327.5,223.9 328.3,225.4 328.8,226.9 329.0,228.4 329.1,229.9 329.0,231.4 328.8,232.9 328.5,234.4 328.2,235.9 328.0,237.4 327.9,238.9 327.9,240.4 328.2,241.9 328.7,243.4" fill="none" stroke="#8d9c9a" stroke-width="0.9" opacity="0.72"/>
<polyline points="326.0,219.4 327.5,220.9 328.8,222.4 329.8,223.9 330.6,225.4 331.1,226.9 331.3,228.4 331.4,229.9 331.3,231.4 331.1,232.9 330.8,234.4 330.5,235.9 330.3,237.4 330.2,238.9 330.2,240.4 330.5,241.9 331.0,243.4" fill="none" stroke="#8d9c9a" stroke-width="0.9" opacity="0.82"/>
<polyline points="328.3,219.4 329.8,220.9 331.1,222.4 332.1,223.9 332.9,225.4 333.4,226.9 333.6,228.4 333.7,229.9 333.6,231.4 333.4,232.9 333.1,234.4 332.8,235.9 332.6,237.4 332.5,238.9 332.5,240.4 332.8,241.9 333.3,243.4" fill="none" stroke="#8d9c9a" stroke-width="0.9" opacity="0.67"/>
<polyline points="330.6,219.4 332.1,220.9 333.4,222.4 334.4,223.9 335.2,225.4 335.7,226.9 335.9,228.4 336.0,229.9 335.9,231.4 335.7,232.9 335.4,234.4 335.1,235.9 334.9,237.4 334.8,238.9 334.8,240.4 335.1,241.9 335.6,243.4" fill="none" stroke="#8d9c9a" stroke-width="0.9" opacity="0.88"/>
<polyline points="332.9,219.4 334.4,220.9 335.7,222.4 336.7,223.9 337.5,225.4 338.0,226.9 338.2,228.4 338.3,229.9 338.2,231.4 338.0,232.9 337.7,234.4 337.4,235.9 337.2,237.4 337.1,238.9 337.1,240.4 337.4,241.9 337.9,243.4" fill="none" stroke="#8d9c9a" stroke-width="0.9" opacity="0.57"/>
<polyline points="335.2,219.4 336.7,220.9 338.0,222.4 339.0,223.9 339.8,225.4 340.3,226.9 340.5,228.4 340.6,229.9 340.5,231.4 340.3,232.9 340.0,234.4 339.7,235.9 339.5,237.4 339.4,238.9 339.4,240.4 339.7,241.9 340.2,243.4" fill="none" stroke="#8d9c9a" stroke-width="0.9" opacity="0.77"/>
<polyline points="376.3,244.5 378.0,246.0 379.6,247.5 380.9,249.0 381.9,250.5 382.7,252.0 383.2,253.5 383.4,255.0 383.5,256.5 383.4,258.0 383.2,259.5 382.9,261.0 382.6,262.5" fill="none" stroke="#8d9c9a" stroke-width="0.9" opacity="0.72"/>
<polyline points="378.6,244.5 380.3,246.0 381.9,247.5 383.2,249.0 384.2,250.5 385.0,252.0 385.5,253.5 385.7,255.0 385.8,256.5 385.7,258.0 385.5,259.5 385.2,261.0 384.9,262.5" fill="none" stroke="#8d9c9a" stroke-width="0.9" opacity="0.63"/>
<polyline points="380.9,244.5 382.6,246.0 384.2,247.5 385.5,249.0 386.5,250.5 387.3,252.0 387.8,253.5 388.0,255.0 388.1,256.5 388.0,258.0 387.8,259.5 387.5,261.0 387.2,262.5" fill="none" stroke="#8d9c9a" stroke-width="0.9" opacity="0.71"/>
<polyline points="383.2,244.5 384.9,246.0 386.5,247.5 387.8,249.0 388.8,250.5 389.6,252.0 390.1,253.5 390.3,255.0 390.4,256.5 390.3,258.0 390.1,259.5 389.8,261.0 389.5,262.5" fill="none" stroke="#8d9c9a" stroke-width="0.9" opacity="0.55"/>
<polyline points="329.9,263.9 328.2,265.4 326.6,266.9 325.3,268.4 324.3,269.9 323.5,271.4 323.0,272.9 322.7,274.4 322.6,275.9 322.7,277.4 322.9,278.9 323.2,280.4 323.5,281.9" fill="none" stroke="#8d9c9a" stroke-width="0.9" opacity="0.74"/>
<polyline points="332.2,263.9 330.5,265.4 328.9,266.9 327.6,268.4 326.6,269.9 325.8,271.4 325.3,272.9 325.0,274.4 324.9,275.9 325.0,277.4 325.2,278.9 325.5,280.4 325.8,281.9" fill="none" stroke="#8d9c9a" stroke-width="0.9" opacity="0.62"/>
<polyline points="334.5,263.9 332.8,265.4 331.2,266.9 329.9,268.4 328.9,269.9 328.1,271.4 327.6,272.9 327.3,274.4 327.2,275.9 327.3,277.4 327.5,278.9 327.8,280.4 328.1,281.9" fill="none" stroke="#8d9c9a" stroke-width="0.9" opacity="0.92"/>
<polyline points="336.8,263.9 335.1,265.4 333.5,266.9 332.2,268.4 331.2,269.9 330.4,271.4 329.9,272.9 329.6,274.4 329.5,275.9 329.6,277.4 329.8,278.9 330.1,280.4 330.4,281.9" fill="none" stroke="#8d9c9a" stroke-width="0.9" opacity="0.85"/>
<polyline points="339.1,263.9 337.4,265.4 335.8,266.9 334.5,268.4 333.5,269.9 332.7,271.4 332.2,272.9 331.9,274.4 331.8,275.9 331.9,277.4 332.1,278.9 332.4,280.4 332.7,281.9" fill="none" stroke="#8d9c9a" stroke-width="0.9" opacity="0.61"/>
<polyline points="169.9,218.4 171.5,219.9 172.8,221.4 173.9,222.9 174.8,224.4 175.4,225.9 175.7,227.4 175.8,228.9 175.8,230.4 175.6,231.9 175.3,233.4 175.1,234.9 174.9,236.4 174.8,237.9 174.8,239.4 175.1,240.9 175.6,242.4 176.4,243.9 177.4,245.4 178.7,246.9" fill="none" stroke="#8d9c9a" stroke-width="0.9" opacity="0.73"/>
<polyline points="172.2,218.4 173.8,219.9 175.1,221.4 176.2,222.9 177.1,224.4 177.7,225.9 178.0,227.4 178.1,228.9 178.1,230.4 177.9,231.9 177.6,233.4 177.4,234.9 177.2,236.4 177.1,237.9 177.1,239.4 177.4,240.9 177.9,242.4 178.7,243.9 179.7,245.4 181.0,246.9" fill="none" stroke="#8d9c9a" stroke-width="0.9" opacity="0.89"/>
<polyline points="174.5,218.4 176.1,219.9 177.4,221.4 178.5,222.9 179.4,224.4 180.0,225.9 180.3,227.4 180.4,228.9 180.4,230.4 180.2,231.9 179.9,233.4 179.7,234.9 179.5,236.4 179.4,237.9 179.4,239.4 179.7,240.9 180.2,242.4 181.0,243.9 182.0,245.4 183.3,246.9" fill="none" stroke="#8d9c9a" stroke-width="0.9" opacity="0.90"/>
<polyline points="176.8,218.4 178.4,219.9 179.7,221.4 180.8,222.9 181.7,224.4 182.3,225.9 182.6,227.4 182.7,228.9 182.7,230.4 182.5,231.9 182.2,233.4 182.0,234.9 181.8,236.4 181.7,237.9 181.7,239.4 182.0,240.9 182.5,242.4 183.3,243.9 184.3,245.4 185.6,246.9" fill="none" stroke="#8d9c9a" stroke-width="0.9" opacity="0.90"/>
<polyline points="179.1,218.4 180.7,219.9 182.0,221.4 183.1,222.9 184.0,224.4 184.6,225.9 184.9,227.4 185.0,228.9 185.0,230.4 184.8,231.9 184.5,233.4 184.3,234.9 184.1,236.4 184.0,237.9 184.0,239.4 184.3,240.9 184.8,242.4 185.6,243.9 186.6,245.4 187.9,246.9" fill="none" stroke="#8d9c9a" stroke-width="0.9" opacity="0.51"/>
<polyline points="181.4,218.4 183.0,219.9 184.3,221.4 185.4,222.9 186.3,224.4 186.9,225.9 187.2,227.4 187.3,228.9 187.3,230.4 187.1,231.9 186.8,233.4 186.6,234.9 186.4,236.4 186.3,237.9 186.3,239.4 186.6,240.9 187.1,242.4 187.9,243.9 188.9,245.4 190.2,246.9" fill="none" stroke="#8d9c9a" stroke-width="0.9" opacity="0.56"/>
<polyline points="187.8,297.8 188.0,299.3 187.9,300.8 187.5,302.3 186.9,303.8 186.1,305.3 185.0,306.8 183.8,308.3 182.4,309.8 181.0,311.3 179.7,312.8 178.3,314.3 177.1,315.8 176.1,317.3 175.3,318.8 174.7,320.3" fill="none" stroke="#8d9c9a" stroke-width="0.9" opacity="0.84"/>
<polyline points="190.1,297.8 190.3,299.3 190.2,300.8 189.8,302.3 189.2,303.8 188.4,305.3 187.3,306.8 186.1,308.3 184.7,309.8 183.3,311.3 182.0,312.8 180.6,314.3 179.4,315.8 178.4,317.3 177.6,318.8 177.0,320.3" fill="none" stroke="#8d9c9a" stroke-width="0.9" opacity="0.77"/>
<polyline points="192.4,297.8 192.6,299.3 192.5,300.8 192.1,302.3 191.5,303.8 190.7,305.3 189.6,306.8 188.4,308.3 187.0,309.8 185.6,311.3 184.3,312.8 182.9,314.3 181.7,315.8 180.7,317.3 179.9,318.8 179.3,320.3" fill="none" stroke="#8d9c9a" stroke-width="0.9" opacity="0.52"/>
<polyline points="194.7,297.8 194.9,299.3 194.8,300.8 194.4,302.3 193.8,303.8 193.0,305.3 191.9,306.8 190.7,308.3 189.3,309.8 187.9,311.3 186.6,312.8 185.2,314.3 184.0,315.8 183.0,317.3 182.2,318.8 181.6,320.3" fill="none" stroke="#8d9c9a" stroke-width="0.9" opacity="0.61"/>
<polyline points="246.8,324.4 246.9,325.9 247.2,327.4 247.8,328.9 248.6,330.4 249.7,331.9 251.0,333.4 252.5,334.9 254.1,336.4 255.7,337.9 257.4,339.4 258.9,340.9 260.4,342.4 261.7,343.9 262.8,345.4 263.6,346.9 264.2,348.4 264.5,349.9 264.6,351.4" fill="none" stroke="#8d9c9a" stroke-width="0.9" opacity="0.69"/>
<polyline points="249.1,324.4 249.2,325.9 249.5,327.4 250.1,328.9 250.9,330.4 252.0,331.9 253.3,333.4 254.8,334.9 256.4,336.4 258.0,337.9 259.7,339.4 261.2,340.9 262.7,342.4 264.0,343.9 265.1,345.4 265.9,346.9 266.5,348.4 266.8,349.9 266.9,351.4" fill="none" stroke="#8d9c9a" stroke-width="0.9" opacity="0.76"/>
<polyline points="251.4,324.4 251.5,325.9 251.8,327.4 252.4,328.9 253.2,330.4 254.3,331.9 255.6,333.4 257.1,334.9 258.7,336.4 260.3,337.9 262.0,339.4 263.5,340.9 265.0,342.4 266.3,343.9 267.4,345.4 268.2,346.9 268.8,348.4 269.1,349.9 269.2,351.4" fill="none" stroke="#8d9c9a" stroke-width="0.9" opacity="0.82"/>
<polyline points="253.7,324.4 253.8,325.9 254.1,327.4 254.7,328.9 255.5,330.4 256.6,331.9 257.9,333.4 259.4,334.9 261.0,336.4 262.6,337.9 264.3,339.4 265.8,340.9 267.3,342.4 268.6,343.9 269.7,345.4 270.5,346.9 271.1,348.4 271.4,349.9 271.5,351.4" fill="none" stroke="#8d9c9a" stroke-width="0.9" opacity="0.78"/>
<polyline points="256.0,324.4 256.1,325.9 256.4,327.4 257.0,328.9 257.8,330.4 258.9,331.9 260.2,333.4 261.7,334.9 263.3,336.4 264.9,337.9 266.6,339.4 268.1,340.9 269.6,342.4 270.9,343.9 272.0,345.4 272.8,346.9 273.4,348.4 273.7,349.9 273.8,351.4" fill="none" stroke="#8d9c9a" stroke-width="0.9" opacity="0.72"/>
<polyline points="448.4,255.1 447.8,256.6 447.4,258.1 447.3,259.6 447.4,261.1 447.8,262.6 448.5,264.1 449.3,265.6 450.2,267.1 451.3,268.6 452.4,270.1 453.4,271.6 454.4,273.1 455.2,274.6" fill="none" stroke="#8d9c9a" stroke-width="0.9" opacity="0.84"/>
<polyline points="450.7,255.1 450.1,256.6 449.7,258.1 449.6,259.6 449.7,261.1 450.1,262.6 450.8,264.1 451.6,265.6 452.5,267.1 453.6,268.6 454.7,270.1 455.7,271.6 456.7,273.1 457.5,274.6" fill="none" stroke="#8d9c9a" stroke-width="0.9" opacity="0.64"/>
<polyline points="453.0,255.1 452.4,256.6 452.0,258.1 451.9,259.6 452.0,261.1 452.4,262.6 453.1,264.1 453.9,265.6 454.8,267.1 455.9,268.6 457.0,270.1 458.0,271.6 459.0,273.1 459.8,274.6" fill="none" stroke="#8d9c9a" stroke-width="0.9" opacity="0.50"/>
<polyline points="455.3,255.1 454.7,256.6 454.3,258.1 454.2,259.6 454.3,261.1 454.7,262.6 455.4,264.1 456.2,265.6 457.1,267.1 458.2,268.6 459.3,270.1 460.3,271.6 461.3,273.1 462.1,274.6" fill="none" stroke="#8d9c9a" stroke-width="0.9" opacity="0.85"/>
<polyline points="457.6,255.1 457.0,256.6 456.6,258.1 456.5,259.6 456.6,261.1 457.0,262.6 457.7,264.1 458.5,265.6 459.4,267.1 460.5,268.6 461.6,270.1 462.6,271.6 463.6,273.1 464.4,274.6" fill="none" stroke="#8d9c9a" stroke-width="0.9" opacity="0.76"/>
<polyline points="343.2,267.7 343.2,269.2 343.0,270.7 342.4,272.2 341.7,273.7 340.8,275.2 339.8,276.7 338.8,278.2 337.7,279.7 336.7,281.2 335.9,282.7 335.2,284.2 334.7,285.7" fill="none" stroke="#8d9c9a" stroke-width="0.9" opacity="0.72"/>
<polyline points="345.5,267.7 345.5,269.2 345.3,270.7 344.7,272.2 344.0,273.7 343.1,275.2 342.1,276.7 341.1,278.2 340.0,279.7 339.0,281.2 338.2,282.7 337.5,284.2 337.0,285.7" fill="none" stroke="#8d9c9a" stroke-width="0.9" opacity="0.65"/>
<polyline points="347.8,267.7 347.8,269.2 347.6,270.7 347.0,272.2 346.3,273.7 345.4,275.2 344.4,276.7 343.4,278.2 342.3,279.7 341.3,281.2 340.5,282.7 339.8,284.2 339.3,285.7" fill="none" stroke="#8d9c9a" stroke-width="0.9" opacity="0.57"/>
<polyline points="350.1,267.7 350.1,269.2 349.9,270.7 349.3,272.2 348.6,273.7 347.7,275.2 346.7,276.7 345.7,278.2 344.6,279.7 343.6,281.2 342.8,282.7 342.1,284.2 341.6,285.7" fill="none" stroke="#8d9c9a" stroke-width="0.9" opacity="0.76"/>
<polyline points="352.4,267.7 352.4,269.2 352.2,270.7 351.6,272.2 350.9,273.7 350.0,275.2 349.0,276.7 348.0,278.2 346.9,279.7 345.9,281.2 345.1,282.7 344.4,284.2 343.9,285.7" fill="none" stroke="#8d9c9a" stroke-width="0.9" opacity="0.87"/>
<polyline points="101.5,230.2 100.0,231.7 98.2,233.2 96.4,234.7 94.4,236.2 92.4,237.7 90.4,239.2 88.5,240.7 86.8,242.2 85.2,243.7 83.9,245.2 82.8,246.7 81.9,248.2 81.4,249.7 81.1,251.2 81.0,252.7 81.0,254.2 81.2,255.7 81.5,257.2" fill="none" stroke="#8d9c9a" stroke-width="0.9" opacity="0.83"/>
<polyline points="103.8,230.2 102.3,231.7 100.5,233.2 98.7,234.7 96.7,236.2 94.7,237.7 92.7,239.2 90.8,240.7 89.1,242.2 87.5,243.7 86.2,245.2 85.1,246.7 84.2,248.2 83.7,249.7 83.4,251.2 83.3,252.7 83.3,254.2 83.5,255.7 83.8,257.2" fill="none" stroke="#8d9c9a" stroke-width="0.9" opacity="0.94"/>
<polyline points="106.1,230.2 104.6,231.7 102.8,233.2 101.0,234.7 99.0,236.2 97.0,237.7 95.0,239.2 93.1,240.7 91.4,242.2 89.8,243.7 88.5,245.2 87.4,246.7 86.5,248.2 86.0,249.7 85.7,251.2 85.6,252.7 85.6,254.2 85.8,255.7 86.1,257.2" fill="none" stroke="#8d9c9a" stroke-width="0.9" opacity="0.95"/>
<polyline points="108.4,230.2 106.9,231.7 105.1,233.2 103.3,234.7 101.3,236.2 99.3,237.7 97.3,239.2 95.4,240.7 93.7,242.2 92.1,243.7 90.8,245.2 89.7,246.7 88.8,248.2 88.3,249.7 88.0,251.2 87.9,252.7 87.9,254.2 88.1,255.7 88.4,257.2" fill="none" stroke="#8d9c9a" stroke-width="0.9" opacity="0.82"/>
<polyline points="84.9,319.5 83.1,321.0 81.4,322.5 79.8,324.0 78.3,325.5 77.0,327.0 76.0,328.5 75.3,330.0 74.8,331.5 74.5,333.0 74.5,334.5 74.7,336.0" fill="none" stroke="#8d9c9a" stroke-width="0.9" opacity="0.63"/>
<polyline points="87.2,319.5 85.4,321.0 83.7,322.5 82.1,324.0 80.6,325.5 79.3,327.0 78.3,328.5 77.6,330.0 77.1,331.5 76.8,333.0 76.8,334.5 77.0,336.0" fill="none" stroke="#8d9c9a" stroke-width="0.9" opacity="0.91"/>
<polyline points="89.5,319.5 87.7,321.0 86.0,322.5 84.4,324.0 82.9,325.5 81.6,327.0 80.6,328.5 79.9,330.0 79.4,331.5 79.1,333.0 79.1,334.5 79.3,336.0" fill="none" stroke="#8d9c9a" stroke-width="0.9" opacity="0.57"/>
<polyline points="91.8,319.5 90.0,321.0 88.3,322.5 86.7,324.0 85.2,325.5 83.9,327.0 82.9,328.5 82.2,330.0 81.7,331.5 81.4,333.0 81.4,334.5 81.6,336.0" fill="none" stroke="#8d9c9a" stroke-width="0.9" opacity="0.77"/>
<polyline points="240.7,222.3 240.7,223.8 240.6,225.3 240.2,226.8 239.6,228.3 238.8,229.8 238.0,231.3 237.1,232.8 236.3,234.3 235.5,235.8 234.9,237.3 234.5,238.8 234.4,240.3 234.4,241.8 234.8,243.3 235.4,244.8" fill="none" stroke="#8d9c9a" stroke-width="0.9" opacity="0.84"/>
<polyline points="243.0,222.3 243.0,223.8 242.9,225.3 242.5,226.8 241.9,228.3 241.1,229.8 240.3,231.3 239.4,232.8 238.6,234.3 237.8,235.8 237.2,237.3 236.8,238.8 236.7,240.3 236.7,241.8 237.1,243.3 237.7,244.8" fill="none" stroke="#8d9c9a" stroke-width="0.9" opacity="0.63"/>
<polyline points="245.3,222.3 245.3,223.8 245.2,225.3 244.8,226.8 244.2,228.3 243.4,229.8 242.6,231.3 241.7,232.8 240.9,234.3 240.1,235.8 239.5,237.3 239.1,238.8 239.0,240.3 239.0,241.8 239.4,243.3 240.0,244.8" fill="none" stroke="#8d9c9a" stroke-width="0.9" opacity="0.76"/>
<polyline points="247.6,222.3 247.6,223.8 247.5,225.3 247.1,226.8 246.5,228.3 245.7,229.8 244.9,231.3 244.0,232.8 243.2,234.3 242.4,235.8 241.8,237.3 241.4,238.8 241.3,240.3 241.3,241.8 241.7,243.3 242.3,244.8" fill="none" stroke="#8d9c9a" stroke-width="0.9" opacity="0.55"/>
<polyline points="234.4,291.0 235.2,292.5 235.8,294.0 236.1,295.5 236.1,297.0 235.9,298.5 235.4,300.0 234.8,301.5 233.9,303.0 233.0,304.5" fill="none" stroke="#8d9c9a" stroke-width="0.9" opacity="0.72"/>
<polyline points="236.7,291.0 237.5,292.5 238.1,294.0 238.4,295.5 238.4,297.0 238.2,298.5 237.7,300.0 237.1,301.5 236.2,303.0 235.3,304.5" fill="none" stroke="#8d9c9a" stroke-width="0.9" opacity="0.92"/>
<polyline points="239.0,291.0 239.8,292.5 240.4,294.0 240.7,295.5 240.7,297.0 240.5,298.5 240.0,300.0 239.4,301.5 238.5,303.0 237.6,304.5" fill="none" stroke="#8d9c9a" stroke-width="0.9" opacity="0.67"/>
<polyline points="241.3,291.0 242.1,292.5 242.7,294.0 243.0,295.5 243.0,297.0 242.8,298.5 242.3,300.0 241.7,301.5 240.8,303.0 239.9,304.5" fill="none" stroke="#8d9c9a" stroke-width="0.9" opacity="0.53"/>
<polyline points="355.7,220.8 355.1,222.3 354.6,223.8 354.4,225.3 354.5,226.8 354.8,228.3 355.3,229.8 356.1,231.3 357.1,232.8 358.3,234.3 359.5,235.8 360.7,237.3 361.9,238.8 363.1,240.3 364.1,241.8 364.8,243.3 365.4,244.8" fill="none" stroke="#8d9c9a" stroke-width="0.9" opacity="0.78"/>
<polyline points="358.0,220.8 357.4,222.3 356.9,223.8 356.7,225.3 356.8,226.8 357.1,228.3 357.6,229.8 358.4,231.3 359.4,232.8 360.6,234.3 361.8,235.8 363.0,237.3 364.2,238.8 365.4,240.3 366.4,241.8 367.1,243.3 367.7,244.8" fill="none" stroke="#8d9c9a" stroke-width="0.9" opacity="0.62"/>
<polyline points="360.3,220.8 359.7,222.3 359.2,223.8 359.0,225.3 359.1,226.8 359.4,228.3 359.9,229.8 360.7,231.3 361.7,232.8 362.9,234.3 364.1,235.8 365.3,237.3 366.5,238.8 367.7,240.3 368.7,241.8 369.4,243.3 370.0,244.8" fill="none" stroke="#8d9c9a" stroke-width="0.9" opacity="0.75"/>
<polyline points="362.6,220.8 362.0,222.3 361.5,223.8 361.3,225.3 361.4,226.8 361.7,228.3 362.2,229.8 363.0,231.3 364.0,232.8 365.2,234.3 366.4,235.8 367.6,237.3 368.8,238.8 370.0,240.3 371.0,241.8 371.7,243.3 372.3,244.8" fill="none" stroke="#8d9c9a" stroke-width="0.9" opacity="0.61"/>
<polyline points="364.9,220.8 364.3,222.3 363.8,223.8 363.6,225.3 363.7,226.8 364.0,228.3 364.5,229.8 365.3,231.3 366.3,232.8 367.5,234.3 368.7,235.8 369.9,237.3 371.1,238.8 372.3,240.3 373.3,241.8 374.0,243.3 374.6,244.8" fill="none" stroke="#8d9c9a" stroke-width="0.9" opacity="0.84"/>
<polyline points="367.2,220.8 366.6,222.3 366.1,223.8 365.9,225.3 366.0,226.8 366.3,228.3 366.8,229.8 367.6,231.3 368.6,232.8 369.8,234.3 371.0,235.8 372.2,237.3 373.4,238.8 374.6,240.3 375.6,241.8 376.3,243.3 376.9,244.8" fill="none" stroke="#8d9c9a" stroke-width="0.9" opacity="0.73"/>
<polyline points="113.0,234.4 114.5,235.9 116.0,237.4 117.5,238.9 119.0,240.4 120.3,241.9 121.4,243.4 122.3,244.9 123.0,246.4 123.4,247.9 123.5,249.4 123.4,250.9 123.1,252.4 122.6,253.9" fill="none" stroke="#8d9c9a" stroke-width="0.9" opacity="0.79"/>
<polyline points="115.3,234.4 116.8,235.9 118.3,237.4 119.8,238.9 121.3,240.4 122.6,241.9 123.7,243.4 124.6,244.9 125.3,246.4 125.7,247.9 125.8,249.4 125.7,250.9 125.4,252.4 124.9,253.9" fill="none" stroke="#8d9c9a" stroke-width="0.9" opacity="0.54"/>
<polyline points="117.6,234.4 119.1,235.9 120.6,237.4 122.1,238.9 123.6,240.4 124.9,241.9 126.0,243.4 126.9,244.9 127.6,246.4 128.0,247.9 128.1,249.4 128.0,250.9 127.7,252.4 127.2,253.9" fill="none" stroke="#8d9c9a" stroke-width="0.9" opacity="0.80"/>
<polyline points="119.9,234.4 121.4,235.9 122.9,237.4 124.4,238.9 125.9,240.4 127.2,241.9 128.3,243.4 129.2,244.9 129.9,246.4 130.3,247.9 130.4,249.4 130.3,250.9 130.0,252.4 129.5,253.9" fill="none" stroke="#8d9c9a" stroke-width="0.9" opacity="0.54"/>
<polyline points="122.2,234.4 123.7,235.9 125.2,237.4 126.7,238.9 128.2,240.4 129.5,241.9 130.6,243.4 131.5,244.9 132.2,246.4 132.6,247.9 132.7,249.4 132.6,250.9 132.3,252.4 131.8,253.9" fill="none" stroke="#8d9c9a" stroke-width="0.9" opacity="0.56"/>
<polyline points="124.5,234.4 126.0,235.9 127.5,237.4 129.0,238.9 130.5,240.4 131.8,241.9 132.9,243.4 133.8,244.9 134.5,246.4 134.9,247.9 135.0,249.4 134.9,250.9 134.6,252.4 134.1,253.9" fill="none" stroke="#8d9c9a" stroke-width="0.9" opacity="0.77"/>
<polyline points="126.8,234.4 128.3,235.9 129.8,237.4 131.3,238.9 132.8,240.4 134.1,241.9 135.2,243.4 136.1,244.9 136.8,246.4 137.2,247.9 137.3,249.4 137.2,250.9 136.9,252.4 136.4,253.9" fill="none" stroke="#8d9c9a" stroke-width="0.9" opacity="0.61"/>
<polyline points="443.1,268.7 442.4,270.2 441.4,271.7 440.3,273.2 439.0,274.7 437.7,276.2 436.3,277.7 435.0,279.2 433.8,280.7 432.7,282.2 431.9,283.7 431.3,285.2 430.9,286.7" fill="none" stroke="#8d9c9a" stroke-width="0.9" opacity="0.88"/>
<polyline points="445.4,268.7 444.7,270.2 443.7,271.7 442.6,273.2 441.3,274.7 440.0,276.2 438.6,277.7 437.3,279.2 436.1,280.7 435.0,282.2 434.2,283.7 433.6,285.2 433.2,286.7" fill="none" stroke="#8d9c9a" stroke-width="0.9" opacity="0.93"/>
<polyline points="447.7,268.7 447.0,270.2 446.0,271.7 444.9,273.2 443.6,274.7 442.3,276.2 440.9,277.7 439.6,279.2 438.4,280.7 437.3,282.2 436.5,283.7 435.9,285.2 435.5,286.7" fill="none" stroke="#8d9c9a" stroke-width="0.9" opacity="0.69"/>
<polyline points="450.0,268.7 449.3,270.2 448.3,271.7 447.2,273.2 445.9,274.7 444.6,276.2 443.2,277.7 441.9,279.2 440.7,280.7 439.6,282.2 438.8,283.7 438.2,285.2 437.8,286.7" fill="none" stroke="#8d9c9a" stroke-width="0.9" opacity="0.86"/>
<polyline points="389.4,209.3 387.6,210.8 385.9,212.3 384.1,213.8 382.6,215.3 381.2,216.8 380.0,218.3 379.0,219.8 378.3,221.3 377.9,222.8 377.8,224.3 377.8,225.8 378.1,227.3 378.5,228.8 378.9,230.3 379.4,231.8 379.9,233.3 380.3,234.8 380.5,236.3 380.5,237.8" fill="none" stroke="#8d9c9a" stroke-width="0.9" opacity="0.78"/>
<polyline points="391.7,209.3 389.9,210.8 388.2,212.3 386.4,213.8 384.9,215.3 383.5,216.8 382.3,218.3 381.3,219.8 380.6,221.3 380.2,222.8 380.1,224.3 380.1,225.8 380.4,227.3 380.8,228.8 381.2,230.3 381.7,231.8 382.2,233.3 382.6,234.8 382.8,236.3 382.8,237.8" fill="none" stroke="#8d9c9a" stroke-width="0.9" opacity="0.66"/>
<polyline points="394.0,209.3 392.2,210.8 390.5,212.3 388.7,213.8 387.2,215.3 385.8,216.8 384.6,218.3 383.6,219.8 382.9,221.3 382.5,222.8 382.4,224.3 382.4,225.8 382.7,227.3 383.1,228.8 383.5,230.3 384.0,231.8 384.5,233.3 384.9,234.8 385.1,236.3 385.1,237.8" fill="none" stroke="#8d9c9a" stroke-width="0.9" opacity="0.61"/>
<polyline points="396.3,209.3 394.5,210.8 392.8,212.3 391.0,213.8 389.5,215.3 388.1,216.8 386.9,218.3 385.9,219.8 385.2,221.3 384.8,222.8 384.7,224.3 384.7,225.8 385.0,227.3 385.4,228.8 385.8,230.3 386.3,231.8 386.8,233.3 387.2,234.8 387.4,236.3 387.4,237.8" fill="none" stroke="#8d9c9a" stroke-width="0.9" opacity="0.65"/>
<polyline points="398.6,209.3 396.8,210.8 395.1,212.3 393.3,213.8 391.8,215.3 390.4,216.8 389.2,218.3 388.2,219.8 387.5,221.3 387.1,222.8 387.0,224.3 387.0,225.8 387.3,227.3 387.7,228.8 388.1,230.3 388.6,231.8 389.1,233.3 389.5,234.8 389.7,236.3 389.7,237.8" fill="none" stroke="#8d9c9a" stroke-width="0.9" opacity="0.78"/>
<polyline points="400.9,209.3 399.1,210.8 397.4,212.3 395.6,213.8 394.1,215.3 392.7,216.8 391.5,218.3 390.5,219.8 389.8,221.3 389.4,222.8 389.3,224.3 389.3,225.8 389.6,227.3 390.0,228.8 390.4,230.3 390.9,231.8 391.4,233.3 391.8,234.8 392.0,236.3 392.0,237.8" fill="none" stroke="#8d9c9a" stroke-width="0.9" opacity="0.66"/>
<polyline points="403.2,209.3 401.4,210.8 399.7,212.3 397.9,213.8 396.4,215.3 395.0,216.8 393.8,218.3 392.8,219.8 392.1,221.3 391.7,222.8 391.6,224.3 391.6,225.8 391.9,227.3 392.3,228.8 392.7,230.3 393.2,231.8 393.7,233.3 394.1,234.8 394.3,236.3 394.3,237.8" fill="none" stroke="#8d9c9a" stroke-width="0.9" opacity="0.67"/>
<polyline points="116.4,314.5 115.7,316.0 115.2,317.5 115.0,319.0 115.0,320.5 115.3,322.0 115.8,323.5 116.5,325.0 117.3,326.5 118.2,328.0 119.1,329.5 120.0,331.0 120.7,332.5 121.3,334.0 121.7,335.5 121.8,337.0 121.7,338.5" fill="none" stroke="#8d9c9a" stroke-width="0.9" opacity="0.52"/>
<polyline points="118.7,314.5 118.0,316.0 117.5,317.5 117.3,319.0 117.3,320.5 117.6,322.0 118.1,323.5 118.8,325.0 119.6,326.5 120.5,328.0 121.4,329.5 122.3,331.0 123.0,332.5 123.6,334.0 124.0,335.5 124.1,337.0 124.0,338.5" fill="none" stroke="#8d9c9a" stroke-width="0.9" opacity="0.95"/>
<polyline points="121.0,314.5 120.3,316.0 119.8,317.5 119.6,319.0 119.6,320.5 119.9,322.0 120.4,323.5 121.1,325.0 121.9,326.5 122.8,328.0 123.7,329.5 124.6,331.0 125.3,332.5 125.9,334.0 126.3,335.5 126.4,337.0 126.3,338.5" fill="none" stroke="#8d9c9a" stroke-width="0.9" opacity="0.60"/>
<polyline points="123.3,314.5 122.6,316.0 122.1,317.5 121.9,319.0 121.9,320.5 122.2,322.0 122.7,323.5 123.4,325.0 124.2,326.5 125.1,328.0 126.0,329.5 126.9,331.0 127.6,332.5 128.2,334.0 128.6,335.5 128.7,337.0 128.6,338.5" fill="none" stroke="#8d9c9a" stroke-width="0.9" opacity="0.58"/>
<polyline points="125.6,314.5 124.9,316.0 124.4,317.5 124.2,319.0 124.2,320.5 124.5,322.0 125.0,323.5 125.7,325.0 126.5,326.5 127.4,328.0 128.3,329.5 129.2,331.0 129.9,332.5 130.5,334.0 130.9,335.5 131.0,337.0 130.9,338.5" fill="none" stroke="#8d9c9a" stroke-width="0.9" opacity="0.53"/>
<polyline points="127.9,314.5 127.2,316.0 126.7,317.5 126.5,319.0 126.5,320.5 126.8,322.0 127.3,323.5 128.0,325.0 128.8,326.5 129.7,328.0 130.6,329.5 131.5,331.0 132.2,332.5 132.8,334.0 133.2,335.5 133.3,337.0 133.2,338.5" fill="none" stroke="#8d9c9a" stroke-width="0.9" opacity="0.52"/>
<polyline points="130.2,314.5 129.5,316.0 129.0,317.5 128.8,319.0 128.8,320.5 129.1,322.0 129.6,323.5 130.3,325.0 131.1,326.5 132.0,328.0 132.9,329.5 133.8,331.0 134.5,332.5 135.1,334.0 135.5,335.5 135.6,337.0 135.5,338.5" fill="none" stroke="#8d9c9a" stroke-width="0.9" opacity="0.58"/>
<polyline points="140.7,265.1 140.0,266.6 139.6,268.1 139.5,269.6 139.6,271.1 140.0,272.6 140.6,274.1 141.4,275.6 142.3,277.1 143.4,278.6 144.5,280.1 145.6,281.6 146.6,283.1 147.4,284.6 148.1,286.1 148.5,287.6 148.7,289.1 148.7,290.6 148.3,292.1 147.8,293.6" fill="none" stroke="#8d9c9a" stroke-width="0.9" opacity="0.90"/>
<polyline points="143.0,265.1 142.3,266.6 141.9,268.1 141.8,269.6 141.9,271.1 142.3,272.6 142.9,274.1 143.7,275.6 144.6,277.1 145.7,278.6 146.8,280.1 147.9,281.6 148.9,283.1 149.7,284.6 150.4,286.1 150.8,287.6 151.0,289.1 151.0,290.6 150.6,292.1 150.1,293.6" fill="none" stroke="#8d9c9a" stroke-width="0.9" opacity="0.78"/>
<polyline points="145.3,265.1 144.6,266.6 144.2,268.1 144.1,269.6 144.2,271.1 144.6,272.6 145.2,274.1 146.0,275.6 146.9,277.1 148.0,278.6 149.1,280.1 150.2,281.6 151.2,283.1 152.0,284.6 152.7,286.1 153.1,287.6 153.3,289.1 153.3,290.6 152.9,292.1 152.4,293.6" fill="none" stroke="#8d9c9a" stroke-width="0.9" opacity="0.69"/>
<polyline points="147.6,265.1 146.9,266.6 146.5,268.1 146.4,269.6 146.5,271.1 146.9,272.6 147.5,274.1 148.3,275.6 149.2,277.1 150.3,278.6 151.4,280.1 152.5,281.6 153.5,283.1 154.3,284.6 155.0,286.1 155.4,287.6 155.6,289.1 155.6,290.6 155.2,292.1 154.7,293.6" fill="none" stroke="#8d9c9a" stroke-width="0.9" opacity="0.71"/>
<polyline points="149.9,265.1 149.2,266.6 148.8,268.1 148.7,269.6 148.8,271.1 149.2,272.6 149.8,274.1 150.6,275.6 151.5,277.1 152.6,278.6 153.7,280.1 154.8,281.6 155.8,283.1 156.6,284.6 157.3,286.1 157.7,287.6 157.9,289.1 157.9,290.6 157.5,292.1 157.0,293.6" fill="none" stroke="#8d9c9a" stroke-width="0.9" opacity="0.54"/>
<polyline points="152.2,265.1 151.5,266.6 151.1,268.1 151.0,269.6 151.1,271.1 151.5,272.6 152.1,274.1 152.9,275.6 153.8,277.1 154.9,278.6 156.0,280.1 157.1,281.6 158.1,283.1 158.9,284.6 159.6,286.1 160.0,287.6 160.2,289.1 160.2,290.6 159.8,292.1 159.3,293.6" fill="none" stroke="#8d9c9a" stroke-width="0.9" opacity="0.57"/>
<polyline points="128.6,253.6 129.1,255.1 129.8,256.6 130.5,258.1 131.2,259.6 131.8,261.1 132.3,262.6 132.5,264.1 132.6,265.6 132.4,267.1 131.9,268.6 131.2,270.1 130.2,271.6 129.0,273.1" fill="none" stroke="#8d9c9a" stroke-width="0.9" opacity="0.62"/>
<polyline points="130.9,253.6 131.4,255.1 132.1,256.6 132.8,258.1 133.5,259.6 134.1,261.1 134.6,262.6 134.8,264.1 134.9,265.6 134.7,267.1 134.2,268.6 133.5,270.1 132.5,271.6 131.3,273.1" fill="none" stroke="#8d9c9a" stroke-width="0.9" opacity="0.57"/>
<polyline points="133.2,253.6 133.7,255.1 134.4,256.6 135.1,258.1 135.8,259.6 136.4,261.1 136.9,262.6 137.1,264.1 137.2,265.6 137.0,267.1 136.5,268.6 135.8,270.1 134.8,271.6 133.6,273.1" fill="none" stroke="#8d9c9a" stroke-width="0.9" opacity="0.63"/>
<polyline points="135.5,253.6 136.0,255.1 136.7,256.6 137.4,258.1 138.1,259.6 138.7,261.1 139.2,262.6 139.4,264.1 139.5,265.6 139.3,267.1 138.8,268.6 138.1,270.1 137.1,271.6 135.9,273.1" fill="none" stroke="#8d9c9a" stroke-width="0.9" opacity="0.61"/>
<polyline points="137.8,253.6 138.3,255.1 139.0,256.6 139.7,258.1 140.4,259.6 141.0,261.1 141.5,262.6 141.7,264.1 141.8,265.6 141.6,267.1 141.1,268.6 140.4,270.1 139.4,271.6 138.2,273.1" fill="none" stroke="#8d9c9a" stroke-width="0.9" opacity="0.72"/>
<polyline points="140.1,253.6 140.6,255.1 141.3,256.6 142.0,258.1 142.7,259.6 143.3,261.1 143.8,262.6 144.0,264.1 144.1,265.6 143.9,267.1 143.4,268.6 142.7,270.1 141.7,271.6 140.5,273.1" fill="none" stroke="#8d9c9a" stroke-width="0.9" opacity="0.51"/>
<polyline points="142.4,253.6 142.9,255.1 143.6,256.6 144.3,258.1 145.0,259.6 145.6,261.1 146.1,262.6 146.3,264.1 146.4,265.6 146.2,267.1 145.7,268.6 145.0,270.1 144.0,271.6 142.8,273.1" fill="none" stroke="#8d9c9a" stroke-width="0.9" opacity="0.92"/>
<polyline points="189.6,320.4 191.6,321.3 193.6,320.6 195.6,319.5 197.6,318.6 199.6,317.8 201.6,317.1 203.6,316.5 205.6,315.9 207.6,315.4 209.6,314.8 211.6,314.1 213.6,313.4 215.6,312.5 217.6,311.5 219.6,310.3" fill="none" stroke="#8d9c9a" stroke-width="0.9" opacity="0.69"/>
<polyline points="189.6,322.5 191.6,323.4 193.6,322.7 195.6,321.6 197.6,320.7 199.6,319.9 201.6,319.2 203.6,318.6 205.6,318.0 207.6,317.5 209.6,316.9 211.6,316.2 213.6,315.5 215.6,314.6 217.6,313.6 219.6,312.4" fill="none" stroke="#8d9c9a" stroke-width="0.9" opacity="0.88"/>
<polyline points="189.6,324.6 191.6,325.5 193.6,324.8 195.6,323.7 197.6,322.8 199.6,322.0 201.6,321.3 203.6,320.7 205.6,320.1 207.6,319.6 209.6,319.0 211.6,318.3 213.6,317.6 215.6,316.7 217.6,315.7 219.6,314.5" fill="none" stroke="#8d9c9a" stroke-width="0.9" opacity="0.55"/>
<polyline points="179.4,317.1 181.4,318.9 183.4,320.6 185.4,322.2 187.4,323.6 189.4,324.9 191.4,326.1 193.4,325.5 195.4,324.0 197.4,322.4 199.4,320.7 201.4,319.0 203.4,317.2 205.4,315.4 207.4,313.7 209.4,312.0 211.4,310.5 213.4,309.1 215.4,307.8 217.4,306.7 219.4,305.8 221.4,305.4 223.4,307.0 225.4,308.8 227.4,310.5 229.4,312.3" fill="none" stroke="#8d9c9a" stroke-width="0.9" opacity="0.79"/>
<polyline points="179.4,319.2 181.4,321.0 183.4,322.7 185.4,324.3 187.4,325.7 189.4,327.0 191.4,328.2 193.4,327.6 195.4,326.1 197.4,324.5 199.4,322.8 201.4,321.1 203.4,319.3 205.4,317.5 207.4,315.8 209.4,314.1 211.4,312.6 213.4,311.2 215.4,309.9 217.4,308.8 219.4,307.9 221.4,307.5 223.4,309.1 225.4,310.9 227.4,312.6 229.4,314.4" fill="none" stroke="#8d9c9a" stroke-width="0.9" opacity="0.73"/>
<polyline points="179.4,321.3 181.4,323.1 183.4,324.8 185.4,326.4 187.4,327.8 189.4,329.1 191.4,330.3 193.4,329.7 195.4,328.2 197.4,326.6 199.4,324.9 201.4,323.2 203.4,321.4 205.4,319.6 207.4,317.9 209.4,316.2 211.4,314.7 213.4,313.3 215.4,312.0 217.4,310.9 219.4,310.0 221.4,309.6 223.4,311.2 225.4,313.0 227.4,314.7 229.4,316.5" fill="none" stroke="#8d9c9a" stroke-width="0.9" opacity="0.76"/>
<polyline points="179.4,323.4 181.4,325.2 183.4,326.9 185.4,328.5 187.4,329.9 189.4,331.2 191.4,332.4 193.4,331.8 195.4,330.3 197.4,328.7 199.4,327.0 201.4,325.3 203.4,323.5 205.4,321.7 207.4,320.0 209.4,318.3 211.4,316.8 213.4,315.4 215.4,314.1 217.4,313.0 219.4,312.1 221.4,311.7 223.4,313.3 225.4,315.1 227.4,316.8 229.4,318.6" fill="none" stroke="#8d9c9a" stroke-width="0.9" opacity="0.75"/>
<polyline points="339.0,310.6 341.0,311.6 343.0,312.4 345.0,313.1 347.0,313.8 349.0,314.3 351.0,314.9 353.0,315.4 355.0,316.1 357.0,316.8 359.0,317.6 361.0,318.6 363.0,319.8 365.0,321.0 367.0,321.3 369.0,320.5 371.0,319.9 373.0,319.3" fill="none" stroke="#8d9c9a" stroke-width="0.9" opacity="0.79"/>
<polyline points="339.0,312.7 341.0,313.7 343.0,314.5 345.0,315.2 347.0,315.9 349.0,316.4 351.0,317.0 353.0,317.5 355.0,318.2 357.0,318.9 359.0,319.7 361.0,320.7 363.0,321.9 365.0,323.1 367.0,323.4 369.0,322.6 371.0,322.0 373.0,321.4" fill="none" stroke="#8d9c9a" stroke-width="0.9" opacity="0.79"/>
<polyline points="339.0,314.8 341.0,315.8 343.0,316.6 345.0,317.3 347.0,318.0 349.0,318.5 351.0,319.1 353.0,319.6 355.0,320.3 357.0,321.0 359.0,321.8 361.0,322.8 363.0,324.0 365.0,325.2 367.0,325.5 369.0,324.7 371.0,324.1 373.0,323.5" fill="none" stroke="#8d9c9a" stroke-width="0.9" opacity="0.57"/>
<polyline points="339.0,316.9 341.0,317.9 343.0,318.7 345.0,319.4 347.0,320.1 349.0,320.6 351.0,321.2 353.0,321.7 355.0,322.4 357.0,323.1 359.0,323.9 361.0,324.9 363.0,326.1 365.0,327.3 367.0,327.6 369.0,326.8 371.0,326.2 373.0,325.6" fill="none" stroke="#8d9c9a" stroke-width="0.9" opacity="0.60"/>
<polyline points="339.0,319.0 341.0,320.0 343.0,320.8 345.0,321.5 347.0,322.2 349.0,322.7 351.0,323.3 353.0,323.8 355.0,324.5 357.0,325.2 359.0,326.0 361.0,327.0 363.0,328.2 365.0,329.4 367.0,329.7 369.0,328.9 371.0,328.3 373.0,327.7" fill="none" stroke="#8d9c9a" stroke-width="0.9" opacity="0.77"/>
<polyline points="324.8,203.7 326.8,205.2 328.8,206.7 330.8,208.1 332.8,209.3 334.8,210.5 336.8,211.5 338.8,212.3 340.8,213.0 342.8,213.6 344.8,214.0 346.8,214.3 348.8,213.9 350.8,212.4 352.8,210.9 354.8,209.4 356.8,208.1 358.8,206.9 360.8,205.8 362.8,204.9 364.8,204.1 366.8,203.5" fill="none" stroke="#8d9c9a" stroke-width="0.9" opacity="0.52"/>
<polyline points="324.8,205.8 326.8,207.3 328.8,208.8 330.8,210.2 332.8,211.4 334.8,212.6 336.8,213.6 338.8,214.4 340.8,215.1 342.8,215.7 344.8,216.1 346.8,216.4 348.8,216.0 350.8,214.5 352.8,213.0 354.8,211.5 356.8,210.2 358.8,209.0 360.8,207.9 362.8,207.0 364.8,206.2 366.8,205.6" fill="none" stroke="#8d9c9a" stroke-width="0.9" opacity="0.81"/>
<polyline points="324.8,207.9 326.8,209.4 328.8,210.9 330.8,212.3 332.8,213.5 334.8,214.7 336.8,215.7 338.8,216.5 340.8,217.2 342.8,217.8 344.8,218.2 346.8,218.5 348.8,218.1 350.8,216.6 352.8,215.1 354.8,213.6 356.8,212.3 358.8,211.1 360.8,210.0 362.8,209.1 364.8,208.3 366.8,207.7" fill="none" stroke="#8d9c9a" stroke-width="0.9" opacity="0.66"/>
<polyline points="324.8,210.0 326.8,211.5 328.8,213.0 330.8,214.4 332.8,215.6 334.8,216.8 336.8,217.8 338.8,218.6 340.8,219.3 342.8,219.9 344.8,220.3 346.8,220.6 348.8,220.2 350.8,218.7 352.8,217.2 354.8,215.7 356.8,214.4 358.8,213.2 360.8,212.1 362.8,211.2 364.8,210.4 366.8,209.8" fill="none" stroke="#8d9c9a" stroke-width="0.9" opacity="0.52"/>
<polyline points="324.8,212.1 326.8,213.6 328.8,215.1 330.8,216.5 332.8,217.7 334.8,218.9 336.8,219.9 338.8,220.7 340.8,221.4 342.8,222.0 344.8,222.4 346.8,222.7 348.8,222.3 350.8,220.8 352.8,219.3 354.8,217.8 356.8,216.5 358.8,215.3 360.8,214.2 362.8,213.3 364.8,212.5 366.8,211.9" fill="none" stroke="#8d9c9a" stroke-width="0.9" opacity="0.72"/>
<polyline points="445.2,310.1 447.2,309.5 449.2,308.9 451.2,308.3 453.2,308.0 455.2,309.7 457.2,311.4 459.2,312.9 461.2,314.3 463.2,315.5 465.2,316.5 467.2,317.5 469.2,318.3 471.2,318.9 473.2,319.5 475.2,320.1 477.2,320.6 479.2,321.2 481.2,321.9 483.2,321.2 485.2,319.8 487.2,318.5 489.2,317.3 491.2,316.3 493.2,315.4 495.2,314.7" fill="none" stroke="#8d9c9a" stroke-width="0.9" opacity="0.70"/>
<polyline points="445.2,312.2 447.2,311.6 449.2,311.0 451.2,310.4 453.2,310.1 455.2,311.8 457.2,313.5 459.2,315.0 461.2,316.4 463.2,317.6 465.2,318.6 467.2,319.6 469.2,320.4 471.2,321.0 473.2,321.6 475.2,322.2 477.2,322.7 479.2,323.3 481.2,324.0 483.2,323.3 485.2,321.9 487.2,320.6 489.2,319.4 491.2,318.4 493.2,317.5 495.2,316.8" fill="none" stroke="#8d9c9a" stroke-width="0.9" opacity="0.87"/>
<polyline points="445.2,314.3 447.2,313.7 449.2,313.1 451.2,312.5 453.2,312.2 455.2,313.9 457.2,315.6 459.2,317.1 461.2,318.5 463.2,319.7 465.2,320.7 467.2,321.7 469.2,322.5 471.2,323.1 473.2,323.7 475.2,324.3 477.2,324.8 479.2,325.4 481.2,326.1 483.2,325.4 485.2,324.0 487.2,322.7 489.2,321.5 491.2,320.5 493.2,319.6 495.2,318.9" fill="none" stroke="#8d9c9a" stroke-width="0.9" opacity="0.52"/>
<polyline points="445.2,316.4 447.2,315.8 449.2,315.2 451.2,314.6 453.2,314.3 455.2,316.0 457.2,317.7 459.2,319.2 461.2,320.6 463.2,321.8 465.2,322.8 467.2,323.8 469.2,324.6 471.2,325.2 473.2,325.8 475.2,326.4 477.2,326.9 479.2,327.5 481.2,328.2 483.2,327.5 485.2,326.1 487.2,324.8 489.2,323.6 491.2,322.6 493.2,321.7 495.2,321.0" fill="none" stroke="#8d9c9a" stroke-width="0.9" opacity="0.60"/>
<polyline points="263.9,204.8 265.9,205.6 267.9,206.3 269.9,206.8 271.9,207.2 273.9,207.5 275.9,207.8 277.9,208.1 279.9,208.4 281.9,208.8 283.9,209.2 285.9,209.8 287.9,210.6 289.9,211.5 291.9,210.8 293.9,210.2 295.9,209.8 297.9,209.4 299.9,209.1 301.9,208.8 303.9,208.5 305.9,208.2 307.9,207.8 309.9,207.3 311.9,206.6 313.9,205.8 315.9,204.8" fill="none" stroke="#8d9c9a" stroke-width="0.9" opacity="0.66"/>
<polyline points="263.9,206.9 265.9,207.7 267.9,208.4 269.9,208.9 271.9,209.3 273.9,209.6 275.9,209.9 277.9,210.2 279.9,210.5 281.9,210.9 283.9,211.3 285.9,211.9 287.9,212.7 289.9,213.6 291.9,212.9 293.9,212.3 295.9,211.9 297.9,211.5 299.9,211.2 301.9,210.9 303.9,210.6 305.9,210.3 307.9,209.9 309.9,209.4 311.9,208.7 313.9,207.9 315.9,206.9" fill="none" stroke="#8d9c9a" stroke-width="0.9" opacity="0.62"/>
<polyline points="263.9,209.0 265.9,209.8 267.9,210.5 269.9,211.0 271.9,211.4 273.9,211.7 275.9,212.0 277.9,212.3 279.9,212.6 281.9,213.0 283.9,213.4 285.9,214.0 287.9,214.8 289.9,215.7 291.9,215.0 293.9,214.4 295.9,214.0 297.9,213.6 299.9,213.3 301.9,213.0 303.9,212.7 305.9,212.4 307.9,212.0 309.9,211.5 311.9,210.8 313.9,210.0 315.9,209.0" fill="none" stroke="#8d9c9a" stroke-width="0.9" opacity="0.52"/>
<polyline points="449.6,209.8 451.6,210.9 453.6,211.8 455.6,212.6 457.6,213.2 459.6,213.6 461.6,214.0 463.6,214.3 465.6,213.2 467.6,211.7 469.6,210.2 471.6,208.8 473.6,207.6 475.6,206.4 477.6,205.4 479.6,204.6 481.6,203.9 483.6,203.4" fill="none" stroke="#8d9c9a" stroke-width="0.9" opacity="0.59"/>
<polyline points="449.6,211.9 451.6,213.0 453.6,213.9 455.6,214.7 457.6,215.3 459.6,215.7 461.6,216.1 463.6,216.4 465.6,215.3 467.6,213.8 469.6,212.3 471.6,210.9 473.6,209.7 475.6,208.5 477.6,207.5 479.6,206.7 481.6,206.0 483.6,205.5" fill="none" stroke="#8d9c9a" stroke-width="0.9" opacity="0.87"/>
<polyline points="449.6,214.0 451.6,215.1 453.6,216.0 455.6,216.8 457.6,217.4 459.6,217.8 461.6,218.2 463.6,218.5 465.6,217.4 467.6,215.9 469.6,214.4 471.6,213.0 473.6,211.8 475.6,210.6 477.6,209.6 479.6,208.8 481.6,208.1 483.6,207.6" fill="none" stroke="#8d9c9a" stroke-width="0.9" opacity="0.82"/>
<polyline points="449.6,216.1 451.6,217.2 453.6,218.1 455.6,218.9 457.6,219.5 459.6,219.9 461.6,220.3 463.6,220.6 465.6,219.5 467.6,218.0 469.6,216.5 471.6,215.1 473.6,213.9 475.6,212.7 477.6,211.7 479.6,210.9 481.6,210.2 483.6,209.7" fill="none" stroke="#8d9c9a" stroke-width="0.9" opacity="0.53"/>
<polyline points="449.6,218.2 451.6,219.3 453.6,220.2 455.6,221.0 457.6,221.6 459.6,222.0 461.6,222.4 463.6,222.7 465.6,221.6 467.6,220.1 469.6,218.6 471.6,217.2 473.6,216.0 475.6,214.8 477.6,213.8 479.6,213.0 481.6,212.3 483.6,211.8" fill="none" stroke="#8d9c9a" stroke-width="0.9" opacity="0.89"/>
<polyline points="449.6,220.3 451.6,221.4 453.6,222.3 455.6,223.1 457.6,223.7 459.6,224.1 461.6,224.5 463.6,224.8 465.6,223.7 467.6,222.2 469.6,220.7 471.6,219.3 473.6,218.1 475.6,216.9 477.6,215.9 479.6,215.1 481.6,214.4 483.6,213.9" fill="none" stroke="#8d9c9a" stroke-width="0.9" opacity="0.56"/>
<polyline points="411.3,229.4 413.3,227.8 415.3,226.3 417.3,224.7 419.3,223.2 421.3,221.8 423.3,220.5 425.3,219.4 427.3,218.6 429.3,219.7 431.3,220.9 433.3,222.3 435.3,223.7 437.3,225.2 439.3,226.8 441.3,228.4 443.3,229.9 445.3,231.4 447.3,232.7" fill="none" stroke="#8d9c9a" stroke-width="0.9" opacity="0.64"/>
<polyline points="411.3,231.5 413.3,229.9 415.3,228.4 417.3,226.8 419.3,225.3 421.3,223.9 423.3,222.6 425.3,221.5 427.3,220.7 429.3,221.8 431.3,223.0 433.3,224.4 435.3,225.8 437.3,227.3 439.3,228.9 441.3,230.5 443.3,232.0 445.3,233.5 447.3,234.8" fill="none" stroke="#8d9c9a" stroke-width="0.9" opacity="0.67"/>
<polyline points="411.3,233.6 413.3,232.0 415.3,230.5 417.3,228.9 419.3,227.4 421.3,226.0 423.3,224.7 425.3,223.6 427.3,222.8 429.3,223.9 431.3,225.1 433.3,226.5 435.3,227.9 437.3,229.4 439.3,231.0 441.3,232.6 443.3,234.1 445.3,235.6 447.3,236.9" fill="none" stroke="#8d9c9a" stroke-width="0.9" opacity="0.81"/>
<polyline points="357.5,241.4 359.5,240.3 361.5,239.8 363.5,240.9 365.5,242.2 367.5,243.7 369.5,245.2 371.5,246.8 373.5,248.4 375.5,250.0 377.5,251.6 379.5,253.1 381.5,254.5 383.5,255.7 385.5,256.8 387.5,257.8 389.5,258.6 391.5,257.7 393.5,256.2 395.5,254.7 397.5,253.1 399.5,251.4 401.5,249.8 403.5,248.3 405.5,246.8 407.5,245.5 409.5,244.3 411.5,243.3 413.5,242.4" fill="none" stroke="#8d9c9a" stroke-width="0.9" opacity="0.86"/>
<polyline points="357.5,243.5 359.5,242.4 361.5,241.9 363.5,243.0 365.5,244.3 367.5,245.8 369.5,247.3 371.5,248.9 373.5,250.5 375.5,252.1 377.5,253.7 379.5,255.2 381.5,256.6 383.5,257.8 385.5,258.9 387.5,259.9 389.5,260.7 391.5,259.8 393.5,258.3 395.5,256.8 397.5,255.2 399.5,253.5 401.5,251.9 403.5,250.4 405.5,248.9 407.5,247.6 409.5,246.4 411.5,245.4 413.5,244.5" fill="none" stroke="#8d9c9a" stroke-width="0.9" opacity="0.90"/>
<polyline points="357.5,245.6 359.5,244.5 361.5,244.0 363.5,245.1 365.5,246.4 367.5,247.9 369.5,249.4 371.5,251.0 373.5,252.6 375.5,254.2 377.5,255.8 379.5,257.3 381.5,258.7 383.5,259.9 385.5,261.0 387.5,262.0 389.5,262.8 391.5,261.9 393.5,260.4 395.5,258.9 397.5,257.3 399.5,255.6 401.5,254.0 403.5,252.5 405.5,251.0 407.5,249.7 409.5,248.5 411.5,247.5 413.5,246.6" fill="none" stroke="#8d9c9a" stroke-width="0.9" opacity="0.72"/>
<polyline points="357.5,247.7 359.5,246.6 361.5,246.1 363.5,247.2 365.5,248.5 367.5,250.0 369.5,251.5 371.5,253.1 373.5,254.7 375.5,256.3 377.5,257.9 379.5,259.4 381.5,260.8 383.5,262.0 385.5,263.1 387.5,264.1 389.5,264.9 391.5,264.0 393.5,262.5 395.5,261.0 397.5,259.4 399.5,257.7 401.5,256.1 403.5,254.6 405.5,253.1 407.5,251.8 409.5,250.6 411.5,249.6 413.5,248.7" fill="none" stroke="#8d9c9a" stroke-width="0.9" opacity="0.56"/>
<polyline points="357.5,249.8 359.5,248.7 361.5,248.2 363.5,249.3 365.5,250.6 367.5,252.1 369.5,253.6 371.5,255.2 373.5,256.8 375.5,258.4 377.5,260.0 379.5,261.5 381.5,262.9 383.5,264.1 385.5,265.2 387.5,266.2 389.5,267.0 391.5,266.1 393.5,264.6 395.5,263.1 397.5,261.5 399.5,259.8 401.5,258.2 403.5,256.7 405.5,255.2 407.5,253.9 409.5,252.7 411.5,251.7 413.5,250.8" fill="none" stroke="#8d9c9a" stroke-width="0.9" opacity="0.69"/>
<polyline points="396.0,288.4 398.0,286.7 400.0,285.0 402.0,283.5 404.0,283.2 406.0,284.2 408.0,285.3 410.0,286.6 412.0,288.0 414.0,289.6 416.0,291.2 418.0,293.0 420.0,294.7 422.0,296.4 424.0,298.1 426.0,299.7 428.0,301.2 430.0,302.5 432.0,303.7 434.0,302.5" fill="none" stroke="#8d9c9a" stroke-width="0.9" opacity="0.69"/>
<polyline points="396.0,290.5 398.0,288.8 400.0,287.1 402.0,285.6 404.0,285.3 406.0,286.3 408.0,287.4 410.0,288.7 412.0,290.1 414.0,291.7 416.0,293.3 418.0,295.1 420.0,296.8 422.0,298.5 424.0,300.2 426.0,301.8 428.0,303.3 430.0,304.6 432.0,305.8 434.0,304.6" fill="none" stroke="#8d9c9a" stroke-width="0.9" opacity="0.78"/>
<polyline points="396.0,292.6 398.0,290.9 400.0,289.2 402.0,287.7 404.0,287.4 406.0,288.4 408.0,289.5 410.0,290.8 412.0,292.2 414.0,293.8 416.0,295.4 418.0,297.2 420.0,298.9 422.0,300.6 424.0,302.3 426.0,303.9 428.0,305.4 430.0,306.7 432.0,307.9 434.0,306.7" fill="none" stroke="#8d9c9a" stroke-width="0.9" opacity="0.82"/>
<polyline points="396.0,294.7 398.0,293.0 400.0,291.3 402.0,289.8 404.0,289.5 406.0,290.5 408.0,291.6 410.0,292.9 412.0,294.3 414.0,295.9 416.0,297.5 418.0,299.3 420.0,301.0 422.0,302.7 424.0,304.4 426.0,306.0 428.0,307.5 430.0,308.8 432.0,310.0 434.0,308.8" fill="none" stroke="#8d9c9a" stroke-width="0.9" opacity="0.89"/>
<polyline points="173.1,266.9 175.1,266.4 177.1,265.8 179.1,265.2 181.1,266.5 183.1,267.7 185.1,268.7 187.1,269.5 189.1,270.2 191.1,270.8 193.1,271.3 195.1,271.8 197.1,272.2 199.1,272.7 201.1,273.2 203.1,273.8 205.1,274.6 207.1,275.4 209.1,275.3 211.1,274.4 213.1,273.6 215.1,273.0 217.1,272.4" fill="none" stroke="#8d9c9a" stroke-width="0.9" opacity="0.58"/>
<polyline points="173.1,269.0 175.1,268.5 177.1,267.9 179.1,267.3 181.1,268.6 183.1,269.8 185.1,270.8 187.1,271.6 189.1,272.3 191.1,272.9 193.1,273.4 195.1,273.9 197.1,274.3 199.1,274.8 201.1,275.3 203.1,275.9 205.1,276.7 207.1,277.5 209.1,277.4 211.1,276.5 213.1,275.7 215.1,275.1 217.1,274.5" fill="none" stroke="#8d9c9a" stroke-width="0.9" opacity="0.61"/>
<polyline points="173.1,271.1 175.1,270.6 177.1,270.0 179.1,269.4 181.1,270.7 183.1,271.9 185.1,272.9 187.1,273.7 189.1,274.4 191.1,275.0 193.1,275.5 195.1,276.0 197.1,276.4 199.1,276.9 201.1,277.4 203.1,278.0 205.1,278.8 207.1,279.6 209.1,279.5 211.1,278.6 213.1,277.8 215.1,277.2 217.1,276.6" fill="none" stroke="#8d9c9a" stroke-width="0.9" opacity="0.65"/>
<polyline points="173.1,273.2 175.1,272.7 177.1,272.1 179.1,271.5 181.1,272.8 183.1,274.0 185.1,275.0 187.1,275.8 189.1,276.5 191.1,277.1 193.1,277.6 195.1,278.1 197.1,278.5 199.1,279.0 201.1,279.5 203.1,280.1 205.1,280.9 207.1,281.7 209.1,281.6 211.1,280.7 213.1,279.9 215.1,279.3 217.1,278.7" fill="none" stroke="#8d9c9a" stroke-width="0.9" opacity="0.54"/>
<polyline points="375.5,334.5 377.5,333.9 379.5,333.2 381.5,332.6 383.5,332.0 385.5,331.3 387.5,331.2 389.5,332.7 391.5,334.2 393.5,335.5 395.5,336.6 397.5,337.6 399.5,338.4 401.5,339.2 403.5,339.8 405.5,340.5 407.5,341.1 409.5,341.7 411.5,342.4 413.5,343.2 415.5,344.1" fill="none" stroke="#8d9c9a" stroke-width="0.9" opacity="0.76"/>
<polyline points="375.5,336.6 377.5,336.0 379.5,335.3 381.5,334.7 383.5,334.1 385.5,333.4 387.5,333.3 389.5,334.8 391.5,336.3 393.5,337.6 395.5,338.7 397.5,339.7 399.5,340.5 401.5,341.3 403.5,341.9 405.5,342.6 407.5,343.2 409.5,343.8 411.5,344.5 413.5,345.3 415.5,346.2" fill="none" stroke="#8d9c9a" stroke-width="0.9" opacity="0.80"/>
<polyline points="375.5,338.7 377.5,338.1 379.5,337.4 381.5,336.8 383.5,336.2 385.5,335.5 387.5,335.4 389.5,336.9 391.5,338.4 393.5,339.7 395.5,340.8 397.5,341.8 399.5,342.6 401.5,343.4 403.5,344.0 405.5,344.7 407.5,345.3 409.5,345.9 411.5,346.6 413.5,347.4 415.5,348.3" fill="none" stroke="#8d9c9a" stroke-width="0.9" opacity="0.73"/>
<polyline points="118.8,366.6 120.8,365.3 122.8,364.2 124.8,363.2 126.8,362.3 128.8,361.5 130.8,360.9 132.8,360.2 134.8,359.5 136.8,358.8 138.8,358.0 140.8,357.1 142.8,356.1 144.8,354.9 146.8,353.6 148.8,354.4 150.8,355.3 152.8,356.2 154.8,356.9 156.8,357.6 158.8,358.2 160.8,358.9 162.8,359.6 164.8,360.5 166.8,361.4 168.8,362.5" fill="none" stroke="#8d9c9a" stroke-width="0.9" opacity="0.78"/>
<polyline points="118.8,368.7 120.8,367.4 122.8,366.3 124.8,365.3 126.8,364.4 128.8,363.6 130.8,363.0 132.8,362.3 134.8,361.6 136.8,360.9 138.8,360.1 140.8,359.2 142.8,358.2 144.8,357.0 146.8,355.7 148.8,356.5 150.8,357.4 152.8,358.3 154.8,359.0 156.8,359.7 158.8,360.3 160.8,361.0 162.8,361.7 164.8,362.6 166.8,363.5 168.8,364.6" fill="none" stroke="#8d9c9a" stroke-width="0.9" opacity="0.61"/>
<polyline points="118.8,370.8 120.8,369.5 122.8,368.4 124.8,367.4 126.8,366.5 128.8,365.7 130.8,365.1 132.8,364.4 134.8,363.7 136.8,363.0 138.8,362.2 140.8,361.3 142.8,360.3 144.8,359.1 146.8,357.8 148.8,358.6 150.8,359.5 152.8,360.4 154.8,361.1 156.8,361.8 158.8,362.4 160.8,363.1 162.8,363.8 164.8,364.7 166.8,365.6 168.8,366.7" fill="none" stroke="#8d9c9a" stroke-width="0.9" opacity="0.82"/>
<polyline points="290.4,343.1 292.4,344.5 294.4,345.9 296.4,347.0 298.4,348.0 300.4,348.4 302.4,346.7 304.4,344.9 306.4,343.1 308.4,341.2 310.4,339.4 312.4,337.6 314.4,336.0 316.4,334.4 318.4,333.0 320.4,331.8 322.4,330.7 324.4,329.8 326.4,329.0 328.4,328.2" fill="none" stroke="#8d9c9a" stroke-width="0.9" opacity="0.61"/>
<polyline points="290.4,345.2 292.4,346.6 294.4,348.0 296.4,349.1 298.4,350.1 300.4,350.5 302.4,348.8 304.4,347.0 306.4,345.2 308.4,343.3 310.4,341.5 312.4,339.7 314.4,338.1 316.4,336.5 318.4,335.1 320.4,333.9 322.4,332.8 324.4,331.9 326.4,331.1 328.4,330.3" fill="none" stroke="#8d9c9a" stroke-width="0.9" opacity="0.77"/>
<polyline points="290.4,347.3 292.4,348.7 294.4,350.1 296.4,351.2 298.4,352.2 300.4,352.6 302.4,350.9 304.4,349.1 306.4,347.3 308.4,345.4 310.4,343.6 312.4,341.8 314.4,340.2 316.4,338.6 318.4,337.2 320.4,336.0 322.4,334.9 324.4,334.0 326.4,333.2 328.4,332.4" fill="none" stroke="#8d9c9a" stroke-width="0.9" opacity="0.61"/>
<polyline points="290.4,349.4 292.4,350.8 294.4,352.2 296.4,353.3 298.4,354.3 300.4,354.7 302.4,353.0 304.4,351.2 306.4,349.4 308.4,347.5 310.4,345.7 312.4,343.9 314.4,342.3 316.4,340.7 318.4,339.3 320.4,338.1 322.4,337.0 324.4,336.1 326.4,335.3 328.4,334.5" fill="none" stroke="#8d9c9a" stroke-width="0.9" opacity="0.53"/>
<polyline points="290.4,351.5 292.4,352.9 294.4,354.3 296.4,355.4 298.4,356.4 300.4,356.8 302.4,355.1 304.4,353.3 306.4,351.5 308.4,349.6 310.4,347.8 312.4,346.0 314.4,344.4 316.4,342.8 318.4,341.4 320.4,340.2 322.4,339.1 324.4,338.2 326.4,337.4 328.4,336.6" fill="none" stroke="#8d9c9a" stroke-width="0.9" opacity="0.81"/></g>
<path d="M189.5,209.5 L52.5,350.5" fill="none" stroke="#d5d9dc" stroke-width="3"/>
<path d="M190,208.8 L488,208.6" fill="none" stroke="#d3d8dc" stroke-width="2"/>
<path d="M52.5,351 Q53,360.8 62,360.8 L490,361.6" fill="none" stroke="#cdd1d4" stroke-width="3.5"/>
<line x1="488.6" y1="208" x2="490" y2="360" stroke="#d9dee1" stroke-width="1.2"/>
<rect x="130.5" y="363.5" width="22.5" height="15" fill="#5b6fcf"/>
<rect x="133.5" y="369.5" width="16.5" height="4.5" fill="#e9ecf7"/>
<rect x="135" y="371" width="13.5" height="1.5" fill="#4a4f66"/>
<polyline points="63.3,180.8 166.7,180.8 211,225" fill="none" stroke="#878d91" stroke-width="1.6"/>
<circle cx="211" cy="225" r="3.3" fill="#959ca0" stroke="#6f7477" stroke-width="0.7" stroke-opacity="0.5"/>
<polyline points="232.6,144.2 467,144.2 505,220" fill="none" stroke="#878d91" stroke-width="1.6"/>
<line x1="505" y1="220" x2="542" y2="294.5" stroke="#a9bcae" stroke-width="1" opacity="0.15"/>
<circle cx="542" cy="294.5" r="2.6" fill="#a3b6b6" opacity="0.8"/>
<polyline points="371,74 488,74 568.8,227.7" fill="none" stroke="#878d91" stroke-width="1.6"/>
<line x1="568.8" y1="227.7" x2="599.8" y2="286.6" stroke="#e6e4e0" stroke-width="1.5" opacity="0.75"/>
<circle cx="599.8" cy="286.6" r="3.3" fill="#c7cccb" stroke="#6f7477" stroke-width="0.7" stroke-opacity="0.5"/>
<polyline points="875.5,119 754.4,119 650,248" fill="none" stroke="#878d91" stroke-width="1.6"/>
<line x1="650" y1="248" x2="628.7" y2="275.4" stroke="#e6e4e0" stroke-width="1.5" opacity="0.75"/>
<circle cx="628.7" cy="275.4" r="3.3" fill="#c7cccb" stroke="#6f7477" stroke-width="0.7" stroke-opacity="0.5"/>
<polyline points="951.4,190.7 786,190.7 700,310" fill="none" stroke="#878d91" stroke-width="1.6"/>
<circle cx="700" cy="310" r="3.3" fill="#8e9598" stroke="#6f7477" stroke-width="0.7" stroke-opacity="0.5"/>
<polyline points="342.4,605.7 513.4,605.7 589,492" fill="none" stroke="#878d91" stroke-width="1.6"/>
<line x1="589" y1="492" x2="610.5" y2="459.7" stroke="#e6e4e0" stroke-width="1.5" opacity="0.75"/>
<circle cx="610.5" cy="459.7" r="3.3" fill="#c7cccb" stroke="#6f7477" stroke-width="0.7" stroke-opacity="0.5"/>
<polyline points="584.3,576 715.2,576 762.1,513" fill="none" stroke="#878d91" stroke-width="1.6"/>
<line x1="762.1" y1="513" x2="790.7" y2="474.6" stroke="#e6e4e0" stroke-width="1.5" opacity="0.75"/>
<circle cx="790.7" cy="474.6" r="3.3" fill="#c7cccb" stroke="#6f7477" stroke-width="0.7" stroke-opacity="0.5"/>
<polyline points="614.6,615.1 744,615.1 822.5,513" fill="none" stroke="#878d91" stroke-width="1.6"/>
<line x1="822.5" y1="513" x2="837.7" y2="493.2" stroke="#e6e4e0" stroke-width="1.5" opacity="0.75"/>
<circle cx="837.7" cy="493.2" r="3.3" fill="#c7cccb" stroke="#6f7477" stroke-width="0.7" stroke-opacity="0.5"/>
<polyline points="522.2,681.4 762.8,681.4 886.7,513" fill="none" stroke="#878d91" stroke-width="1.6"/>
<line x1="886.7" y1="513" x2="893" y2="504.4" stroke="#e6e4e0" stroke-width="1.5" opacity="0.75"/>
<text x="379.8" y="66.6" textLength="103.27" lengthAdjust="spacingAndGlyphs" font-family='"Liberation Sans", sans-serif' font-size="20" fill="#141414">Кокос 2 см</text>
<text x="238.0" y="110" textLength="224.04" lengthAdjust="spacingAndGlyphs" font-family='"Liberation Sans", sans-serif' font-size="20" fill="#141414">Ортофом повышенной</text>
<text x="237.8" y="132" textLength="141.22" lengthAdjust="spacingAndGlyphs" font-family='"Liberation Sans", sans-serif' font-size="20" fill="#141414">жесткости 1 см</text>
<text x="759.2" y="86" textLength="106.68" lengthAdjust="spacingAndGlyphs" font-family='"Liberation Sans", sans-serif' font-size="20" fill="#141414">Объемный</text>
<text x="760.4" y="108.1" textLength="108.86" lengthAdjust="spacingAndGlyphs" font-family='"Liberation Sans", sans-serif' font-size="20" fill="#141414">войлок 1 см</text>
<text x="792.6" y="183.7" textLength="141.67" lengthAdjust="spacingAndGlyphs" font-family='"Liberation Sans", sans-serif' font-size="20" fill="#141414">EVS1000 14 см</text>
<text x="65.0" y="175.3" textLength="92.81" lengthAdjust="spacingAndGlyphs" font-family='"Liberation Sans", sans-serif' font-size="20" fill="#141414">Трикотаж</text>
<text x="340.0" y="599.7" textLength="159.06" lengthAdjust="spacingAndGlyphs" font-family='"Liberation Sans", sans-serif' font-size="20" fill="#141414">Короб Ортофом</text>
<text x="591.4" y="548" textLength="104.44" lengthAdjust="spacingAndGlyphs" font-family='"Liberation Sans", sans-serif' font-size="20" fill="#141414">Объемный</text>
<text x="591.0" y="568.9" textLength="109.27" lengthAdjust="spacingAndGlyphs" font-family='"Liberation Sans", sans-serif' font-size="20" fill="#141414">войлок 1 см</text>
<text x="623.4" y="610.5" textLength="101.1" lengthAdjust="spacingAndGlyphs" font-family='"Liberation Sans", sans-serif' font-size="20" fill="#141414">Кокос 2 см</text>
<text x="528.0" y="651" textLength="223.22" lengthAdjust="spacingAndGlyphs" font-family='"Liberation Sans", sans-serif' font-size="20" fill="#141414">Ортофом повышенной</text>
<text x="527.8" y="672.5" textLength="141.83" lengthAdjust="spacingAndGlyphs" font-family='"Liberation Sans", sans-serif' font-size="20" fill="#141414">жесткости 1 см</text></svg>
</body></html>
